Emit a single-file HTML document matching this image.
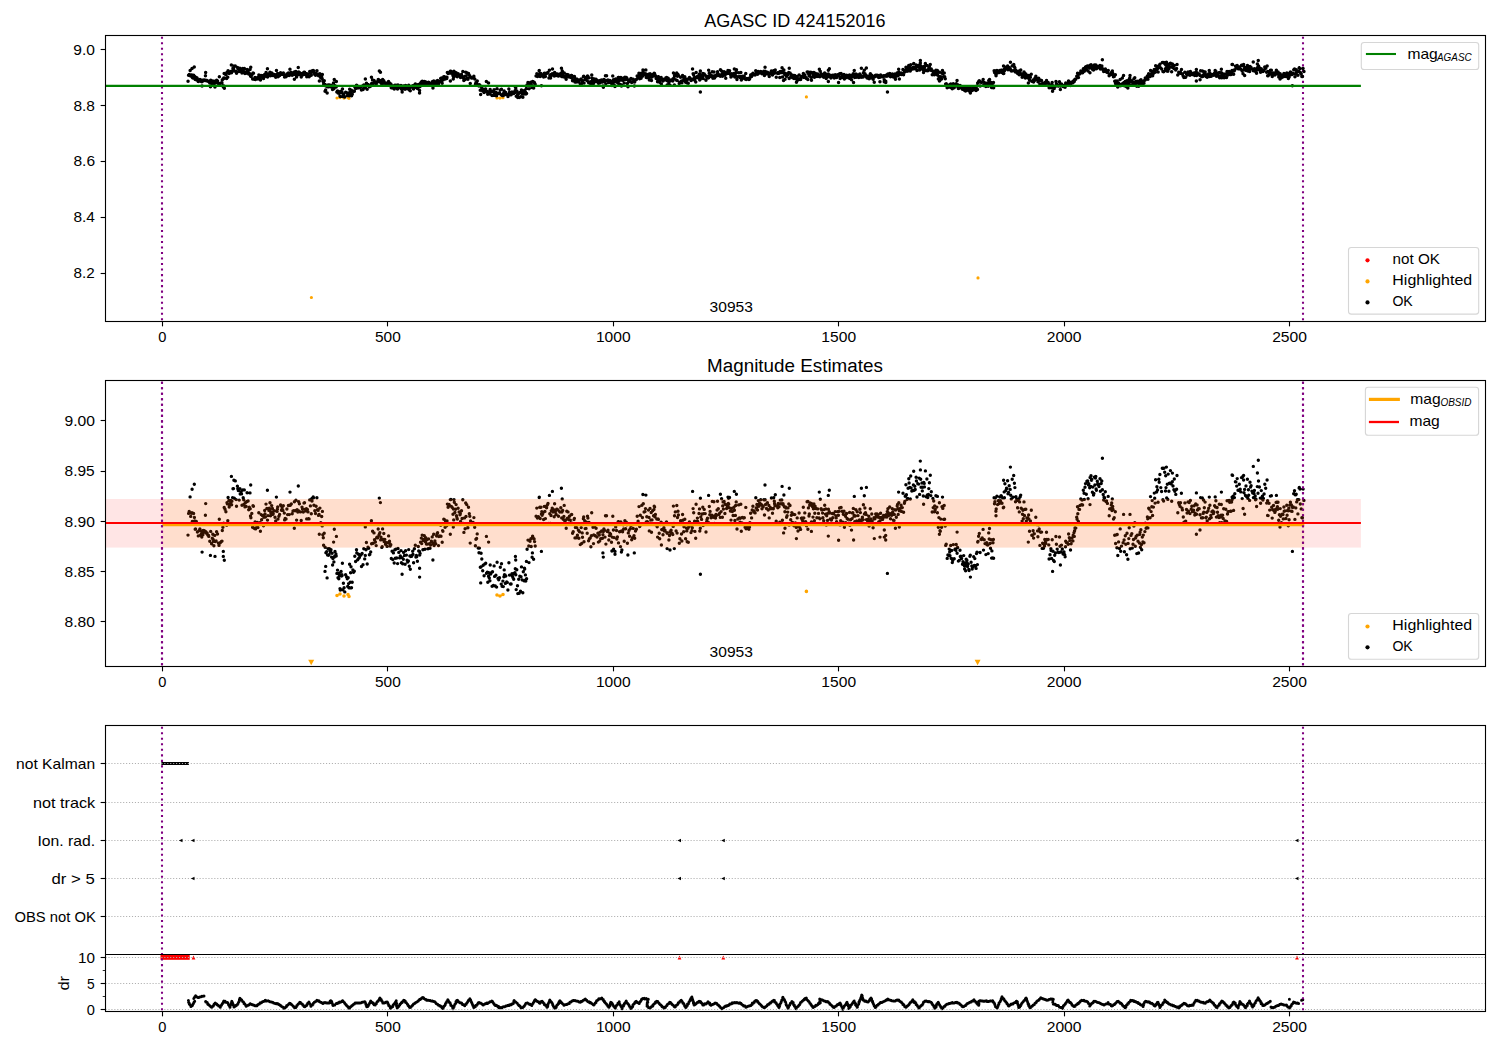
<!DOCTYPE html>
<html><head><meta charset="utf-8"><style>
html,body{margin:0;padding:0;background:#fff;}
svg{display:block;font-family:"Liberation Sans",sans-serif;}
</style></head><body>
<svg width="1500" height="1050" viewBox="0 0 1500 1050">
<rect width="1500" height="1050" fill="#fff"/>
<defs>
<clipPath id="c1"><rect x="105.5" y="35.5" width="1380.0" height="286.0"/></clipPath>
<clipPath id="c2"><rect x="105.5" y="380.5" width="1380.0" height="286.0"/></clipPath>
<clipPath id="c3"><rect x="105.5" y="725.5" width="1380.0" height="229.0"/></clipPath>
<clipPath id="c4"><rect x="105.5" y="954.5" width="1380.0" height="57.0"/></clipPath>
</defs>
<line x1="162.00" y1="36.70" x2="162.00" y2="321.50" stroke="#800080" stroke-width="2.08" stroke-dasharray="2.08 3.44"/>
<line x1="1303.00" y1="36.70" x2="1303.00" y2="321.50" stroke="#800080" stroke-width="2.08" stroke-dasharray="2.08 3.44"/>
<path d="M335.4 98.0a1.6 1.6 0 1 0 3.2 0a1.6 1.6 0 1 0 -3.2 0M338.4 97.6a1.6 1.6 0 1 0 3.2 0a1.6 1.6 0 1 0 -3.2 0M342.4 98.1a1.6 1.6 0 1 0 3.2 0a1.6 1.6 0 1 0 -3.2 0M346.4 97.7a1.6 1.6 0 1 0 3.2 0a1.6 1.6 0 1 0 -3.2 0M347.4 98.3a1.6 1.6 0 1 0 3.2 0a1.6 1.6 0 1 0 -3.2 0M495.4 97.9a1.6 1.6 0 1 0 3.2 0a1.6 1.6 0 1 0 -3.2 0M498.4 98.1a1.6 1.6 0 1 0 3.2 0a1.6 1.6 0 1 0 -3.2 0M501.4 97.7a1.6 1.6 0 1 0 3.2 0a1.6 1.6 0 1 0 -3.2 0M804.8 96.9a1.6 1.6 0 1 0 3.2 0a1.6 1.6 0 1 0 -3.2 0M309.8 297.5a1.6 1.6 0 1 0 3.2 0a1.6 1.6 0 1 0 -3.2 0M976.4 277.9a1.6 1.6 0 1 0 3.2 0a1.6 1.6 0 1 0 -3.2 0" fill="#ffa500" clip-path="url(#c1)"/>
<path d="M186.3 81.2a1.75 1.75 0 1 0 3.5 0a1.75 1.75 0 1 0 -3.5 0M186.8 75.2a1.75 1.75 0 1 0 3.5 0a1.75 1.75 0 1 0 -3.5 0M187.5 74.6a1.75 1.75 0 1 0 3.5 0a1.75 1.75 0 1 0 -3.5 0M188.4 70.6a1.75 1.75 0 1 0 3.5 0a1.75 1.75 0 1 0 -3.5 0M188.9 76.0a1.75 1.75 0 1 0 3.5 0a1.75 1.75 0 1 0 -3.5 0M189.5 75.1a1.75 1.75 0 1 0 3.5 0a1.75 1.75 0 1 0 -3.5 0M190.2 75.0a1.75 1.75 0 1 0 3.5 0a1.75 1.75 0 1 0 -3.5 0M190.6 77.4a1.75 1.75 0 1 0 3.5 0a1.75 1.75 0 1 0 -3.5 0M191.2 78.0a1.75 1.75 0 1 0 3.5 0a1.75 1.75 0 1 0 -3.5 0M191.9 75.2a1.75 1.75 0 1 0 3.5 0a1.75 1.75 0 1 0 -3.5 0M192.7 76.3a1.75 1.75 0 1 0 3.5 0a1.75 1.75 0 1 0 -3.5 0M193.0 77.3a1.75 1.75 0 1 0 3.5 0a1.75 1.75 0 1 0 -3.5 0M193.5 79.6a1.75 1.75 0 1 0 3.5 0a1.75 1.75 0 1 0 -3.5 0M193.8 79.5a1.75 1.75 0 1 0 3.5 0a1.75 1.75 0 1 0 -3.5 0M194.6 77.4a1.75 1.75 0 1 0 3.5 0a1.75 1.75 0 1 0 -3.5 0M195.3 78.0a1.75 1.75 0 1 0 3.5 0a1.75 1.75 0 1 0 -3.5 0M195.6 80.3a1.75 1.75 0 1 0 3.5 0a1.75 1.75 0 1 0 -3.5 0M196.5 81.4a1.75 1.75 0 1 0 3.5 0a1.75 1.75 0 1 0 -3.5 0M197.5 79.9a1.75 1.75 0 1 0 3.5 0a1.75 1.75 0 1 0 -3.5 0M198.2 79.5a1.75 1.75 0 1 0 3.5 0a1.75 1.75 0 1 0 -3.5 0M198.9 81.2a1.75 1.75 0 1 0 3.5 0a1.75 1.75 0 1 0 -3.5 0M199.2 80.1a1.75 1.75 0 1 0 3.5 0a1.75 1.75 0 1 0 -3.5 0M199.5 81.0a1.75 1.75 0 1 0 3.5 0a1.75 1.75 0 1 0 -3.5 0M200.1 81.7a1.75 1.75 0 1 0 3.5 0a1.75 1.75 0 1 0 -3.5 0M200.4 81.0a1.75 1.75 0 1 0 3.5 0a1.75 1.75 0 1 0 -3.5 0M200.8 80.5a1.75 1.75 0 1 0 3.5 0a1.75 1.75 0 1 0 -3.5 0M201.2 81.1a1.75 1.75 0 1 0 3.5 0a1.75 1.75 0 1 0 -3.5 0M201.5 79.9a1.75 1.75 0 1 0 3.5 0a1.75 1.75 0 1 0 -3.5 0M202.0 80.3a1.75 1.75 0 1 0 3.5 0a1.75 1.75 0 1 0 -3.5 0M202.6 80.0a1.75 1.75 0 1 0 3.5 0a1.75 1.75 0 1 0 -3.5 0M203.4 80.4a1.75 1.75 0 1 0 3.5 0a1.75 1.75 0 1 0 -3.5 0M204.0 80.2a1.75 1.75 0 1 0 3.5 0a1.75 1.75 0 1 0 -3.5 0M204.7 80.7a1.75 1.75 0 1 0 3.5 0a1.75 1.75 0 1 0 -3.5 0M205.3 80.6a1.75 1.75 0 1 0 3.5 0a1.75 1.75 0 1 0 -3.5 0M206.1 81.2a1.75 1.75 0 1 0 3.5 0a1.75 1.75 0 1 0 -3.5 0M206.6 81.3a1.75 1.75 0 1 0 3.5 0a1.75 1.75 0 1 0 -3.5 0M207.1 81.6a1.75 1.75 0 1 0 3.5 0a1.75 1.75 0 1 0 -3.5 0M208.0 82.9a1.75 1.75 0 1 0 3.5 0a1.75 1.75 0 1 0 -3.5 0M209.0 80.2a1.75 1.75 0 1 0 3.5 0a1.75 1.75 0 1 0 -3.5 0M209.8 83.6a1.75 1.75 0 1 0 3.5 0a1.75 1.75 0 1 0 -3.5 0M210.6 82.1a1.75 1.75 0 1 0 3.5 0a1.75 1.75 0 1 0 -3.5 0M211.0 81.0a1.75 1.75 0 1 0 3.5 0a1.75 1.75 0 1 0 -3.5 0M211.4 82.4a1.75 1.75 0 1 0 3.5 0a1.75 1.75 0 1 0 -3.5 0M211.9 82.9a1.75 1.75 0 1 0 3.5 0a1.75 1.75 0 1 0 -3.5 0M212.2 84.2a1.75 1.75 0 1 0 3.5 0a1.75 1.75 0 1 0 -3.5 0M213.0 81.3a1.75 1.75 0 1 0 3.5 0a1.75 1.75 0 1 0 -3.5 0M213.5 83.0a1.75 1.75 0 1 0 3.5 0a1.75 1.75 0 1 0 -3.5 0M214.3 82.8a1.75 1.75 0 1 0 3.5 0a1.75 1.75 0 1 0 -3.5 0M214.9 80.3a1.75 1.75 0 1 0 3.5 0a1.75 1.75 0 1 0 -3.5 0M215.8 80.9a1.75 1.75 0 1 0 3.5 0a1.75 1.75 0 1 0 -3.5 0M216.6 83.4a1.75 1.75 0 1 0 3.5 0a1.75 1.75 0 1 0 -3.5 0M216.9 83.6a1.75 1.75 0 1 0 3.5 0a1.75 1.75 0 1 0 -3.5 0M217.3 84.1a1.75 1.75 0 1 0 3.5 0a1.75 1.75 0 1 0 -3.5 0M218.2 83.4a1.75 1.75 0 1 0 3.5 0a1.75 1.75 0 1 0 -3.5 0M218.7 83.3a1.75 1.75 0 1 0 3.5 0a1.75 1.75 0 1 0 -3.5 0M219.7 83.0a1.75 1.75 0 1 0 3.5 0a1.75 1.75 0 1 0 -3.5 0M220.2 82.9a1.75 1.75 0 1 0 3.5 0a1.75 1.75 0 1 0 -3.5 0M220.5 79.9a1.75 1.75 0 1 0 3.5 0a1.75 1.75 0 1 0 -3.5 0M221.2 79.0a1.75 1.75 0 1 0 3.5 0a1.75 1.75 0 1 0 -3.5 0M222.0 77.9a1.75 1.75 0 1 0 3.5 0a1.75 1.75 0 1 0 -3.5 0M222.4 73.5a1.75 1.75 0 1 0 3.5 0a1.75 1.75 0 1 0 -3.5 0M222.7 78.2a1.75 1.75 0 1 0 3.5 0a1.75 1.75 0 1 0 -3.5 0M223.2 74.0a1.75 1.75 0 1 0 3.5 0a1.75 1.75 0 1 0 -3.5 0M224.2 74.7a1.75 1.75 0 1 0 3.5 0a1.75 1.75 0 1 0 -3.5 0M224.9 78.5a1.75 1.75 0 1 0 3.5 0a1.75 1.75 0 1 0 -3.5 0M225.3 72.2a1.75 1.75 0 1 0 3.5 0a1.75 1.75 0 1 0 -3.5 0M225.7 72.5a1.75 1.75 0 1 0 3.5 0a1.75 1.75 0 1 0 -3.5 0M226.0 77.2a1.75 1.75 0 1 0 3.5 0a1.75 1.75 0 1 0 -3.5 0M226.3 70.7a1.75 1.75 0 1 0 3.5 0a1.75 1.75 0 1 0 -3.5 0M227.1 71.6a1.75 1.75 0 1 0 3.5 0a1.75 1.75 0 1 0 -3.5 0M227.5 73.4a1.75 1.75 0 1 0 3.5 0a1.75 1.75 0 1 0 -3.5 0M228.1 72.6a1.75 1.75 0 1 0 3.5 0a1.75 1.75 0 1 0 -3.5 0M228.7 72.4a1.75 1.75 0 1 0 3.5 0a1.75 1.75 0 1 0 -3.5 0M229.1 71.5a1.75 1.75 0 1 0 3.5 0a1.75 1.75 0 1 0 -3.5 0M229.8 72.7a1.75 1.75 0 1 0 3.5 0a1.75 1.75 0 1 0 -3.5 0M230.2 71.8a1.75 1.75 0 1 0 3.5 0a1.75 1.75 0 1 0 -3.5 0M230.9 70.8a1.75 1.75 0 1 0 3.5 0a1.75 1.75 0 1 0 -3.5 0M231.2 68.3a1.75 1.75 0 1 0 3.5 0a1.75 1.75 0 1 0 -3.5 0M231.8 68.3a1.75 1.75 0 1 0 3.5 0a1.75 1.75 0 1 0 -3.5 0M232.2 66.0a1.75 1.75 0 1 0 3.5 0a1.75 1.75 0 1 0 -3.5 0M232.6 70.9a1.75 1.75 0 1 0 3.5 0a1.75 1.75 0 1 0 -3.5 0M233.5 66.1a1.75 1.75 0 1 0 3.5 0a1.75 1.75 0 1 0 -3.5 0M234.3 71.3a1.75 1.75 0 1 0 3.5 0a1.75 1.75 0 1 0 -3.5 0M234.8 73.2a1.75 1.75 0 1 0 3.5 0a1.75 1.75 0 1 0 -3.5 0M235.7 67.6a1.75 1.75 0 1 0 3.5 0a1.75 1.75 0 1 0 -3.5 0M236.1 68.3a1.75 1.75 0 1 0 3.5 0a1.75 1.75 0 1 0 -3.5 0M236.6 68.8a1.75 1.75 0 1 0 3.5 0a1.75 1.75 0 1 0 -3.5 0M237.4 71.5a1.75 1.75 0 1 0 3.5 0a1.75 1.75 0 1 0 -3.5 0M238.1 68.3a1.75 1.75 0 1 0 3.5 0a1.75 1.75 0 1 0 -3.5 0M238.5 69.8a1.75 1.75 0 1 0 3.5 0a1.75 1.75 0 1 0 -3.5 0M239.4 69.1a1.75 1.75 0 1 0 3.5 0a1.75 1.75 0 1 0 -3.5 0M239.8 69.7a1.75 1.75 0 1 0 3.5 0a1.75 1.75 0 1 0 -3.5 0M240.2 72.9a1.75 1.75 0 1 0 3.5 0a1.75 1.75 0 1 0 -3.5 0M241.0 68.6a1.75 1.75 0 1 0 3.5 0a1.75 1.75 0 1 0 -3.5 0M241.5 70.8a1.75 1.75 0 1 0 3.5 0a1.75 1.75 0 1 0 -3.5 0M242.0 71.4a1.75 1.75 0 1 0 3.5 0a1.75 1.75 0 1 0 -3.5 0M242.3 72.6a1.75 1.75 0 1 0 3.5 0a1.75 1.75 0 1 0 -3.5 0M242.6 68.6a1.75 1.75 0 1 0 3.5 0a1.75 1.75 0 1 0 -3.5 0M243.2 73.4a1.75 1.75 0 1 0 3.5 0a1.75 1.75 0 1 0 -3.5 0M243.6 72.2a1.75 1.75 0 1 0 3.5 0a1.75 1.75 0 1 0 -3.5 0M244.3 73.2a1.75 1.75 0 1 0 3.5 0a1.75 1.75 0 1 0 -3.5 0M244.8 71.9a1.75 1.75 0 1 0 3.5 0a1.75 1.75 0 1 0 -3.5 0M245.4 69.4a1.75 1.75 0 1 0 3.5 0a1.75 1.75 0 1 0 -3.5 0M246.3 71.7a1.75 1.75 0 1 0 3.5 0a1.75 1.75 0 1 0 -3.5 0M246.9 74.1a1.75 1.75 0 1 0 3.5 0a1.75 1.75 0 1 0 -3.5 0M247.6 73.5a1.75 1.75 0 1 0 3.5 0a1.75 1.75 0 1 0 -3.5 0M248.4 73.9a1.75 1.75 0 1 0 3.5 0a1.75 1.75 0 1 0 -3.5 0M248.8 75.9a1.75 1.75 0 1 0 3.5 0a1.75 1.75 0 1 0 -3.5 0M249.2 76.4a1.75 1.75 0 1 0 3.5 0a1.75 1.75 0 1 0 -3.5 0M250.0 75.2a1.75 1.75 0 1 0 3.5 0a1.75 1.75 0 1 0 -3.5 0M250.9 79.0a1.75 1.75 0 1 0 3.5 0a1.75 1.75 0 1 0 -3.5 0M251.3 73.1a1.75 1.75 0 1 0 3.5 0a1.75 1.75 0 1 0 -3.5 0M251.7 73.2a1.75 1.75 0 1 0 3.5 0a1.75 1.75 0 1 0 -3.5 0M252.4 79.3a1.75 1.75 0 1 0 3.5 0a1.75 1.75 0 1 0 -3.5 0M253.3 77.6a1.75 1.75 0 1 0 3.5 0a1.75 1.75 0 1 0 -3.5 0M253.7 79.5a1.75 1.75 0 1 0 3.5 0a1.75 1.75 0 1 0 -3.5 0M254.6 79.1a1.75 1.75 0 1 0 3.5 0a1.75 1.75 0 1 0 -3.5 0M255.5 77.7a1.75 1.75 0 1 0 3.5 0a1.75 1.75 0 1 0 -3.5 0M256.2 79.1a1.75 1.75 0 1 0 3.5 0a1.75 1.75 0 1 0 -3.5 0M256.7 78.0a1.75 1.75 0 1 0 3.5 0a1.75 1.75 0 1 0 -3.5 0M257.1 75.0a1.75 1.75 0 1 0 3.5 0a1.75 1.75 0 1 0 -3.5 0M257.3 78.0a1.75 1.75 0 1 0 3.5 0a1.75 1.75 0 1 0 -3.5 0M258.3 77.8a1.75 1.75 0 1 0 3.5 0a1.75 1.75 0 1 0 -3.5 0M258.7 80.1a1.75 1.75 0 1 0 3.5 0a1.75 1.75 0 1 0 -3.5 0M259.4 75.5a1.75 1.75 0 1 0 3.5 0a1.75 1.75 0 1 0 -3.5 0M259.8 76.9a1.75 1.75 0 1 0 3.5 0a1.75 1.75 0 1 0 -3.5 0M260.7 75.8a1.75 1.75 0 1 0 3.5 0a1.75 1.75 0 1 0 -3.5 0M261.3 75.8a1.75 1.75 0 1 0 3.5 0a1.75 1.75 0 1 0 -3.5 0M261.8 78.6a1.75 1.75 0 1 0 3.5 0a1.75 1.75 0 1 0 -3.5 0M262.2 76.2a1.75 1.75 0 1 0 3.5 0a1.75 1.75 0 1 0 -3.5 0M262.9 74.4a1.75 1.75 0 1 0 3.5 0a1.75 1.75 0 1 0 -3.5 0M263.2 75.3a1.75 1.75 0 1 0 3.5 0a1.75 1.75 0 1 0 -3.5 0M263.6 76.2a1.75 1.75 0 1 0 3.5 0a1.75 1.75 0 1 0 -3.5 0M264.3 72.6a1.75 1.75 0 1 0 3.5 0a1.75 1.75 0 1 0 -3.5 0M265.1 73.8a1.75 1.75 0 1 0 3.5 0a1.75 1.75 0 1 0 -3.5 0M265.8 77.0a1.75 1.75 0 1 0 3.5 0a1.75 1.75 0 1 0 -3.5 0M266.2 75.8a1.75 1.75 0 1 0 3.5 0a1.75 1.75 0 1 0 -3.5 0M267.1 74.3a1.75 1.75 0 1 0 3.5 0a1.75 1.75 0 1 0 -3.5 0M267.5 73.7a1.75 1.75 0 1 0 3.5 0a1.75 1.75 0 1 0 -3.5 0M267.8 74.2a1.75 1.75 0 1 0 3.5 0a1.75 1.75 0 1 0 -3.5 0M268.2 72.2a1.75 1.75 0 1 0 3.5 0a1.75 1.75 0 1 0 -3.5 0M268.8 75.8a1.75 1.75 0 1 0 3.5 0a1.75 1.75 0 1 0 -3.5 0M269.1 75.0a1.75 1.75 0 1 0 3.5 0a1.75 1.75 0 1 0 -3.5 0M269.5 74.7a1.75 1.75 0 1 0 3.5 0a1.75 1.75 0 1 0 -3.5 0M270.0 73.0a1.75 1.75 0 1 0 3.5 0a1.75 1.75 0 1 0 -3.5 0M270.6 73.8a1.75 1.75 0 1 0 3.5 0a1.75 1.75 0 1 0 -3.5 0M271.0 75.4a1.75 1.75 0 1 0 3.5 0a1.75 1.75 0 1 0 -3.5 0M271.5 75.3a1.75 1.75 0 1 0 3.5 0a1.75 1.75 0 1 0 -3.5 0M272.3 74.4a1.75 1.75 0 1 0 3.5 0a1.75 1.75 0 1 0 -3.5 0M273.3 76.3a1.75 1.75 0 1 0 3.5 0a1.75 1.75 0 1 0 -3.5 0M274.0 77.3a1.75 1.75 0 1 0 3.5 0a1.75 1.75 0 1 0 -3.5 0M274.7 74.5a1.75 1.75 0 1 0 3.5 0a1.75 1.75 0 1 0 -3.5 0M275.4 74.6a1.75 1.75 0 1 0 3.5 0a1.75 1.75 0 1 0 -3.5 0M275.7 73.9a1.75 1.75 0 1 0 3.5 0a1.75 1.75 0 1 0 -3.5 0M276.0 73.4a1.75 1.75 0 1 0 3.5 0a1.75 1.75 0 1 0 -3.5 0M276.3 76.7a1.75 1.75 0 1 0 3.5 0a1.75 1.75 0 1 0 -3.5 0M277.1 76.0a1.75 1.75 0 1 0 3.5 0a1.75 1.75 0 1 0 -3.5 0M277.9 75.4a1.75 1.75 0 1 0 3.5 0a1.75 1.75 0 1 0 -3.5 0M278.8 72.8a1.75 1.75 0 1 0 3.5 0a1.75 1.75 0 1 0 -3.5 0M279.1 73.0a1.75 1.75 0 1 0 3.5 0a1.75 1.75 0 1 0 -3.5 0M279.8 74.3a1.75 1.75 0 1 0 3.5 0a1.75 1.75 0 1 0 -3.5 0M280.4 73.6a1.75 1.75 0 1 0 3.5 0a1.75 1.75 0 1 0 -3.5 0M281.1 74.3a1.75 1.75 0 1 0 3.5 0a1.75 1.75 0 1 0 -3.5 0M281.6 73.0a1.75 1.75 0 1 0 3.5 0a1.75 1.75 0 1 0 -3.5 0M282.5 75.1a1.75 1.75 0 1 0 3.5 0a1.75 1.75 0 1 0 -3.5 0M282.8 77.0a1.75 1.75 0 1 0 3.5 0a1.75 1.75 0 1 0 -3.5 0M283.5 76.6a1.75 1.75 0 1 0 3.5 0a1.75 1.75 0 1 0 -3.5 0M284.2 76.7a1.75 1.75 0 1 0 3.5 0a1.75 1.75 0 1 0 -3.5 0M285.1 73.9a1.75 1.75 0 1 0 3.5 0a1.75 1.75 0 1 0 -3.5 0M285.9 75.5a1.75 1.75 0 1 0 3.5 0a1.75 1.75 0 1 0 -3.5 0M286.6 73.0a1.75 1.75 0 1 0 3.5 0a1.75 1.75 0 1 0 -3.5 0M287.4 75.5a1.75 1.75 0 1 0 3.5 0a1.75 1.75 0 1 0 -3.5 0M288.3 72.9a1.75 1.75 0 1 0 3.5 0a1.75 1.75 0 1 0 -3.5 0M288.8 72.8a1.75 1.75 0 1 0 3.5 0a1.75 1.75 0 1 0 -3.5 0M289.6 72.5a1.75 1.75 0 1 0 3.5 0a1.75 1.75 0 1 0 -3.5 0M290.4 75.3a1.75 1.75 0 1 0 3.5 0a1.75 1.75 0 1 0 -3.5 0M291.3 74.5a1.75 1.75 0 1 0 3.5 0a1.75 1.75 0 1 0 -3.5 0M291.8 74.4a1.75 1.75 0 1 0 3.5 0a1.75 1.75 0 1 0 -3.5 0M292.6 71.9a1.75 1.75 0 1 0 3.5 0a1.75 1.75 0 1 0 -3.5 0M293.5 74.4a1.75 1.75 0 1 0 3.5 0a1.75 1.75 0 1 0 -3.5 0M294.1 71.5a1.75 1.75 0 1 0 3.5 0a1.75 1.75 0 1 0 -3.5 0M294.8 77.0a1.75 1.75 0 1 0 3.5 0a1.75 1.75 0 1 0 -3.5 0M295.4 74.2a1.75 1.75 0 1 0 3.5 0a1.75 1.75 0 1 0 -3.5 0M296.0 74.8a1.75 1.75 0 1 0 3.5 0a1.75 1.75 0 1 0 -3.5 0M296.7 74.4a1.75 1.75 0 1 0 3.5 0a1.75 1.75 0 1 0 -3.5 0M297.0 71.9a1.75 1.75 0 1 0 3.5 0a1.75 1.75 0 1 0 -3.5 0M297.7 72.5a1.75 1.75 0 1 0 3.5 0a1.75 1.75 0 1 0 -3.5 0M298.6 74.8a1.75 1.75 0 1 0 3.5 0a1.75 1.75 0 1 0 -3.5 0M299.5 77.1a1.75 1.75 0 1 0 3.5 0a1.75 1.75 0 1 0 -3.5 0M300.3 73.4a1.75 1.75 0 1 0 3.5 0a1.75 1.75 0 1 0 -3.5 0M300.8 73.9a1.75 1.75 0 1 0 3.5 0a1.75 1.75 0 1 0 -3.5 0M301.5 74.8a1.75 1.75 0 1 0 3.5 0a1.75 1.75 0 1 0 -3.5 0M302.2 72.3a1.75 1.75 0 1 0 3.5 0a1.75 1.75 0 1 0 -3.5 0M302.8 72.2a1.75 1.75 0 1 0 3.5 0a1.75 1.75 0 1 0 -3.5 0M303.6 74.0a1.75 1.75 0 1 0 3.5 0a1.75 1.75 0 1 0 -3.5 0M303.9 74.5a1.75 1.75 0 1 0 3.5 0a1.75 1.75 0 1 0 -3.5 0M304.7 73.8a1.75 1.75 0 1 0 3.5 0a1.75 1.75 0 1 0 -3.5 0M305.0 76.7a1.75 1.75 0 1 0 3.5 0a1.75 1.75 0 1 0 -3.5 0M305.6 74.0a1.75 1.75 0 1 0 3.5 0a1.75 1.75 0 1 0 -3.5 0M306.2 74.8a1.75 1.75 0 1 0 3.5 0a1.75 1.75 0 1 0 -3.5 0M306.6 76.6a1.75 1.75 0 1 0 3.5 0a1.75 1.75 0 1 0 -3.5 0M307.4 76.7a1.75 1.75 0 1 0 3.5 0a1.75 1.75 0 1 0 -3.5 0M308.0 71.4a1.75 1.75 0 1 0 3.5 0a1.75 1.75 0 1 0 -3.5 0M308.6 73.1a1.75 1.75 0 1 0 3.5 0a1.75 1.75 0 1 0 -3.5 0M309.5 75.3a1.75 1.75 0 1 0 3.5 0a1.75 1.75 0 1 0 -3.5 0M310.0 71.1a1.75 1.75 0 1 0 3.5 0a1.75 1.75 0 1 0 -3.5 0M310.2 71.7a1.75 1.75 0 1 0 3.5 0a1.75 1.75 0 1 0 -3.5 0M310.7 70.9a1.75 1.75 0 1 0 3.5 0a1.75 1.75 0 1 0 -3.5 0M311.4 70.6a1.75 1.75 0 1 0 3.5 0a1.75 1.75 0 1 0 -3.5 0M311.8 70.8a1.75 1.75 0 1 0 3.5 0a1.75 1.75 0 1 0 -3.5 0M312.2 72.9a1.75 1.75 0 1 0 3.5 0a1.75 1.75 0 1 0 -3.5 0M313.0 74.4a1.75 1.75 0 1 0 3.5 0a1.75 1.75 0 1 0 -3.5 0M313.8 75.2a1.75 1.75 0 1 0 3.5 0a1.75 1.75 0 1 0 -3.5 0M314.3 73.2a1.75 1.75 0 1 0 3.5 0a1.75 1.75 0 1 0 -3.5 0M315.2 70.8a1.75 1.75 0 1 0 3.5 0a1.75 1.75 0 1 0 -3.5 0M315.7 74.2a1.75 1.75 0 1 0 3.5 0a1.75 1.75 0 1 0 -3.5 0M316.4 74.3a1.75 1.75 0 1 0 3.5 0a1.75 1.75 0 1 0 -3.5 0M316.8 75.7a1.75 1.75 0 1 0 3.5 0a1.75 1.75 0 1 0 -3.5 0M317.3 75.5a1.75 1.75 0 1 0 3.5 0a1.75 1.75 0 1 0 -3.5 0M318.1 73.7a1.75 1.75 0 1 0 3.5 0a1.75 1.75 0 1 0 -3.5 0M319.0 77.7a1.75 1.75 0 1 0 3.5 0a1.75 1.75 0 1 0 -3.5 0M319.9 76.0a1.75 1.75 0 1 0 3.5 0a1.75 1.75 0 1 0 -3.5 0M320.4 78.6a1.75 1.75 0 1 0 3.5 0a1.75 1.75 0 1 0 -3.5 0M321.1 81.1a1.75 1.75 0 1 0 3.5 0a1.75 1.75 0 1 0 -3.5 0M321.6 82.0a1.75 1.75 0 1 0 3.5 0a1.75 1.75 0 1 0 -3.5 0M321.9 84.0a1.75 1.75 0 1 0 3.5 0a1.75 1.75 0 1 0 -3.5 0M322.5 80.7a1.75 1.75 0 1 0 3.5 0a1.75 1.75 0 1 0 -3.5 0M323.3 84.6a1.75 1.75 0 1 0 3.5 0a1.75 1.75 0 1 0 -3.5 0M324.2 86.1a1.75 1.75 0 1 0 3.5 0a1.75 1.75 0 1 0 -3.5 0M324.9 85.8a1.75 1.75 0 1 0 3.5 0a1.75 1.75 0 1 0 -3.5 0M325.8 86.8a1.75 1.75 0 1 0 3.5 0a1.75 1.75 0 1 0 -3.5 0M326.3 85.0a1.75 1.75 0 1 0 3.5 0a1.75 1.75 0 1 0 -3.5 0M326.6 86.8a1.75 1.75 0 1 0 3.5 0a1.75 1.75 0 1 0 -3.5 0M327.2 86.7a1.75 1.75 0 1 0 3.5 0a1.75 1.75 0 1 0 -3.5 0M327.7 85.0a1.75 1.75 0 1 0 3.5 0a1.75 1.75 0 1 0 -3.5 0M328.1 85.3a1.75 1.75 0 1 0 3.5 0a1.75 1.75 0 1 0 -3.5 0M328.6 85.9a1.75 1.75 0 1 0 3.5 0a1.75 1.75 0 1 0 -3.5 0M329.3 85.3a1.75 1.75 0 1 0 3.5 0a1.75 1.75 0 1 0 -3.5 0M329.9 87.3a1.75 1.75 0 1 0 3.5 0a1.75 1.75 0 1 0 -3.5 0M330.3 86.3a1.75 1.75 0 1 0 3.5 0a1.75 1.75 0 1 0 -3.5 0M331.2 87.7a1.75 1.75 0 1 0 3.5 0a1.75 1.75 0 1 0 -3.5 0M332.1 88.7a1.75 1.75 0 1 0 3.5 0a1.75 1.75 0 1 0 -3.5 0M332.7 87.3a1.75 1.75 0 1 0 3.5 0a1.75 1.75 0 1 0 -3.5 0M333.0 87.1a1.75 1.75 0 1 0 3.5 0a1.75 1.75 0 1 0 -3.5 0M333.3 85.8a1.75 1.75 0 1 0 3.5 0a1.75 1.75 0 1 0 -3.5 0M334.1 86.5a1.75 1.75 0 1 0 3.5 0a1.75 1.75 0 1 0 -3.5 0M334.4 87.0a1.75 1.75 0 1 0 3.5 0a1.75 1.75 0 1 0 -3.5 0M335.1 91.9a1.75 1.75 0 1 0 3.5 0a1.75 1.75 0 1 0 -3.5 0M335.8 90.9a1.75 1.75 0 1 0 3.5 0a1.75 1.75 0 1 0 -3.5 0M336.3 93.0a1.75 1.75 0 1 0 3.5 0a1.75 1.75 0 1 0 -3.5 0M337.1 93.3a1.75 1.75 0 1 0 3.5 0a1.75 1.75 0 1 0 -3.5 0M337.3 91.8a1.75 1.75 0 1 0 3.5 0a1.75 1.75 0 1 0 -3.5 0M337.7 92.5a1.75 1.75 0 1 0 3.5 0a1.75 1.75 0 1 0 -3.5 0M338.2 96.1a1.75 1.75 0 1 0 3.5 0a1.75 1.75 0 1 0 -3.5 0M338.5 96.5a1.75 1.75 0 1 0 3.5 0a1.75 1.75 0 1 0 -3.5 0M339.3 91.3a1.75 1.75 0 1 0 3.5 0a1.75 1.75 0 1 0 -3.5 0M339.8 92.6a1.75 1.75 0 1 0 3.5 0a1.75 1.75 0 1 0 -3.5 0M340.1 92.2a1.75 1.75 0 1 0 3.5 0a1.75 1.75 0 1 0 -3.5 0M340.4 92.4a1.75 1.75 0 1 0 3.5 0a1.75 1.75 0 1 0 -3.5 0M341.1 96.4a1.75 1.75 0 1 0 3.5 0a1.75 1.75 0 1 0 -3.5 0M341.6 94.6a1.75 1.75 0 1 0 3.5 0a1.75 1.75 0 1 0 -3.5 0M342.3 95.8a1.75 1.75 0 1 0 3.5 0a1.75 1.75 0 1 0 -3.5 0M343.0 97.0a1.75 1.75 0 1 0 3.5 0a1.75 1.75 0 1 0 -3.5 0M343.9 92.2a1.75 1.75 0 1 0 3.5 0a1.75 1.75 0 1 0 -3.5 0M344.8 92.8a1.75 1.75 0 1 0 3.5 0a1.75 1.75 0 1 0 -3.5 0M345.5 93.3a1.75 1.75 0 1 0 3.5 0a1.75 1.75 0 1 0 -3.5 0M345.9 95.5a1.75 1.75 0 1 0 3.5 0a1.75 1.75 0 1 0 -3.5 0M346.5 93.1a1.75 1.75 0 1 0 3.5 0a1.75 1.75 0 1 0 -3.5 0M346.9 94.7a1.75 1.75 0 1 0 3.5 0a1.75 1.75 0 1 0 -3.5 0M347.1 95.8a1.75 1.75 0 1 0 3.5 0a1.75 1.75 0 1 0 -3.5 0M347.7 95.8a1.75 1.75 0 1 0 3.5 0a1.75 1.75 0 1 0 -3.5 0M348.4 94.3a1.75 1.75 0 1 0 3.5 0a1.75 1.75 0 1 0 -3.5 0M348.8 91.6a1.75 1.75 0 1 0 3.5 0a1.75 1.75 0 1 0 -3.5 0M349.3 90.0a1.75 1.75 0 1 0 3.5 0a1.75 1.75 0 1 0 -3.5 0M349.8 95.8a1.75 1.75 0 1 0 3.5 0a1.75 1.75 0 1 0 -3.5 0M350.5 94.3a1.75 1.75 0 1 0 3.5 0a1.75 1.75 0 1 0 -3.5 0M351.1 90.9a1.75 1.75 0 1 0 3.5 0a1.75 1.75 0 1 0 -3.5 0M351.8 91.5a1.75 1.75 0 1 0 3.5 0a1.75 1.75 0 1 0 -3.5 0M352.6 91.3a1.75 1.75 0 1 0 3.5 0a1.75 1.75 0 1 0 -3.5 0M353.1 87.1a1.75 1.75 0 1 0 3.5 0a1.75 1.75 0 1 0 -3.5 0M353.9 88.5a1.75 1.75 0 1 0 3.5 0a1.75 1.75 0 1 0 -3.5 0M354.8 85.3a1.75 1.75 0 1 0 3.5 0a1.75 1.75 0 1 0 -3.5 0M355.1 86.2a1.75 1.75 0 1 0 3.5 0a1.75 1.75 0 1 0 -3.5 0M356.0 88.0a1.75 1.75 0 1 0 3.5 0a1.75 1.75 0 1 0 -3.5 0M356.8 86.5a1.75 1.75 0 1 0 3.5 0a1.75 1.75 0 1 0 -3.5 0M357.1 87.7a1.75 1.75 0 1 0 3.5 0a1.75 1.75 0 1 0 -3.5 0M357.7 87.4a1.75 1.75 0 1 0 3.5 0a1.75 1.75 0 1 0 -3.5 0M358.3 86.7a1.75 1.75 0 1 0 3.5 0a1.75 1.75 0 1 0 -3.5 0M359.2 86.7a1.75 1.75 0 1 0 3.5 0a1.75 1.75 0 1 0 -3.5 0M359.7 89.9a1.75 1.75 0 1 0 3.5 0a1.75 1.75 0 1 0 -3.5 0M360.4 86.3a1.75 1.75 0 1 0 3.5 0a1.75 1.75 0 1 0 -3.5 0M361.3 89.4a1.75 1.75 0 1 0 3.5 0a1.75 1.75 0 1 0 -3.5 0M362.1 85.0a1.75 1.75 0 1 0 3.5 0a1.75 1.75 0 1 0 -3.5 0M363.0 87.8a1.75 1.75 0 1 0 3.5 0a1.75 1.75 0 1 0 -3.5 0M363.6 86.8a1.75 1.75 0 1 0 3.5 0a1.75 1.75 0 1 0 -3.5 0M364.3 85.3a1.75 1.75 0 1 0 3.5 0a1.75 1.75 0 1 0 -3.5 0M364.7 83.2a1.75 1.75 0 1 0 3.5 0a1.75 1.75 0 1 0 -3.5 0M365.4 89.2a1.75 1.75 0 1 0 3.5 0a1.75 1.75 0 1 0 -3.5 0M366.2 84.5a1.75 1.75 0 1 0 3.5 0a1.75 1.75 0 1 0 -3.5 0M366.9 84.9a1.75 1.75 0 1 0 3.5 0a1.75 1.75 0 1 0 -3.5 0M367.7 86.7a1.75 1.75 0 1 0 3.5 0a1.75 1.75 0 1 0 -3.5 0M368.1 86.6a1.75 1.75 0 1 0 3.5 0a1.75 1.75 0 1 0 -3.5 0M369.0 85.9a1.75 1.75 0 1 0 3.5 0a1.75 1.75 0 1 0 -3.5 0M369.9 83.6a1.75 1.75 0 1 0 3.5 0a1.75 1.75 0 1 0 -3.5 0M370.8 80.1a1.75 1.75 0 1 0 3.5 0a1.75 1.75 0 1 0 -3.5 0M371.5 83.5a1.75 1.75 0 1 0 3.5 0a1.75 1.75 0 1 0 -3.5 0M372.3 80.6a1.75 1.75 0 1 0 3.5 0a1.75 1.75 0 1 0 -3.5 0M372.7 82.5a1.75 1.75 0 1 0 3.5 0a1.75 1.75 0 1 0 -3.5 0M373.6 83.1a1.75 1.75 0 1 0 3.5 0a1.75 1.75 0 1 0 -3.5 0M374.5 84.1a1.75 1.75 0 1 0 3.5 0a1.75 1.75 0 1 0 -3.5 0M375.0 81.9a1.75 1.75 0 1 0 3.5 0a1.75 1.75 0 1 0 -3.5 0M375.3 81.8a1.75 1.75 0 1 0 3.5 0a1.75 1.75 0 1 0 -3.5 0M375.8 82.0a1.75 1.75 0 1 0 3.5 0a1.75 1.75 0 1 0 -3.5 0M376.5 79.5a1.75 1.75 0 1 0 3.5 0a1.75 1.75 0 1 0 -3.5 0M377.3 81.2a1.75 1.75 0 1 0 3.5 0a1.75 1.75 0 1 0 -3.5 0M377.8 80.8a1.75 1.75 0 1 0 3.5 0a1.75 1.75 0 1 0 -3.5 0M378.1 80.6a1.75 1.75 0 1 0 3.5 0a1.75 1.75 0 1 0 -3.5 0M378.9 82.5a1.75 1.75 0 1 0 3.5 0a1.75 1.75 0 1 0 -3.5 0M379.2 81.8a1.75 1.75 0 1 0 3.5 0a1.75 1.75 0 1 0 -3.5 0M380.0 84.6a1.75 1.75 0 1 0 3.5 0a1.75 1.75 0 1 0 -3.5 0M380.4 84.4a1.75 1.75 0 1 0 3.5 0a1.75 1.75 0 1 0 -3.5 0M380.9 79.5a1.75 1.75 0 1 0 3.5 0a1.75 1.75 0 1 0 -3.5 0M381.7 82.4a1.75 1.75 0 1 0 3.5 0a1.75 1.75 0 1 0 -3.5 0M382.0 80.7a1.75 1.75 0 1 0 3.5 0a1.75 1.75 0 1 0 -3.5 0M382.4 83.0a1.75 1.75 0 1 0 3.5 0a1.75 1.75 0 1 0 -3.5 0M383.0 82.4a1.75 1.75 0 1 0 3.5 0a1.75 1.75 0 1 0 -3.5 0M383.8 83.8a1.75 1.75 0 1 0 3.5 0a1.75 1.75 0 1 0 -3.5 0M384.6 83.3a1.75 1.75 0 1 0 3.5 0a1.75 1.75 0 1 0 -3.5 0M385.3 84.3a1.75 1.75 0 1 0 3.5 0a1.75 1.75 0 1 0 -3.5 0M386.2 83.3a1.75 1.75 0 1 0 3.5 0a1.75 1.75 0 1 0 -3.5 0M386.8 81.4a1.75 1.75 0 1 0 3.5 0a1.75 1.75 0 1 0 -3.5 0M387.8 82.9a1.75 1.75 0 1 0 3.5 0a1.75 1.75 0 1 0 -3.5 0M388.1 83.6a1.75 1.75 0 1 0 3.5 0a1.75 1.75 0 1 0 -3.5 0M388.5 84.3a1.75 1.75 0 1 0 3.5 0a1.75 1.75 0 1 0 -3.5 0M389.1 83.9a1.75 1.75 0 1 0 3.5 0a1.75 1.75 0 1 0 -3.5 0M389.5 87.7a1.75 1.75 0 1 0 3.5 0a1.75 1.75 0 1 0 -3.5 0M390.3 85.7a1.75 1.75 0 1 0 3.5 0a1.75 1.75 0 1 0 -3.5 0M391.0 88.0a1.75 1.75 0 1 0 3.5 0a1.75 1.75 0 1 0 -3.5 0M391.6 86.2a1.75 1.75 0 1 0 3.5 0a1.75 1.75 0 1 0 -3.5 0M392.5 89.0a1.75 1.75 0 1 0 3.5 0a1.75 1.75 0 1 0 -3.5 0M393.1 85.3a1.75 1.75 0 1 0 3.5 0a1.75 1.75 0 1 0 -3.5 0M393.6 87.7a1.75 1.75 0 1 0 3.5 0a1.75 1.75 0 1 0 -3.5 0M394.1 85.2a1.75 1.75 0 1 0 3.5 0a1.75 1.75 0 1 0 -3.5 0M394.9 87.6a1.75 1.75 0 1 0 3.5 0a1.75 1.75 0 1 0 -3.5 0M395.8 89.1a1.75 1.75 0 1 0 3.5 0a1.75 1.75 0 1 0 -3.5 0M396.2 84.9a1.75 1.75 0 1 0 3.5 0a1.75 1.75 0 1 0 -3.5 0M397.1 86.0a1.75 1.75 0 1 0 3.5 0a1.75 1.75 0 1 0 -3.5 0M398.0 87.5a1.75 1.75 0 1 0 3.5 0a1.75 1.75 0 1 0 -3.5 0M398.6 87.0a1.75 1.75 0 1 0 3.5 0a1.75 1.75 0 1 0 -3.5 0M399.2 85.5a1.75 1.75 0 1 0 3.5 0a1.75 1.75 0 1 0 -3.5 0M399.6 88.9a1.75 1.75 0 1 0 3.5 0a1.75 1.75 0 1 0 -3.5 0M400.3 87.5a1.75 1.75 0 1 0 3.5 0a1.75 1.75 0 1 0 -3.5 0M400.9 89.1a1.75 1.75 0 1 0 3.5 0a1.75 1.75 0 1 0 -3.5 0M401.5 87.9a1.75 1.75 0 1 0 3.5 0a1.75 1.75 0 1 0 -3.5 0M401.8 86.0a1.75 1.75 0 1 0 3.5 0a1.75 1.75 0 1 0 -3.5 0M402.7 86.8a1.75 1.75 0 1 0 3.5 0a1.75 1.75 0 1 0 -3.5 0M403.3 89.3a1.75 1.75 0 1 0 3.5 0a1.75 1.75 0 1 0 -3.5 0M403.9 85.6a1.75 1.75 0 1 0 3.5 0a1.75 1.75 0 1 0 -3.5 0M404.7 86.8a1.75 1.75 0 1 0 3.5 0a1.75 1.75 0 1 0 -3.5 0M405.3 88.2a1.75 1.75 0 1 0 3.5 0a1.75 1.75 0 1 0 -3.5 0M405.9 88.7a1.75 1.75 0 1 0 3.5 0a1.75 1.75 0 1 0 -3.5 0M406.7 88.4a1.75 1.75 0 1 0 3.5 0a1.75 1.75 0 1 0 -3.5 0M407.0 85.2a1.75 1.75 0 1 0 3.5 0a1.75 1.75 0 1 0 -3.5 0M407.6 89.9a1.75 1.75 0 1 0 3.5 0a1.75 1.75 0 1 0 -3.5 0M408.1 87.0a1.75 1.75 0 1 0 3.5 0a1.75 1.75 0 1 0 -3.5 0M409.0 87.2a1.75 1.75 0 1 0 3.5 0a1.75 1.75 0 1 0 -3.5 0M409.9 87.1a1.75 1.75 0 1 0 3.5 0a1.75 1.75 0 1 0 -3.5 0M410.4 86.8a1.75 1.75 0 1 0 3.5 0a1.75 1.75 0 1 0 -3.5 0M411.0 85.7a1.75 1.75 0 1 0 3.5 0a1.75 1.75 0 1 0 -3.5 0M411.3 86.6a1.75 1.75 0 1 0 3.5 0a1.75 1.75 0 1 0 -3.5 0M411.8 88.9a1.75 1.75 0 1 0 3.5 0a1.75 1.75 0 1 0 -3.5 0M412.7 85.0a1.75 1.75 0 1 0 3.5 0a1.75 1.75 0 1 0 -3.5 0M413.6 84.0a1.75 1.75 0 1 0 3.5 0a1.75 1.75 0 1 0 -3.5 0M414.1 87.3a1.75 1.75 0 1 0 3.5 0a1.75 1.75 0 1 0 -3.5 0M414.6 86.8a1.75 1.75 0 1 0 3.5 0a1.75 1.75 0 1 0 -3.5 0M415.0 87.2a1.75 1.75 0 1 0 3.5 0a1.75 1.75 0 1 0 -3.5 0M415.7 88.4a1.75 1.75 0 1 0 3.5 0a1.75 1.75 0 1 0 -3.5 0M416.6 84.4a1.75 1.75 0 1 0 3.5 0a1.75 1.75 0 1 0 -3.5 0M416.9 85.6a1.75 1.75 0 1 0 3.5 0a1.75 1.75 0 1 0 -3.5 0M417.7 85.8a1.75 1.75 0 1 0 3.5 0a1.75 1.75 0 1 0 -3.5 0M418.0 86.8a1.75 1.75 0 1 0 3.5 0a1.75 1.75 0 1 0 -3.5 0M418.4 86.3a1.75 1.75 0 1 0 3.5 0a1.75 1.75 0 1 0 -3.5 0M418.8 83.2a1.75 1.75 0 1 0 3.5 0a1.75 1.75 0 1 0 -3.5 0M419.5 82.0a1.75 1.75 0 1 0 3.5 0a1.75 1.75 0 1 0 -3.5 0M420.0 83.6a1.75 1.75 0 1 0 3.5 0a1.75 1.75 0 1 0 -3.5 0M420.5 81.2a1.75 1.75 0 1 0 3.5 0a1.75 1.75 0 1 0 -3.5 0M421.2 85.3a1.75 1.75 0 1 0 3.5 0a1.75 1.75 0 1 0 -3.5 0M421.5 82.7a1.75 1.75 0 1 0 3.5 0a1.75 1.75 0 1 0 -3.5 0M422.2 82.4a1.75 1.75 0 1 0 3.5 0a1.75 1.75 0 1 0 -3.5 0M422.6 81.4a1.75 1.75 0 1 0 3.5 0a1.75 1.75 0 1 0 -3.5 0M423.2 85.1a1.75 1.75 0 1 0 3.5 0a1.75 1.75 0 1 0 -3.5 0M423.6 83.1a1.75 1.75 0 1 0 3.5 0a1.75 1.75 0 1 0 -3.5 0M424.0 81.9a1.75 1.75 0 1 0 3.5 0a1.75 1.75 0 1 0 -3.5 0M424.6 83.7a1.75 1.75 0 1 0 3.5 0a1.75 1.75 0 1 0 -3.5 0M425.2 82.5a1.75 1.75 0 1 0 3.5 0a1.75 1.75 0 1 0 -3.5 0M425.7 83.7a1.75 1.75 0 1 0 3.5 0a1.75 1.75 0 1 0 -3.5 0M426.2 85.0a1.75 1.75 0 1 0 3.5 0a1.75 1.75 0 1 0 -3.5 0M426.8 82.3a1.75 1.75 0 1 0 3.5 0a1.75 1.75 0 1 0 -3.5 0M427.2 83.7a1.75 1.75 0 1 0 3.5 0a1.75 1.75 0 1 0 -3.5 0M427.6 83.6a1.75 1.75 0 1 0 3.5 0a1.75 1.75 0 1 0 -3.5 0M428.3 84.9a1.75 1.75 0 1 0 3.5 0a1.75 1.75 0 1 0 -3.5 0M429.0 83.9a1.75 1.75 0 1 0 3.5 0a1.75 1.75 0 1 0 -3.5 0M429.6 82.9a1.75 1.75 0 1 0 3.5 0a1.75 1.75 0 1 0 -3.5 0M430.5 81.7a1.75 1.75 0 1 0 3.5 0a1.75 1.75 0 1 0 -3.5 0M431.1 83.5a1.75 1.75 0 1 0 3.5 0a1.75 1.75 0 1 0 -3.5 0M432.0 80.9a1.75 1.75 0 1 0 3.5 0a1.75 1.75 0 1 0 -3.5 0M432.4 84.1a1.75 1.75 0 1 0 3.5 0a1.75 1.75 0 1 0 -3.5 0M433.2 82.8a1.75 1.75 0 1 0 3.5 0a1.75 1.75 0 1 0 -3.5 0M434.0 83.6a1.75 1.75 0 1 0 3.5 0a1.75 1.75 0 1 0 -3.5 0M434.9 81.5a1.75 1.75 0 1 0 3.5 0a1.75 1.75 0 1 0 -3.5 0M435.3 80.8a1.75 1.75 0 1 0 3.5 0a1.75 1.75 0 1 0 -3.5 0M435.8 80.6a1.75 1.75 0 1 0 3.5 0a1.75 1.75 0 1 0 -3.5 0M436.7 84.1a1.75 1.75 0 1 0 3.5 0a1.75 1.75 0 1 0 -3.5 0M437.1 81.6a1.75 1.75 0 1 0 3.5 0a1.75 1.75 0 1 0 -3.5 0M438.1 81.4a1.75 1.75 0 1 0 3.5 0a1.75 1.75 0 1 0 -3.5 0M438.9 78.5a1.75 1.75 0 1 0 3.5 0a1.75 1.75 0 1 0 -3.5 0M439.3 81.5a1.75 1.75 0 1 0 3.5 0a1.75 1.75 0 1 0 -3.5 0M439.7 78.1a1.75 1.75 0 1 0 3.5 0a1.75 1.75 0 1 0 -3.5 0M440.4 83.2a1.75 1.75 0 1 0 3.5 0a1.75 1.75 0 1 0 -3.5 0M440.9 79.9a1.75 1.75 0 1 0 3.5 0a1.75 1.75 0 1 0 -3.5 0M441.2 80.1a1.75 1.75 0 1 0 3.5 0a1.75 1.75 0 1 0 -3.5 0M442.0 76.8a1.75 1.75 0 1 0 3.5 0a1.75 1.75 0 1 0 -3.5 0M442.6 76.8a1.75 1.75 0 1 0 3.5 0a1.75 1.75 0 1 0 -3.5 0M443.4 79.0a1.75 1.75 0 1 0 3.5 0a1.75 1.75 0 1 0 -3.5 0M443.7 77.3a1.75 1.75 0 1 0 3.5 0a1.75 1.75 0 1 0 -3.5 0M444.2 77.9a1.75 1.75 0 1 0 3.5 0a1.75 1.75 0 1 0 -3.5 0M445.0 78.6a1.75 1.75 0 1 0 3.5 0a1.75 1.75 0 1 0 -3.5 0M445.2 77.3a1.75 1.75 0 1 0 3.5 0a1.75 1.75 0 1 0 -3.5 0M445.6 72.6a1.75 1.75 0 1 0 3.5 0a1.75 1.75 0 1 0 -3.5 0M446.4 73.4a1.75 1.75 0 1 0 3.5 0a1.75 1.75 0 1 0 -3.5 0M447.2 72.7a1.75 1.75 0 1 0 3.5 0a1.75 1.75 0 1 0 -3.5 0M448.2 73.0a1.75 1.75 0 1 0 3.5 0a1.75 1.75 0 1 0 -3.5 0M448.5 71.3a1.75 1.75 0 1 0 3.5 0a1.75 1.75 0 1 0 -3.5 0M449.1 71.3a1.75 1.75 0 1 0 3.5 0a1.75 1.75 0 1 0 -3.5 0M449.9 73.3a1.75 1.75 0 1 0 3.5 0a1.75 1.75 0 1 0 -3.5 0M450.5 73.5a1.75 1.75 0 1 0 3.5 0a1.75 1.75 0 1 0 -3.5 0M451.2 75.4a1.75 1.75 0 1 0 3.5 0a1.75 1.75 0 1 0 -3.5 0M451.6 73.9a1.75 1.75 0 1 0 3.5 0a1.75 1.75 0 1 0 -3.5 0M451.9 77.0a1.75 1.75 0 1 0 3.5 0a1.75 1.75 0 1 0 -3.5 0M452.2 71.3a1.75 1.75 0 1 0 3.5 0a1.75 1.75 0 1 0 -3.5 0M452.5 72.1a1.75 1.75 0 1 0 3.5 0a1.75 1.75 0 1 0 -3.5 0M453.1 74.9a1.75 1.75 0 1 0 3.5 0a1.75 1.75 0 1 0 -3.5 0M453.7 74.0a1.75 1.75 0 1 0 3.5 0a1.75 1.75 0 1 0 -3.5 0M454.4 72.7a1.75 1.75 0 1 0 3.5 0a1.75 1.75 0 1 0 -3.5 0M454.8 75.8a1.75 1.75 0 1 0 3.5 0a1.75 1.75 0 1 0 -3.5 0M455.1 76.4a1.75 1.75 0 1 0 3.5 0a1.75 1.75 0 1 0 -3.5 0M455.5 76.7a1.75 1.75 0 1 0 3.5 0a1.75 1.75 0 1 0 -3.5 0M456.4 73.8a1.75 1.75 0 1 0 3.5 0a1.75 1.75 0 1 0 -3.5 0M457.3 74.8a1.75 1.75 0 1 0 3.5 0a1.75 1.75 0 1 0 -3.5 0M458.2 75.5a1.75 1.75 0 1 0 3.5 0a1.75 1.75 0 1 0 -3.5 0M458.5 75.3a1.75 1.75 0 1 0 3.5 0a1.75 1.75 0 1 0 -3.5 0M458.8 77.4a1.75 1.75 0 1 0 3.5 0a1.75 1.75 0 1 0 -3.5 0M459.7 74.4a1.75 1.75 0 1 0 3.5 0a1.75 1.75 0 1 0 -3.5 0M460.3 76.6a1.75 1.75 0 1 0 3.5 0a1.75 1.75 0 1 0 -3.5 0M461.1 71.4a1.75 1.75 0 1 0 3.5 0a1.75 1.75 0 1 0 -3.5 0M461.6 78.0a1.75 1.75 0 1 0 3.5 0a1.75 1.75 0 1 0 -3.5 0M462.1 80.5a1.75 1.75 0 1 0 3.5 0a1.75 1.75 0 1 0 -3.5 0M462.8 76.4a1.75 1.75 0 1 0 3.5 0a1.75 1.75 0 1 0 -3.5 0M463.3 79.4a1.75 1.75 0 1 0 3.5 0a1.75 1.75 0 1 0 -3.5 0M464.0 72.3a1.75 1.75 0 1 0 3.5 0a1.75 1.75 0 1 0 -3.5 0M464.2 76.0a1.75 1.75 0 1 0 3.5 0a1.75 1.75 0 1 0 -3.5 0M465.0 72.7a1.75 1.75 0 1 0 3.5 0a1.75 1.75 0 1 0 -3.5 0M465.8 78.4a1.75 1.75 0 1 0 3.5 0a1.75 1.75 0 1 0 -3.5 0M466.2 79.2a1.75 1.75 0 1 0 3.5 0a1.75 1.75 0 1 0 -3.5 0M466.8 73.5a1.75 1.75 0 1 0 3.5 0a1.75 1.75 0 1 0 -3.5 0M467.5 75.3a1.75 1.75 0 1 0 3.5 0a1.75 1.75 0 1 0 -3.5 0M468.1 76.0a1.75 1.75 0 1 0 3.5 0a1.75 1.75 0 1 0 -3.5 0M468.5 83.4a1.75 1.75 0 1 0 3.5 0a1.75 1.75 0 1 0 -3.5 0M468.8 77.3a1.75 1.75 0 1 0 3.5 0a1.75 1.75 0 1 0 -3.5 0M469.4 77.6a1.75 1.75 0 1 0 3.5 0a1.75 1.75 0 1 0 -3.5 0M469.7 78.1a1.75 1.75 0 1 0 3.5 0a1.75 1.75 0 1 0 -3.5 0M470.6 77.9a1.75 1.75 0 1 0 3.5 0a1.75 1.75 0 1 0 -3.5 0M471.4 77.7a1.75 1.75 0 1 0 3.5 0a1.75 1.75 0 1 0 -3.5 0M472.1 76.3a1.75 1.75 0 1 0 3.5 0a1.75 1.75 0 1 0 -3.5 0M473.0 79.0a1.75 1.75 0 1 0 3.5 0a1.75 1.75 0 1 0 -3.5 0M473.7 84.2a1.75 1.75 0 1 0 3.5 0a1.75 1.75 0 1 0 -3.5 0M474.2 82.4a1.75 1.75 0 1 0 3.5 0a1.75 1.75 0 1 0 -3.5 0M474.9 82.1a1.75 1.75 0 1 0 3.5 0a1.75 1.75 0 1 0 -3.5 0M475.5 80.9a1.75 1.75 0 1 0 3.5 0a1.75 1.75 0 1 0 -3.5 0M476.4 84.8a1.75 1.75 0 1 0 3.5 0a1.75 1.75 0 1 0 -3.5 0M477.2 86.1a1.75 1.75 0 1 0 3.5 0a1.75 1.75 0 1 0 -3.5 0M477.6 84.8a1.75 1.75 0 1 0 3.5 0a1.75 1.75 0 1 0 -3.5 0M478.5 90.2a1.75 1.75 0 1 0 3.5 0a1.75 1.75 0 1 0 -3.5 0M479.3 86.2a1.75 1.75 0 1 0 3.5 0a1.75 1.75 0 1 0 -3.5 0M480.1 87.8a1.75 1.75 0 1 0 3.5 0a1.75 1.75 0 1 0 -3.5 0M480.9 91.1a1.75 1.75 0 1 0 3.5 0a1.75 1.75 0 1 0 -3.5 0M481.5 89.6a1.75 1.75 0 1 0 3.5 0a1.75 1.75 0 1 0 -3.5 0M482.3 92.5a1.75 1.75 0 1 0 3.5 0a1.75 1.75 0 1 0 -3.5 0M483.2 89.2a1.75 1.75 0 1 0 3.5 0a1.75 1.75 0 1 0 -3.5 0M483.9 89.0a1.75 1.75 0 1 0 3.5 0a1.75 1.75 0 1 0 -3.5 0M484.7 91.8a1.75 1.75 0 1 0 3.5 0a1.75 1.75 0 1 0 -3.5 0M485.5 91.5a1.75 1.75 0 1 0 3.5 0a1.75 1.75 0 1 0 -3.5 0M486.0 94.3a1.75 1.75 0 1 0 3.5 0a1.75 1.75 0 1 0 -3.5 0M486.8 92.6a1.75 1.75 0 1 0 3.5 0a1.75 1.75 0 1 0 -3.5 0M487.1 91.7a1.75 1.75 0 1 0 3.5 0a1.75 1.75 0 1 0 -3.5 0M487.6 93.1a1.75 1.75 0 1 0 3.5 0a1.75 1.75 0 1 0 -3.5 0M488.2 93.9a1.75 1.75 0 1 0 3.5 0a1.75 1.75 0 1 0 -3.5 0M488.4 89.5a1.75 1.75 0 1 0 3.5 0a1.75 1.75 0 1 0 -3.5 0M488.9 92.0a1.75 1.75 0 1 0 3.5 0a1.75 1.75 0 1 0 -3.5 0M489.6 91.6a1.75 1.75 0 1 0 3.5 0a1.75 1.75 0 1 0 -3.5 0M490.3 95.4a1.75 1.75 0 1 0 3.5 0a1.75 1.75 0 1 0 -3.5 0M490.7 91.4a1.75 1.75 0 1 0 3.5 0a1.75 1.75 0 1 0 -3.5 0M491.6 95.2a1.75 1.75 0 1 0 3.5 0a1.75 1.75 0 1 0 -3.5 0M492.3 89.8a1.75 1.75 0 1 0 3.5 0a1.75 1.75 0 1 0 -3.5 0M492.8 92.7a1.75 1.75 0 1 0 3.5 0a1.75 1.75 0 1 0 -3.5 0M493.5 95.4a1.75 1.75 0 1 0 3.5 0a1.75 1.75 0 1 0 -3.5 0M494.2 92.4a1.75 1.75 0 1 0 3.5 0a1.75 1.75 0 1 0 -3.5 0M494.8 95.7a1.75 1.75 0 1 0 3.5 0a1.75 1.75 0 1 0 -3.5 0M495.3 88.7a1.75 1.75 0 1 0 3.5 0a1.75 1.75 0 1 0 -3.5 0M496.3 93.3a1.75 1.75 0 1 0 3.5 0a1.75 1.75 0 1 0 -3.5 0M497.0 93.6a1.75 1.75 0 1 0 3.5 0a1.75 1.75 0 1 0 -3.5 0M497.7 93.1a1.75 1.75 0 1 0 3.5 0a1.75 1.75 0 1 0 -3.5 0M498.5 90.1a1.75 1.75 0 1 0 3.5 0a1.75 1.75 0 1 0 -3.5 0M499.4 94.8a1.75 1.75 0 1 0 3.5 0a1.75 1.75 0 1 0 -3.5 0M499.7 89.2a1.75 1.75 0 1 0 3.5 0a1.75 1.75 0 1 0 -3.5 0M500.4 95.5a1.75 1.75 0 1 0 3.5 0a1.75 1.75 0 1 0 -3.5 0M501.2 94.0a1.75 1.75 0 1 0 3.5 0a1.75 1.75 0 1 0 -3.5 0M501.6 95.5a1.75 1.75 0 1 0 3.5 0a1.75 1.75 0 1 0 -3.5 0M502.1 92.8a1.75 1.75 0 1 0 3.5 0a1.75 1.75 0 1 0 -3.5 0M502.4 90.9a1.75 1.75 0 1 0 3.5 0a1.75 1.75 0 1 0 -3.5 0M502.8 92.2a1.75 1.75 0 1 0 3.5 0a1.75 1.75 0 1 0 -3.5 0M503.3 92.3a1.75 1.75 0 1 0 3.5 0a1.75 1.75 0 1 0 -3.5 0M503.6 94.6a1.75 1.75 0 1 0 3.5 0a1.75 1.75 0 1 0 -3.5 0M504.0 92.6a1.75 1.75 0 1 0 3.5 0a1.75 1.75 0 1 0 -3.5 0M504.9 94.2a1.75 1.75 0 1 0 3.5 0a1.75 1.75 0 1 0 -3.5 0M505.6 94.4a1.75 1.75 0 1 0 3.5 0a1.75 1.75 0 1 0 -3.5 0M506.2 96.5a1.75 1.75 0 1 0 3.5 0a1.75 1.75 0 1 0 -3.5 0M507.1 88.9a1.75 1.75 0 1 0 3.5 0a1.75 1.75 0 1 0 -3.5 0M507.8 92.3a1.75 1.75 0 1 0 3.5 0a1.75 1.75 0 1 0 -3.5 0M508.7 94.8a1.75 1.75 0 1 0 3.5 0a1.75 1.75 0 1 0 -3.5 0M509.4 94.8a1.75 1.75 0 1 0 3.5 0a1.75 1.75 0 1 0 -3.5 0M510.2 91.9a1.75 1.75 0 1 0 3.5 0a1.75 1.75 0 1 0 -3.5 0M510.5 92.6a1.75 1.75 0 1 0 3.5 0a1.75 1.75 0 1 0 -3.5 0M511.2 93.0a1.75 1.75 0 1 0 3.5 0a1.75 1.75 0 1 0 -3.5 0M512.0 93.5a1.75 1.75 0 1 0 3.5 0a1.75 1.75 0 1 0 -3.5 0M512.2 91.9a1.75 1.75 0 1 0 3.5 0a1.75 1.75 0 1 0 -3.5 0M513.1 91.7a1.75 1.75 0 1 0 3.5 0a1.75 1.75 0 1 0 -3.5 0M513.5 90.5a1.75 1.75 0 1 0 3.5 0a1.75 1.75 0 1 0 -3.5 0M514.1 92.2a1.75 1.75 0 1 0 3.5 0a1.75 1.75 0 1 0 -3.5 0M514.5 96.3a1.75 1.75 0 1 0 3.5 0a1.75 1.75 0 1 0 -3.5 0M515.1 90.9a1.75 1.75 0 1 0 3.5 0a1.75 1.75 0 1 0 -3.5 0M515.7 95.3a1.75 1.75 0 1 0 3.5 0a1.75 1.75 0 1 0 -3.5 0M516.0 97.5a1.75 1.75 0 1 0 3.5 0a1.75 1.75 0 1 0 -3.5 0M516.9 93.5a1.75 1.75 0 1 0 3.5 0a1.75 1.75 0 1 0 -3.5 0M517.5 97.4a1.75 1.75 0 1 0 3.5 0a1.75 1.75 0 1 0 -3.5 0M518.1 92.6a1.75 1.75 0 1 0 3.5 0a1.75 1.75 0 1 0 -3.5 0M518.8 96.8a1.75 1.75 0 1 0 3.5 0a1.75 1.75 0 1 0 -3.5 0M519.3 92.8a1.75 1.75 0 1 0 3.5 0a1.75 1.75 0 1 0 -3.5 0M519.7 90.0a1.75 1.75 0 1 0 3.5 0a1.75 1.75 0 1 0 -3.5 0M520.4 93.7a1.75 1.75 0 1 0 3.5 0a1.75 1.75 0 1 0 -3.5 0M521.1 97.2a1.75 1.75 0 1 0 3.5 0a1.75 1.75 0 1 0 -3.5 0M521.5 91.4a1.75 1.75 0 1 0 3.5 0a1.75 1.75 0 1 0 -3.5 0M522.3 93.9a1.75 1.75 0 1 0 3.5 0a1.75 1.75 0 1 0 -3.5 0M522.7 90.4a1.75 1.75 0 1 0 3.5 0a1.75 1.75 0 1 0 -3.5 0M523.0 90.7a1.75 1.75 0 1 0 3.5 0a1.75 1.75 0 1 0 -3.5 0M523.4 93.8a1.75 1.75 0 1 0 3.5 0a1.75 1.75 0 1 0 -3.5 0M523.7 92.3a1.75 1.75 0 1 0 3.5 0a1.75 1.75 0 1 0 -3.5 0M524.1 94.0a1.75 1.75 0 1 0 3.5 0a1.75 1.75 0 1 0 -3.5 0M524.8 93.4a1.75 1.75 0 1 0 3.5 0a1.75 1.75 0 1 0 -3.5 0M525.3 85.1a1.75 1.75 0 1 0 3.5 0a1.75 1.75 0 1 0 -3.5 0M526.2 82.6a1.75 1.75 0 1 0 3.5 0a1.75 1.75 0 1 0 -3.5 0M527.0 84.2a1.75 1.75 0 1 0 3.5 0a1.75 1.75 0 1 0 -3.5 0M527.3 88.8a1.75 1.75 0 1 0 3.5 0a1.75 1.75 0 1 0 -3.5 0M528.2 82.9a1.75 1.75 0 1 0 3.5 0a1.75 1.75 0 1 0 -3.5 0M529.1 82.2a1.75 1.75 0 1 0 3.5 0a1.75 1.75 0 1 0 -3.5 0M529.4 84.4a1.75 1.75 0 1 0 3.5 0a1.75 1.75 0 1 0 -3.5 0M530.3 87.4a1.75 1.75 0 1 0 3.5 0a1.75 1.75 0 1 0 -3.5 0M530.9 81.5a1.75 1.75 0 1 0 3.5 0a1.75 1.75 0 1 0 -3.5 0M531.5 82.0a1.75 1.75 0 1 0 3.5 0a1.75 1.75 0 1 0 -3.5 0M532.4 82.2a1.75 1.75 0 1 0 3.5 0a1.75 1.75 0 1 0 -3.5 0M532.8 83.0a1.75 1.75 0 1 0 3.5 0a1.75 1.75 0 1 0 -3.5 0M533.4 84.2a1.75 1.75 0 1 0 3.5 0a1.75 1.75 0 1 0 -3.5 0M534.3 75.9a1.75 1.75 0 1 0 3.5 0a1.75 1.75 0 1 0 -3.5 0M535.1 73.7a1.75 1.75 0 1 0 3.5 0a1.75 1.75 0 1 0 -3.5 0M535.7 76.5a1.75 1.75 0 1 0 3.5 0a1.75 1.75 0 1 0 -3.5 0M536.6 76.1a1.75 1.75 0 1 0 3.5 0a1.75 1.75 0 1 0 -3.5 0M537.4 70.7a1.75 1.75 0 1 0 3.5 0a1.75 1.75 0 1 0 -3.5 0M538.1 73.4a1.75 1.75 0 1 0 3.5 0a1.75 1.75 0 1 0 -3.5 0M538.4 76.6a1.75 1.75 0 1 0 3.5 0a1.75 1.75 0 1 0 -3.5 0M539.1 73.4a1.75 1.75 0 1 0 3.5 0a1.75 1.75 0 1 0 -3.5 0M539.7 75.3a1.75 1.75 0 1 0 3.5 0a1.75 1.75 0 1 0 -3.5 0M540.1 74.7a1.75 1.75 0 1 0 3.5 0a1.75 1.75 0 1 0 -3.5 0M540.4 75.7a1.75 1.75 0 1 0 3.5 0a1.75 1.75 0 1 0 -3.5 0M541.0 75.2a1.75 1.75 0 1 0 3.5 0a1.75 1.75 0 1 0 -3.5 0M541.3 74.9a1.75 1.75 0 1 0 3.5 0a1.75 1.75 0 1 0 -3.5 0M541.9 76.9a1.75 1.75 0 1 0 3.5 0a1.75 1.75 0 1 0 -3.5 0M542.6 73.2a1.75 1.75 0 1 0 3.5 0a1.75 1.75 0 1 0 -3.5 0M543.2 74.6a1.75 1.75 0 1 0 3.5 0a1.75 1.75 0 1 0 -3.5 0M543.6 76.6a1.75 1.75 0 1 0 3.5 0a1.75 1.75 0 1 0 -3.5 0M544.3 73.2a1.75 1.75 0 1 0 3.5 0a1.75 1.75 0 1 0 -3.5 0M544.8 73.6a1.75 1.75 0 1 0 3.5 0a1.75 1.75 0 1 0 -3.5 0M545.6 72.8a1.75 1.75 0 1 0 3.5 0a1.75 1.75 0 1 0 -3.5 0M546.2 72.4a1.75 1.75 0 1 0 3.5 0a1.75 1.75 0 1 0 -3.5 0M547.2 78.0a1.75 1.75 0 1 0 3.5 0a1.75 1.75 0 1 0 -3.5 0M548.1 75.2a1.75 1.75 0 1 0 3.5 0a1.75 1.75 0 1 0 -3.5 0M548.8 77.9a1.75 1.75 0 1 0 3.5 0a1.75 1.75 0 1 0 -3.5 0M549.3 75.8a1.75 1.75 0 1 0 3.5 0a1.75 1.75 0 1 0 -3.5 0M549.6 74.4a1.75 1.75 0 1 0 3.5 0a1.75 1.75 0 1 0 -3.5 0M550.5 73.7a1.75 1.75 0 1 0 3.5 0a1.75 1.75 0 1 0 -3.5 0M551.3 74.8a1.75 1.75 0 1 0 3.5 0a1.75 1.75 0 1 0 -3.5 0M552.0 74.1a1.75 1.75 0 1 0 3.5 0a1.75 1.75 0 1 0 -3.5 0M552.5 76.1a1.75 1.75 0 1 0 3.5 0a1.75 1.75 0 1 0 -3.5 0M552.9 72.5a1.75 1.75 0 1 0 3.5 0a1.75 1.75 0 1 0 -3.5 0M553.6 74.7a1.75 1.75 0 1 0 3.5 0a1.75 1.75 0 1 0 -3.5 0M554.3 75.4a1.75 1.75 0 1 0 3.5 0a1.75 1.75 0 1 0 -3.5 0M554.9 74.0a1.75 1.75 0 1 0 3.5 0a1.75 1.75 0 1 0 -3.5 0M555.6 74.0a1.75 1.75 0 1 0 3.5 0a1.75 1.75 0 1 0 -3.5 0M556.4 75.9a1.75 1.75 0 1 0 3.5 0a1.75 1.75 0 1 0 -3.5 0M556.8 76.0a1.75 1.75 0 1 0 3.5 0a1.75 1.75 0 1 0 -3.5 0M557.2 74.5a1.75 1.75 0 1 0 3.5 0a1.75 1.75 0 1 0 -3.5 0M558.2 74.8a1.75 1.75 0 1 0 3.5 0a1.75 1.75 0 1 0 -3.5 0M559.0 73.6a1.75 1.75 0 1 0 3.5 0a1.75 1.75 0 1 0 -3.5 0M559.9 76.4a1.75 1.75 0 1 0 3.5 0a1.75 1.75 0 1 0 -3.5 0M560.2 74.8a1.75 1.75 0 1 0 3.5 0a1.75 1.75 0 1 0 -3.5 0M560.5 71.1a1.75 1.75 0 1 0 3.5 0a1.75 1.75 0 1 0 -3.5 0M560.9 74.3a1.75 1.75 0 1 0 3.5 0a1.75 1.75 0 1 0 -3.5 0M561.5 76.8a1.75 1.75 0 1 0 3.5 0a1.75 1.75 0 1 0 -3.5 0M562.1 76.0a1.75 1.75 0 1 0 3.5 0a1.75 1.75 0 1 0 -3.5 0M562.5 72.9a1.75 1.75 0 1 0 3.5 0a1.75 1.75 0 1 0 -3.5 0M563.1 77.3a1.75 1.75 0 1 0 3.5 0a1.75 1.75 0 1 0 -3.5 0M563.4 77.0a1.75 1.75 0 1 0 3.5 0a1.75 1.75 0 1 0 -3.5 0M563.7 77.1a1.75 1.75 0 1 0 3.5 0a1.75 1.75 0 1 0 -3.5 0M564.4 79.3a1.75 1.75 0 1 0 3.5 0a1.75 1.75 0 1 0 -3.5 0M565.1 74.6a1.75 1.75 0 1 0 3.5 0a1.75 1.75 0 1 0 -3.5 0M565.8 76.5a1.75 1.75 0 1 0 3.5 0a1.75 1.75 0 1 0 -3.5 0M566.3 74.7a1.75 1.75 0 1 0 3.5 0a1.75 1.75 0 1 0 -3.5 0M566.9 76.8a1.75 1.75 0 1 0 3.5 0a1.75 1.75 0 1 0 -3.5 0M567.3 76.9a1.75 1.75 0 1 0 3.5 0a1.75 1.75 0 1 0 -3.5 0M567.7 76.0a1.75 1.75 0 1 0 3.5 0a1.75 1.75 0 1 0 -3.5 0M568.5 77.0a1.75 1.75 0 1 0 3.5 0a1.75 1.75 0 1 0 -3.5 0M569.4 75.5a1.75 1.75 0 1 0 3.5 0a1.75 1.75 0 1 0 -3.5 0M569.7 77.8a1.75 1.75 0 1 0 3.5 0a1.75 1.75 0 1 0 -3.5 0M570.0 75.5a1.75 1.75 0 1 0 3.5 0a1.75 1.75 0 1 0 -3.5 0M570.8 80.7a1.75 1.75 0 1 0 3.5 0a1.75 1.75 0 1 0 -3.5 0M571.5 80.2a1.75 1.75 0 1 0 3.5 0a1.75 1.75 0 1 0 -3.5 0M572.3 76.9a1.75 1.75 0 1 0 3.5 0a1.75 1.75 0 1 0 -3.5 0M572.7 76.6a1.75 1.75 0 1 0 3.5 0a1.75 1.75 0 1 0 -3.5 0M573.2 82.0a1.75 1.75 0 1 0 3.5 0a1.75 1.75 0 1 0 -3.5 0M573.7 79.1a1.75 1.75 0 1 0 3.5 0a1.75 1.75 0 1 0 -3.5 0M574.5 81.9a1.75 1.75 0 1 0 3.5 0a1.75 1.75 0 1 0 -3.5 0M575.0 79.1a1.75 1.75 0 1 0 3.5 0a1.75 1.75 0 1 0 -3.5 0M575.7 81.2a1.75 1.75 0 1 0 3.5 0a1.75 1.75 0 1 0 -3.5 0M576.6 79.9a1.75 1.75 0 1 0 3.5 0a1.75 1.75 0 1 0 -3.5 0M577.1 82.1a1.75 1.75 0 1 0 3.5 0a1.75 1.75 0 1 0 -3.5 0M577.7 80.3a1.75 1.75 0 1 0 3.5 0a1.75 1.75 0 1 0 -3.5 0M578.5 83.8a1.75 1.75 0 1 0 3.5 0a1.75 1.75 0 1 0 -3.5 0M579.4 79.1a1.75 1.75 0 1 0 3.5 0a1.75 1.75 0 1 0 -3.5 0M580.0 83.5a1.75 1.75 0 1 0 3.5 0a1.75 1.75 0 1 0 -3.5 0M580.5 80.6a1.75 1.75 0 1 0 3.5 0a1.75 1.75 0 1 0 -3.5 0M580.8 81.8a1.75 1.75 0 1 0 3.5 0a1.75 1.75 0 1 0 -3.5 0M581.7 76.6a1.75 1.75 0 1 0 3.5 0a1.75 1.75 0 1 0 -3.5 0M582.0 76.2a1.75 1.75 0 1 0 3.5 0a1.75 1.75 0 1 0 -3.5 0M582.3 83.0a1.75 1.75 0 1 0 3.5 0a1.75 1.75 0 1 0 -3.5 0M582.9 77.2a1.75 1.75 0 1 0 3.5 0a1.75 1.75 0 1 0 -3.5 0M583.5 79.4a1.75 1.75 0 1 0 3.5 0a1.75 1.75 0 1 0 -3.5 0M584.2 79.3a1.75 1.75 0 1 0 3.5 0a1.75 1.75 0 1 0 -3.5 0M584.7 77.6a1.75 1.75 0 1 0 3.5 0a1.75 1.75 0 1 0 -3.5 0M585.5 80.7a1.75 1.75 0 1 0 3.5 0a1.75 1.75 0 1 0 -3.5 0M585.8 75.9a1.75 1.75 0 1 0 3.5 0a1.75 1.75 0 1 0 -3.5 0M586.2 76.5a1.75 1.75 0 1 0 3.5 0a1.75 1.75 0 1 0 -3.5 0M586.9 82.8a1.75 1.75 0 1 0 3.5 0a1.75 1.75 0 1 0 -3.5 0M587.2 77.7a1.75 1.75 0 1 0 3.5 0a1.75 1.75 0 1 0 -3.5 0M587.7 82.2a1.75 1.75 0 1 0 3.5 0a1.75 1.75 0 1 0 -3.5 0M588.4 82.0a1.75 1.75 0 1 0 3.5 0a1.75 1.75 0 1 0 -3.5 0M589.2 84.4a1.75 1.75 0 1 0 3.5 0a1.75 1.75 0 1 0 -3.5 0M589.6 81.4a1.75 1.75 0 1 0 3.5 0a1.75 1.75 0 1 0 -3.5 0M590.0 75.0a1.75 1.75 0 1 0 3.5 0a1.75 1.75 0 1 0 -3.5 0M590.5 78.3a1.75 1.75 0 1 0 3.5 0a1.75 1.75 0 1 0 -3.5 0M591.2 79.0a1.75 1.75 0 1 0 3.5 0a1.75 1.75 0 1 0 -3.5 0M591.7 83.6a1.75 1.75 0 1 0 3.5 0a1.75 1.75 0 1 0 -3.5 0M592.1 81.1a1.75 1.75 0 1 0 3.5 0a1.75 1.75 0 1 0 -3.5 0M592.8 78.9a1.75 1.75 0 1 0 3.5 0a1.75 1.75 0 1 0 -3.5 0M593.4 81.4a1.75 1.75 0 1 0 3.5 0a1.75 1.75 0 1 0 -3.5 0M594.3 79.3a1.75 1.75 0 1 0 3.5 0a1.75 1.75 0 1 0 -3.5 0M595.3 81.7a1.75 1.75 0 1 0 3.5 0a1.75 1.75 0 1 0 -3.5 0M596.1 80.7a1.75 1.75 0 1 0 3.5 0a1.75 1.75 0 1 0 -3.5 0M596.7 83.2a1.75 1.75 0 1 0 3.5 0a1.75 1.75 0 1 0 -3.5 0M597.5 81.2a1.75 1.75 0 1 0 3.5 0a1.75 1.75 0 1 0 -3.5 0M598.0 82.9a1.75 1.75 0 1 0 3.5 0a1.75 1.75 0 1 0 -3.5 0M598.4 80.4a1.75 1.75 0 1 0 3.5 0a1.75 1.75 0 1 0 -3.5 0M599.0 82.2a1.75 1.75 0 1 0 3.5 0a1.75 1.75 0 1 0 -3.5 0M599.9 80.1a1.75 1.75 0 1 0 3.5 0a1.75 1.75 0 1 0 -3.5 0M600.8 82.1a1.75 1.75 0 1 0 3.5 0a1.75 1.75 0 1 0 -3.5 0M601.2 81.1a1.75 1.75 0 1 0 3.5 0a1.75 1.75 0 1 0 -3.5 0M601.7 80.2a1.75 1.75 0 1 0 3.5 0a1.75 1.75 0 1 0 -3.5 0M602.2 79.5a1.75 1.75 0 1 0 3.5 0a1.75 1.75 0 1 0 -3.5 0M602.7 79.9a1.75 1.75 0 1 0 3.5 0a1.75 1.75 0 1 0 -3.5 0M603.2 81.8a1.75 1.75 0 1 0 3.5 0a1.75 1.75 0 1 0 -3.5 0M603.7 75.8a1.75 1.75 0 1 0 3.5 0a1.75 1.75 0 1 0 -3.5 0M604.1 83.7a1.75 1.75 0 1 0 3.5 0a1.75 1.75 0 1 0 -3.5 0M604.8 75.8a1.75 1.75 0 1 0 3.5 0a1.75 1.75 0 1 0 -3.5 0M605.6 80.2a1.75 1.75 0 1 0 3.5 0a1.75 1.75 0 1 0 -3.5 0M606.2 79.9a1.75 1.75 0 1 0 3.5 0a1.75 1.75 0 1 0 -3.5 0M607.0 82.6a1.75 1.75 0 1 0 3.5 0a1.75 1.75 0 1 0 -3.5 0M607.7 81.3a1.75 1.75 0 1 0 3.5 0a1.75 1.75 0 1 0 -3.5 0M608.1 80.6a1.75 1.75 0 1 0 3.5 0a1.75 1.75 0 1 0 -3.5 0M608.8 81.0a1.75 1.75 0 1 0 3.5 0a1.75 1.75 0 1 0 -3.5 0M609.7 83.2a1.75 1.75 0 1 0 3.5 0a1.75 1.75 0 1 0 -3.5 0M610.2 85.6a1.75 1.75 0 1 0 3.5 0a1.75 1.75 0 1 0 -3.5 0M610.4 81.8a1.75 1.75 0 1 0 3.5 0a1.75 1.75 0 1 0 -3.5 0M611.0 76.0a1.75 1.75 0 1 0 3.5 0a1.75 1.75 0 1 0 -3.5 0M611.7 79.8a1.75 1.75 0 1 0 3.5 0a1.75 1.75 0 1 0 -3.5 0M612.3 81.9a1.75 1.75 0 1 0 3.5 0a1.75 1.75 0 1 0 -3.5 0M613.2 85.7a1.75 1.75 0 1 0 3.5 0a1.75 1.75 0 1 0 -3.5 0M613.9 78.9a1.75 1.75 0 1 0 3.5 0a1.75 1.75 0 1 0 -3.5 0M614.8 79.9a1.75 1.75 0 1 0 3.5 0a1.75 1.75 0 1 0 -3.5 0M615.1 82.3a1.75 1.75 0 1 0 3.5 0a1.75 1.75 0 1 0 -3.5 0M615.7 81.7a1.75 1.75 0 1 0 3.5 0a1.75 1.75 0 1 0 -3.5 0M616.5 77.5a1.75 1.75 0 1 0 3.5 0a1.75 1.75 0 1 0 -3.5 0M616.8 83.4a1.75 1.75 0 1 0 3.5 0a1.75 1.75 0 1 0 -3.5 0M617.1 77.5a1.75 1.75 0 1 0 3.5 0a1.75 1.75 0 1 0 -3.5 0M617.9 80.2a1.75 1.75 0 1 0 3.5 0a1.75 1.75 0 1 0 -3.5 0M618.7 84.4a1.75 1.75 0 1 0 3.5 0a1.75 1.75 0 1 0 -3.5 0M619.1 77.5a1.75 1.75 0 1 0 3.5 0a1.75 1.75 0 1 0 -3.5 0M619.7 80.1a1.75 1.75 0 1 0 3.5 0a1.75 1.75 0 1 0 -3.5 0M620.1 85.3a1.75 1.75 0 1 0 3.5 0a1.75 1.75 0 1 0 -3.5 0M620.9 80.3a1.75 1.75 0 1 0 3.5 0a1.75 1.75 0 1 0 -3.5 0M621.6 78.3a1.75 1.75 0 1 0 3.5 0a1.75 1.75 0 1 0 -3.5 0M622.0 79.5a1.75 1.75 0 1 0 3.5 0a1.75 1.75 0 1 0 -3.5 0M622.4 82.9a1.75 1.75 0 1 0 3.5 0a1.75 1.75 0 1 0 -3.5 0M623.2 77.2a1.75 1.75 0 1 0 3.5 0a1.75 1.75 0 1 0 -3.5 0M623.8 79.4a1.75 1.75 0 1 0 3.5 0a1.75 1.75 0 1 0 -3.5 0M624.6 77.6a1.75 1.75 0 1 0 3.5 0a1.75 1.75 0 1 0 -3.5 0M625.1 78.3a1.75 1.75 0 1 0 3.5 0a1.75 1.75 0 1 0 -3.5 0M625.6 83.5a1.75 1.75 0 1 0 3.5 0a1.75 1.75 0 1 0 -3.5 0M626.5 80.6a1.75 1.75 0 1 0 3.5 0a1.75 1.75 0 1 0 -3.5 0M627.3 79.9a1.75 1.75 0 1 0 3.5 0a1.75 1.75 0 1 0 -3.5 0M627.8 81.5a1.75 1.75 0 1 0 3.5 0a1.75 1.75 0 1 0 -3.5 0M628.5 79.4a1.75 1.75 0 1 0 3.5 0a1.75 1.75 0 1 0 -3.5 0M629.2 78.6a1.75 1.75 0 1 0 3.5 0a1.75 1.75 0 1 0 -3.5 0M630.0 82.5a1.75 1.75 0 1 0 3.5 0a1.75 1.75 0 1 0 -3.5 0M630.9 81.9a1.75 1.75 0 1 0 3.5 0a1.75 1.75 0 1 0 -3.5 0M631.4 79.3a1.75 1.75 0 1 0 3.5 0a1.75 1.75 0 1 0 -3.5 0M632.2 81.4a1.75 1.75 0 1 0 3.5 0a1.75 1.75 0 1 0 -3.5 0M632.9 82.1a1.75 1.75 0 1 0 3.5 0a1.75 1.75 0 1 0 -3.5 0M633.8 80.1a1.75 1.75 0 1 0 3.5 0a1.75 1.75 0 1 0 -3.5 0M634.6 79.6a1.75 1.75 0 1 0 3.5 0a1.75 1.75 0 1 0 -3.5 0M635.4 75.9a1.75 1.75 0 1 0 3.5 0a1.75 1.75 0 1 0 -3.5 0M636.3 77.3a1.75 1.75 0 1 0 3.5 0a1.75 1.75 0 1 0 -3.5 0M637.2 73.3a1.75 1.75 0 1 0 3.5 0a1.75 1.75 0 1 0 -3.5 0M637.9 78.8a1.75 1.75 0 1 0 3.5 0a1.75 1.75 0 1 0 -3.5 0M638.5 75.7a1.75 1.75 0 1 0 3.5 0a1.75 1.75 0 1 0 -3.5 0M639.3 78.3a1.75 1.75 0 1 0 3.5 0a1.75 1.75 0 1 0 -3.5 0M640.1 72.9a1.75 1.75 0 1 0 3.5 0a1.75 1.75 0 1 0 -3.5 0M640.7 76.3a1.75 1.75 0 1 0 3.5 0a1.75 1.75 0 1 0 -3.5 0M641.2 69.9a1.75 1.75 0 1 0 3.5 0a1.75 1.75 0 1 0 -3.5 0M641.5 72.5a1.75 1.75 0 1 0 3.5 0a1.75 1.75 0 1 0 -3.5 0M642.3 74.8a1.75 1.75 0 1 0 3.5 0a1.75 1.75 0 1 0 -3.5 0M643.3 74.7a1.75 1.75 0 1 0 3.5 0a1.75 1.75 0 1 0 -3.5 0M643.8 73.8a1.75 1.75 0 1 0 3.5 0a1.75 1.75 0 1 0 -3.5 0M644.1 70.1a1.75 1.75 0 1 0 3.5 0a1.75 1.75 0 1 0 -3.5 0M644.5 77.5a1.75 1.75 0 1 0 3.5 0a1.75 1.75 0 1 0 -3.5 0M645.1 76.1a1.75 1.75 0 1 0 3.5 0a1.75 1.75 0 1 0 -3.5 0M645.5 77.4a1.75 1.75 0 1 0 3.5 0a1.75 1.75 0 1 0 -3.5 0M646.5 77.8a1.75 1.75 0 1 0 3.5 0a1.75 1.75 0 1 0 -3.5 0M646.8 74.3a1.75 1.75 0 1 0 3.5 0a1.75 1.75 0 1 0 -3.5 0M647.2 76.3a1.75 1.75 0 1 0 3.5 0a1.75 1.75 0 1 0 -3.5 0M647.6 80.0a1.75 1.75 0 1 0 3.5 0a1.75 1.75 0 1 0 -3.5 0M648.3 73.8a1.75 1.75 0 1 0 3.5 0a1.75 1.75 0 1 0 -3.5 0M649.0 77.0a1.75 1.75 0 1 0 3.5 0a1.75 1.75 0 1 0 -3.5 0M649.4 74.9a1.75 1.75 0 1 0 3.5 0a1.75 1.75 0 1 0 -3.5 0M649.7 80.4a1.75 1.75 0 1 0 3.5 0a1.75 1.75 0 1 0 -3.5 0M650.3 77.0a1.75 1.75 0 1 0 3.5 0a1.75 1.75 0 1 0 -3.5 0M651.0 74.4a1.75 1.75 0 1 0 3.5 0a1.75 1.75 0 1 0 -3.5 0M651.8 75.8a1.75 1.75 0 1 0 3.5 0a1.75 1.75 0 1 0 -3.5 0M652.1 74.1a1.75 1.75 0 1 0 3.5 0a1.75 1.75 0 1 0 -3.5 0M652.4 73.2a1.75 1.75 0 1 0 3.5 0a1.75 1.75 0 1 0 -3.5 0M652.8 73.4a1.75 1.75 0 1 0 3.5 0a1.75 1.75 0 1 0 -3.5 0M653.2 76.1a1.75 1.75 0 1 0 3.5 0a1.75 1.75 0 1 0 -3.5 0M653.6 75.5a1.75 1.75 0 1 0 3.5 0a1.75 1.75 0 1 0 -3.5 0M654.4 78.4a1.75 1.75 0 1 0 3.5 0a1.75 1.75 0 1 0 -3.5 0M655.0 76.8a1.75 1.75 0 1 0 3.5 0a1.75 1.75 0 1 0 -3.5 0M655.5 78.9a1.75 1.75 0 1 0 3.5 0a1.75 1.75 0 1 0 -3.5 0M655.8 81.8a1.75 1.75 0 1 0 3.5 0a1.75 1.75 0 1 0 -3.5 0M656.3 76.7a1.75 1.75 0 1 0 3.5 0a1.75 1.75 0 1 0 -3.5 0M656.7 76.8a1.75 1.75 0 1 0 3.5 0a1.75 1.75 0 1 0 -3.5 0M657.4 80.7a1.75 1.75 0 1 0 3.5 0a1.75 1.75 0 1 0 -3.5 0M657.9 82.2a1.75 1.75 0 1 0 3.5 0a1.75 1.75 0 1 0 -3.5 0M658.5 78.3a1.75 1.75 0 1 0 3.5 0a1.75 1.75 0 1 0 -3.5 0M659.4 77.6a1.75 1.75 0 1 0 3.5 0a1.75 1.75 0 1 0 -3.5 0M659.9 79.7a1.75 1.75 0 1 0 3.5 0a1.75 1.75 0 1 0 -3.5 0M660.4 79.7a1.75 1.75 0 1 0 3.5 0a1.75 1.75 0 1 0 -3.5 0M661.2 81.1a1.75 1.75 0 1 0 3.5 0a1.75 1.75 0 1 0 -3.5 0M662.1 79.2a1.75 1.75 0 1 0 3.5 0a1.75 1.75 0 1 0 -3.5 0M662.6 80.1a1.75 1.75 0 1 0 3.5 0a1.75 1.75 0 1 0 -3.5 0M663.3 79.8a1.75 1.75 0 1 0 3.5 0a1.75 1.75 0 1 0 -3.5 0M664.2 77.8a1.75 1.75 0 1 0 3.5 0a1.75 1.75 0 1 0 -3.5 0M664.8 77.5a1.75 1.75 0 1 0 3.5 0a1.75 1.75 0 1 0 -3.5 0M665.2 80.6a1.75 1.75 0 1 0 3.5 0a1.75 1.75 0 1 0 -3.5 0M665.5 80.7a1.75 1.75 0 1 0 3.5 0a1.75 1.75 0 1 0 -3.5 0M666.4 78.2a1.75 1.75 0 1 0 3.5 0a1.75 1.75 0 1 0 -3.5 0M667.2 82.6a1.75 1.75 0 1 0 3.5 0a1.75 1.75 0 1 0 -3.5 0M667.7 81.3a1.75 1.75 0 1 0 3.5 0a1.75 1.75 0 1 0 -3.5 0M668.3 80.2a1.75 1.75 0 1 0 3.5 0a1.75 1.75 0 1 0 -3.5 0M668.9 80.5a1.75 1.75 0 1 0 3.5 0a1.75 1.75 0 1 0 -3.5 0M669.4 79.9a1.75 1.75 0 1 0 3.5 0a1.75 1.75 0 1 0 -3.5 0M670.3 80.7a1.75 1.75 0 1 0 3.5 0a1.75 1.75 0 1 0 -3.5 0M671.0 81.0a1.75 1.75 0 1 0 3.5 0a1.75 1.75 0 1 0 -3.5 0M671.4 78.8a1.75 1.75 0 1 0 3.5 0a1.75 1.75 0 1 0 -3.5 0M671.7 73.1a1.75 1.75 0 1 0 3.5 0a1.75 1.75 0 1 0 -3.5 0M672.3 77.9a1.75 1.75 0 1 0 3.5 0a1.75 1.75 0 1 0 -3.5 0M672.8 75.8a1.75 1.75 0 1 0 3.5 0a1.75 1.75 0 1 0 -3.5 0M673.6 74.7a1.75 1.75 0 1 0 3.5 0a1.75 1.75 0 1 0 -3.5 0M674.4 80.0a1.75 1.75 0 1 0 3.5 0a1.75 1.75 0 1 0 -3.5 0M675.0 73.0a1.75 1.75 0 1 0 3.5 0a1.75 1.75 0 1 0 -3.5 0M675.4 80.6a1.75 1.75 0 1 0 3.5 0a1.75 1.75 0 1 0 -3.5 0M675.7 76.3a1.75 1.75 0 1 0 3.5 0a1.75 1.75 0 1 0 -3.5 0M676.2 74.6a1.75 1.75 0 1 0 3.5 0a1.75 1.75 0 1 0 -3.5 0M676.7 75.6a1.75 1.75 0 1 0 3.5 0a1.75 1.75 0 1 0 -3.5 0M677.5 83.5a1.75 1.75 0 1 0 3.5 0a1.75 1.75 0 1 0 -3.5 0M678.1 82.2a1.75 1.75 0 1 0 3.5 0a1.75 1.75 0 1 0 -3.5 0M678.8 77.2a1.75 1.75 0 1 0 3.5 0a1.75 1.75 0 1 0 -3.5 0M679.8 80.9a1.75 1.75 0 1 0 3.5 0a1.75 1.75 0 1 0 -3.5 0M680.2 82.8a1.75 1.75 0 1 0 3.5 0a1.75 1.75 0 1 0 -3.5 0M680.8 75.5a1.75 1.75 0 1 0 3.5 0a1.75 1.75 0 1 0 -3.5 0M681.2 77.1a1.75 1.75 0 1 0 3.5 0a1.75 1.75 0 1 0 -3.5 0M682.0 80.3a1.75 1.75 0 1 0 3.5 0a1.75 1.75 0 1 0 -3.5 0M682.2 78.9a1.75 1.75 0 1 0 3.5 0a1.75 1.75 0 1 0 -3.5 0M683.0 76.8a1.75 1.75 0 1 0 3.5 0a1.75 1.75 0 1 0 -3.5 0M683.9 82.2a1.75 1.75 0 1 0 3.5 0a1.75 1.75 0 1 0 -3.5 0M684.7 79.2a1.75 1.75 0 1 0 3.5 0a1.75 1.75 0 1 0 -3.5 0M685.0 80.0a1.75 1.75 0 1 0 3.5 0a1.75 1.75 0 1 0 -3.5 0M685.5 83.1a1.75 1.75 0 1 0 3.5 0a1.75 1.75 0 1 0 -3.5 0M686.2 79.3a1.75 1.75 0 1 0 3.5 0a1.75 1.75 0 1 0 -3.5 0M686.5 83.2a1.75 1.75 0 1 0 3.5 0a1.75 1.75 0 1 0 -3.5 0M687.1 78.8a1.75 1.75 0 1 0 3.5 0a1.75 1.75 0 1 0 -3.5 0M687.7 77.5a1.75 1.75 0 1 0 3.5 0a1.75 1.75 0 1 0 -3.5 0M688.6 78.4a1.75 1.75 0 1 0 3.5 0a1.75 1.75 0 1 0 -3.5 0M689.3 80.5a1.75 1.75 0 1 0 3.5 0a1.75 1.75 0 1 0 -3.5 0M690.1 79.9a1.75 1.75 0 1 0 3.5 0a1.75 1.75 0 1 0 -3.5 0M690.6 79.2a1.75 1.75 0 1 0 3.5 0a1.75 1.75 0 1 0 -3.5 0M691.4 73.8a1.75 1.75 0 1 0 3.5 0a1.75 1.75 0 1 0 -3.5 0M691.9 75.0a1.75 1.75 0 1 0 3.5 0a1.75 1.75 0 1 0 -3.5 0M692.8 77.3a1.75 1.75 0 1 0 3.5 0a1.75 1.75 0 1 0 -3.5 0M693.1 80.2a1.75 1.75 0 1 0 3.5 0a1.75 1.75 0 1 0 -3.5 0M694.0 82.1a1.75 1.75 0 1 0 3.5 0a1.75 1.75 0 1 0 -3.5 0M694.4 72.6a1.75 1.75 0 1 0 3.5 0a1.75 1.75 0 1 0 -3.5 0M695.0 77.4a1.75 1.75 0 1 0 3.5 0a1.75 1.75 0 1 0 -3.5 0M695.6 76.5a1.75 1.75 0 1 0 3.5 0a1.75 1.75 0 1 0 -3.5 0M696.0 77.4a1.75 1.75 0 1 0 3.5 0a1.75 1.75 0 1 0 -3.5 0M696.8 78.1a1.75 1.75 0 1 0 3.5 0a1.75 1.75 0 1 0 -3.5 0M697.3 75.2a1.75 1.75 0 1 0 3.5 0a1.75 1.75 0 1 0 -3.5 0M697.7 73.9a1.75 1.75 0 1 0 3.5 0a1.75 1.75 0 1 0 -3.5 0M698.0 80.1a1.75 1.75 0 1 0 3.5 0a1.75 1.75 0 1 0 -3.5 0M698.5 79.3a1.75 1.75 0 1 0 3.5 0a1.75 1.75 0 1 0 -3.5 0M699.1 76.2a1.75 1.75 0 1 0 3.5 0a1.75 1.75 0 1 0 -3.5 0M699.8 76.8a1.75 1.75 0 1 0 3.5 0a1.75 1.75 0 1 0 -3.5 0M700.3 75.3a1.75 1.75 0 1 0 3.5 0a1.75 1.75 0 1 0 -3.5 0M701.1 73.5a1.75 1.75 0 1 0 3.5 0a1.75 1.75 0 1 0 -3.5 0M701.4 78.5a1.75 1.75 0 1 0 3.5 0a1.75 1.75 0 1 0 -3.5 0M701.9 75.2a1.75 1.75 0 1 0 3.5 0a1.75 1.75 0 1 0 -3.5 0M702.5 74.1a1.75 1.75 0 1 0 3.5 0a1.75 1.75 0 1 0 -3.5 0M703.4 75.2a1.75 1.75 0 1 0 3.5 0a1.75 1.75 0 1 0 -3.5 0M704.2 80.3a1.75 1.75 0 1 0 3.5 0a1.75 1.75 0 1 0 -3.5 0M705.0 77.4a1.75 1.75 0 1 0 3.5 0a1.75 1.75 0 1 0 -3.5 0M705.2 76.9a1.75 1.75 0 1 0 3.5 0a1.75 1.75 0 1 0 -3.5 0M705.7 76.5a1.75 1.75 0 1 0 3.5 0a1.75 1.75 0 1 0 -3.5 0M706.5 78.1a1.75 1.75 0 1 0 3.5 0a1.75 1.75 0 1 0 -3.5 0M706.9 77.8a1.75 1.75 0 1 0 3.5 0a1.75 1.75 0 1 0 -3.5 0M707.5 73.2a1.75 1.75 0 1 0 3.5 0a1.75 1.75 0 1 0 -3.5 0M708.1 75.5a1.75 1.75 0 1 0 3.5 0a1.75 1.75 0 1 0 -3.5 0M708.4 74.6a1.75 1.75 0 1 0 3.5 0a1.75 1.75 0 1 0 -3.5 0M709.3 76.4a1.75 1.75 0 1 0 3.5 0a1.75 1.75 0 1 0 -3.5 0M710.1 75.7a1.75 1.75 0 1 0 3.5 0a1.75 1.75 0 1 0 -3.5 0M710.5 71.8a1.75 1.75 0 1 0 3.5 0a1.75 1.75 0 1 0 -3.5 0M711.2 78.2a1.75 1.75 0 1 0 3.5 0a1.75 1.75 0 1 0 -3.5 0M711.6 76.2a1.75 1.75 0 1 0 3.5 0a1.75 1.75 0 1 0 -3.5 0M712.2 71.9a1.75 1.75 0 1 0 3.5 0a1.75 1.75 0 1 0 -3.5 0M712.8 78.0a1.75 1.75 0 1 0 3.5 0a1.75 1.75 0 1 0 -3.5 0M713.2 75.8a1.75 1.75 0 1 0 3.5 0a1.75 1.75 0 1 0 -3.5 0M713.7 76.5a1.75 1.75 0 1 0 3.5 0a1.75 1.75 0 1 0 -3.5 0M714.3 75.5a1.75 1.75 0 1 0 3.5 0a1.75 1.75 0 1 0 -3.5 0M715.0 75.7a1.75 1.75 0 1 0 3.5 0a1.75 1.75 0 1 0 -3.5 0M715.4 74.2a1.75 1.75 0 1 0 3.5 0a1.75 1.75 0 1 0 -3.5 0M715.8 71.8a1.75 1.75 0 1 0 3.5 0a1.75 1.75 0 1 0 -3.5 0M716.5 73.9a1.75 1.75 0 1 0 3.5 0a1.75 1.75 0 1 0 -3.5 0M717.0 75.5a1.75 1.75 0 1 0 3.5 0a1.75 1.75 0 1 0 -3.5 0M717.9 75.1a1.75 1.75 0 1 0 3.5 0a1.75 1.75 0 1 0 -3.5 0M718.6 76.3a1.75 1.75 0 1 0 3.5 0a1.75 1.75 0 1 0 -3.5 0M719.3 74.7a1.75 1.75 0 1 0 3.5 0a1.75 1.75 0 1 0 -3.5 0M719.8 71.1a1.75 1.75 0 1 0 3.5 0a1.75 1.75 0 1 0 -3.5 0M720.7 76.2a1.75 1.75 0 1 0 3.5 0a1.75 1.75 0 1 0 -3.5 0M721.0 73.1a1.75 1.75 0 1 0 3.5 0a1.75 1.75 0 1 0 -3.5 0M721.3 72.0a1.75 1.75 0 1 0 3.5 0a1.75 1.75 0 1 0 -3.5 0M721.6 74.0a1.75 1.75 0 1 0 3.5 0a1.75 1.75 0 1 0 -3.5 0M722.4 71.8a1.75 1.75 0 1 0 3.5 0a1.75 1.75 0 1 0 -3.5 0M723.1 75.2a1.75 1.75 0 1 0 3.5 0a1.75 1.75 0 1 0 -3.5 0M723.5 72.6a1.75 1.75 0 1 0 3.5 0a1.75 1.75 0 1 0 -3.5 0M724.0 78.2a1.75 1.75 0 1 0 3.5 0a1.75 1.75 0 1 0 -3.5 0M724.8 73.8a1.75 1.75 0 1 0 3.5 0a1.75 1.75 0 1 0 -3.5 0M725.5 73.1a1.75 1.75 0 1 0 3.5 0a1.75 1.75 0 1 0 -3.5 0M725.8 72.9a1.75 1.75 0 1 0 3.5 0a1.75 1.75 0 1 0 -3.5 0M726.2 70.6a1.75 1.75 0 1 0 3.5 0a1.75 1.75 0 1 0 -3.5 0M726.6 72.4a1.75 1.75 0 1 0 3.5 0a1.75 1.75 0 1 0 -3.5 0M726.9 72.6a1.75 1.75 0 1 0 3.5 0a1.75 1.75 0 1 0 -3.5 0M727.5 73.5a1.75 1.75 0 1 0 3.5 0a1.75 1.75 0 1 0 -3.5 0M727.8 70.7a1.75 1.75 0 1 0 3.5 0a1.75 1.75 0 1 0 -3.5 0M728.7 74.5a1.75 1.75 0 1 0 3.5 0a1.75 1.75 0 1 0 -3.5 0M729.2 77.0a1.75 1.75 0 1 0 3.5 0a1.75 1.75 0 1 0 -3.5 0M729.8 73.8a1.75 1.75 0 1 0 3.5 0a1.75 1.75 0 1 0 -3.5 0M730.5 74.6a1.75 1.75 0 1 0 3.5 0a1.75 1.75 0 1 0 -3.5 0M731.3 75.7a1.75 1.75 0 1 0 3.5 0a1.75 1.75 0 1 0 -3.5 0M732.1 73.5a1.75 1.75 0 1 0 3.5 0a1.75 1.75 0 1 0 -3.5 0M732.7 74.3a1.75 1.75 0 1 0 3.5 0a1.75 1.75 0 1 0 -3.5 0M733.1 77.1a1.75 1.75 0 1 0 3.5 0a1.75 1.75 0 1 0 -3.5 0M733.7 75.7a1.75 1.75 0 1 0 3.5 0a1.75 1.75 0 1 0 -3.5 0M733.9 73.0a1.75 1.75 0 1 0 3.5 0a1.75 1.75 0 1 0 -3.5 0M734.5 71.9a1.75 1.75 0 1 0 3.5 0a1.75 1.75 0 1 0 -3.5 0M735.2 79.5a1.75 1.75 0 1 0 3.5 0a1.75 1.75 0 1 0 -3.5 0M736.1 76.7a1.75 1.75 0 1 0 3.5 0a1.75 1.75 0 1 0 -3.5 0M736.9 72.8a1.75 1.75 0 1 0 3.5 0a1.75 1.75 0 1 0 -3.5 0M737.7 76.4a1.75 1.75 0 1 0 3.5 0a1.75 1.75 0 1 0 -3.5 0M738.3 77.6a1.75 1.75 0 1 0 3.5 0a1.75 1.75 0 1 0 -3.5 0M738.6 76.5a1.75 1.75 0 1 0 3.5 0a1.75 1.75 0 1 0 -3.5 0M739.1 72.6a1.75 1.75 0 1 0 3.5 0a1.75 1.75 0 1 0 -3.5 0M739.6 80.1a1.75 1.75 0 1 0 3.5 0a1.75 1.75 0 1 0 -3.5 0M740.3 77.8a1.75 1.75 0 1 0 3.5 0a1.75 1.75 0 1 0 -3.5 0M740.6 76.3a1.75 1.75 0 1 0 3.5 0a1.75 1.75 0 1 0 -3.5 0M741.1 78.2a1.75 1.75 0 1 0 3.5 0a1.75 1.75 0 1 0 -3.5 0M741.7 76.4a1.75 1.75 0 1 0 3.5 0a1.75 1.75 0 1 0 -3.5 0M742.5 76.3a1.75 1.75 0 1 0 3.5 0a1.75 1.75 0 1 0 -3.5 0M743.3 79.0a1.75 1.75 0 1 0 3.5 0a1.75 1.75 0 1 0 -3.5 0M744.0 73.5a1.75 1.75 0 1 0 3.5 0a1.75 1.75 0 1 0 -3.5 0M744.4 79.4a1.75 1.75 0 1 0 3.5 0a1.75 1.75 0 1 0 -3.5 0M745.2 78.4a1.75 1.75 0 1 0 3.5 0a1.75 1.75 0 1 0 -3.5 0M746.1 78.7a1.75 1.75 0 1 0 3.5 0a1.75 1.75 0 1 0 -3.5 0M746.7 78.7a1.75 1.75 0 1 0 3.5 0a1.75 1.75 0 1 0 -3.5 0M747.2 79.6a1.75 1.75 0 1 0 3.5 0a1.75 1.75 0 1 0 -3.5 0M747.8 79.0a1.75 1.75 0 1 0 3.5 0a1.75 1.75 0 1 0 -3.5 0M748.1 77.7a1.75 1.75 0 1 0 3.5 0a1.75 1.75 0 1 0 -3.5 0M748.9 75.1a1.75 1.75 0 1 0 3.5 0a1.75 1.75 0 1 0 -3.5 0M749.8 76.4a1.75 1.75 0 1 0 3.5 0a1.75 1.75 0 1 0 -3.5 0M750.4 74.2a1.75 1.75 0 1 0 3.5 0a1.75 1.75 0 1 0 -3.5 0M751.2 73.2a1.75 1.75 0 1 0 3.5 0a1.75 1.75 0 1 0 -3.5 0M752.0 74.8a1.75 1.75 0 1 0 3.5 0a1.75 1.75 0 1 0 -3.5 0M752.4 74.5a1.75 1.75 0 1 0 3.5 0a1.75 1.75 0 1 0 -3.5 0M753.3 75.0a1.75 1.75 0 1 0 3.5 0a1.75 1.75 0 1 0 -3.5 0M754.0 70.8a1.75 1.75 0 1 0 3.5 0a1.75 1.75 0 1 0 -3.5 0M754.4 73.6a1.75 1.75 0 1 0 3.5 0a1.75 1.75 0 1 0 -3.5 0M754.7 73.6a1.75 1.75 0 1 0 3.5 0a1.75 1.75 0 1 0 -3.5 0M755.1 72.7a1.75 1.75 0 1 0 3.5 0a1.75 1.75 0 1 0 -3.5 0M755.8 74.2a1.75 1.75 0 1 0 3.5 0a1.75 1.75 0 1 0 -3.5 0M756.5 71.6a1.75 1.75 0 1 0 3.5 0a1.75 1.75 0 1 0 -3.5 0M757.0 73.2a1.75 1.75 0 1 0 3.5 0a1.75 1.75 0 1 0 -3.5 0M757.9 72.3a1.75 1.75 0 1 0 3.5 0a1.75 1.75 0 1 0 -3.5 0M758.4 72.8a1.75 1.75 0 1 0 3.5 0a1.75 1.75 0 1 0 -3.5 0M759.0 71.4a1.75 1.75 0 1 0 3.5 0a1.75 1.75 0 1 0 -3.5 0M759.3 72.6a1.75 1.75 0 1 0 3.5 0a1.75 1.75 0 1 0 -3.5 0M760.2 73.8a1.75 1.75 0 1 0 3.5 0a1.75 1.75 0 1 0 -3.5 0M760.6 73.0a1.75 1.75 0 1 0 3.5 0a1.75 1.75 0 1 0 -3.5 0M761.5 73.3a1.75 1.75 0 1 0 3.5 0a1.75 1.75 0 1 0 -3.5 0M762.1 71.3a1.75 1.75 0 1 0 3.5 0a1.75 1.75 0 1 0 -3.5 0M762.7 75.6a1.75 1.75 0 1 0 3.5 0a1.75 1.75 0 1 0 -3.5 0M763.4 71.3a1.75 1.75 0 1 0 3.5 0a1.75 1.75 0 1 0 -3.5 0M763.8 72.7a1.75 1.75 0 1 0 3.5 0a1.75 1.75 0 1 0 -3.5 0M764.7 73.8a1.75 1.75 0 1 0 3.5 0a1.75 1.75 0 1 0 -3.5 0M765.7 72.2a1.75 1.75 0 1 0 3.5 0a1.75 1.75 0 1 0 -3.5 0M766.5 74.2a1.75 1.75 0 1 0 3.5 0a1.75 1.75 0 1 0 -3.5 0M767.1 73.0a1.75 1.75 0 1 0 3.5 0a1.75 1.75 0 1 0 -3.5 0M767.5 76.4a1.75 1.75 0 1 0 3.5 0a1.75 1.75 0 1 0 -3.5 0M768.3 73.8a1.75 1.75 0 1 0 3.5 0a1.75 1.75 0 1 0 -3.5 0M768.8 73.5a1.75 1.75 0 1 0 3.5 0a1.75 1.75 0 1 0 -3.5 0M769.6 70.9a1.75 1.75 0 1 0 3.5 0a1.75 1.75 0 1 0 -3.5 0M770.1 73.8a1.75 1.75 0 1 0 3.5 0a1.75 1.75 0 1 0 -3.5 0M770.7 75.1a1.75 1.75 0 1 0 3.5 0a1.75 1.75 0 1 0 -3.5 0M771.5 73.8a1.75 1.75 0 1 0 3.5 0a1.75 1.75 0 1 0 -3.5 0M771.9 70.8a1.75 1.75 0 1 0 3.5 0a1.75 1.75 0 1 0 -3.5 0M772.6 71.8a1.75 1.75 0 1 0 3.5 0a1.75 1.75 0 1 0 -3.5 0M772.9 72.5a1.75 1.75 0 1 0 3.5 0a1.75 1.75 0 1 0 -3.5 0M773.1 73.1a1.75 1.75 0 1 0 3.5 0a1.75 1.75 0 1 0 -3.5 0M773.5 70.0a1.75 1.75 0 1 0 3.5 0a1.75 1.75 0 1 0 -3.5 0M774.5 77.3a1.75 1.75 0 1 0 3.5 0a1.75 1.75 0 1 0 -3.5 0M775.4 73.0a1.75 1.75 0 1 0 3.5 0a1.75 1.75 0 1 0 -3.5 0M776.1 73.6a1.75 1.75 0 1 0 3.5 0a1.75 1.75 0 1 0 -3.5 0M776.5 72.4a1.75 1.75 0 1 0 3.5 0a1.75 1.75 0 1 0 -3.5 0M777.3 73.3a1.75 1.75 0 1 0 3.5 0a1.75 1.75 0 1 0 -3.5 0M778.0 77.6a1.75 1.75 0 1 0 3.5 0a1.75 1.75 0 1 0 -3.5 0M778.5 71.5a1.75 1.75 0 1 0 3.5 0a1.75 1.75 0 1 0 -3.5 0M779.2 72.5a1.75 1.75 0 1 0 3.5 0a1.75 1.75 0 1 0 -3.5 0M780.0 71.4a1.75 1.75 0 1 0 3.5 0a1.75 1.75 0 1 0 -3.5 0M780.3 72.5a1.75 1.75 0 1 0 3.5 0a1.75 1.75 0 1 0 -3.5 0M780.7 77.1a1.75 1.75 0 1 0 3.5 0a1.75 1.75 0 1 0 -3.5 0M781.2 72.4a1.75 1.75 0 1 0 3.5 0a1.75 1.75 0 1 0 -3.5 0M781.6 72.8a1.75 1.75 0 1 0 3.5 0a1.75 1.75 0 1 0 -3.5 0M782.1 70.0a1.75 1.75 0 1 0 3.5 0a1.75 1.75 0 1 0 -3.5 0M782.8 73.3a1.75 1.75 0 1 0 3.5 0a1.75 1.75 0 1 0 -3.5 0M783.1 74.7a1.75 1.75 0 1 0 3.5 0a1.75 1.75 0 1 0 -3.5 0M783.7 73.4a1.75 1.75 0 1 0 3.5 0a1.75 1.75 0 1 0 -3.5 0M784.2 73.7a1.75 1.75 0 1 0 3.5 0a1.75 1.75 0 1 0 -3.5 0M784.8 76.2a1.75 1.75 0 1 0 3.5 0a1.75 1.75 0 1 0 -3.5 0M785.3 75.8a1.75 1.75 0 1 0 3.5 0a1.75 1.75 0 1 0 -3.5 0M786.0 74.8a1.75 1.75 0 1 0 3.5 0a1.75 1.75 0 1 0 -3.5 0M786.3 73.6a1.75 1.75 0 1 0 3.5 0a1.75 1.75 0 1 0 -3.5 0M787.0 72.5a1.75 1.75 0 1 0 3.5 0a1.75 1.75 0 1 0 -3.5 0M787.4 78.4a1.75 1.75 0 1 0 3.5 0a1.75 1.75 0 1 0 -3.5 0M788.3 73.0a1.75 1.75 0 1 0 3.5 0a1.75 1.75 0 1 0 -3.5 0M789.0 76.9a1.75 1.75 0 1 0 3.5 0a1.75 1.75 0 1 0 -3.5 0M789.5 75.7a1.75 1.75 0 1 0 3.5 0a1.75 1.75 0 1 0 -3.5 0M790.1 74.9a1.75 1.75 0 1 0 3.5 0a1.75 1.75 0 1 0 -3.5 0M790.8 77.7a1.75 1.75 0 1 0 3.5 0a1.75 1.75 0 1 0 -3.5 0M791.5 75.4a1.75 1.75 0 1 0 3.5 0a1.75 1.75 0 1 0 -3.5 0M792.3 78.6a1.75 1.75 0 1 0 3.5 0a1.75 1.75 0 1 0 -3.5 0M793.0 75.5a1.75 1.75 0 1 0 3.5 0a1.75 1.75 0 1 0 -3.5 0M793.6 77.8a1.75 1.75 0 1 0 3.5 0a1.75 1.75 0 1 0 -3.5 0M794.6 79.1a1.75 1.75 0 1 0 3.5 0a1.75 1.75 0 1 0 -3.5 0M795.4 76.4a1.75 1.75 0 1 0 3.5 0a1.75 1.75 0 1 0 -3.5 0M796.3 80.1a1.75 1.75 0 1 0 3.5 0a1.75 1.75 0 1 0 -3.5 0M796.8 78.7a1.75 1.75 0 1 0 3.5 0a1.75 1.75 0 1 0 -3.5 0M797.4 75.0a1.75 1.75 0 1 0 3.5 0a1.75 1.75 0 1 0 -3.5 0M798.0 79.1a1.75 1.75 0 1 0 3.5 0a1.75 1.75 0 1 0 -3.5 0M798.9 79.6a1.75 1.75 0 1 0 3.5 0a1.75 1.75 0 1 0 -3.5 0M799.5 76.5a1.75 1.75 0 1 0 3.5 0a1.75 1.75 0 1 0 -3.5 0M800.1 76.4a1.75 1.75 0 1 0 3.5 0a1.75 1.75 0 1 0 -3.5 0M800.7 77.1a1.75 1.75 0 1 0 3.5 0a1.75 1.75 0 1 0 -3.5 0M801.6 73.5a1.75 1.75 0 1 0 3.5 0a1.75 1.75 0 1 0 -3.5 0M802.0 76.4a1.75 1.75 0 1 0 3.5 0a1.75 1.75 0 1 0 -3.5 0M802.3 77.5a1.75 1.75 0 1 0 3.5 0a1.75 1.75 0 1 0 -3.5 0M803.1 75.0a1.75 1.75 0 1 0 3.5 0a1.75 1.75 0 1 0 -3.5 0M804.0 77.5a1.75 1.75 0 1 0 3.5 0a1.75 1.75 0 1 0 -3.5 0M804.7 78.6a1.75 1.75 0 1 0 3.5 0a1.75 1.75 0 1 0 -3.5 0M805.4 71.9a1.75 1.75 0 1 0 3.5 0a1.75 1.75 0 1 0 -3.5 0M806.2 71.9a1.75 1.75 0 1 0 3.5 0a1.75 1.75 0 1 0 -3.5 0M806.6 73.6a1.75 1.75 0 1 0 3.5 0a1.75 1.75 0 1 0 -3.5 0M807.3 75.9a1.75 1.75 0 1 0 3.5 0a1.75 1.75 0 1 0 -3.5 0M807.6 75.3a1.75 1.75 0 1 0 3.5 0a1.75 1.75 0 1 0 -3.5 0M807.9 72.8a1.75 1.75 0 1 0 3.5 0a1.75 1.75 0 1 0 -3.5 0M808.5 72.2a1.75 1.75 0 1 0 3.5 0a1.75 1.75 0 1 0 -3.5 0M809.1 72.9a1.75 1.75 0 1 0 3.5 0a1.75 1.75 0 1 0 -3.5 0M809.6 77.5a1.75 1.75 0 1 0 3.5 0a1.75 1.75 0 1 0 -3.5 0M809.9 72.5a1.75 1.75 0 1 0 3.5 0a1.75 1.75 0 1 0 -3.5 0M810.6 73.2a1.75 1.75 0 1 0 3.5 0a1.75 1.75 0 1 0 -3.5 0M811.3 76.2a1.75 1.75 0 1 0 3.5 0a1.75 1.75 0 1 0 -3.5 0M811.7 73.9a1.75 1.75 0 1 0 3.5 0a1.75 1.75 0 1 0 -3.5 0M812.1 72.5a1.75 1.75 0 1 0 3.5 0a1.75 1.75 0 1 0 -3.5 0M812.7 77.2a1.75 1.75 0 1 0 3.5 0a1.75 1.75 0 1 0 -3.5 0M813.1 75.1a1.75 1.75 0 1 0 3.5 0a1.75 1.75 0 1 0 -3.5 0M813.4 73.2a1.75 1.75 0 1 0 3.5 0a1.75 1.75 0 1 0 -3.5 0M814.3 73.8a1.75 1.75 0 1 0 3.5 0a1.75 1.75 0 1 0 -3.5 0M815.2 76.4a1.75 1.75 0 1 0 3.5 0a1.75 1.75 0 1 0 -3.5 0M815.9 73.9a1.75 1.75 0 1 0 3.5 0a1.75 1.75 0 1 0 -3.5 0M816.8 75.2a1.75 1.75 0 1 0 3.5 0a1.75 1.75 0 1 0 -3.5 0M817.3 76.4a1.75 1.75 0 1 0 3.5 0a1.75 1.75 0 1 0 -3.5 0M818.1 76.7a1.75 1.75 0 1 0 3.5 0a1.75 1.75 0 1 0 -3.5 0M818.5 71.2a1.75 1.75 0 1 0 3.5 0a1.75 1.75 0 1 0 -3.5 0M819.3 73.9a1.75 1.75 0 1 0 3.5 0a1.75 1.75 0 1 0 -3.5 0M820.0 74.2a1.75 1.75 0 1 0 3.5 0a1.75 1.75 0 1 0 -3.5 0M820.8 75.1a1.75 1.75 0 1 0 3.5 0a1.75 1.75 0 1 0 -3.5 0M821.2 76.4a1.75 1.75 0 1 0 3.5 0a1.75 1.75 0 1 0 -3.5 0M822.0 77.2a1.75 1.75 0 1 0 3.5 0a1.75 1.75 0 1 0 -3.5 0M822.3 74.1a1.75 1.75 0 1 0 3.5 0a1.75 1.75 0 1 0 -3.5 0M822.9 72.9a1.75 1.75 0 1 0 3.5 0a1.75 1.75 0 1 0 -3.5 0M823.8 75.4a1.75 1.75 0 1 0 3.5 0a1.75 1.75 0 1 0 -3.5 0M824.1 73.9a1.75 1.75 0 1 0 3.5 0a1.75 1.75 0 1 0 -3.5 0M824.5 78.4a1.75 1.75 0 1 0 3.5 0a1.75 1.75 0 1 0 -3.5 0M825.0 75.8a1.75 1.75 0 1 0 3.5 0a1.75 1.75 0 1 0 -3.5 0M825.4 75.3a1.75 1.75 0 1 0 3.5 0a1.75 1.75 0 1 0 -3.5 0M825.7 77.1a1.75 1.75 0 1 0 3.5 0a1.75 1.75 0 1 0 -3.5 0M826.6 74.0a1.75 1.75 0 1 0 3.5 0a1.75 1.75 0 1 0 -3.5 0M827.4 74.7a1.75 1.75 0 1 0 3.5 0a1.75 1.75 0 1 0 -3.5 0M828.0 75.1a1.75 1.75 0 1 0 3.5 0a1.75 1.75 0 1 0 -3.5 0M828.5 76.7a1.75 1.75 0 1 0 3.5 0a1.75 1.75 0 1 0 -3.5 0M829.1 78.0a1.75 1.75 0 1 0 3.5 0a1.75 1.75 0 1 0 -3.5 0M829.4 77.0a1.75 1.75 0 1 0 3.5 0a1.75 1.75 0 1 0 -3.5 0M829.7 77.0a1.75 1.75 0 1 0 3.5 0a1.75 1.75 0 1 0 -3.5 0M830.6 75.2a1.75 1.75 0 1 0 3.5 0a1.75 1.75 0 1 0 -3.5 0M831.0 76.4a1.75 1.75 0 1 0 3.5 0a1.75 1.75 0 1 0 -3.5 0M831.6 75.3a1.75 1.75 0 1 0 3.5 0a1.75 1.75 0 1 0 -3.5 0M832.5 78.0a1.75 1.75 0 1 0 3.5 0a1.75 1.75 0 1 0 -3.5 0M833.5 74.7a1.75 1.75 0 1 0 3.5 0a1.75 1.75 0 1 0 -3.5 0M834.0 75.8a1.75 1.75 0 1 0 3.5 0a1.75 1.75 0 1 0 -3.5 0M834.4 76.4a1.75 1.75 0 1 0 3.5 0a1.75 1.75 0 1 0 -3.5 0M834.9 77.5a1.75 1.75 0 1 0 3.5 0a1.75 1.75 0 1 0 -3.5 0M835.8 74.7a1.75 1.75 0 1 0 3.5 0a1.75 1.75 0 1 0 -3.5 0M836.7 75.7a1.75 1.75 0 1 0 3.5 0a1.75 1.75 0 1 0 -3.5 0M837.1 74.6a1.75 1.75 0 1 0 3.5 0a1.75 1.75 0 1 0 -3.5 0M837.9 73.7a1.75 1.75 0 1 0 3.5 0a1.75 1.75 0 1 0 -3.5 0M838.4 78.4a1.75 1.75 0 1 0 3.5 0a1.75 1.75 0 1 0 -3.5 0M839.0 77.2a1.75 1.75 0 1 0 3.5 0a1.75 1.75 0 1 0 -3.5 0M839.3 73.5a1.75 1.75 0 1 0 3.5 0a1.75 1.75 0 1 0 -3.5 0M840.2 74.6a1.75 1.75 0 1 0 3.5 0a1.75 1.75 0 1 0 -3.5 0M841.1 77.6a1.75 1.75 0 1 0 3.5 0a1.75 1.75 0 1 0 -3.5 0M841.5 75.4a1.75 1.75 0 1 0 3.5 0a1.75 1.75 0 1 0 -3.5 0M842.2 74.6a1.75 1.75 0 1 0 3.5 0a1.75 1.75 0 1 0 -3.5 0M842.6 79.0a1.75 1.75 0 1 0 3.5 0a1.75 1.75 0 1 0 -3.5 0M843.5 75.7a1.75 1.75 0 1 0 3.5 0a1.75 1.75 0 1 0 -3.5 0M843.8 75.9a1.75 1.75 0 1 0 3.5 0a1.75 1.75 0 1 0 -3.5 0M844.1 77.7a1.75 1.75 0 1 0 3.5 0a1.75 1.75 0 1 0 -3.5 0M844.9 75.2a1.75 1.75 0 1 0 3.5 0a1.75 1.75 0 1 0 -3.5 0M845.3 76.6a1.75 1.75 0 1 0 3.5 0a1.75 1.75 0 1 0 -3.5 0M846.2 76.8a1.75 1.75 0 1 0 3.5 0a1.75 1.75 0 1 0 -3.5 0M847.1 77.9a1.75 1.75 0 1 0 3.5 0a1.75 1.75 0 1 0 -3.5 0M847.8 74.9a1.75 1.75 0 1 0 3.5 0a1.75 1.75 0 1 0 -3.5 0M848.2 78.5a1.75 1.75 0 1 0 3.5 0a1.75 1.75 0 1 0 -3.5 0M848.9 76.9a1.75 1.75 0 1 0 3.5 0a1.75 1.75 0 1 0 -3.5 0M849.8 79.8a1.75 1.75 0 1 0 3.5 0a1.75 1.75 0 1 0 -3.5 0M850.4 76.6a1.75 1.75 0 1 0 3.5 0a1.75 1.75 0 1 0 -3.5 0M850.7 75.0a1.75 1.75 0 1 0 3.5 0a1.75 1.75 0 1 0 -3.5 0M851.1 75.0a1.75 1.75 0 1 0 3.5 0a1.75 1.75 0 1 0 -3.5 0M851.5 73.8a1.75 1.75 0 1 0 3.5 0a1.75 1.75 0 1 0 -3.5 0M852.3 75.9a1.75 1.75 0 1 0 3.5 0a1.75 1.75 0 1 0 -3.5 0M852.7 75.7a1.75 1.75 0 1 0 3.5 0a1.75 1.75 0 1 0 -3.5 0M853.0 77.5a1.75 1.75 0 1 0 3.5 0a1.75 1.75 0 1 0 -3.5 0M853.5 75.9a1.75 1.75 0 1 0 3.5 0a1.75 1.75 0 1 0 -3.5 0M854.2 74.1a1.75 1.75 0 1 0 3.5 0a1.75 1.75 0 1 0 -3.5 0M855.0 77.3a1.75 1.75 0 1 0 3.5 0a1.75 1.75 0 1 0 -3.5 0M855.5 74.7a1.75 1.75 0 1 0 3.5 0a1.75 1.75 0 1 0 -3.5 0M856.2 75.8a1.75 1.75 0 1 0 3.5 0a1.75 1.75 0 1 0 -3.5 0M857.1 77.4a1.75 1.75 0 1 0 3.5 0a1.75 1.75 0 1 0 -3.5 0M857.7 77.0a1.75 1.75 0 1 0 3.5 0a1.75 1.75 0 1 0 -3.5 0M858.1 74.0a1.75 1.75 0 1 0 3.5 0a1.75 1.75 0 1 0 -3.5 0M858.6 74.9a1.75 1.75 0 1 0 3.5 0a1.75 1.75 0 1 0 -3.5 0M859.5 77.2a1.75 1.75 0 1 0 3.5 0a1.75 1.75 0 1 0 -3.5 0M860.2 76.8a1.75 1.75 0 1 0 3.5 0a1.75 1.75 0 1 0 -3.5 0M860.7 76.3a1.75 1.75 0 1 0 3.5 0a1.75 1.75 0 1 0 -3.5 0M861.4 76.9a1.75 1.75 0 1 0 3.5 0a1.75 1.75 0 1 0 -3.5 0M861.7 72.7a1.75 1.75 0 1 0 3.5 0a1.75 1.75 0 1 0 -3.5 0M862.6 75.3a1.75 1.75 0 1 0 3.5 0a1.75 1.75 0 1 0 -3.5 0M863.2 73.7a1.75 1.75 0 1 0 3.5 0a1.75 1.75 0 1 0 -3.5 0M863.8 75.0a1.75 1.75 0 1 0 3.5 0a1.75 1.75 0 1 0 -3.5 0M864.4 75.5a1.75 1.75 0 1 0 3.5 0a1.75 1.75 0 1 0 -3.5 0M864.7 76.9a1.75 1.75 0 1 0 3.5 0a1.75 1.75 0 1 0 -3.5 0M865.4 78.1a1.75 1.75 0 1 0 3.5 0a1.75 1.75 0 1 0 -3.5 0M865.8 77.6a1.75 1.75 0 1 0 3.5 0a1.75 1.75 0 1 0 -3.5 0M866.2 76.8a1.75 1.75 0 1 0 3.5 0a1.75 1.75 0 1 0 -3.5 0M867.1 75.9a1.75 1.75 0 1 0 3.5 0a1.75 1.75 0 1 0 -3.5 0M867.4 78.7a1.75 1.75 0 1 0 3.5 0a1.75 1.75 0 1 0 -3.5 0M867.8 77.1a1.75 1.75 0 1 0 3.5 0a1.75 1.75 0 1 0 -3.5 0M868.6 73.8a1.75 1.75 0 1 0 3.5 0a1.75 1.75 0 1 0 -3.5 0M869.0 76.7a1.75 1.75 0 1 0 3.5 0a1.75 1.75 0 1 0 -3.5 0M869.5 77.7a1.75 1.75 0 1 0 3.5 0a1.75 1.75 0 1 0 -3.5 0M870.1 75.3a1.75 1.75 0 1 0 3.5 0a1.75 1.75 0 1 0 -3.5 0M870.5 77.2a1.75 1.75 0 1 0 3.5 0a1.75 1.75 0 1 0 -3.5 0M871.4 79.2a1.75 1.75 0 1 0 3.5 0a1.75 1.75 0 1 0 -3.5 0M872.3 76.4a1.75 1.75 0 1 0 3.5 0a1.75 1.75 0 1 0 -3.5 0M872.6 76.7a1.75 1.75 0 1 0 3.5 0a1.75 1.75 0 1 0 -3.5 0M873.1 76.7a1.75 1.75 0 1 0 3.5 0a1.75 1.75 0 1 0 -3.5 0M873.9 75.3a1.75 1.75 0 1 0 3.5 0a1.75 1.75 0 1 0 -3.5 0M874.4 76.0a1.75 1.75 0 1 0 3.5 0a1.75 1.75 0 1 0 -3.5 0M875.3 75.3a1.75 1.75 0 1 0 3.5 0a1.75 1.75 0 1 0 -3.5 0M875.9 76.2a1.75 1.75 0 1 0 3.5 0a1.75 1.75 0 1 0 -3.5 0M876.3 75.6a1.75 1.75 0 1 0 3.5 0a1.75 1.75 0 1 0 -3.5 0M876.9 77.6a1.75 1.75 0 1 0 3.5 0a1.75 1.75 0 1 0 -3.5 0M877.7 76.3a1.75 1.75 0 1 0 3.5 0a1.75 1.75 0 1 0 -3.5 0M878.2 77.3a1.75 1.75 0 1 0 3.5 0a1.75 1.75 0 1 0 -3.5 0M878.9 75.1a1.75 1.75 0 1 0 3.5 0a1.75 1.75 0 1 0 -3.5 0M879.7 76.3a1.75 1.75 0 1 0 3.5 0a1.75 1.75 0 1 0 -3.5 0M880.3 76.8a1.75 1.75 0 1 0 3.5 0a1.75 1.75 0 1 0 -3.5 0M880.9 76.8a1.75 1.75 0 1 0 3.5 0a1.75 1.75 0 1 0 -3.5 0M881.7 75.7a1.75 1.75 0 1 0 3.5 0a1.75 1.75 0 1 0 -3.5 0M882.5 76.1a1.75 1.75 0 1 0 3.5 0a1.75 1.75 0 1 0 -3.5 0M883.1 76.2a1.75 1.75 0 1 0 3.5 0a1.75 1.75 0 1 0 -3.5 0M884.0 75.6a1.75 1.75 0 1 0 3.5 0a1.75 1.75 0 1 0 -3.5 0M884.4 75.5a1.75 1.75 0 1 0 3.5 0a1.75 1.75 0 1 0 -3.5 0M885.1 76.2a1.75 1.75 0 1 0 3.5 0a1.75 1.75 0 1 0 -3.5 0M885.5 74.6a1.75 1.75 0 1 0 3.5 0a1.75 1.75 0 1 0 -3.5 0M886.2 73.9a1.75 1.75 0 1 0 3.5 0a1.75 1.75 0 1 0 -3.5 0M886.6 75.0a1.75 1.75 0 1 0 3.5 0a1.75 1.75 0 1 0 -3.5 0M887.2 75.7a1.75 1.75 0 1 0 3.5 0a1.75 1.75 0 1 0 -3.5 0M888.0 73.4a1.75 1.75 0 1 0 3.5 0a1.75 1.75 0 1 0 -3.5 0M888.8 76.7a1.75 1.75 0 1 0 3.5 0a1.75 1.75 0 1 0 -3.5 0M889.6 75.2a1.75 1.75 0 1 0 3.5 0a1.75 1.75 0 1 0 -3.5 0M890.0 75.7a1.75 1.75 0 1 0 3.5 0a1.75 1.75 0 1 0 -3.5 0M890.6 73.9a1.75 1.75 0 1 0 3.5 0a1.75 1.75 0 1 0 -3.5 0M891.0 74.8a1.75 1.75 0 1 0 3.5 0a1.75 1.75 0 1 0 -3.5 0M891.6 77.1a1.75 1.75 0 1 0 3.5 0a1.75 1.75 0 1 0 -3.5 0M892.2 77.1a1.75 1.75 0 1 0 3.5 0a1.75 1.75 0 1 0 -3.5 0M892.5 75.4a1.75 1.75 0 1 0 3.5 0a1.75 1.75 0 1 0 -3.5 0M893.2 74.1a1.75 1.75 0 1 0 3.5 0a1.75 1.75 0 1 0 -3.5 0M893.9 74.2a1.75 1.75 0 1 0 3.5 0a1.75 1.75 0 1 0 -3.5 0M894.6 76.2a1.75 1.75 0 1 0 3.5 0a1.75 1.75 0 1 0 -3.5 0M895.4 73.1a1.75 1.75 0 1 0 3.5 0a1.75 1.75 0 1 0 -3.5 0M895.8 72.7a1.75 1.75 0 1 0 3.5 0a1.75 1.75 0 1 0 -3.5 0M896.2 73.8a1.75 1.75 0 1 0 3.5 0a1.75 1.75 0 1 0 -3.5 0M896.4 75.4a1.75 1.75 0 1 0 3.5 0a1.75 1.75 0 1 0 -3.5 0M897.0 72.2a1.75 1.75 0 1 0 3.5 0a1.75 1.75 0 1 0 -3.5 0M897.6 74.4a1.75 1.75 0 1 0 3.5 0a1.75 1.75 0 1 0 -3.5 0M898.1 74.3a1.75 1.75 0 1 0 3.5 0a1.75 1.75 0 1 0 -3.5 0M898.6 73.8a1.75 1.75 0 1 0 3.5 0a1.75 1.75 0 1 0 -3.5 0M899.4 72.9a1.75 1.75 0 1 0 3.5 0a1.75 1.75 0 1 0 -3.5 0M899.7 74.6a1.75 1.75 0 1 0 3.5 0a1.75 1.75 0 1 0 -3.5 0M900.6 73.6a1.75 1.75 0 1 0 3.5 0a1.75 1.75 0 1 0 -3.5 0M901.2 69.6a1.75 1.75 0 1 0 3.5 0a1.75 1.75 0 1 0 -3.5 0M901.8 74.8a1.75 1.75 0 1 0 3.5 0a1.75 1.75 0 1 0 -3.5 0M902.6 72.3a1.75 1.75 0 1 0 3.5 0a1.75 1.75 0 1 0 -3.5 0M903.1 71.8a1.75 1.75 0 1 0 3.5 0a1.75 1.75 0 1 0 -3.5 0M903.4 70.4a1.75 1.75 0 1 0 3.5 0a1.75 1.75 0 1 0 -3.5 0M903.9 70.3a1.75 1.75 0 1 0 3.5 0a1.75 1.75 0 1 0 -3.5 0M904.2 67.2a1.75 1.75 0 1 0 3.5 0a1.75 1.75 0 1 0 -3.5 0M904.6 70.0a1.75 1.75 0 1 0 3.5 0a1.75 1.75 0 1 0 -3.5 0M905.3 71.3a1.75 1.75 0 1 0 3.5 0a1.75 1.75 0 1 0 -3.5 0M905.9 71.0a1.75 1.75 0 1 0 3.5 0a1.75 1.75 0 1 0 -3.5 0M906.4 68.2a1.75 1.75 0 1 0 3.5 0a1.75 1.75 0 1 0 -3.5 0M907.0 65.5a1.75 1.75 0 1 0 3.5 0a1.75 1.75 0 1 0 -3.5 0M907.3 66.7a1.75 1.75 0 1 0 3.5 0a1.75 1.75 0 1 0 -3.5 0M908.2 68.0a1.75 1.75 0 1 0 3.5 0a1.75 1.75 0 1 0 -3.5 0M908.5 71.1a1.75 1.75 0 1 0 3.5 0a1.75 1.75 0 1 0 -3.5 0M909.0 64.7a1.75 1.75 0 1 0 3.5 0a1.75 1.75 0 1 0 -3.5 0M909.3 68.1a1.75 1.75 0 1 0 3.5 0a1.75 1.75 0 1 0 -3.5 0M910.1 68.9a1.75 1.75 0 1 0 3.5 0a1.75 1.75 0 1 0 -3.5 0M910.9 68.9a1.75 1.75 0 1 0 3.5 0a1.75 1.75 0 1 0 -3.5 0M911.7 67.2a1.75 1.75 0 1 0 3.5 0a1.75 1.75 0 1 0 -3.5 0M912.0 63.5a1.75 1.75 0 1 0 3.5 0a1.75 1.75 0 1 0 -3.5 0M912.5 68.7a1.75 1.75 0 1 0 3.5 0a1.75 1.75 0 1 0 -3.5 0M913.0 67.6a1.75 1.75 0 1 0 3.5 0a1.75 1.75 0 1 0 -3.5 0M913.4 68.5a1.75 1.75 0 1 0 3.5 0a1.75 1.75 0 1 0 -3.5 0M914.4 65.1a1.75 1.75 0 1 0 3.5 0a1.75 1.75 0 1 0 -3.5 0M914.6 66.1a1.75 1.75 0 1 0 3.5 0a1.75 1.75 0 1 0 -3.5 0M915.2 70.6a1.75 1.75 0 1 0 3.5 0a1.75 1.75 0 1 0 -3.5 0M916.0 66.9a1.75 1.75 0 1 0 3.5 0a1.75 1.75 0 1 0 -3.5 0M917.0 67.0a1.75 1.75 0 1 0 3.5 0a1.75 1.75 0 1 0 -3.5 0M917.3 65.3a1.75 1.75 0 1 0 3.5 0a1.75 1.75 0 1 0 -3.5 0M917.9 69.9a1.75 1.75 0 1 0 3.5 0a1.75 1.75 0 1 0 -3.5 0M918.6 63.1a1.75 1.75 0 1 0 3.5 0a1.75 1.75 0 1 0 -3.5 0M918.9 65.7a1.75 1.75 0 1 0 3.5 0a1.75 1.75 0 1 0 -3.5 0M919.3 67.9a1.75 1.75 0 1 0 3.5 0a1.75 1.75 0 1 0 -3.5 0M920.2 66.7a1.75 1.75 0 1 0 3.5 0a1.75 1.75 0 1 0 -3.5 0M920.6 68.9a1.75 1.75 0 1 0 3.5 0a1.75 1.75 0 1 0 -3.5 0M921.1 67.9a1.75 1.75 0 1 0 3.5 0a1.75 1.75 0 1 0 -3.5 0M921.6 70.3a1.75 1.75 0 1 0 3.5 0a1.75 1.75 0 1 0 -3.5 0M922.1 66.6a1.75 1.75 0 1 0 3.5 0a1.75 1.75 0 1 0 -3.5 0M922.4 66.8a1.75 1.75 0 1 0 3.5 0a1.75 1.75 0 1 0 -3.5 0M922.7 67.8a1.75 1.75 0 1 0 3.5 0a1.75 1.75 0 1 0 -3.5 0M923.6 63.4a1.75 1.75 0 1 0 3.5 0a1.75 1.75 0 1 0 -3.5 0M924.4 70.5a1.75 1.75 0 1 0 3.5 0a1.75 1.75 0 1 0 -3.5 0M925.2 65.6a1.75 1.75 0 1 0 3.5 0a1.75 1.75 0 1 0 -3.5 0M925.6 70.0a1.75 1.75 0 1 0 3.5 0a1.75 1.75 0 1 0 -3.5 0M926.0 70.7a1.75 1.75 0 1 0 3.5 0a1.75 1.75 0 1 0 -3.5 0M926.6 69.9a1.75 1.75 0 1 0 3.5 0a1.75 1.75 0 1 0 -3.5 0M927.1 68.2a1.75 1.75 0 1 0 3.5 0a1.75 1.75 0 1 0 -3.5 0M927.6 66.6a1.75 1.75 0 1 0 3.5 0a1.75 1.75 0 1 0 -3.5 0M928.5 64.6a1.75 1.75 0 1 0 3.5 0a1.75 1.75 0 1 0 -3.5 0M929.0 70.2a1.75 1.75 0 1 0 3.5 0a1.75 1.75 0 1 0 -3.5 0M929.5 69.1a1.75 1.75 0 1 0 3.5 0a1.75 1.75 0 1 0 -3.5 0M930.5 74.8a1.75 1.75 0 1 0 3.5 0a1.75 1.75 0 1 0 -3.5 0M931.1 71.0a1.75 1.75 0 1 0 3.5 0a1.75 1.75 0 1 0 -3.5 0M931.4 73.5a1.75 1.75 0 1 0 3.5 0a1.75 1.75 0 1 0 -3.5 0M932.0 71.7a1.75 1.75 0 1 0 3.5 0a1.75 1.75 0 1 0 -3.5 0M932.7 74.7a1.75 1.75 0 1 0 3.5 0a1.75 1.75 0 1 0 -3.5 0M933.0 73.1a1.75 1.75 0 1 0 3.5 0a1.75 1.75 0 1 0 -3.5 0M933.4 74.2a1.75 1.75 0 1 0 3.5 0a1.75 1.75 0 1 0 -3.5 0M934.2 70.2a1.75 1.75 0 1 0 3.5 0a1.75 1.75 0 1 0 -3.5 0M935.0 73.4a1.75 1.75 0 1 0 3.5 0a1.75 1.75 0 1 0 -3.5 0M935.7 75.0a1.75 1.75 0 1 0 3.5 0a1.75 1.75 0 1 0 -3.5 0M936.6 79.0a1.75 1.75 0 1 0 3.5 0a1.75 1.75 0 1 0 -3.5 0M937.1 76.3a1.75 1.75 0 1 0 3.5 0a1.75 1.75 0 1 0 -3.5 0M937.7 72.2a1.75 1.75 0 1 0 3.5 0a1.75 1.75 0 1 0 -3.5 0M938.5 80.1a1.75 1.75 0 1 0 3.5 0a1.75 1.75 0 1 0 -3.5 0M939.0 76.7a1.75 1.75 0 1 0 3.5 0a1.75 1.75 0 1 0 -3.5 0M939.8 79.0a1.75 1.75 0 1 0 3.5 0a1.75 1.75 0 1 0 -3.5 0M940.2 73.3a1.75 1.75 0 1 0 3.5 0a1.75 1.75 0 1 0 -3.5 0M940.7 70.6a1.75 1.75 0 1 0 3.5 0a1.75 1.75 0 1 0 -3.5 0M941.1 73.8a1.75 1.75 0 1 0 3.5 0a1.75 1.75 0 1 0 -3.5 0M941.7 73.1a1.75 1.75 0 1 0 3.5 0a1.75 1.75 0 1 0 -3.5 0M942.1 76.8a1.75 1.75 0 1 0 3.5 0a1.75 1.75 0 1 0 -3.5 0M942.5 72.9a1.75 1.75 0 1 0 3.5 0a1.75 1.75 0 1 0 -3.5 0M942.9 76.8a1.75 1.75 0 1 0 3.5 0a1.75 1.75 0 1 0 -3.5 0M943.5 78.7a1.75 1.75 0 1 0 3.5 0a1.75 1.75 0 1 0 -3.5 0M943.9 84.1a1.75 1.75 0 1 0 3.5 0a1.75 1.75 0 1 0 -3.5 0M944.5 83.7a1.75 1.75 0 1 0 3.5 0a1.75 1.75 0 1 0 -3.5 0M945.4 87.7a1.75 1.75 0 1 0 3.5 0a1.75 1.75 0 1 0 -3.5 0M946.2 86.7a1.75 1.75 0 1 0 3.5 0a1.75 1.75 0 1 0 -3.5 0M947.0 86.9a1.75 1.75 0 1 0 3.5 0a1.75 1.75 0 1 0 -3.5 0M947.4 85.1a1.75 1.75 0 1 0 3.5 0a1.75 1.75 0 1 0 -3.5 0M947.9 85.9a1.75 1.75 0 1 0 3.5 0a1.75 1.75 0 1 0 -3.5 0M948.2 87.0a1.75 1.75 0 1 0 3.5 0a1.75 1.75 0 1 0 -3.5 0M949.0 84.1a1.75 1.75 0 1 0 3.5 0a1.75 1.75 0 1 0 -3.5 0M949.5 87.7a1.75 1.75 0 1 0 3.5 0a1.75 1.75 0 1 0 -3.5 0M949.9 85.5a1.75 1.75 0 1 0 3.5 0a1.75 1.75 0 1 0 -3.5 0M950.2 87.7a1.75 1.75 0 1 0 3.5 0a1.75 1.75 0 1 0 -3.5 0M950.5 88.8a1.75 1.75 0 1 0 3.5 0a1.75 1.75 0 1 0 -3.5 0M951.0 88.3a1.75 1.75 0 1 0 3.5 0a1.75 1.75 0 1 0 -3.5 0M951.5 83.8a1.75 1.75 0 1 0 3.5 0a1.75 1.75 0 1 0 -3.5 0M952.4 87.8a1.75 1.75 0 1 0 3.5 0a1.75 1.75 0 1 0 -3.5 0M953.2 85.2a1.75 1.75 0 1 0 3.5 0a1.75 1.75 0 1 0 -3.5 0M953.6 85.0a1.75 1.75 0 1 0 3.5 0a1.75 1.75 0 1 0 -3.5 0M954.1 85.4a1.75 1.75 0 1 0 3.5 0a1.75 1.75 0 1 0 -3.5 0M954.5 83.8a1.75 1.75 0 1 0 3.5 0a1.75 1.75 0 1 0 -3.5 0M955.4 86.3a1.75 1.75 0 1 0 3.5 0a1.75 1.75 0 1 0 -3.5 0M955.9 84.7a1.75 1.75 0 1 0 3.5 0a1.75 1.75 0 1 0 -3.5 0M956.6 88.4a1.75 1.75 0 1 0 3.5 0a1.75 1.75 0 1 0 -3.5 0M957.4 88.2a1.75 1.75 0 1 0 3.5 0a1.75 1.75 0 1 0 -3.5 0M958.3 85.4a1.75 1.75 0 1 0 3.5 0a1.75 1.75 0 1 0 -3.5 0M958.5 87.1a1.75 1.75 0 1 0 3.5 0a1.75 1.75 0 1 0 -3.5 0M959.0 87.1a1.75 1.75 0 1 0 3.5 0a1.75 1.75 0 1 0 -3.5 0M959.5 87.7a1.75 1.75 0 1 0 3.5 0a1.75 1.75 0 1 0 -3.5 0M959.9 87.7a1.75 1.75 0 1 0 3.5 0a1.75 1.75 0 1 0 -3.5 0M960.7 89.3a1.75 1.75 0 1 0 3.5 0a1.75 1.75 0 1 0 -3.5 0M961.2 88.6a1.75 1.75 0 1 0 3.5 0a1.75 1.75 0 1 0 -3.5 0M962.0 86.9a1.75 1.75 0 1 0 3.5 0a1.75 1.75 0 1 0 -3.5 0M962.6 89.7a1.75 1.75 0 1 0 3.5 0a1.75 1.75 0 1 0 -3.5 0M962.9 90.6a1.75 1.75 0 1 0 3.5 0a1.75 1.75 0 1 0 -3.5 0M963.4 89.0a1.75 1.75 0 1 0 3.5 0a1.75 1.75 0 1 0 -3.5 0M963.8 91.1a1.75 1.75 0 1 0 3.5 0a1.75 1.75 0 1 0 -3.5 0M964.1 89.7a1.75 1.75 0 1 0 3.5 0a1.75 1.75 0 1 0 -3.5 0M964.5 87.9a1.75 1.75 0 1 0 3.5 0a1.75 1.75 0 1 0 -3.5 0M965.1 88.2a1.75 1.75 0 1 0 3.5 0a1.75 1.75 0 1 0 -3.5 0M965.4 88.9a1.75 1.75 0 1 0 3.5 0a1.75 1.75 0 1 0 -3.5 0M965.9 89.9a1.75 1.75 0 1 0 3.5 0a1.75 1.75 0 1 0 -3.5 0M966.4 89.3a1.75 1.75 0 1 0 3.5 0a1.75 1.75 0 1 0 -3.5 0M967.1 90.8a1.75 1.75 0 1 0 3.5 0a1.75 1.75 0 1 0 -3.5 0M967.4 91.1a1.75 1.75 0 1 0 3.5 0a1.75 1.75 0 1 0 -3.5 0M968.1 87.1a1.75 1.75 0 1 0 3.5 0a1.75 1.75 0 1 0 -3.5 0M968.6 86.8a1.75 1.75 0 1 0 3.5 0a1.75 1.75 0 1 0 -3.5 0M969.3 88.7a1.75 1.75 0 1 0 3.5 0a1.75 1.75 0 1 0 -3.5 0M970.0 89.8a1.75 1.75 0 1 0 3.5 0a1.75 1.75 0 1 0 -3.5 0M970.4 90.6a1.75 1.75 0 1 0 3.5 0a1.75 1.75 0 1 0 -3.5 0M970.8 90.1a1.75 1.75 0 1 0 3.5 0a1.75 1.75 0 1 0 -3.5 0M971.2 90.1a1.75 1.75 0 1 0 3.5 0a1.75 1.75 0 1 0 -3.5 0M972.0 87.2a1.75 1.75 0 1 0 3.5 0a1.75 1.75 0 1 0 -3.5 0M972.5 89.6a1.75 1.75 0 1 0 3.5 0a1.75 1.75 0 1 0 -3.5 0M973.0 87.7a1.75 1.75 0 1 0 3.5 0a1.75 1.75 0 1 0 -3.5 0M973.9 89.7a1.75 1.75 0 1 0 3.5 0a1.75 1.75 0 1 0 -3.5 0M974.3 90.5a1.75 1.75 0 1 0 3.5 0a1.75 1.75 0 1 0 -3.5 0M974.8 86.4a1.75 1.75 0 1 0 3.5 0a1.75 1.75 0 1 0 -3.5 0M975.3 85.9a1.75 1.75 0 1 0 3.5 0a1.75 1.75 0 1 0 -3.5 0M975.7 89.4a1.75 1.75 0 1 0 3.5 0a1.75 1.75 0 1 0 -3.5 0M975.9 83.1a1.75 1.75 0 1 0 3.5 0a1.75 1.75 0 1 0 -3.5 0M976.2 83.0a1.75 1.75 0 1 0 3.5 0a1.75 1.75 0 1 0 -3.5 0M976.9 81.5a1.75 1.75 0 1 0 3.5 0a1.75 1.75 0 1 0 -3.5 0M977.5 80.7a1.75 1.75 0 1 0 3.5 0a1.75 1.75 0 1 0 -3.5 0M978.4 86.0a1.75 1.75 0 1 0 3.5 0a1.75 1.75 0 1 0 -3.5 0M979.3 82.3a1.75 1.75 0 1 0 3.5 0a1.75 1.75 0 1 0 -3.5 0M979.7 82.4a1.75 1.75 0 1 0 3.5 0a1.75 1.75 0 1 0 -3.5 0M980.5 82.0a1.75 1.75 0 1 0 3.5 0a1.75 1.75 0 1 0 -3.5 0M981.4 79.6a1.75 1.75 0 1 0 3.5 0a1.75 1.75 0 1 0 -3.5 0M981.8 85.4a1.75 1.75 0 1 0 3.5 0a1.75 1.75 0 1 0 -3.5 0M982.5 82.5a1.75 1.75 0 1 0 3.5 0a1.75 1.75 0 1 0 -3.5 0M983.2 83.6a1.75 1.75 0 1 0 3.5 0a1.75 1.75 0 1 0 -3.5 0M984.1 86.6a1.75 1.75 0 1 0 3.5 0a1.75 1.75 0 1 0 -3.5 0M985.0 83.3a1.75 1.75 0 1 0 3.5 0a1.75 1.75 0 1 0 -3.5 0M985.4 83.9a1.75 1.75 0 1 0 3.5 0a1.75 1.75 0 1 0 -3.5 0M986.1 83.9a1.75 1.75 0 1 0 3.5 0a1.75 1.75 0 1 0 -3.5 0M986.4 86.3a1.75 1.75 0 1 0 3.5 0a1.75 1.75 0 1 0 -3.5 0M987.0 80.6a1.75 1.75 0 1 0 3.5 0a1.75 1.75 0 1 0 -3.5 0M987.5 82.3a1.75 1.75 0 1 0 3.5 0a1.75 1.75 0 1 0 -3.5 0M987.8 79.4a1.75 1.75 0 1 0 3.5 0a1.75 1.75 0 1 0 -3.5 0M988.3 83.5a1.75 1.75 0 1 0 3.5 0a1.75 1.75 0 1 0 -3.5 0M988.8 84.9a1.75 1.75 0 1 0 3.5 0a1.75 1.75 0 1 0 -3.5 0M989.4 82.5a1.75 1.75 0 1 0 3.5 0a1.75 1.75 0 1 0 -3.5 0M989.8 87.6a1.75 1.75 0 1 0 3.5 0a1.75 1.75 0 1 0 -3.5 0M990.2 85.6a1.75 1.75 0 1 0 3.5 0a1.75 1.75 0 1 0 -3.5 0M990.7 87.6a1.75 1.75 0 1 0 3.5 0a1.75 1.75 0 1 0 -3.5 0M991.3 83.3a1.75 1.75 0 1 0 3.5 0a1.75 1.75 0 1 0 -3.5 0M991.7 82.4a1.75 1.75 0 1 0 3.5 0a1.75 1.75 0 1 0 -3.5 0M992.4 70.8a1.75 1.75 0 1 0 3.5 0a1.75 1.75 0 1 0 -3.5 0M992.8 72.5a1.75 1.75 0 1 0 3.5 0a1.75 1.75 0 1 0 -3.5 0M993.1 71.9a1.75 1.75 0 1 0 3.5 0a1.75 1.75 0 1 0 -3.5 0M993.6 70.9a1.75 1.75 0 1 0 3.5 0a1.75 1.75 0 1 0 -3.5 0M994.1 74.6a1.75 1.75 0 1 0 3.5 0a1.75 1.75 0 1 0 -3.5 0M994.5 73.9a1.75 1.75 0 1 0 3.5 0a1.75 1.75 0 1 0 -3.5 0M995.2 70.4a1.75 1.75 0 1 0 3.5 0a1.75 1.75 0 1 0 -3.5 0M995.9 72.7a1.75 1.75 0 1 0 3.5 0a1.75 1.75 0 1 0 -3.5 0M996.5 71.7a1.75 1.75 0 1 0 3.5 0a1.75 1.75 0 1 0 -3.5 0M997.3 71.7a1.75 1.75 0 1 0 3.5 0a1.75 1.75 0 1 0 -3.5 0M997.5 72.4a1.75 1.75 0 1 0 3.5 0a1.75 1.75 0 1 0 -3.5 0M998.1 70.6a1.75 1.75 0 1 0 3.5 0a1.75 1.75 0 1 0 -3.5 0M998.6 71.7a1.75 1.75 0 1 0 3.5 0a1.75 1.75 0 1 0 -3.5 0M998.9 71.8a1.75 1.75 0 1 0 3.5 0a1.75 1.75 0 1 0 -3.5 0M999.4 70.3a1.75 1.75 0 1 0 3.5 0a1.75 1.75 0 1 0 -3.5 0M999.7 70.3a1.75 1.75 0 1 0 3.5 0a1.75 1.75 0 1 0 -3.5 0M1000.3 72.4a1.75 1.75 0 1 0 3.5 0a1.75 1.75 0 1 0 -3.5 0M1000.9 70.8a1.75 1.75 0 1 0 3.5 0a1.75 1.75 0 1 0 -3.5 0M1001.5 73.6a1.75 1.75 0 1 0 3.5 0a1.75 1.75 0 1 0 -3.5 0M1002.0 73.5a1.75 1.75 0 1 0 3.5 0a1.75 1.75 0 1 0 -3.5 0M1002.4 69.2a1.75 1.75 0 1 0 3.5 0a1.75 1.75 0 1 0 -3.5 0M1002.7 70.8a1.75 1.75 0 1 0 3.5 0a1.75 1.75 0 1 0 -3.5 0M1003.2 66.9a1.75 1.75 0 1 0 3.5 0a1.75 1.75 0 1 0 -3.5 0M1004.1 68.8a1.75 1.75 0 1 0 3.5 0a1.75 1.75 0 1 0 -3.5 0M1004.7 68.2a1.75 1.75 0 1 0 3.5 0a1.75 1.75 0 1 0 -3.5 0M1005.1 68.3a1.75 1.75 0 1 0 3.5 0a1.75 1.75 0 1 0 -3.5 0M1005.9 66.1a1.75 1.75 0 1 0 3.5 0a1.75 1.75 0 1 0 -3.5 0M1006.2 69.7a1.75 1.75 0 1 0 3.5 0a1.75 1.75 0 1 0 -3.5 0M1006.8 69.3a1.75 1.75 0 1 0 3.5 0a1.75 1.75 0 1 0 -3.5 0M1007.5 67.5a1.75 1.75 0 1 0 3.5 0a1.75 1.75 0 1 0 -3.5 0M1008.4 68.5a1.75 1.75 0 1 0 3.5 0a1.75 1.75 0 1 0 -3.5 0M1008.9 70.1a1.75 1.75 0 1 0 3.5 0a1.75 1.75 0 1 0 -3.5 0M1009.6 71.1a1.75 1.75 0 1 0 3.5 0a1.75 1.75 0 1 0 -3.5 0M1010.5 65.7a1.75 1.75 0 1 0 3.5 0a1.75 1.75 0 1 0 -3.5 0M1011.3 70.7a1.75 1.75 0 1 0 3.5 0a1.75 1.75 0 1 0 -3.5 0M1012.0 64.6a1.75 1.75 0 1 0 3.5 0a1.75 1.75 0 1 0 -3.5 0M1012.6 66.8a1.75 1.75 0 1 0 3.5 0a1.75 1.75 0 1 0 -3.5 0M1013.2 68.0a1.75 1.75 0 1 0 3.5 0a1.75 1.75 0 1 0 -3.5 0M1013.7 71.9a1.75 1.75 0 1 0 3.5 0a1.75 1.75 0 1 0 -3.5 0M1014.2 70.5a1.75 1.75 0 1 0 3.5 0a1.75 1.75 0 1 0 -3.5 0M1015.0 71.2a1.75 1.75 0 1 0 3.5 0a1.75 1.75 0 1 0 -3.5 0M1015.9 73.6a1.75 1.75 0 1 0 3.5 0a1.75 1.75 0 1 0 -3.5 0M1016.4 71.6a1.75 1.75 0 1 0 3.5 0a1.75 1.75 0 1 0 -3.5 0M1017.3 71.1a1.75 1.75 0 1 0 3.5 0a1.75 1.75 0 1 0 -3.5 0M1017.5 74.7a1.75 1.75 0 1 0 3.5 0a1.75 1.75 0 1 0 -3.5 0M1017.9 72.0a1.75 1.75 0 1 0 3.5 0a1.75 1.75 0 1 0 -3.5 0M1018.5 70.6a1.75 1.75 0 1 0 3.5 0a1.75 1.75 0 1 0 -3.5 0M1019.0 70.1a1.75 1.75 0 1 0 3.5 0a1.75 1.75 0 1 0 -3.5 0M1019.5 73.7a1.75 1.75 0 1 0 3.5 0a1.75 1.75 0 1 0 -3.5 0M1020.4 77.3a1.75 1.75 0 1 0 3.5 0a1.75 1.75 0 1 0 -3.5 0M1020.7 75.4a1.75 1.75 0 1 0 3.5 0a1.75 1.75 0 1 0 -3.5 0M1021.1 74.3a1.75 1.75 0 1 0 3.5 0a1.75 1.75 0 1 0 -3.5 0M1021.5 76.7a1.75 1.75 0 1 0 3.5 0a1.75 1.75 0 1 0 -3.5 0M1022.3 72.0a1.75 1.75 0 1 0 3.5 0a1.75 1.75 0 1 0 -3.5 0M1022.7 75.7a1.75 1.75 0 1 0 3.5 0a1.75 1.75 0 1 0 -3.5 0M1022.9 74.0a1.75 1.75 0 1 0 3.5 0a1.75 1.75 0 1 0 -3.5 0M1023.6 77.9a1.75 1.75 0 1 0 3.5 0a1.75 1.75 0 1 0 -3.5 0M1024.1 74.0a1.75 1.75 0 1 0 3.5 0a1.75 1.75 0 1 0 -3.5 0M1024.5 77.3a1.75 1.75 0 1 0 3.5 0a1.75 1.75 0 1 0 -3.5 0M1025.1 76.4a1.75 1.75 0 1 0 3.5 0a1.75 1.75 0 1 0 -3.5 0M1025.8 76.4a1.75 1.75 0 1 0 3.5 0a1.75 1.75 0 1 0 -3.5 0M1026.4 78.0a1.75 1.75 0 1 0 3.5 0a1.75 1.75 0 1 0 -3.5 0M1027.1 76.7a1.75 1.75 0 1 0 3.5 0a1.75 1.75 0 1 0 -3.5 0M1027.8 80.1a1.75 1.75 0 1 0 3.5 0a1.75 1.75 0 1 0 -3.5 0M1028.6 77.3a1.75 1.75 0 1 0 3.5 0a1.75 1.75 0 1 0 -3.5 0M1029.5 74.3a1.75 1.75 0 1 0 3.5 0a1.75 1.75 0 1 0 -3.5 0M1030.0 81.2a1.75 1.75 0 1 0 3.5 0a1.75 1.75 0 1 0 -3.5 0M1030.5 81.2a1.75 1.75 0 1 0 3.5 0a1.75 1.75 0 1 0 -3.5 0M1031.4 80.0a1.75 1.75 0 1 0 3.5 0a1.75 1.75 0 1 0 -3.5 0M1031.8 82.0a1.75 1.75 0 1 0 3.5 0a1.75 1.75 0 1 0 -3.5 0M1032.6 80.8a1.75 1.75 0 1 0 3.5 0a1.75 1.75 0 1 0 -3.5 0M1033.3 78.0a1.75 1.75 0 1 0 3.5 0a1.75 1.75 0 1 0 -3.5 0M1034.1 76.3a1.75 1.75 0 1 0 3.5 0a1.75 1.75 0 1 0 -3.5 0M1035.0 78.3a1.75 1.75 0 1 0 3.5 0a1.75 1.75 0 1 0 -3.5 0M1035.8 80.0a1.75 1.75 0 1 0 3.5 0a1.75 1.75 0 1 0 -3.5 0M1036.2 81.7a1.75 1.75 0 1 0 3.5 0a1.75 1.75 0 1 0 -3.5 0M1036.9 78.3a1.75 1.75 0 1 0 3.5 0a1.75 1.75 0 1 0 -3.5 0M1037.5 79.5a1.75 1.75 0 1 0 3.5 0a1.75 1.75 0 1 0 -3.5 0M1038.1 84.1a1.75 1.75 0 1 0 3.5 0a1.75 1.75 0 1 0 -3.5 0M1038.6 80.3a1.75 1.75 0 1 0 3.5 0a1.75 1.75 0 1 0 -3.5 0M1039.1 80.4a1.75 1.75 0 1 0 3.5 0a1.75 1.75 0 1 0 -3.5 0M1039.8 80.4a1.75 1.75 0 1 0 3.5 0a1.75 1.75 0 1 0 -3.5 0M1040.5 84.9a1.75 1.75 0 1 0 3.5 0a1.75 1.75 0 1 0 -3.5 0M1040.9 83.4a1.75 1.75 0 1 0 3.5 0a1.75 1.75 0 1 0 -3.5 0M1041.3 83.6a1.75 1.75 0 1 0 3.5 0a1.75 1.75 0 1 0 -3.5 0M1041.8 84.9a1.75 1.75 0 1 0 3.5 0a1.75 1.75 0 1 0 -3.5 0M1042.2 83.6a1.75 1.75 0 1 0 3.5 0a1.75 1.75 0 1 0 -3.5 0M1042.8 84.2a1.75 1.75 0 1 0 3.5 0a1.75 1.75 0 1 0 -3.5 0M1043.1 82.4a1.75 1.75 0 1 0 3.5 0a1.75 1.75 0 1 0 -3.5 0M1043.4 83.4a1.75 1.75 0 1 0 3.5 0a1.75 1.75 0 1 0 -3.5 0M1043.7 83.2a1.75 1.75 0 1 0 3.5 0a1.75 1.75 0 1 0 -3.5 0M1044.0 83.5a1.75 1.75 0 1 0 3.5 0a1.75 1.75 0 1 0 -3.5 0M1044.8 80.4a1.75 1.75 0 1 0 3.5 0a1.75 1.75 0 1 0 -3.5 0M1045.1 82.4a1.75 1.75 0 1 0 3.5 0a1.75 1.75 0 1 0 -3.5 0M1045.7 82.5a1.75 1.75 0 1 0 3.5 0a1.75 1.75 0 1 0 -3.5 0M1046.4 82.4a1.75 1.75 0 1 0 3.5 0a1.75 1.75 0 1 0 -3.5 0M1047.0 83.9a1.75 1.75 0 1 0 3.5 0a1.75 1.75 0 1 0 -3.5 0M1047.4 87.8a1.75 1.75 0 1 0 3.5 0a1.75 1.75 0 1 0 -3.5 0M1048.2 86.7a1.75 1.75 0 1 0 3.5 0a1.75 1.75 0 1 0 -3.5 0M1049.1 85.0a1.75 1.75 0 1 0 3.5 0a1.75 1.75 0 1 0 -3.5 0M1049.4 85.5a1.75 1.75 0 1 0 3.5 0a1.75 1.75 0 1 0 -3.5 0M1049.8 87.7a1.75 1.75 0 1 0 3.5 0a1.75 1.75 0 1 0 -3.5 0M1050.4 82.5a1.75 1.75 0 1 0 3.5 0a1.75 1.75 0 1 0 -3.5 0M1051.2 85.7a1.75 1.75 0 1 0 3.5 0a1.75 1.75 0 1 0 -3.5 0M1051.8 88.2a1.75 1.75 0 1 0 3.5 0a1.75 1.75 0 1 0 -3.5 0M1052.5 88.5a1.75 1.75 0 1 0 3.5 0a1.75 1.75 0 1 0 -3.5 0M1052.9 86.8a1.75 1.75 0 1 0 3.5 0a1.75 1.75 0 1 0 -3.5 0M1053.7 86.2a1.75 1.75 0 1 0 3.5 0a1.75 1.75 0 1 0 -3.5 0M1054.2 81.6a1.75 1.75 0 1 0 3.5 0a1.75 1.75 0 1 0 -3.5 0M1054.7 83.8a1.75 1.75 0 1 0 3.5 0a1.75 1.75 0 1 0 -3.5 0M1055.4 85.1a1.75 1.75 0 1 0 3.5 0a1.75 1.75 0 1 0 -3.5 0M1056.3 86.0a1.75 1.75 0 1 0 3.5 0a1.75 1.75 0 1 0 -3.5 0M1057.1 86.1a1.75 1.75 0 1 0 3.5 0a1.75 1.75 0 1 0 -3.5 0M1057.7 81.7a1.75 1.75 0 1 0 3.5 0a1.75 1.75 0 1 0 -3.5 0M1058.3 84.3a1.75 1.75 0 1 0 3.5 0a1.75 1.75 0 1 0 -3.5 0M1059.0 85.9a1.75 1.75 0 1 0 3.5 0a1.75 1.75 0 1 0 -3.5 0M1059.7 84.0a1.75 1.75 0 1 0 3.5 0a1.75 1.75 0 1 0 -3.5 0M1060.6 85.1a1.75 1.75 0 1 0 3.5 0a1.75 1.75 0 1 0 -3.5 0M1061.4 86.5a1.75 1.75 0 1 0 3.5 0a1.75 1.75 0 1 0 -3.5 0M1061.7 86.1a1.75 1.75 0 1 0 3.5 0a1.75 1.75 0 1 0 -3.5 0M1062.2 85.9a1.75 1.75 0 1 0 3.5 0a1.75 1.75 0 1 0 -3.5 0M1062.9 86.6a1.75 1.75 0 1 0 3.5 0a1.75 1.75 0 1 0 -3.5 0M1063.3 87.2a1.75 1.75 0 1 0 3.5 0a1.75 1.75 0 1 0 -3.5 0M1063.7 84.4a1.75 1.75 0 1 0 3.5 0a1.75 1.75 0 1 0 -3.5 0M1064.0 82.9a1.75 1.75 0 1 0 3.5 0a1.75 1.75 0 1 0 -3.5 0M1064.6 83.3a1.75 1.75 0 1 0 3.5 0a1.75 1.75 0 1 0 -3.5 0M1065.6 83.3a1.75 1.75 0 1 0 3.5 0a1.75 1.75 0 1 0 -3.5 0M1066.5 83.7a1.75 1.75 0 1 0 3.5 0a1.75 1.75 0 1 0 -3.5 0M1066.8 80.9a1.75 1.75 0 1 0 3.5 0a1.75 1.75 0 1 0 -3.5 0M1067.6 82.0a1.75 1.75 0 1 0 3.5 0a1.75 1.75 0 1 0 -3.5 0M1068.1 82.7a1.75 1.75 0 1 0 3.5 0a1.75 1.75 0 1 0 -3.5 0M1068.8 85.4a1.75 1.75 0 1 0 3.5 0a1.75 1.75 0 1 0 -3.5 0M1069.3 83.6a1.75 1.75 0 1 0 3.5 0a1.75 1.75 0 1 0 -3.5 0M1070.2 82.0a1.75 1.75 0 1 0 3.5 0a1.75 1.75 0 1 0 -3.5 0M1071.2 82.8a1.75 1.75 0 1 0 3.5 0a1.75 1.75 0 1 0 -3.5 0M1071.5 81.2a1.75 1.75 0 1 0 3.5 0a1.75 1.75 0 1 0 -3.5 0M1072.2 80.5a1.75 1.75 0 1 0 3.5 0a1.75 1.75 0 1 0 -3.5 0M1072.5 81.5a1.75 1.75 0 1 0 3.5 0a1.75 1.75 0 1 0 -3.5 0M1072.8 80.0a1.75 1.75 0 1 0 3.5 0a1.75 1.75 0 1 0 -3.5 0M1073.3 79.2a1.75 1.75 0 1 0 3.5 0a1.75 1.75 0 1 0 -3.5 0M1074.0 79.3a1.75 1.75 0 1 0 3.5 0a1.75 1.75 0 1 0 -3.5 0M1075.0 76.2a1.75 1.75 0 1 0 3.5 0a1.75 1.75 0 1 0 -3.5 0M1075.3 76.8a1.75 1.75 0 1 0 3.5 0a1.75 1.75 0 1 0 -3.5 0M1075.8 73.3a1.75 1.75 0 1 0 3.5 0a1.75 1.75 0 1 0 -3.5 0M1076.1 75.2a1.75 1.75 0 1 0 3.5 0a1.75 1.75 0 1 0 -3.5 0M1076.7 77.4a1.75 1.75 0 1 0 3.5 0a1.75 1.75 0 1 0 -3.5 0M1077.3 74.0a1.75 1.75 0 1 0 3.5 0a1.75 1.75 0 1 0 -3.5 0M1077.8 74.1a1.75 1.75 0 1 0 3.5 0a1.75 1.75 0 1 0 -3.5 0M1078.3 72.9a1.75 1.75 0 1 0 3.5 0a1.75 1.75 0 1 0 -3.5 0M1079.1 71.1a1.75 1.75 0 1 0 3.5 0a1.75 1.75 0 1 0 -3.5 0M1079.9 72.7a1.75 1.75 0 1 0 3.5 0a1.75 1.75 0 1 0 -3.5 0M1080.4 71.4a1.75 1.75 0 1 0 3.5 0a1.75 1.75 0 1 0 -3.5 0M1080.9 72.8a1.75 1.75 0 1 0 3.5 0a1.75 1.75 0 1 0 -3.5 0M1081.6 68.7a1.75 1.75 0 1 0 3.5 0a1.75 1.75 0 1 0 -3.5 0M1082.3 69.5a1.75 1.75 0 1 0 3.5 0a1.75 1.75 0 1 0 -3.5 0M1083.3 67.9a1.75 1.75 0 1 0 3.5 0a1.75 1.75 0 1 0 -3.5 0M1083.8 66.9a1.75 1.75 0 1 0 3.5 0a1.75 1.75 0 1 0 -3.5 0M1084.5 69.8a1.75 1.75 0 1 0 3.5 0a1.75 1.75 0 1 0 -3.5 0M1085.2 66.2a1.75 1.75 0 1 0 3.5 0a1.75 1.75 0 1 0 -3.5 0M1086.0 66.1a1.75 1.75 0 1 0 3.5 0a1.75 1.75 0 1 0 -3.5 0M1086.3 71.1a1.75 1.75 0 1 0 3.5 0a1.75 1.75 0 1 0 -3.5 0M1086.7 67.2a1.75 1.75 0 1 0 3.5 0a1.75 1.75 0 1 0 -3.5 0M1087.0 66.9a1.75 1.75 0 1 0 3.5 0a1.75 1.75 0 1 0 -3.5 0M1087.9 68.1a1.75 1.75 0 1 0 3.5 0a1.75 1.75 0 1 0 -3.5 0M1088.4 65.2a1.75 1.75 0 1 0 3.5 0a1.75 1.75 0 1 0 -3.5 0M1088.9 67.7a1.75 1.75 0 1 0 3.5 0a1.75 1.75 0 1 0 -3.5 0M1089.3 64.7a1.75 1.75 0 1 0 3.5 0a1.75 1.75 0 1 0 -3.5 0M1089.8 65.9a1.75 1.75 0 1 0 3.5 0a1.75 1.75 0 1 0 -3.5 0M1090.0 65.7a1.75 1.75 0 1 0 3.5 0a1.75 1.75 0 1 0 -3.5 0M1090.7 69.3a1.75 1.75 0 1 0 3.5 0a1.75 1.75 0 1 0 -3.5 0M1091.0 67.8a1.75 1.75 0 1 0 3.5 0a1.75 1.75 0 1 0 -3.5 0M1091.7 70.0a1.75 1.75 0 1 0 3.5 0a1.75 1.75 0 1 0 -3.5 0M1092.2 69.6a1.75 1.75 0 1 0 3.5 0a1.75 1.75 0 1 0 -3.5 0M1092.6 65.1a1.75 1.75 0 1 0 3.5 0a1.75 1.75 0 1 0 -3.5 0M1093.1 67.3a1.75 1.75 0 1 0 3.5 0a1.75 1.75 0 1 0 -3.5 0M1093.7 65.3a1.75 1.75 0 1 0 3.5 0a1.75 1.75 0 1 0 -3.5 0M1094.1 64.9a1.75 1.75 0 1 0 3.5 0a1.75 1.75 0 1 0 -3.5 0M1094.4 68.3a1.75 1.75 0 1 0 3.5 0a1.75 1.75 0 1 0 -3.5 0M1094.7 68.7a1.75 1.75 0 1 0 3.5 0a1.75 1.75 0 1 0 -3.5 0M1095.5 66.2a1.75 1.75 0 1 0 3.5 0a1.75 1.75 0 1 0 -3.5 0M1096.0 66.9a1.75 1.75 0 1 0 3.5 0a1.75 1.75 0 1 0 -3.5 0M1096.3 67.0a1.75 1.75 0 1 0 3.5 0a1.75 1.75 0 1 0 -3.5 0M1096.7 67.3a1.75 1.75 0 1 0 3.5 0a1.75 1.75 0 1 0 -3.5 0M1097.3 67.7a1.75 1.75 0 1 0 3.5 0a1.75 1.75 0 1 0 -3.5 0M1098.2 65.5a1.75 1.75 0 1 0 3.5 0a1.75 1.75 0 1 0 -3.5 0M1098.6 69.0a1.75 1.75 0 1 0 3.5 0a1.75 1.75 0 1 0 -3.5 0M1099.5 66.8a1.75 1.75 0 1 0 3.5 0a1.75 1.75 0 1 0 -3.5 0M1100.1 66.1a1.75 1.75 0 1 0 3.5 0a1.75 1.75 0 1 0 -3.5 0M1100.6 68.6a1.75 1.75 0 1 0 3.5 0a1.75 1.75 0 1 0 -3.5 0M1101.4 69.9a1.75 1.75 0 1 0 3.5 0a1.75 1.75 0 1 0 -3.5 0M1101.9 71.4a1.75 1.75 0 1 0 3.5 0a1.75 1.75 0 1 0 -3.5 0M1102.2 70.6a1.75 1.75 0 1 0 3.5 0a1.75 1.75 0 1 0 -3.5 0M1102.9 70.8a1.75 1.75 0 1 0 3.5 0a1.75 1.75 0 1 0 -3.5 0M1103.6 69.1a1.75 1.75 0 1 0 3.5 0a1.75 1.75 0 1 0 -3.5 0M1104.3 71.8a1.75 1.75 0 1 0 3.5 0a1.75 1.75 0 1 0 -3.5 0M1104.7 71.7a1.75 1.75 0 1 0 3.5 0a1.75 1.75 0 1 0 -3.5 0M1105.6 72.4a1.75 1.75 0 1 0 3.5 0a1.75 1.75 0 1 0 -3.5 0M1106.5 70.4a1.75 1.75 0 1 0 3.5 0a1.75 1.75 0 1 0 -3.5 0M1107.4 75.8a1.75 1.75 0 1 0 3.5 0a1.75 1.75 0 1 0 -3.5 0M1108.0 73.9a1.75 1.75 0 1 0 3.5 0a1.75 1.75 0 1 0 -3.5 0M1108.8 73.8a1.75 1.75 0 1 0 3.5 0a1.75 1.75 0 1 0 -3.5 0M1109.6 72.9a1.75 1.75 0 1 0 3.5 0a1.75 1.75 0 1 0 -3.5 0M1109.9 72.3a1.75 1.75 0 1 0 3.5 0a1.75 1.75 0 1 0 -3.5 0M1110.2 74.4a1.75 1.75 0 1 0 3.5 0a1.75 1.75 0 1 0 -3.5 0M1110.6 71.1a1.75 1.75 0 1 0 3.5 0a1.75 1.75 0 1 0 -3.5 0M1110.9 73.2a1.75 1.75 0 1 0 3.5 0a1.75 1.75 0 1 0 -3.5 0M1111.2 74.1a1.75 1.75 0 1 0 3.5 0a1.75 1.75 0 1 0 -3.5 0M1111.7 76.7a1.75 1.75 0 1 0 3.5 0a1.75 1.75 0 1 0 -3.5 0M1112.5 76.4a1.75 1.75 0 1 0 3.5 0a1.75 1.75 0 1 0 -3.5 0M1113.0 81.2a1.75 1.75 0 1 0 3.5 0a1.75 1.75 0 1 0 -3.5 0M1113.6 74.7a1.75 1.75 0 1 0 3.5 0a1.75 1.75 0 1 0 -3.5 0M1113.8 83.5a1.75 1.75 0 1 0 3.5 0a1.75 1.75 0 1 0 -3.5 0M1114.2 81.1a1.75 1.75 0 1 0 3.5 0a1.75 1.75 0 1 0 -3.5 0M1115.1 84.7a1.75 1.75 0 1 0 3.5 0a1.75 1.75 0 1 0 -3.5 0M1115.4 81.0a1.75 1.75 0 1 0 3.5 0a1.75 1.75 0 1 0 -3.5 0M1116.0 86.9a1.75 1.75 0 1 0 3.5 0a1.75 1.75 0 1 0 -3.5 0M1116.8 83.1a1.75 1.75 0 1 0 3.5 0a1.75 1.75 0 1 0 -3.5 0M1117.6 84.9a1.75 1.75 0 1 0 3.5 0a1.75 1.75 0 1 0 -3.5 0M1118.4 79.5a1.75 1.75 0 1 0 3.5 0a1.75 1.75 0 1 0 -3.5 0M1118.9 85.7a1.75 1.75 0 1 0 3.5 0a1.75 1.75 0 1 0 -3.5 0M1119.8 84.3a1.75 1.75 0 1 0 3.5 0a1.75 1.75 0 1 0 -3.5 0M1120.6 78.1a1.75 1.75 0 1 0 3.5 0a1.75 1.75 0 1 0 -3.5 0M1121.4 83.3a1.75 1.75 0 1 0 3.5 0a1.75 1.75 0 1 0 -3.5 0M1122.3 82.6a1.75 1.75 0 1 0 3.5 0a1.75 1.75 0 1 0 -3.5 0M1122.6 85.8a1.75 1.75 0 1 0 3.5 0a1.75 1.75 0 1 0 -3.5 0M1123.5 81.4a1.75 1.75 0 1 0 3.5 0a1.75 1.75 0 1 0 -3.5 0M1124.1 83.8a1.75 1.75 0 1 0 3.5 0a1.75 1.75 0 1 0 -3.5 0M1124.8 86.7a1.75 1.75 0 1 0 3.5 0a1.75 1.75 0 1 0 -3.5 0M1125.2 80.7a1.75 1.75 0 1 0 3.5 0a1.75 1.75 0 1 0 -3.5 0M1126.1 87.9a1.75 1.75 0 1 0 3.5 0a1.75 1.75 0 1 0 -3.5 0M1126.4 83.5a1.75 1.75 0 1 0 3.5 0a1.75 1.75 0 1 0 -3.5 0M1127.1 82.2a1.75 1.75 0 1 0 3.5 0a1.75 1.75 0 1 0 -3.5 0M1127.5 79.2a1.75 1.75 0 1 0 3.5 0a1.75 1.75 0 1 0 -3.5 0M1128.0 78.1a1.75 1.75 0 1 0 3.5 0a1.75 1.75 0 1 0 -3.5 0M1128.5 85.0a1.75 1.75 0 1 0 3.5 0a1.75 1.75 0 1 0 -3.5 0M1129.2 81.3a1.75 1.75 0 1 0 3.5 0a1.75 1.75 0 1 0 -3.5 0M1130.0 80.8a1.75 1.75 0 1 0 3.5 0a1.75 1.75 0 1 0 -3.5 0M1130.5 84.8a1.75 1.75 0 1 0 3.5 0a1.75 1.75 0 1 0 -3.5 0M1131.2 83.8a1.75 1.75 0 1 0 3.5 0a1.75 1.75 0 1 0 -3.5 0M1131.7 82.4a1.75 1.75 0 1 0 3.5 0a1.75 1.75 0 1 0 -3.5 0M1132.2 78.7a1.75 1.75 0 1 0 3.5 0a1.75 1.75 0 1 0 -3.5 0M1133.0 77.8a1.75 1.75 0 1 0 3.5 0a1.75 1.75 0 1 0 -3.5 0M1133.5 84.3a1.75 1.75 0 1 0 3.5 0a1.75 1.75 0 1 0 -3.5 0M1133.8 82.0a1.75 1.75 0 1 0 3.5 0a1.75 1.75 0 1 0 -3.5 0M1134.3 81.6a1.75 1.75 0 1 0 3.5 0a1.75 1.75 0 1 0 -3.5 0M1135.1 86.3a1.75 1.75 0 1 0 3.5 0a1.75 1.75 0 1 0 -3.5 0M1135.5 81.2a1.75 1.75 0 1 0 3.5 0a1.75 1.75 0 1 0 -3.5 0M1136.3 82.9a1.75 1.75 0 1 0 3.5 0a1.75 1.75 0 1 0 -3.5 0M1136.9 86.2a1.75 1.75 0 1 0 3.5 0a1.75 1.75 0 1 0 -3.5 0M1137.6 83.4a1.75 1.75 0 1 0 3.5 0a1.75 1.75 0 1 0 -3.5 0M1138.0 81.0a1.75 1.75 0 1 0 3.5 0a1.75 1.75 0 1 0 -3.5 0M1138.3 80.4a1.75 1.75 0 1 0 3.5 0a1.75 1.75 0 1 0 -3.5 0M1138.7 84.6a1.75 1.75 0 1 0 3.5 0a1.75 1.75 0 1 0 -3.5 0M1139.2 79.7a1.75 1.75 0 1 0 3.5 0a1.75 1.75 0 1 0 -3.5 0M1139.7 83.8a1.75 1.75 0 1 0 3.5 0a1.75 1.75 0 1 0 -3.5 0M1140.0 85.3a1.75 1.75 0 1 0 3.5 0a1.75 1.75 0 1 0 -3.5 0M1140.6 81.8a1.75 1.75 0 1 0 3.5 0a1.75 1.75 0 1 0 -3.5 0M1141.1 83.1a1.75 1.75 0 1 0 3.5 0a1.75 1.75 0 1 0 -3.5 0M1141.6 81.2a1.75 1.75 0 1 0 3.5 0a1.75 1.75 0 1 0 -3.5 0M1142.2 83.3a1.75 1.75 0 1 0 3.5 0a1.75 1.75 0 1 0 -3.5 0M1143.1 80.2a1.75 1.75 0 1 0 3.5 0a1.75 1.75 0 1 0 -3.5 0M1143.5 77.9a1.75 1.75 0 1 0 3.5 0a1.75 1.75 0 1 0 -3.5 0M1144.4 79.3a1.75 1.75 0 1 0 3.5 0a1.75 1.75 0 1 0 -3.5 0M1144.9 78.4a1.75 1.75 0 1 0 3.5 0a1.75 1.75 0 1 0 -3.5 0M1145.6 76.1a1.75 1.75 0 1 0 3.5 0a1.75 1.75 0 1 0 -3.5 0M1146.0 76.6a1.75 1.75 0 1 0 3.5 0a1.75 1.75 0 1 0 -3.5 0M1146.9 73.7a1.75 1.75 0 1 0 3.5 0a1.75 1.75 0 1 0 -3.5 0M1147.5 74.0a1.75 1.75 0 1 0 3.5 0a1.75 1.75 0 1 0 -3.5 0M1148.4 76.4a1.75 1.75 0 1 0 3.5 0a1.75 1.75 0 1 0 -3.5 0M1148.8 70.5a1.75 1.75 0 1 0 3.5 0a1.75 1.75 0 1 0 -3.5 0M1149.3 74.6a1.75 1.75 0 1 0 3.5 0a1.75 1.75 0 1 0 -3.5 0M1150.1 73.3a1.75 1.75 0 1 0 3.5 0a1.75 1.75 0 1 0 -3.5 0M1150.4 71.6a1.75 1.75 0 1 0 3.5 0a1.75 1.75 0 1 0 -3.5 0M1150.9 75.7a1.75 1.75 0 1 0 3.5 0a1.75 1.75 0 1 0 -3.5 0M1151.6 73.4a1.75 1.75 0 1 0 3.5 0a1.75 1.75 0 1 0 -3.5 0M1152.5 69.5a1.75 1.75 0 1 0 3.5 0a1.75 1.75 0 1 0 -3.5 0M1153.0 70.9a1.75 1.75 0 1 0 3.5 0a1.75 1.75 0 1 0 -3.5 0M1153.4 72.3a1.75 1.75 0 1 0 3.5 0a1.75 1.75 0 1 0 -3.5 0M1153.9 65.8a1.75 1.75 0 1 0 3.5 0a1.75 1.75 0 1 0 -3.5 0M1154.8 69.2a1.75 1.75 0 1 0 3.5 0a1.75 1.75 0 1 0 -3.5 0M1155.2 67.7a1.75 1.75 0 1 0 3.5 0a1.75 1.75 0 1 0 -3.5 0M1155.9 68.6a1.75 1.75 0 1 0 3.5 0a1.75 1.75 0 1 0 -3.5 0M1156.4 72.1a1.75 1.75 0 1 0 3.5 0a1.75 1.75 0 1 0 -3.5 0M1157.1 65.7a1.75 1.75 0 1 0 3.5 0a1.75 1.75 0 1 0 -3.5 0M1157.5 66.5a1.75 1.75 0 1 0 3.5 0a1.75 1.75 0 1 0 -3.5 0M1158.2 64.3a1.75 1.75 0 1 0 3.5 0a1.75 1.75 0 1 0 -3.5 0M1159.0 68.0a1.75 1.75 0 1 0 3.5 0a1.75 1.75 0 1 0 -3.5 0M1159.9 69.1a1.75 1.75 0 1 0 3.5 0a1.75 1.75 0 1 0 -3.5 0M1160.6 62.6a1.75 1.75 0 1 0 3.5 0a1.75 1.75 0 1 0 -3.5 0M1161.2 71.4a1.75 1.75 0 1 0 3.5 0a1.75 1.75 0 1 0 -3.5 0M1161.8 71.7a1.75 1.75 0 1 0 3.5 0a1.75 1.75 0 1 0 -3.5 0M1162.1 62.6a1.75 1.75 0 1 0 3.5 0a1.75 1.75 0 1 0 -3.5 0M1163.0 63.7a1.75 1.75 0 1 0 3.5 0a1.75 1.75 0 1 0 -3.5 0M1163.7 68.9a1.75 1.75 0 1 0 3.5 0a1.75 1.75 0 1 0 -3.5 0M1164.3 68.0a1.75 1.75 0 1 0 3.5 0a1.75 1.75 0 1 0 -3.5 0M1165.0 70.9a1.75 1.75 0 1 0 3.5 0a1.75 1.75 0 1 0 -3.5 0M1165.5 67.1a1.75 1.75 0 1 0 3.5 0a1.75 1.75 0 1 0 -3.5 0M1166.1 71.3a1.75 1.75 0 1 0 3.5 0a1.75 1.75 0 1 0 -3.5 0M1166.5 64.2a1.75 1.75 0 1 0 3.5 0a1.75 1.75 0 1 0 -3.5 0M1167.1 69.0a1.75 1.75 0 1 0 3.5 0a1.75 1.75 0 1 0 -3.5 0M1167.8 66.8a1.75 1.75 0 1 0 3.5 0a1.75 1.75 0 1 0 -3.5 0M1168.4 66.7a1.75 1.75 0 1 0 3.5 0a1.75 1.75 0 1 0 -3.5 0M1168.7 63.2a1.75 1.75 0 1 0 3.5 0a1.75 1.75 0 1 0 -3.5 0M1169.4 66.9a1.75 1.75 0 1 0 3.5 0a1.75 1.75 0 1 0 -3.5 0M1169.9 71.8a1.75 1.75 0 1 0 3.5 0a1.75 1.75 0 1 0 -3.5 0M1170.6 66.4a1.75 1.75 0 1 0 3.5 0a1.75 1.75 0 1 0 -3.5 0M1171.3 67.5a1.75 1.75 0 1 0 3.5 0a1.75 1.75 0 1 0 -3.5 0M1172.2 68.6a1.75 1.75 0 1 0 3.5 0a1.75 1.75 0 1 0 -3.5 0M1172.5 65.6a1.75 1.75 0 1 0 3.5 0a1.75 1.75 0 1 0 -3.5 0M1173.1 69.0a1.75 1.75 0 1 0 3.5 0a1.75 1.75 0 1 0 -3.5 0M1174.0 69.9a1.75 1.75 0 1 0 3.5 0a1.75 1.75 0 1 0 -3.5 0M1174.8 68.4a1.75 1.75 0 1 0 3.5 0a1.75 1.75 0 1 0 -3.5 0M1175.3 64.6a1.75 1.75 0 1 0 3.5 0a1.75 1.75 0 1 0 -3.5 0M1176.0 75.0a1.75 1.75 0 1 0 3.5 0a1.75 1.75 0 1 0 -3.5 0M1177.0 72.2a1.75 1.75 0 1 0 3.5 0a1.75 1.75 0 1 0 -3.5 0M1177.5 72.7a1.75 1.75 0 1 0 3.5 0a1.75 1.75 0 1 0 -3.5 0M1178.4 73.2a1.75 1.75 0 1 0 3.5 0a1.75 1.75 0 1 0 -3.5 0M1178.7 72.2a1.75 1.75 0 1 0 3.5 0a1.75 1.75 0 1 0 -3.5 0M1179.7 69.6a1.75 1.75 0 1 0 3.5 0a1.75 1.75 0 1 0 -3.5 0M1180.3 73.7a1.75 1.75 0 1 0 3.5 0a1.75 1.75 0 1 0 -3.5 0M1180.7 74.2a1.75 1.75 0 1 0 3.5 0a1.75 1.75 0 1 0 -3.5 0M1181.5 76.2a1.75 1.75 0 1 0 3.5 0a1.75 1.75 0 1 0 -3.5 0M1182.2 77.6a1.75 1.75 0 1 0 3.5 0a1.75 1.75 0 1 0 -3.5 0M1183.1 72.2a1.75 1.75 0 1 0 3.5 0a1.75 1.75 0 1 0 -3.5 0M1183.9 77.3a1.75 1.75 0 1 0 3.5 0a1.75 1.75 0 1 0 -3.5 0M1184.8 74.1a1.75 1.75 0 1 0 3.5 0a1.75 1.75 0 1 0 -3.5 0M1185.4 75.1a1.75 1.75 0 1 0 3.5 0a1.75 1.75 0 1 0 -3.5 0M1186.3 72.0a1.75 1.75 0 1 0 3.5 0a1.75 1.75 0 1 0 -3.5 0M1186.6 74.6a1.75 1.75 0 1 0 3.5 0a1.75 1.75 0 1 0 -3.5 0M1187.5 72.1a1.75 1.75 0 1 0 3.5 0a1.75 1.75 0 1 0 -3.5 0M1188.2 75.2a1.75 1.75 0 1 0 3.5 0a1.75 1.75 0 1 0 -3.5 0M1188.6 71.6a1.75 1.75 0 1 0 3.5 0a1.75 1.75 0 1 0 -3.5 0M1189.4 74.0a1.75 1.75 0 1 0 3.5 0a1.75 1.75 0 1 0 -3.5 0M1190.0 73.2a1.75 1.75 0 1 0 3.5 0a1.75 1.75 0 1 0 -3.5 0M1190.6 74.6a1.75 1.75 0 1 0 3.5 0a1.75 1.75 0 1 0 -3.5 0M1191.5 74.4a1.75 1.75 0 1 0 3.5 0a1.75 1.75 0 1 0 -3.5 0M1191.9 74.3a1.75 1.75 0 1 0 3.5 0a1.75 1.75 0 1 0 -3.5 0M1192.3 73.0a1.75 1.75 0 1 0 3.5 0a1.75 1.75 0 1 0 -3.5 0M1193.0 75.6a1.75 1.75 0 1 0 3.5 0a1.75 1.75 0 1 0 -3.5 0M1193.3 75.1a1.75 1.75 0 1 0 3.5 0a1.75 1.75 0 1 0 -3.5 0M1194.0 72.6a1.75 1.75 0 1 0 3.5 0a1.75 1.75 0 1 0 -3.5 0M1194.8 75.4a1.75 1.75 0 1 0 3.5 0a1.75 1.75 0 1 0 -3.5 0M1195.4 72.8a1.75 1.75 0 1 0 3.5 0a1.75 1.75 0 1 0 -3.5 0M1195.8 74.2a1.75 1.75 0 1 0 3.5 0a1.75 1.75 0 1 0 -3.5 0M1196.6 73.9a1.75 1.75 0 1 0 3.5 0a1.75 1.75 0 1 0 -3.5 0M1197.4 73.9a1.75 1.75 0 1 0 3.5 0a1.75 1.75 0 1 0 -3.5 0M1198.2 75.5a1.75 1.75 0 1 0 3.5 0a1.75 1.75 0 1 0 -3.5 0M1198.9 70.8a1.75 1.75 0 1 0 3.5 0a1.75 1.75 0 1 0 -3.5 0M1199.8 76.4a1.75 1.75 0 1 0 3.5 0a1.75 1.75 0 1 0 -3.5 0M1200.6 70.9a1.75 1.75 0 1 0 3.5 0a1.75 1.75 0 1 0 -3.5 0M1200.9 76.4a1.75 1.75 0 1 0 3.5 0a1.75 1.75 0 1 0 -3.5 0M1201.4 75.2a1.75 1.75 0 1 0 3.5 0a1.75 1.75 0 1 0 -3.5 0M1201.7 71.4a1.75 1.75 0 1 0 3.5 0a1.75 1.75 0 1 0 -3.5 0M1202.0 74.8a1.75 1.75 0 1 0 3.5 0a1.75 1.75 0 1 0 -3.5 0M1202.5 73.6a1.75 1.75 0 1 0 3.5 0a1.75 1.75 0 1 0 -3.5 0M1203.4 72.0a1.75 1.75 0 1 0 3.5 0a1.75 1.75 0 1 0 -3.5 0M1204.2 76.4a1.75 1.75 0 1 0 3.5 0a1.75 1.75 0 1 0 -3.5 0M1204.5 76.2a1.75 1.75 0 1 0 3.5 0a1.75 1.75 0 1 0 -3.5 0M1204.9 74.9a1.75 1.75 0 1 0 3.5 0a1.75 1.75 0 1 0 -3.5 0M1205.4 77.2a1.75 1.75 0 1 0 3.5 0a1.75 1.75 0 1 0 -3.5 0M1206.3 74.5a1.75 1.75 0 1 0 3.5 0a1.75 1.75 0 1 0 -3.5 0M1207.0 73.7a1.75 1.75 0 1 0 3.5 0a1.75 1.75 0 1 0 -3.5 0M1207.8 76.6a1.75 1.75 0 1 0 3.5 0a1.75 1.75 0 1 0 -3.5 0M1208.1 72.9a1.75 1.75 0 1 0 3.5 0a1.75 1.75 0 1 0 -3.5 0M1209.1 75.7a1.75 1.75 0 1 0 3.5 0a1.75 1.75 0 1 0 -3.5 0M1209.5 76.3a1.75 1.75 0 1 0 3.5 0a1.75 1.75 0 1 0 -3.5 0M1210.2 74.7a1.75 1.75 0 1 0 3.5 0a1.75 1.75 0 1 0 -3.5 0M1211.0 74.5a1.75 1.75 0 1 0 3.5 0a1.75 1.75 0 1 0 -3.5 0M1211.8 75.2a1.75 1.75 0 1 0 3.5 0a1.75 1.75 0 1 0 -3.5 0M1212.2 74.8a1.75 1.75 0 1 0 3.5 0a1.75 1.75 0 1 0 -3.5 0M1212.9 73.0a1.75 1.75 0 1 0 3.5 0a1.75 1.75 0 1 0 -3.5 0M1213.4 70.6a1.75 1.75 0 1 0 3.5 0a1.75 1.75 0 1 0 -3.5 0M1213.7 73.4a1.75 1.75 0 1 0 3.5 0a1.75 1.75 0 1 0 -3.5 0M1214.2 71.6a1.75 1.75 0 1 0 3.5 0a1.75 1.75 0 1 0 -3.5 0M1214.7 76.2a1.75 1.75 0 1 0 3.5 0a1.75 1.75 0 1 0 -3.5 0M1215.4 73.5a1.75 1.75 0 1 0 3.5 0a1.75 1.75 0 1 0 -3.5 0M1215.8 74.8a1.75 1.75 0 1 0 3.5 0a1.75 1.75 0 1 0 -3.5 0M1216.5 75.8a1.75 1.75 0 1 0 3.5 0a1.75 1.75 0 1 0 -3.5 0M1217.2 76.3a1.75 1.75 0 1 0 3.5 0a1.75 1.75 0 1 0 -3.5 0M1217.6 72.6a1.75 1.75 0 1 0 3.5 0a1.75 1.75 0 1 0 -3.5 0M1217.9 77.7a1.75 1.75 0 1 0 3.5 0a1.75 1.75 0 1 0 -3.5 0M1218.7 76.2a1.75 1.75 0 1 0 3.5 0a1.75 1.75 0 1 0 -3.5 0M1219.2 75.6a1.75 1.75 0 1 0 3.5 0a1.75 1.75 0 1 0 -3.5 0M1219.6 72.7a1.75 1.75 0 1 0 3.5 0a1.75 1.75 0 1 0 -3.5 0M1219.9 77.8a1.75 1.75 0 1 0 3.5 0a1.75 1.75 0 1 0 -3.5 0M1220.8 75.7a1.75 1.75 0 1 0 3.5 0a1.75 1.75 0 1 0 -3.5 0M1221.5 76.6a1.75 1.75 0 1 0 3.5 0a1.75 1.75 0 1 0 -3.5 0M1222.0 73.9a1.75 1.75 0 1 0 3.5 0a1.75 1.75 0 1 0 -3.5 0M1222.4 77.8a1.75 1.75 0 1 0 3.5 0a1.75 1.75 0 1 0 -3.5 0M1223.3 77.3a1.75 1.75 0 1 0 3.5 0a1.75 1.75 0 1 0 -3.5 0M1224.1 74.0a1.75 1.75 0 1 0 3.5 0a1.75 1.75 0 1 0 -3.5 0M1224.8 77.4a1.75 1.75 0 1 0 3.5 0a1.75 1.75 0 1 0 -3.5 0M1225.3 71.6a1.75 1.75 0 1 0 3.5 0a1.75 1.75 0 1 0 -3.5 0M1225.8 75.3a1.75 1.75 0 1 0 3.5 0a1.75 1.75 0 1 0 -3.5 0M1226.3 74.7a1.75 1.75 0 1 0 3.5 0a1.75 1.75 0 1 0 -3.5 0M1226.7 74.7a1.75 1.75 0 1 0 3.5 0a1.75 1.75 0 1 0 -3.5 0M1227.4 71.5a1.75 1.75 0 1 0 3.5 0a1.75 1.75 0 1 0 -3.5 0M1227.9 72.0a1.75 1.75 0 1 0 3.5 0a1.75 1.75 0 1 0 -3.5 0M1228.7 74.5a1.75 1.75 0 1 0 3.5 0a1.75 1.75 0 1 0 -3.5 0M1229.3 74.6a1.75 1.75 0 1 0 3.5 0a1.75 1.75 0 1 0 -3.5 0M1229.9 72.0a1.75 1.75 0 1 0 3.5 0a1.75 1.75 0 1 0 -3.5 0M1230.5 71.3a1.75 1.75 0 1 0 3.5 0a1.75 1.75 0 1 0 -3.5 0M1231.4 70.4a1.75 1.75 0 1 0 3.5 0a1.75 1.75 0 1 0 -3.5 0M1231.9 74.3a1.75 1.75 0 1 0 3.5 0a1.75 1.75 0 1 0 -3.5 0M1232.6 70.8a1.75 1.75 0 1 0 3.5 0a1.75 1.75 0 1 0 -3.5 0M1233.0 69.7a1.75 1.75 0 1 0 3.5 0a1.75 1.75 0 1 0 -3.5 0M1233.7 66.3a1.75 1.75 0 1 0 3.5 0a1.75 1.75 0 1 0 -3.5 0M1234.1 66.4a1.75 1.75 0 1 0 3.5 0a1.75 1.75 0 1 0 -3.5 0M1235.0 67.6a1.75 1.75 0 1 0 3.5 0a1.75 1.75 0 1 0 -3.5 0M1235.4 65.5a1.75 1.75 0 1 0 3.5 0a1.75 1.75 0 1 0 -3.5 0M1236.3 68.7a1.75 1.75 0 1 0 3.5 0a1.75 1.75 0 1 0 -3.5 0M1237.0 68.8a1.75 1.75 0 1 0 3.5 0a1.75 1.75 0 1 0 -3.5 0M1237.6 67.1a1.75 1.75 0 1 0 3.5 0a1.75 1.75 0 1 0 -3.5 0M1238.5 68.4a1.75 1.75 0 1 0 3.5 0a1.75 1.75 0 1 0 -3.5 0M1239.0 69.2a1.75 1.75 0 1 0 3.5 0a1.75 1.75 0 1 0 -3.5 0M1239.8 65.2a1.75 1.75 0 1 0 3.5 0a1.75 1.75 0 1 0 -3.5 0M1240.4 71.0a1.75 1.75 0 1 0 3.5 0a1.75 1.75 0 1 0 -3.5 0M1241.0 64.9a1.75 1.75 0 1 0 3.5 0a1.75 1.75 0 1 0 -3.5 0M1241.3 73.8a1.75 1.75 0 1 0 3.5 0a1.75 1.75 0 1 0 -3.5 0M1241.8 65.9a1.75 1.75 0 1 0 3.5 0a1.75 1.75 0 1 0 -3.5 0M1242.3 69.4a1.75 1.75 0 1 0 3.5 0a1.75 1.75 0 1 0 -3.5 0M1242.8 68.5a1.75 1.75 0 1 0 3.5 0a1.75 1.75 0 1 0 -3.5 0M1243.8 70.2a1.75 1.75 0 1 0 3.5 0a1.75 1.75 0 1 0 -3.5 0M1244.2 67.5a1.75 1.75 0 1 0 3.5 0a1.75 1.75 0 1 0 -3.5 0M1245.0 70.5a1.75 1.75 0 1 0 3.5 0a1.75 1.75 0 1 0 -3.5 0M1245.7 65.6a1.75 1.75 0 1 0 3.5 0a1.75 1.75 0 1 0 -3.5 0M1246.1 71.0a1.75 1.75 0 1 0 3.5 0a1.75 1.75 0 1 0 -3.5 0M1246.6 68.6a1.75 1.75 0 1 0 3.5 0a1.75 1.75 0 1 0 -3.5 0M1247.0 70.1a1.75 1.75 0 1 0 3.5 0a1.75 1.75 0 1 0 -3.5 0M1247.9 71.5a1.75 1.75 0 1 0 3.5 0a1.75 1.75 0 1 0 -3.5 0M1248.3 66.5a1.75 1.75 0 1 0 3.5 0a1.75 1.75 0 1 0 -3.5 0M1248.8 67.8a1.75 1.75 0 1 0 3.5 0a1.75 1.75 0 1 0 -3.5 0M1249.3 67.5a1.75 1.75 0 1 0 3.5 0a1.75 1.75 0 1 0 -3.5 0M1250.1 68.9a1.75 1.75 0 1 0 3.5 0a1.75 1.75 0 1 0 -3.5 0M1251.0 69.5a1.75 1.75 0 1 0 3.5 0a1.75 1.75 0 1 0 -3.5 0M1251.6 70.8a1.75 1.75 0 1 0 3.5 0a1.75 1.75 0 1 0 -3.5 0M1252.3 69.6a1.75 1.75 0 1 0 3.5 0a1.75 1.75 0 1 0 -3.5 0M1252.6 68.8a1.75 1.75 0 1 0 3.5 0a1.75 1.75 0 1 0 -3.5 0M1253.5 70.3a1.75 1.75 0 1 0 3.5 0a1.75 1.75 0 1 0 -3.5 0M1253.8 71.4a1.75 1.75 0 1 0 3.5 0a1.75 1.75 0 1 0 -3.5 0M1254.3 71.2a1.75 1.75 0 1 0 3.5 0a1.75 1.75 0 1 0 -3.5 0M1254.8 73.2a1.75 1.75 0 1 0 3.5 0a1.75 1.75 0 1 0 -3.5 0M1255.6 67.7a1.75 1.75 0 1 0 3.5 0a1.75 1.75 0 1 0 -3.5 0M1256.3 69.6a1.75 1.75 0 1 0 3.5 0a1.75 1.75 0 1 0 -3.5 0M1256.8 66.1a1.75 1.75 0 1 0 3.5 0a1.75 1.75 0 1 0 -3.5 0M1257.7 67.8a1.75 1.75 0 1 0 3.5 0a1.75 1.75 0 1 0 -3.5 0M1258.6 70.9a1.75 1.75 0 1 0 3.5 0a1.75 1.75 0 1 0 -3.5 0M1258.8 72.3a1.75 1.75 0 1 0 3.5 0a1.75 1.75 0 1 0 -3.5 0M1259.5 68.8a1.75 1.75 0 1 0 3.5 0a1.75 1.75 0 1 0 -3.5 0M1260.1 71.0a1.75 1.75 0 1 0 3.5 0a1.75 1.75 0 1 0 -3.5 0M1260.6 70.4a1.75 1.75 0 1 0 3.5 0a1.75 1.75 0 1 0 -3.5 0M1261.2 71.4a1.75 1.75 0 1 0 3.5 0a1.75 1.75 0 1 0 -3.5 0M1261.7 71.0a1.75 1.75 0 1 0 3.5 0a1.75 1.75 0 1 0 -3.5 0M1262.4 69.8a1.75 1.75 0 1 0 3.5 0a1.75 1.75 0 1 0 -3.5 0M1263.0 67.0a1.75 1.75 0 1 0 3.5 0a1.75 1.75 0 1 0 -3.5 0M1264.0 68.2a1.75 1.75 0 1 0 3.5 0a1.75 1.75 0 1 0 -3.5 0M1264.9 72.3a1.75 1.75 0 1 0 3.5 0a1.75 1.75 0 1 0 -3.5 0M1265.9 71.6a1.75 1.75 0 1 0 3.5 0a1.75 1.75 0 1 0 -3.5 0M1266.4 75.8a1.75 1.75 0 1 0 3.5 0a1.75 1.75 0 1 0 -3.5 0M1267.2 72.3a1.75 1.75 0 1 0 3.5 0a1.75 1.75 0 1 0 -3.5 0M1267.9 74.3a1.75 1.75 0 1 0 3.5 0a1.75 1.75 0 1 0 -3.5 0M1268.7 70.3a1.75 1.75 0 1 0 3.5 0a1.75 1.75 0 1 0 -3.5 0M1269.6 70.2a1.75 1.75 0 1 0 3.5 0a1.75 1.75 0 1 0 -3.5 0M1269.9 73.4a1.75 1.75 0 1 0 3.5 0a1.75 1.75 0 1 0 -3.5 0M1270.5 76.5a1.75 1.75 0 1 0 3.5 0a1.75 1.75 0 1 0 -3.5 0M1271.0 74.2a1.75 1.75 0 1 0 3.5 0a1.75 1.75 0 1 0 -3.5 0M1271.7 72.9a1.75 1.75 0 1 0 3.5 0a1.75 1.75 0 1 0 -3.5 0M1272.1 74.4a1.75 1.75 0 1 0 3.5 0a1.75 1.75 0 1 0 -3.5 0M1273.1 74.9a1.75 1.75 0 1 0 3.5 0a1.75 1.75 0 1 0 -3.5 0M1273.5 74.6a1.75 1.75 0 1 0 3.5 0a1.75 1.75 0 1 0 -3.5 0M1274.0 74.0a1.75 1.75 0 1 0 3.5 0a1.75 1.75 0 1 0 -3.5 0M1274.3 72.1a1.75 1.75 0 1 0 3.5 0a1.75 1.75 0 1 0 -3.5 0M1274.8 72.1a1.75 1.75 0 1 0 3.5 0a1.75 1.75 0 1 0 -3.5 0M1275.6 73.3a1.75 1.75 0 1 0 3.5 0a1.75 1.75 0 1 0 -3.5 0M1275.9 74.0a1.75 1.75 0 1 0 3.5 0a1.75 1.75 0 1 0 -3.5 0M1276.3 72.1a1.75 1.75 0 1 0 3.5 0a1.75 1.75 0 1 0 -3.5 0M1277.0 77.1a1.75 1.75 0 1 0 3.5 0a1.75 1.75 0 1 0 -3.5 0M1277.7 75.5a1.75 1.75 0 1 0 3.5 0a1.75 1.75 0 1 0 -3.5 0M1278.4 73.8a1.75 1.75 0 1 0 3.5 0a1.75 1.75 0 1 0 -3.5 0M1278.9 75.9a1.75 1.75 0 1 0 3.5 0a1.75 1.75 0 1 0 -3.5 0M1279.7 77.8a1.75 1.75 0 1 0 3.5 0a1.75 1.75 0 1 0 -3.5 0M1280.5 75.4a1.75 1.75 0 1 0 3.5 0a1.75 1.75 0 1 0 -3.5 0M1281.2 75.5a1.75 1.75 0 1 0 3.5 0a1.75 1.75 0 1 0 -3.5 0M1281.6 76.7a1.75 1.75 0 1 0 3.5 0a1.75 1.75 0 1 0 -3.5 0M1282.2 73.4a1.75 1.75 0 1 0 3.5 0a1.75 1.75 0 1 0 -3.5 0M1282.4 74.6a1.75 1.75 0 1 0 3.5 0a1.75 1.75 0 1 0 -3.5 0M1283.3 74.5a1.75 1.75 0 1 0 3.5 0a1.75 1.75 0 1 0 -3.5 0M1284.2 76.6a1.75 1.75 0 1 0 3.5 0a1.75 1.75 0 1 0 -3.5 0M1285.1 72.9a1.75 1.75 0 1 0 3.5 0a1.75 1.75 0 1 0 -3.5 0M1285.3 75.7a1.75 1.75 0 1 0 3.5 0a1.75 1.75 0 1 0 -3.5 0M1285.8 74.3a1.75 1.75 0 1 0 3.5 0a1.75 1.75 0 1 0 -3.5 0M1286.4 74.4a1.75 1.75 0 1 0 3.5 0a1.75 1.75 0 1 0 -3.5 0M1287.1 73.8a1.75 1.75 0 1 0 3.5 0a1.75 1.75 0 1 0 -3.5 0M1287.4 76.9a1.75 1.75 0 1 0 3.5 0a1.75 1.75 0 1 0 -3.5 0M1288.2 72.8a1.75 1.75 0 1 0 3.5 0a1.75 1.75 0 1 0 -3.5 0M1288.7 72.1a1.75 1.75 0 1 0 3.5 0a1.75 1.75 0 1 0 -3.5 0M1289.3 74.5a1.75 1.75 0 1 0 3.5 0a1.75 1.75 0 1 0 -3.5 0M1289.6 72.8a1.75 1.75 0 1 0 3.5 0a1.75 1.75 0 1 0 -3.5 0M1290.3 74.6a1.75 1.75 0 1 0 3.5 0a1.75 1.75 0 1 0 -3.5 0M1290.6 73.4a1.75 1.75 0 1 0 3.5 0a1.75 1.75 0 1 0 -3.5 0M1290.9 73.5a1.75 1.75 0 1 0 3.5 0a1.75 1.75 0 1 0 -3.5 0M1291.5 73.4a1.75 1.75 0 1 0 3.5 0a1.75 1.75 0 1 0 -3.5 0M1292.0 69.7a1.75 1.75 0 1 0 3.5 0a1.75 1.75 0 1 0 -3.5 0M1292.8 68.9a1.75 1.75 0 1 0 3.5 0a1.75 1.75 0 1 0 -3.5 0M1293.2 76.8a1.75 1.75 0 1 0 3.5 0a1.75 1.75 0 1 0 -3.5 0M1293.7 70.0a1.75 1.75 0 1 0 3.5 0a1.75 1.75 0 1 0 -3.5 0M1294.0 73.6a1.75 1.75 0 1 0 3.5 0a1.75 1.75 0 1 0 -3.5 0M1294.4 69.8a1.75 1.75 0 1 0 3.5 0a1.75 1.75 0 1 0 -3.5 0M1295.0 72.0a1.75 1.75 0 1 0 3.5 0a1.75 1.75 0 1 0 -3.5 0M1295.6 71.4a1.75 1.75 0 1 0 3.5 0a1.75 1.75 0 1 0 -3.5 0M1296.2 75.3a1.75 1.75 0 1 0 3.5 0a1.75 1.75 0 1 0 -3.5 0M1297.0 71.3a1.75 1.75 0 1 0 3.5 0a1.75 1.75 0 1 0 -3.5 0M1297.4 68.1a1.75 1.75 0 1 0 3.5 0a1.75 1.75 0 1 0 -3.5 0M1298.2 68.4a1.75 1.75 0 1 0 3.5 0a1.75 1.75 0 1 0 -3.5 0M1298.6 72.5a1.75 1.75 0 1 0 3.5 0a1.75 1.75 0 1 0 -3.5 0M1299.5 73.9a1.75 1.75 0 1 0 3.5 0a1.75 1.75 0 1 0 -3.5 0M1300.1 76.4a1.75 1.75 0 1 0 3.5 0a1.75 1.75 0 1 0 -3.5 0M1300.7 76.4a1.75 1.75 0 1 0 3.5 0a1.75 1.75 0 1 0 -3.5 0M1301.3 68.4a1.75 1.75 0 1 0 3.5 0a1.75 1.75 0 1 0 -3.5 0M1302.2 71.5a1.75 1.75 0 1 0 3.5 0a1.75 1.75 0 1 0 -3.5 0M192.5 67.1a1.75 1.75 0 1 0 3.5 0a1.75 1.75 0 1 0 -3.5 0M190.3 68.5a1.75 1.75 0 1 0 3.5 0a1.75 1.75 0 1 0 -3.5 0M203.9 72.4a1.75 1.75 0 1 0 3.5 0a1.75 1.75 0 1 0 -3.5 0M203.7 75.7a1.75 1.75 0 1 0 3.5 0a1.75 1.75 0 1 0 -3.5 0M200.3 85.9a1.75 1.75 0 1 0 3.5 0a1.75 1.75 0 1 0 -3.5 0M208.7 86.8a1.75 1.75 0 1 0 3.5 0a1.75 1.75 0 1 0 -3.5 0M213.2 87.1a1.75 1.75 0 1 0 3.5 0a1.75 1.75 0 1 0 -3.5 0M221.6 85.7a1.75 1.75 0 1 0 3.5 0a1.75 1.75 0 1 0 -3.5 0M221.6 87.1a1.75 1.75 0 1 0 3.5 0a1.75 1.75 0 1 0 -3.5 0M222.6 88.2a1.75 1.75 0 1 0 3.5 0a1.75 1.75 0 1 0 -3.5 0M217.6 76.8a1.75 1.75 0 1 0 3.5 0a1.75 1.75 0 1 0 -3.5 0M249.0 67.3a1.75 1.75 0 1 0 3.5 0a1.75 1.75 0 1 0 -3.5 0M248.3 69.5a1.75 1.75 0 1 0 3.5 0a1.75 1.75 0 1 0 -3.5 0M229.6 64.9a1.75 1.75 0 1 0 3.5 0a1.75 1.75 0 1 0 -3.5 0M265.7 68.7a1.75 1.75 0 1 0 3.5 0a1.75 1.75 0 1 0 -3.5 0M274.7 70.6a1.75 1.75 0 1 0 3.5 0a1.75 1.75 0 1 0 -3.5 0M288.2 69.2a1.75 1.75 0 1 0 3.5 0a1.75 1.75 0 1 0 -3.5 0M296.5 67.5a1.75 1.75 0 1 0 3.5 0a1.75 1.75 0 1 0 -3.5 0M292.6 79.3a1.75 1.75 0 1 0 3.5 0a1.75 1.75 0 1 0 -3.5 0M317.6 81.0a1.75 1.75 0 1 0 3.5 0a1.75 1.75 0 1 0 -3.5 0M320.6 74.6a1.75 1.75 0 1 0 3.5 0a1.75 1.75 0 1 0 -3.5 0M323.9 89.9a1.75 1.75 0 1 0 3.5 0a1.75 1.75 0 1 0 -3.5 0M323.3 91.3a1.75 1.75 0 1 0 3.5 0a1.75 1.75 0 1 0 -3.5 0M325.4 93.1a1.75 1.75 0 1 0 3.5 0a1.75 1.75 0 1 0 -3.5 0M332.5 79.6a1.75 1.75 0 1 0 3.5 0a1.75 1.75 0 1 0 -3.5 0M334.6 81.6a1.75 1.75 0 1 0 3.5 0a1.75 1.75 0 1 0 -3.5 0M331.8 83.1a1.75 1.75 0 1 0 3.5 0a1.75 1.75 0 1 0 -3.5 0M330.8 89.5a1.75 1.75 0 1 0 3.5 0a1.75 1.75 0 1 0 -3.5 0M340.7 89.0a1.75 1.75 0 1 0 3.5 0a1.75 1.75 0 1 0 -3.5 0M347.9 89.3a1.75 1.75 0 1 0 3.5 0a1.75 1.75 0 1 0 -3.5 0M363.6 78.9a1.75 1.75 0 1 0 3.5 0a1.75 1.75 0 1 0 -3.5 0M369.7 77.2a1.75 1.75 0 1 0 3.5 0a1.75 1.75 0 1 0 -3.5 0M377.6 70.9a1.75 1.75 0 1 0 3.5 0a1.75 1.75 0 1 0 -3.5 0M378.7 72.2a1.75 1.75 0 1 0 3.5 0a1.75 1.75 0 1 0 -3.5 0M400.4 92.1a1.75 1.75 0 1 0 3.5 0a1.75 1.75 0 1 0 -3.5 0M408.5 90.7a1.75 1.75 0 1 0 3.5 0a1.75 1.75 0 1 0 -3.5 0M417.8 90.4a1.75 1.75 0 1 0 3.5 0a1.75 1.75 0 1 0 -3.5 0M417.8 92.9a1.75 1.75 0 1 0 3.5 0a1.75 1.75 0 1 0 -3.5 0M431.2 88.1a1.75 1.75 0 1 0 3.5 0a1.75 1.75 0 1 0 -3.5 0M448.6 81.0a1.75 1.75 0 1 0 3.5 0a1.75 1.75 0 1 0 -3.5 0M451.5 79.0a1.75 1.75 0 1 0 3.5 0a1.75 1.75 0 1 0 -3.5 0M484.6 81.6a1.75 1.75 0 1 0 3.5 0a1.75 1.75 0 1 0 -3.5 0M486.8 83.1a1.75 1.75 0 1 0 3.5 0a1.75 1.75 0 1 0 -3.5 0M479.3 90.1a1.75 1.75 0 1 0 3.5 0a1.75 1.75 0 1 0 -3.5 0M478.9 94.5a1.75 1.75 0 1 0 3.5 0a1.75 1.75 0 1 0 -3.5 0M513.6 87.1a1.75 1.75 0 1 0 3.5 0a1.75 1.75 0 1 0 -3.5 0M514.0 88.1a1.75 1.75 0 1 0 3.5 0a1.75 1.75 0 1 0 -3.5 0M524.6 88.5a1.75 1.75 0 1 0 3.5 0a1.75 1.75 0 1 0 -3.5 0M530.7 86.1a1.75 1.75 0 1 0 3.5 0a1.75 1.75 0 1 0 -3.5 0M531.9 87.9a1.75 1.75 0 1 0 3.5 0a1.75 1.75 0 1 0 -3.5 0M539.7 85.7a1.75 1.75 0 1 0 3.5 0a1.75 1.75 0 1 0 -3.5 0M537.5 70.6a1.75 1.75 0 1 0 3.5 0a1.75 1.75 0 1 0 -3.5 0M550.7 69.0a1.75 1.75 0 1 0 3.5 0a1.75 1.75 0 1 0 -3.5 0M547.6 70.2a1.75 1.75 0 1 0 3.5 0a1.75 1.75 0 1 0 -3.5 0M559.7 68.2a1.75 1.75 0 1 0 3.5 0a1.75 1.75 0 1 0 -3.5 0M601.2 86.1a1.75 1.75 0 1 0 3.5 0a1.75 1.75 0 1 0 -3.5 0M601.6 87.3a1.75 1.75 0 1 0 3.5 0a1.75 1.75 0 1 0 -3.5 0M613.2 86.5a1.75 1.75 0 1 0 3.5 0a1.75 1.75 0 1 0 -3.5 0M611.9 85.1a1.75 1.75 0 1 0 3.5 0a1.75 1.75 0 1 0 -3.5 0M619.7 85.9a1.75 1.75 0 1 0 3.5 0a1.75 1.75 0 1 0 -3.5 0M626.2 86.7a1.75 1.75 0 1 0 3.5 0a1.75 1.75 0 1 0 -3.5 0M632.6 86.1a1.75 1.75 0 1 0 3.5 0a1.75 1.75 0 1 0 -3.5 0M659.6 84.0a1.75 1.75 0 1 0 3.5 0a1.75 1.75 0 1 0 -3.5 0M665.4 85.0a1.75 1.75 0 1 0 3.5 0a1.75 1.75 0 1 0 -3.5 0M668.3 85.3a1.75 1.75 0 1 0 3.5 0a1.75 1.75 0 1 0 -3.5 0M672.6 85.0a1.75 1.75 0 1 0 3.5 0a1.75 1.75 0 1 0 -3.5 0M690.8 69.0a1.75 1.75 0 1 0 3.5 0a1.75 1.75 0 1 0 -3.5 0M698.6 71.0a1.75 1.75 0 1 0 3.5 0a1.75 1.75 0 1 0 -3.5 0M706.9 70.2a1.75 1.75 0 1 0 3.5 0a1.75 1.75 0 1 0 -3.5 0M718.7 69.8a1.75 1.75 0 1 0 3.5 0a1.75 1.75 0 1 0 -3.5 0M732.6 69.0a1.75 1.75 0 1 0 3.5 0a1.75 1.75 0 1 0 -3.5 0M734.7 69.8a1.75 1.75 0 1 0 3.5 0a1.75 1.75 0 1 0 -3.5 0M726.9 71.0a1.75 1.75 0 1 0 3.5 0a1.75 1.75 0 1 0 -3.5 0M698.6 92.1a1.75 1.75 0 1 0 3.5 0a1.75 1.75 0 1 0 -3.5 0M763.3 67.3a1.75 1.75 0 1 0 3.5 0a1.75 1.75 0 1 0 -3.5 0M780.3 67.7a1.75 1.75 0 1 0 3.5 0a1.75 1.75 0 1 0 -3.5 0M787.5 68.2a1.75 1.75 0 1 0 3.5 0a1.75 1.75 0 1 0 -3.5 0M781.8 80.6a1.75 1.75 0 1 0 3.5 0a1.75 1.75 0 1 0 -3.5 0M783.3 79.3a1.75 1.75 0 1 0 3.5 0a1.75 1.75 0 1 0 -3.5 0M794.7 82.2a1.75 1.75 0 1 0 3.5 0a1.75 1.75 0 1 0 -3.5 0M806.1 79.6a1.75 1.75 0 1 0 3.5 0a1.75 1.75 0 1 0 -3.5 0M809.7 80.2a1.75 1.75 0 1 0 3.5 0a1.75 1.75 0 1 0 -3.5 0M817.6 69.2a1.75 1.75 0 1 0 3.5 0a1.75 1.75 0 1 0 -3.5 0M827.6 68.7a1.75 1.75 0 1 0 3.5 0a1.75 1.75 0 1 0 -3.5 0M826.6 70.2a1.75 1.75 0 1 0 3.5 0a1.75 1.75 0 1 0 -3.5 0M826.6 81.5a1.75 1.75 0 1 0 3.5 0a1.75 1.75 0 1 0 -3.5 0M836.8 82.6a1.75 1.75 0 1 0 3.5 0a1.75 1.75 0 1 0 -3.5 0M851.8 82.6a1.75 1.75 0 1 0 3.5 0a1.75 1.75 0 1 0 -3.5 0M852.5 70.4a1.75 1.75 0 1 0 3.5 0a1.75 1.75 0 1 0 -3.5 0M859.6 68.2a1.75 1.75 0 1 0 3.5 0a1.75 1.75 0 1 0 -3.5 0M864.6 67.9a1.75 1.75 0 1 0 3.5 0a1.75 1.75 0 1 0 -3.5 0M862.5 70.2a1.75 1.75 0 1 0 3.5 0a1.75 1.75 0 1 0 -3.5 0M872.5 82.2a1.75 1.75 0 1 0 3.5 0a1.75 1.75 0 1 0 -3.5 0M878.2 81.8a1.75 1.75 0 1 0 3.5 0a1.75 1.75 0 1 0 -3.5 0M882.5 81.8a1.75 1.75 0 1 0 3.5 0a1.75 1.75 0 1 0 -3.5 0M884.0 82.6a1.75 1.75 0 1 0 3.5 0a1.75 1.75 0 1 0 -3.5 0M882.5 79.8a1.75 1.75 0 1 0 3.5 0a1.75 1.75 0 1 0 -3.5 0M884.0 81.3a1.75 1.75 0 1 0 3.5 0a1.75 1.75 0 1 0 -3.5 0M893.7 79.3a1.75 1.75 0 1 0 3.5 0a1.75 1.75 0 1 0 -3.5 0M897.6 79.0a1.75 1.75 0 1 0 3.5 0a1.75 1.75 0 1 0 -3.5 0M896.9 69.2a1.75 1.75 0 1 0 3.5 0a1.75 1.75 0 1 0 -3.5 0M918.6 60.6a1.75 1.75 0 1 0 3.5 0a1.75 1.75 0 1 0 -3.5 0M921.8 72.6a1.75 1.75 0 1 0 3.5 0a1.75 1.75 0 1 0 -3.5 0M935.6 70.4a1.75 1.75 0 1 0 3.5 0a1.75 1.75 0 1 0 -3.5 0M938.3 80.0a1.75 1.75 0 1 0 3.5 0a1.75 1.75 0 1 0 -3.5 0M937.7 81.0a1.75 1.75 0 1 0 3.5 0a1.75 1.75 0 1 0 -3.5 0M885.7 91.9a1.75 1.75 0 1 0 3.5 0a1.75 1.75 0 1 0 -3.5 0M955.3 80.4a1.75 1.75 0 1 0 3.5 0a1.75 1.75 0 1 0 -3.5 0M968.6 92.9a1.75 1.75 0 1 0 3.5 0a1.75 1.75 0 1 0 -3.5 0M991.9 87.7a1.75 1.75 0 1 0 3.5 0a1.75 1.75 0 1 0 -3.5 0M994.3 75.8a1.75 1.75 0 1 0 3.5 0a1.75 1.75 0 1 0 -3.5 0M1001.8 66.0a1.75 1.75 0 1 0 3.5 0a1.75 1.75 0 1 0 -3.5 0M1008.7 62.3a1.75 1.75 0 1 0 3.5 0a1.75 1.75 0 1 0 -3.5 0M1026.8 75.6a1.75 1.75 0 1 0 3.5 0a1.75 1.75 0 1 0 -3.5 0M1026.6 83.1a1.75 1.75 0 1 0 3.5 0a1.75 1.75 0 1 0 -3.5 0M1050.8 91.3a1.75 1.75 0 1 0 3.5 0a1.75 1.75 0 1 0 -3.5 0M1058.6 89.5a1.75 1.75 0 1 0 3.5 0a1.75 1.75 0 1 0 -3.5 0M1100.6 59.8a1.75 1.75 0 1 0 3.5 0a1.75 1.75 0 1 0 -3.5 0M1088.2 72.7a1.75 1.75 0 1 0 3.5 0a1.75 1.75 0 1 0 -3.5 0M1082.6 71.3a1.75 1.75 0 1 0 3.5 0a1.75 1.75 0 1 0 -3.5 0M1121.8 75.4a1.75 1.75 0 1 0 3.5 0a1.75 1.75 0 1 0 -3.5 0M1128.3 75.4a1.75 1.75 0 1 0 3.5 0a1.75 1.75 0 1 0 -3.5 0M1146.2 79.2a1.75 1.75 0 1 0 3.5 0a1.75 1.75 0 1 0 -3.5 0M1164.7 62.3a1.75 1.75 0 1 0 3.5 0a1.75 1.75 0 1 0 -3.5 0M1170.6 63.9a1.75 1.75 0 1 0 3.5 0a1.75 1.75 0 1 0 -3.5 0M1163.9 64.7a1.75 1.75 0 1 0 3.5 0a1.75 1.75 0 1 0 -3.5 0M1194.6 81.0a1.75 1.75 0 1 0 3.5 0a1.75 1.75 0 1 0 -3.5 0M1198.3 79.8a1.75 1.75 0 1 0 3.5 0a1.75 1.75 0 1 0 -3.5 0M1194.6 69.5a1.75 1.75 0 1 0 3.5 0a1.75 1.75 0 1 0 -3.5 0M1207.5 70.6a1.75 1.75 0 1 0 3.5 0a1.75 1.75 0 1 0 -3.5 0M1219.6 69.2a1.75 1.75 0 1 0 3.5 0a1.75 1.75 0 1 0 -3.5 0M1230.3 64.5a1.75 1.75 0 1 0 3.5 0a1.75 1.75 0 1 0 -3.5 0M1230.3 70.6a1.75 1.75 0 1 0 3.5 0a1.75 1.75 0 1 0 -3.5 0M1230.8 64.6a1.75 1.75 0 1 0 3.5 0a1.75 1.75 0 1 0 -3.5 0M1241.9 64.6a1.75 1.75 0 1 0 3.5 0a1.75 1.75 0 1 0 -3.5 0M1242.9 75.4a1.75 1.75 0 1 0 3.5 0a1.75 1.75 0 1 0 -3.5 0M1256.5 60.4a1.75 1.75 0 1 0 3.5 0a1.75 1.75 0 1 0 -3.5 0M1251.5 62.1a1.75 1.75 0 1 0 3.5 0a1.75 1.75 0 1 0 -3.5 0M1255.6 63.9a1.75 1.75 0 1 0 3.5 0a1.75 1.75 0 1 0 -3.5 0M1265.4 65.9a1.75 1.75 0 1 0 3.5 0a1.75 1.75 0 1 0 -3.5 0M1274.6 70.2a1.75 1.75 0 1 0 3.5 0a1.75 1.75 0 1 0 -3.5 0M1265.9 75.7a1.75 1.75 0 1 0 3.5 0a1.75 1.75 0 1 0 -3.5 0M1278.3 79.0a1.75 1.75 0 1 0 3.5 0a1.75 1.75 0 1 0 -3.5 0M1286.6 78.6a1.75 1.75 0 1 0 3.5 0a1.75 1.75 0 1 0 -3.5 0M1290.6 85.7a1.75 1.75 0 1 0 3.5 0a1.75 1.75 0 1 0 -3.5 0M1297.5 67.9a1.75 1.75 0 1 0 3.5 0a1.75 1.75 0 1 0 -3.5 0" fill="#000" clip-path="url(#c1)"/>
<line x1="105.50" y1="85.90" x2="1360.90" y2="85.90" stroke="#008000" stroke-width="2.08" />
<rect x="105.5" y="35.5" width="1380.0" height="286.0" fill="none" stroke="#000" stroke-width="1.11"/>
<line x1="100.64" y1="49.50" x2="105.50" y2="49.50" stroke="#000" stroke-width="1.11" />
<text x="73.34" y="54.60" style="font-size:14.717px;" textLength="21.63" lengthAdjust="spacingAndGlyphs" fill="#000" >9.0</text>
<line x1="100.64" y1="105.50" x2="105.50" y2="105.50" stroke="#000" stroke-width="1.11" />
<text x="73.46" y="110.54" style="font-size:14.717px;" textLength="21.54" lengthAdjust="spacingAndGlyphs" fill="#000" >8.8</text>
<line x1="100.64" y1="161.50" x2="105.50" y2="161.50" stroke="#000" stroke-width="1.11" />
<text x="73.46" y="166.48" style="font-size:14.717px;" textLength="21.63" lengthAdjust="spacingAndGlyphs" fill="#000" >8.6</text>
<line x1="100.64" y1="217.50" x2="105.50" y2="217.50" stroke="#000" stroke-width="1.11" />
<text x="73.46" y="222.42" style="font-size:14.717px;" textLength="21.49" lengthAdjust="spacingAndGlyphs" fill="#000" >8.4</text>
<line x1="100.64" y1="273.50" x2="105.50" y2="273.50" stroke="#000" stroke-width="1.11" />
<text x="73.47" y="278.36" style="font-size:14.717px;" textLength="21.18" lengthAdjust="spacingAndGlyphs" fill="#000" >8.2</text>
<line x1="162.50" y1="321.50" x2="162.50" y2="326.36" stroke="#000" stroke-width="1.11" />
<text x="158.33" y="342.00" style="font-size:14.717px;" textLength="8.14" lengthAdjust="spacingAndGlyphs" fill="#000" >0</text>
<line x1="387.50" y1="321.50" x2="387.50" y2="326.36" stroke="#000" stroke-width="1.11" />
<text x="375.04" y="342.00" style="font-size:14.717px;" textLength="25.74" lengthAdjust="spacingAndGlyphs" fill="#000" >500</text>
<line x1="613.50" y1="321.50" x2="613.50" y2="326.36" stroke="#000" stroke-width="1.11" />
<text x="595.94" y="342.00" style="font-size:14.717px;" textLength="34.70" lengthAdjust="spacingAndGlyphs" fill="#000" >1000</text>
<line x1="838.50" y1="321.50" x2="838.50" y2="326.36" stroke="#000" stroke-width="1.11" />
<text x="821.38" y="342.00" style="font-size:14.717px;" textLength="34.70" lengthAdjust="spacingAndGlyphs" fill="#000" >1500</text>
<line x1="1064.50" y1="321.50" x2="1064.50" y2="326.36" stroke="#000" stroke-width="1.11" />
<text x="1046.72" y="342.00" style="font-size:14.717px;" textLength="34.80" lengthAdjust="spacingAndGlyphs" fill="#000" >2000</text>
<line x1="1289.50" y1="321.50" x2="1289.50" y2="326.36" stroke="#000" stroke-width="1.11" />
<text x="1272.16" y="342.00" style="font-size:14.717px;" textLength="34.80" lengthAdjust="spacingAndGlyphs" fill="#000" >2500</text>
<text x="704.24" y="27.00" style="font-size:17.660px;" textLength="181.36" lengthAdjust="spacingAndGlyphs" fill="#000" >AGASC ID 424152016</text>
<text x="709.57" y="312.00" style="font-size:14.717px;" textLength="43.29" lengthAdjust="spacingAndGlyphs" fill="#000" >30953</text>
<rect x="1361.30" y="42.50" width="117.40" height="27.00" rx="2.8" ry="2.8" fill="#fff" fill-opacity="0.8" stroke="#ccc" stroke-opacity="0.8" stroke-width="1.11"/>
<line x1="1365.90" y1="54.00" x2="1396.00" y2="54.00" stroke="#008000" stroke-width="2.08" />
<text x="1407.42" y="58.80" style="font-size:14.717px;" textLength="30.38" lengthAdjust="spacingAndGlyphs" fill="#000" >mag</text>
<text x="1436.99" y="60.90" style="font-size:11.192px;font-style:italic;" textLength="34.66" lengthAdjust="spacingAndGlyphs" fill="#000">AGASC</text>
<rect x="1348.50" y="247.50" width="130.20" height="66.60" rx="2.8" ry="2.8" fill="#fff" fill-opacity="0.8" stroke="#ccc" stroke-opacity="0.8" stroke-width="1.11"/>
<circle cx="1367.5" cy="260.3" r="2.1" fill="#ff0000"/>
<circle cx="1367.5" cy="281.4" r="2.1" fill="#ffa500"/>
<circle cx="1367.5" cy="302.4" r="2.1" fill="#000"/>
<text x="1392.55" y="264.00" style="font-size:14.717px;" textLength="47.41" lengthAdjust="spacingAndGlyphs" fill="#000" >not OK</text>
<text x="1392.36" y="284.80" style="font-size:14.717px;" textLength="79.78" lengthAdjust="spacingAndGlyphs" fill="#000" >Highlighted</text>
<text x="1392.41" y="305.60" style="font-size:14.717px;" textLength="20.38" lengthAdjust="spacingAndGlyphs" fill="#000" >OK</text>
<line x1="162.00" y1="381.70" x2="162.00" y2="666.50" stroke="#800080" stroke-width="2.08" stroke-dasharray="2.08 3.44"/>
<line x1="1303.00" y1="381.70" x2="1303.00" y2="666.50" stroke="#800080" stroke-width="2.08" stroke-dasharray="2.08 3.44"/>
<path d="M335.2 595.5a1.8 1.8 0 1 0 3.6 0a1.8 1.8 0 1 0 -3.6 0M338.2 594.0a1.8 1.8 0 1 0 3.6 0a1.8 1.8 0 1 0 -3.6 0M342.2 596.0a1.8 1.8 0 1 0 3.6 0a1.8 1.8 0 1 0 -3.6 0M346.2 594.5a1.8 1.8 0 1 0 3.6 0a1.8 1.8 0 1 0 -3.6 0M347.2 596.5a1.8 1.8 0 1 0 3.6 0a1.8 1.8 0 1 0 -3.6 0M495.2 595.0a1.8 1.8 0 1 0 3.6 0a1.8 1.8 0 1 0 -3.6 0M498.2 596.0a1.8 1.8 0 1 0 3.6 0a1.8 1.8 0 1 0 -3.6 0M501.2 594.5a1.8 1.8 0 1 0 3.6 0a1.8 1.8 0 1 0 -3.6 0M804.6 591.4a1.8 1.8 0 1 0 3.6 0a1.8 1.8 0 1 0 -3.6 0" fill="#ffa500" clip-path="url(#c2)"/>
<path d="M186.3 535.1a1.7 1.7 0 1 0 3.4 0a1.7 1.7 0 1 0 -3.4 0M186.9 513.4a1.7 1.7 0 1 0 3.4 0a1.7 1.7 0 1 0 -3.4 0M187.5 511.4a1.7 1.7 0 1 0 3.4 0a1.7 1.7 0 1 0 -3.4 0M188.4 496.9a1.7 1.7 0 1 0 3.4 0a1.7 1.7 0 1 0 -3.4 0M189.0 516.4a1.7 1.7 0 1 0 3.4 0a1.7 1.7 0 1 0 -3.4 0M189.6 513.3a1.7 1.7 0 1 0 3.4 0a1.7 1.7 0 1 0 -3.4 0M190.2 512.7a1.7 1.7 0 1 0 3.4 0a1.7 1.7 0 1 0 -3.4 0M190.6 521.4a1.7 1.7 0 1 0 3.4 0a1.7 1.7 0 1 0 -3.4 0M191.2 523.4a1.7 1.7 0 1 0 3.4 0a1.7 1.7 0 1 0 -3.4 0M191.9 513.5a1.7 1.7 0 1 0 3.4 0a1.7 1.7 0 1 0 -3.4 0M192.7 517.4a1.7 1.7 0 1 0 3.4 0a1.7 1.7 0 1 0 -3.4 0M193.0 521.0a1.7 1.7 0 1 0 3.4 0a1.7 1.7 0 1 0 -3.4 0M193.5 529.2a1.7 1.7 0 1 0 3.4 0a1.7 1.7 0 1 0 -3.4 0M193.8 529.0a1.7 1.7 0 1 0 3.4 0a1.7 1.7 0 1 0 -3.4 0M194.6 521.5a1.7 1.7 0 1 0 3.4 0a1.7 1.7 0 1 0 -3.4 0M195.4 523.5a1.7 1.7 0 1 0 3.4 0a1.7 1.7 0 1 0 -3.4 0M195.7 532.0a1.7 1.7 0 1 0 3.4 0a1.7 1.7 0 1 0 -3.4 0M196.6 535.9a1.7 1.7 0 1 0 3.4 0a1.7 1.7 0 1 0 -3.4 0M197.5 530.5a1.7 1.7 0 1 0 3.4 0a1.7 1.7 0 1 0 -3.4 0M198.2 529.0a1.7 1.7 0 1 0 3.4 0a1.7 1.7 0 1 0 -3.4 0M198.9 535.2a1.7 1.7 0 1 0 3.4 0a1.7 1.7 0 1 0 -3.4 0M199.3 531.1a1.7 1.7 0 1 0 3.4 0a1.7 1.7 0 1 0 -3.4 0M199.5 534.3a1.7 1.7 0 1 0 3.4 0a1.7 1.7 0 1 0 -3.4 0M200.1 537.1a1.7 1.7 0 1 0 3.4 0a1.7 1.7 0 1 0 -3.4 0M200.4 534.3a1.7 1.7 0 1 0 3.4 0a1.7 1.7 0 1 0 -3.4 0M200.8 532.6a1.7 1.7 0 1 0 3.4 0a1.7 1.7 0 1 0 -3.4 0M201.2 534.8a1.7 1.7 0 1 0 3.4 0a1.7 1.7 0 1 0 -3.4 0M201.5 530.4a1.7 1.7 0 1 0 3.4 0a1.7 1.7 0 1 0 -3.4 0M202.1 532.0a1.7 1.7 0 1 0 3.4 0a1.7 1.7 0 1 0 -3.4 0M202.6 530.7a1.7 1.7 0 1 0 3.4 0a1.7 1.7 0 1 0 -3.4 0M203.5 532.2a1.7 1.7 0 1 0 3.4 0a1.7 1.7 0 1 0 -3.4 0M204.1 531.7a1.7 1.7 0 1 0 3.4 0a1.7 1.7 0 1 0 -3.4 0M204.8 533.2a1.7 1.7 0 1 0 3.4 0a1.7 1.7 0 1 0 -3.4 0M205.4 532.9a1.7 1.7 0 1 0 3.4 0a1.7 1.7 0 1 0 -3.4 0M206.1 535.0a1.7 1.7 0 1 0 3.4 0a1.7 1.7 0 1 0 -3.4 0M206.7 535.3a1.7 1.7 0 1 0 3.4 0a1.7 1.7 0 1 0 -3.4 0M207.1 536.4a1.7 1.7 0 1 0 3.4 0a1.7 1.7 0 1 0 -3.4 0M208.1 541.3a1.7 1.7 0 1 0 3.4 0a1.7 1.7 0 1 0 -3.4 0M209.0 531.4a1.7 1.7 0 1 0 3.4 0a1.7 1.7 0 1 0 -3.4 0M209.9 543.7a1.7 1.7 0 1 0 3.4 0a1.7 1.7 0 1 0 -3.4 0M210.6 538.2a1.7 1.7 0 1 0 3.4 0a1.7 1.7 0 1 0 -3.4 0M211.1 534.3a1.7 1.7 0 1 0 3.4 0a1.7 1.7 0 1 0 -3.4 0M211.5 539.5a1.7 1.7 0 1 0 3.4 0a1.7 1.7 0 1 0 -3.4 0M211.9 541.2a1.7 1.7 0 1 0 3.4 0a1.7 1.7 0 1 0 -3.4 0M212.2 545.8a1.7 1.7 0 1 0 3.4 0a1.7 1.7 0 1 0 -3.4 0M213.0 535.4a1.7 1.7 0 1 0 3.4 0a1.7 1.7 0 1 0 -3.4 0M213.6 541.5a1.7 1.7 0 1 0 3.4 0a1.7 1.7 0 1 0 -3.4 0M214.4 540.9a1.7 1.7 0 1 0 3.4 0a1.7 1.7 0 1 0 -3.4 0M214.9 531.8a1.7 1.7 0 1 0 3.4 0a1.7 1.7 0 1 0 -3.4 0M215.8 534.0a1.7 1.7 0 1 0 3.4 0a1.7 1.7 0 1 0 -3.4 0M216.7 543.1a1.7 1.7 0 1 0 3.4 0a1.7 1.7 0 1 0 -3.4 0M216.9 543.6a1.7 1.7 0 1 0 3.4 0a1.7 1.7 0 1 0 -3.4 0M217.3 545.4a1.7 1.7 0 1 0 3.4 0a1.7 1.7 0 1 0 -3.4 0M218.2 543.0a1.7 1.7 0 1 0 3.4 0a1.7 1.7 0 1 0 -3.4 0M218.8 542.5a1.7 1.7 0 1 0 3.4 0a1.7 1.7 0 1 0 -3.4 0M219.7 541.5a1.7 1.7 0 1 0 3.4 0a1.7 1.7 0 1 0 -3.4 0M220.3 541.1a1.7 1.7 0 1 0 3.4 0a1.7 1.7 0 1 0 -3.4 0M220.6 530.5a1.7 1.7 0 1 0 3.4 0a1.7 1.7 0 1 0 -3.4 0M221.2 527.3a1.7 1.7 0 1 0 3.4 0a1.7 1.7 0 1 0 -3.4 0M222.0 523.3a1.7 1.7 0 1 0 3.4 0a1.7 1.7 0 1 0 -3.4 0M222.5 507.5a1.7 1.7 0 1 0 3.4 0a1.7 1.7 0 1 0 -3.4 0M222.8 524.4a1.7 1.7 0 1 0 3.4 0a1.7 1.7 0 1 0 -3.4 0M223.3 509.2a1.7 1.7 0 1 0 3.4 0a1.7 1.7 0 1 0 -3.4 0M224.2 511.7a1.7 1.7 0 1 0 3.4 0a1.7 1.7 0 1 0 -3.4 0M225.0 525.3a1.7 1.7 0 1 0 3.4 0a1.7 1.7 0 1 0 -3.4 0M225.3 502.8a1.7 1.7 0 1 0 3.4 0a1.7 1.7 0 1 0 -3.4 0M225.7 503.9a1.7 1.7 0 1 0 3.4 0a1.7 1.7 0 1 0 -3.4 0M226.1 520.7a1.7 1.7 0 1 0 3.4 0a1.7 1.7 0 1 0 -3.4 0M226.4 497.5a1.7 1.7 0 1 0 3.4 0a1.7 1.7 0 1 0 -3.4 0M227.2 500.5a1.7 1.7 0 1 0 3.4 0a1.7 1.7 0 1 0 -3.4 0M227.5 507.0a1.7 1.7 0 1 0 3.4 0a1.7 1.7 0 1 0 -3.4 0M228.2 504.3a1.7 1.7 0 1 0 3.4 0a1.7 1.7 0 1 0 -3.4 0M228.7 503.4a1.7 1.7 0 1 0 3.4 0a1.7 1.7 0 1 0 -3.4 0M229.1 500.4a1.7 1.7 0 1 0 3.4 0a1.7 1.7 0 1 0 -3.4 0M229.9 504.7a1.7 1.7 0 1 0 3.4 0a1.7 1.7 0 1 0 -3.4 0M230.2 501.2a1.7 1.7 0 1 0 3.4 0a1.7 1.7 0 1 0 -3.4 0M230.9 497.6a1.7 1.7 0 1 0 3.4 0a1.7 1.7 0 1 0 -3.4 0M231.3 488.8a1.7 1.7 0 1 0 3.4 0a1.7 1.7 0 1 0 -3.4 0M231.8 488.6a1.7 1.7 0 1 0 3.4 0a1.7 1.7 0 1 0 -3.4 0M232.2 480.3a1.7 1.7 0 1 0 3.4 0a1.7 1.7 0 1 0 -3.4 0M232.6 498.2a1.7 1.7 0 1 0 3.4 0a1.7 1.7 0 1 0 -3.4 0M233.6 480.9a1.7 1.7 0 1 0 3.4 0a1.7 1.7 0 1 0 -3.4 0M234.4 499.6a1.7 1.7 0 1 0 3.4 0a1.7 1.7 0 1 0 -3.4 0M234.8 506.2a1.7 1.7 0 1 0 3.4 0a1.7 1.7 0 1 0 -3.4 0M235.7 486.2a1.7 1.7 0 1 0 3.4 0a1.7 1.7 0 1 0 -3.4 0M236.1 488.8a1.7 1.7 0 1 0 3.4 0a1.7 1.7 0 1 0 -3.4 0M236.6 490.5a1.7 1.7 0 1 0 3.4 0a1.7 1.7 0 1 0 -3.4 0M237.5 500.1a1.7 1.7 0 1 0 3.4 0a1.7 1.7 0 1 0 -3.4 0M238.2 488.6a1.7 1.7 0 1 0 3.4 0a1.7 1.7 0 1 0 -3.4 0M238.5 494.0a1.7 1.7 0 1 0 3.4 0a1.7 1.7 0 1 0 -3.4 0M239.4 491.7a1.7 1.7 0 1 0 3.4 0a1.7 1.7 0 1 0 -3.4 0M239.8 493.9a1.7 1.7 0 1 0 3.4 0a1.7 1.7 0 1 0 -3.4 0M240.3 505.2a1.7 1.7 0 1 0 3.4 0a1.7 1.7 0 1 0 -3.4 0M241.1 489.9a1.7 1.7 0 1 0 3.4 0a1.7 1.7 0 1 0 -3.4 0M241.5 497.8a1.7 1.7 0 1 0 3.4 0a1.7 1.7 0 1 0 -3.4 0M242.0 499.8a1.7 1.7 0 1 0 3.4 0a1.7 1.7 0 1 0 -3.4 0M242.3 504.2a1.7 1.7 0 1 0 3.4 0a1.7 1.7 0 1 0 -3.4 0M242.6 489.9a1.7 1.7 0 1 0 3.4 0a1.7 1.7 0 1 0 -3.4 0M243.3 506.9a1.7 1.7 0 1 0 3.4 0a1.7 1.7 0 1 0 -3.4 0M243.7 502.8a1.7 1.7 0 1 0 3.4 0a1.7 1.7 0 1 0 -3.4 0M244.4 506.4a1.7 1.7 0 1 0 3.4 0a1.7 1.7 0 1 0 -3.4 0M244.9 501.8a1.7 1.7 0 1 0 3.4 0a1.7 1.7 0 1 0 -3.4 0M245.4 492.7a1.7 1.7 0 1 0 3.4 0a1.7 1.7 0 1 0 -3.4 0M246.4 501.0a1.7 1.7 0 1 0 3.4 0a1.7 1.7 0 1 0 -3.4 0M247.0 509.8a1.7 1.7 0 1 0 3.4 0a1.7 1.7 0 1 0 -3.4 0M247.6 507.3a1.7 1.7 0 1 0 3.4 0a1.7 1.7 0 1 0 -3.4 0M248.5 508.7a1.7 1.7 0 1 0 3.4 0a1.7 1.7 0 1 0 -3.4 0M248.8 516.0a1.7 1.7 0 1 0 3.4 0a1.7 1.7 0 1 0 -3.4 0M249.2 517.7a1.7 1.7 0 1 0 3.4 0a1.7 1.7 0 1 0 -3.4 0M250.1 513.4a1.7 1.7 0 1 0 3.4 0a1.7 1.7 0 1 0 -3.4 0M250.9 527.3a1.7 1.7 0 1 0 3.4 0a1.7 1.7 0 1 0 -3.4 0M251.3 505.8a1.7 1.7 0 1 0 3.4 0a1.7 1.7 0 1 0 -3.4 0M251.7 506.2a1.7 1.7 0 1 0 3.4 0a1.7 1.7 0 1 0 -3.4 0M252.5 528.2a1.7 1.7 0 1 0 3.4 0a1.7 1.7 0 1 0 -3.4 0M253.4 522.0a1.7 1.7 0 1 0 3.4 0a1.7 1.7 0 1 0 -3.4 0M253.8 528.9a1.7 1.7 0 1 0 3.4 0a1.7 1.7 0 1 0 -3.4 0M254.7 527.6a1.7 1.7 0 1 0 3.4 0a1.7 1.7 0 1 0 -3.4 0M255.6 522.5a1.7 1.7 0 1 0 3.4 0a1.7 1.7 0 1 0 -3.4 0M256.2 527.5a1.7 1.7 0 1 0 3.4 0a1.7 1.7 0 1 0 -3.4 0M256.8 523.5a1.7 1.7 0 1 0 3.4 0a1.7 1.7 0 1 0 -3.4 0M257.1 512.8a1.7 1.7 0 1 0 3.4 0a1.7 1.7 0 1 0 -3.4 0M257.4 523.6a1.7 1.7 0 1 0 3.4 0a1.7 1.7 0 1 0 -3.4 0M258.3 522.8a1.7 1.7 0 1 0 3.4 0a1.7 1.7 0 1 0 -3.4 0M258.7 531.3a1.7 1.7 0 1 0 3.4 0a1.7 1.7 0 1 0 -3.4 0M259.5 514.6a1.7 1.7 0 1 0 3.4 0a1.7 1.7 0 1 0 -3.4 0M259.9 519.7a1.7 1.7 0 1 0 3.4 0a1.7 1.7 0 1 0 -3.4 0M260.7 515.6a1.7 1.7 0 1 0 3.4 0a1.7 1.7 0 1 0 -3.4 0M261.4 515.9a1.7 1.7 0 1 0 3.4 0a1.7 1.7 0 1 0 -3.4 0M261.8 525.7a1.7 1.7 0 1 0 3.4 0a1.7 1.7 0 1 0 -3.4 0M262.2 517.3a1.7 1.7 0 1 0 3.4 0a1.7 1.7 0 1 0 -3.4 0M263.0 510.5a1.7 1.7 0 1 0 3.4 0a1.7 1.7 0 1 0 -3.4 0M263.3 513.9a1.7 1.7 0 1 0 3.4 0a1.7 1.7 0 1 0 -3.4 0M263.7 517.1a1.7 1.7 0 1 0 3.4 0a1.7 1.7 0 1 0 -3.4 0M264.3 504.1a1.7 1.7 0 1 0 3.4 0a1.7 1.7 0 1 0 -3.4 0M265.2 508.4a1.7 1.7 0 1 0 3.4 0a1.7 1.7 0 1 0 -3.4 0M265.8 520.1a1.7 1.7 0 1 0 3.4 0a1.7 1.7 0 1 0 -3.4 0M266.3 515.6a1.7 1.7 0 1 0 3.4 0a1.7 1.7 0 1 0 -3.4 0M267.2 510.4a1.7 1.7 0 1 0 3.4 0a1.7 1.7 0 1 0 -3.4 0M267.6 508.1a1.7 1.7 0 1 0 3.4 0a1.7 1.7 0 1 0 -3.4 0M267.8 510.0a1.7 1.7 0 1 0 3.4 0a1.7 1.7 0 1 0 -3.4 0M268.3 502.8a1.7 1.7 0 1 0 3.4 0a1.7 1.7 0 1 0 -3.4 0M268.8 515.8a1.7 1.7 0 1 0 3.4 0a1.7 1.7 0 1 0 -3.4 0M269.1 512.8a1.7 1.7 0 1 0 3.4 0a1.7 1.7 0 1 0 -3.4 0M269.5 511.9a1.7 1.7 0 1 0 3.4 0a1.7 1.7 0 1 0 -3.4 0M270.0 505.6a1.7 1.7 0 1 0 3.4 0a1.7 1.7 0 1 0 -3.4 0M270.7 508.5a1.7 1.7 0 1 0 3.4 0a1.7 1.7 0 1 0 -3.4 0M271.0 514.4a1.7 1.7 0 1 0 3.4 0a1.7 1.7 0 1 0 -3.4 0M271.5 513.8a1.7 1.7 0 1 0 3.4 0a1.7 1.7 0 1 0 -3.4 0M272.4 510.7a1.7 1.7 0 1 0 3.4 0a1.7 1.7 0 1 0 -3.4 0M273.3 517.3a1.7 1.7 0 1 0 3.4 0a1.7 1.7 0 1 0 -3.4 0M274.0 521.0a1.7 1.7 0 1 0 3.4 0a1.7 1.7 0 1 0 -3.4 0M274.8 511.0a1.7 1.7 0 1 0 3.4 0a1.7 1.7 0 1 0 -3.4 0M275.4 511.4a1.7 1.7 0 1 0 3.4 0a1.7 1.7 0 1 0 -3.4 0M275.8 508.9a1.7 1.7 0 1 0 3.4 0a1.7 1.7 0 1 0 -3.4 0M276.0 506.9a1.7 1.7 0 1 0 3.4 0a1.7 1.7 0 1 0 -3.4 0M276.3 519.1a1.7 1.7 0 1 0 3.4 0a1.7 1.7 0 1 0 -3.4 0M277.2 516.3a1.7 1.7 0 1 0 3.4 0a1.7 1.7 0 1 0 -3.4 0M277.9 514.4a1.7 1.7 0 1 0 3.4 0a1.7 1.7 0 1 0 -3.4 0M278.9 505.0a1.7 1.7 0 1 0 3.4 0a1.7 1.7 0 1 0 -3.4 0M279.1 505.5a1.7 1.7 0 1 0 3.4 0a1.7 1.7 0 1 0 -3.4 0M279.8 510.2a1.7 1.7 0 1 0 3.4 0a1.7 1.7 0 1 0 -3.4 0M280.4 507.9a1.7 1.7 0 1 0 3.4 0a1.7 1.7 0 1 0 -3.4 0M281.2 510.4a1.7 1.7 0 1 0 3.4 0a1.7 1.7 0 1 0 -3.4 0M281.6 505.8a1.7 1.7 0 1 0 3.4 0a1.7 1.7 0 1 0 -3.4 0M282.6 513.1a1.7 1.7 0 1 0 3.4 0a1.7 1.7 0 1 0 -3.4 0M282.9 519.9a1.7 1.7 0 1 0 3.4 0a1.7 1.7 0 1 0 -3.4 0M283.5 518.5a1.7 1.7 0 1 0 3.4 0a1.7 1.7 0 1 0 -3.4 0M284.3 519.0a1.7 1.7 0 1 0 3.4 0a1.7 1.7 0 1 0 -3.4 0M285.2 509.0a1.7 1.7 0 1 0 3.4 0a1.7 1.7 0 1 0 -3.4 0M285.9 514.6a1.7 1.7 0 1 0 3.4 0a1.7 1.7 0 1 0 -3.4 0M286.7 505.5a1.7 1.7 0 1 0 3.4 0a1.7 1.7 0 1 0 -3.4 0M287.5 514.6a1.7 1.7 0 1 0 3.4 0a1.7 1.7 0 1 0 -3.4 0M288.4 505.4a1.7 1.7 0 1 0 3.4 0a1.7 1.7 0 1 0 -3.4 0M288.9 504.8a1.7 1.7 0 1 0 3.4 0a1.7 1.7 0 1 0 -3.4 0M289.6 503.9a1.7 1.7 0 1 0 3.4 0a1.7 1.7 0 1 0 -3.4 0M290.5 513.8a1.7 1.7 0 1 0 3.4 0a1.7 1.7 0 1 0 -3.4 0M291.3 511.0a1.7 1.7 0 1 0 3.4 0a1.7 1.7 0 1 0 -3.4 0M291.9 510.6a1.7 1.7 0 1 0 3.4 0a1.7 1.7 0 1 0 -3.4 0M292.7 501.7a1.7 1.7 0 1 0 3.4 0a1.7 1.7 0 1 0 -3.4 0M293.5 510.8a1.7 1.7 0 1 0 3.4 0a1.7 1.7 0 1 0 -3.4 0M294.2 500.3a1.7 1.7 0 1 0 3.4 0a1.7 1.7 0 1 0 -3.4 0M294.9 520.1a1.7 1.7 0 1 0 3.4 0a1.7 1.7 0 1 0 -3.4 0M295.4 509.8a1.7 1.7 0 1 0 3.4 0a1.7 1.7 0 1 0 -3.4 0M296.1 512.1a1.7 1.7 0 1 0 3.4 0a1.7 1.7 0 1 0 -3.4 0M296.7 510.6a1.7 1.7 0 1 0 3.4 0a1.7 1.7 0 1 0 -3.4 0M297.0 501.8a1.7 1.7 0 1 0 3.4 0a1.7 1.7 0 1 0 -3.4 0M297.7 503.7a1.7 1.7 0 1 0 3.4 0a1.7 1.7 0 1 0 -3.4 0M298.7 511.9a1.7 1.7 0 1 0 3.4 0a1.7 1.7 0 1 0 -3.4 0M299.5 520.5a1.7 1.7 0 1 0 3.4 0a1.7 1.7 0 1 0 -3.4 0M300.3 507.1a1.7 1.7 0 1 0 3.4 0a1.7 1.7 0 1 0 -3.4 0M300.8 509.0a1.7 1.7 0 1 0 3.4 0a1.7 1.7 0 1 0 -3.4 0M301.6 512.0a1.7 1.7 0 1 0 3.4 0a1.7 1.7 0 1 0 -3.4 0M302.3 503.1a1.7 1.7 0 1 0 3.4 0a1.7 1.7 0 1 0 -3.4 0M302.8 502.7a1.7 1.7 0 1 0 3.4 0a1.7 1.7 0 1 0 -3.4 0M303.6 509.1a1.7 1.7 0 1 0 3.4 0a1.7 1.7 0 1 0 -3.4 0M304.0 510.9a1.7 1.7 0 1 0 3.4 0a1.7 1.7 0 1 0 -3.4 0M304.7 508.6a1.7 1.7 0 1 0 3.4 0a1.7 1.7 0 1 0 -3.4 0M305.0 518.9a1.7 1.7 0 1 0 3.4 0a1.7 1.7 0 1 0 -3.4 0M305.7 509.4a1.7 1.7 0 1 0 3.4 0a1.7 1.7 0 1 0 -3.4 0M306.3 511.9a1.7 1.7 0 1 0 3.4 0a1.7 1.7 0 1 0 -3.4 0M306.7 518.6a1.7 1.7 0 1 0 3.4 0a1.7 1.7 0 1 0 -3.4 0M307.4 518.9a1.7 1.7 0 1 0 3.4 0a1.7 1.7 0 1 0 -3.4 0M308.0 499.9a1.7 1.7 0 1 0 3.4 0a1.7 1.7 0 1 0 -3.4 0M308.7 505.9a1.7 1.7 0 1 0 3.4 0a1.7 1.7 0 1 0 -3.4 0M309.6 513.7a1.7 1.7 0 1 0 3.4 0a1.7 1.7 0 1 0 -3.4 0M310.0 498.7a1.7 1.7 0 1 0 3.4 0a1.7 1.7 0 1 0 -3.4 0M310.3 501.0a1.7 1.7 0 1 0 3.4 0a1.7 1.7 0 1 0 -3.4 0M310.7 498.2a1.7 1.7 0 1 0 3.4 0a1.7 1.7 0 1 0 -3.4 0M311.5 497.0a1.7 1.7 0 1 0 3.4 0a1.7 1.7 0 1 0 -3.4 0M311.8 497.8a1.7 1.7 0 1 0 3.4 0a1.7 1.7 0 1 0 -3.4 0M312.2 505.2a1.7 1.7 0 1 0 3.4 0a1.7 1.7 0 1 0 -3.4 0M313.1 510.7a1.7 1.7 0 1 0 3.4 0a1.7 1.7 0 1 0 -3.4 0M313.8 513.5a1.7 1.7 0 1 0 3.4 0a1.7 1.7 0 1 0 -3.4 0M314.4 506.2a1.7 1.7 0 1 0 3.4 0a1.7 1.7 0 1 0 -3.4 0M315.2 497.8a1.7 1.7 0 1 0 3.4 0a1.7 1.7 0 1 0 -3.4 0M315.7 509.8a1.7 1.7 0 1 0 3.4 0a1.7 1.7 0 1 0 -3.4 0M316.4 510.4a1.7 1.7 0 1 0 3.4 0a1.7 1.7 0 1 0 -3.4 0M316.8 515.4a1.7 1.7 0 1 0 3.4 0a1.7 1.7 0 1 0 -3.4 0M317.4 514.4a1.7 1.7 0 1 0 3.4 0a1.7 1.7 0 1 0 -3.4 0M318.2 508.1a1.7 1.7 0 1 0 3.4 0a1.7 1.7 0 1 0 -3.4 0M319.1 522.6a1.7 1.7 0 1 0 3.4 0a1.7 1.7 0 1 0 -3.4 0M320.0 516.5a1.7 1.7 0 1 0 3.4 0a1.7 1.7 0 1 0 -3.4 0M320.5 525.9a1.7 1.7 0 1 0 3.4 0a1.7 1.7 0 1 0 -3.4 0M321.1 534.8a1.7 1.7 0 1 0 3.4 0a1.7 1.7 0 1 0 -3.4 0M321.6 537.8a1.7 1.7 0 1 0 3.4 0a1.7 1.7 0 1 0 -3.4 0M321.9 545.3a1.7 1.7 0 1 0 3.4 0a1.7 1.7 0 1 0 -3.4 0M322.5 533.3a1.7 1.7 0 1 0 3.4 0a1.7 1.7 0 1 0 -3.4 0M323.4 547.2a1.7 1.7 0 1 0 3.4 0a1.7 1.7 0 1 0 -3.4 0M324.2 552.8a1.7 1.7 0 1 0 3.4 0a1.7 1.7 0 1 0 -3.4 0M325.0 551.6a1.7 1.7 0 1 0 3.4 0a1.7 1.7 0 1 0 -3.4 0M325.9 555.1a1.7 1.7 0 1 0 3.4 0a1.7 1.7 0 1 0 -3.4 0M326.3 548.6a1.7 1.7 0 1 0 3.4 0a1.7 1.7 0 1 0 -3.4 0M326.7 555.2a1.7 1.7 0 1 0 3.4 0a1.7 1.7 0 1 0 -3.4 0M327.3 554.8a1.7 1.7 0 1 0 3.4 0a1.7 1.7 0 1 0 -3.4 0M327.7 548.8a1.7 1.7 0 1 0 3.4 0a1.7 1.7 0 1 0 -3.4 0M328.1 550.0a1.7 1.7 0 1 0 3.4 0a1.7 1.7 0 1 0 -3.4 0M328.6 551.8a1.7 1.7 0 1 0 3.4 0a1.7 1.7 0 1 0 -3.4 0M329.3 549.8a1.7 1.7 0 1 0 3.4 0a1.7 1.7 0 1 0 -3.4 0M329.9 557.1a1.7 1.7 0 1 0 3.4 0a1.7 1.7 0 1 0 -3.4 0M330.4 553.3a1.7 1.7 0 1 0 3.4 0a1.7 1.7 0 1 0 -3.4 0M331.2 558.6a1.7 1.7 0 1 0 3.4 0a1.7 1.7 0 1 0 -3.4 0M332.2 561.9a1.7 1.7 0 1 0 3.4 0a1.7 1.7 0 1 0 -3.4 0M332.7 557.1a1.7 1.7 0 1 0 3.4 0a1.7 1.7 0 1 0 -3.4 0M333.0 556.2a1.7 1.7 0 1 0 3.4 0a1.7 1.7 0 1 0 -3.4 0M333.3 551.5a1.7 1.7 0 1 0 3.4 0a1.7 1.7 0 1 0 -3.4 0M334.2 554.0a1.7 1.7 0 1 0 3.4 0a1.7 1.7 0 1 0 -3.4 0M334.5 556.0a1.7 1.7 0 1 0 3.4 0a1.7 1.7 0 1 0 -3.4 0M335.2 573.4a1.7 1.7 0 1 0 3.4 0a1.7 1.7 0 1 0 -3.4 0M335.8 570.1a1.7 1.7 0 1 0 3.4 0a1.7 1.7 0 1 0 -3.4 0M336.3 577.7a1.7 1.7 0 1 0 3.4 0a1.7 1.7 0 1 0 -3.4 0M337.1 578.7a1.7 1.7 0 1 0 3.4 0a1.7 1.7 0 1 0 -3.4 0M337.4 573.3a1.7 1.7 0 1 0 3.4 0a1.7 1.7 0 1 0 -3.4 0M337.7 575.8a1.7 1.7 0 1 0 3.4 0a1.7 1.7 0 1 0 -3.4 0M338.3 588.6a1.7 1.7 0 1 0 3.4 0a1.7 1.7 0 1 0 -3.4 0M338.6 590.0a1.7 1.7 0 1 0 3.4 0a1.7 1.7 0 1 0 -3.4 0M339.4 571.4a1.7 1.7 0 1 0 3.4 0a1.7 1.7 0 1 0 -3.4 0M339.8 576.0a1.7 1.7 0 1 0 3.4 0a1.7 1.7 0 1 0 -3.4 0M340.2 574.7a1.7 1.7 0 1 0 3.4 0a1.7 1.7 0 1 0 -3.4 0M340.4 575.5a1.7 1.7 0 1 0 3.4 0a1.7 1.7 0 1 0 -3.4 0M341.1 589.7a1.7 1.7 0 1 0 3.4 0a1.7 1.7 0 1 0 -3.4 0M341.7 583.2a1.7 1.7 0 1 0 3.4 0a1.7 1.7 0 1 0 -3.4 0M342.4 587.7a1.7 1.7 0 1 0 3.4 0a1.7 1.7 0 1 0 -3.4 0M343.1 591.9a1.7 1.7 0 1 0 3.4 0a1.7 1.7 0 1 0 -3.4 0M343.9 574.7a1.7 1.7 0 1 0 3.4 0a1.7 1.7 0 1 0 -3.4 0M344.8 576.8a1.7 1.7 0 1 0 3.4 0a1.7 1.7 0 1 0 -3.4 0M345.6 578.7a1.7 1.7 0 1 0 3.4 0a1.7 1.7 0 1 0 -3.4 0M346.0 586.4a1.7 1.7 0 1 0 3.4 0a1.7 1.7 0 1 0 -3.4 0M346.5 577.8a1.7 1.7 0 1 0 3.4 0a1.7 1.7 0 1 0 -3.4 0M346.9 583.6a1.7 1.7 0 1 0 3.4 0a1.7 1.7 0 1 0 -3.4 0M347.2 587.7a1.7 1.7 0 1 0 3.4 0a1.7 1.7 0 1 0 -3.4 0M347.7 587.7a1.7 1.7 0 1 0 3.4 0a1.7 1.7 0 1 0 -3.4 0M348.5 582.2a1.7 1.7 0 1 0 3.4 0a1.7 1.7 0 1 0 -3.4 0M348.9 572.7a1.7 1.7 0 1 0 3.4 0a1.7 1.7 0 1 0 -3.4 0M349.3 566.7a1.7 1.7 0 1 0 3.4 0a1.7 1.7 0 1 0 -3.4 0M349.8 587.7a1.7 1.7 0 1 0 3.4 0a1.7 1.7 0 1 0 -3.4 0M350.5 582.2a1.7 1.7 0 1 0 3.4 0a1.7 1.7 0 1 0 -3.4 0M351.2 569.9a1.7 1.7 0 1 0 3.4 0a1.7 1.7 0 1 0 -3.4 0M351.8 572.2a1.7 1.7 0 1 0 3.4 0a1.7 1.7 0 1 0 -3.4 0M352.6 571.3a1.7 1.7 0 1 0 3.4 0a1.7 1.7 0 1 0 -3.4 0M353.1 556.3a1.7 1.7 0 1 0 3.4 0a1.7 1.7 0 1 0 -3.4 0M353.9 561.5a1.7 1.7 0 1 0 3.4 0a1.7 1.7 0 1 0 -3.4 0M354.8 549.8a1.7 1.7 0 1 0 3.4 0a1.7 1.7 0 1 0 -3.4 0M355.1 553.0a1.7 1.7 0 1 0 3.4 0a1.7 1.7 0 1 0 -3.4 0M356.0 559.7a1.7 1.7 0 1 0 3.4 0a1.7 1.7 0 1 0 -3.4 0M356.8 554.2a1.7 1.7 0 1 0 3.4 0a1.7 1.7 0 1 0 -3.4 0M357.1 558.3a1.7 1.7 0 1 0 3.4 0a1.7 1.7 0 1 0 -3.4 0M357.7 557.5a1.7 1.7 0 1 0 3.4 0a1.7 1.7 0 1 0 -3.4 0M358.4 554.9a1.7 1.7 0 1 0 3.4 0a1.7 1.7 0 1 0 -3.4 0M359.3 555.0a1.7 1.7 0 1 0 3.4 0a1.7 1.7 0 1 0 -3.4 0M359.8 566.5a1.7 1.7 0 1 0 3.4 0a1.7 1.7 0 1 0 -3.4 0M360.4 553.5a1.7 1.7 0 1 0 3.4 0a1.7 1.7 0 1 0 -3.4 0M361.3 564.8a1.7 1.7 0 1 0 3.4 0a1.7 1.7 0 1 0 -3.4 0M362.1 548.7a1.7 1.7 0 1 0 3.4 0a1.7 1.7 0 1 0 -3.4 0M363.0 558.9a1.7 1.7 0 1 0 3.4 0a1.7 1.7 0 1 0 -3.4 0M363.6 555.4a1.7 1.7 0 1 0 3.4 0a1.7 1.7 0 1 0 -3.4 0M364.3 549.8a1.7 1.7 0 1 0 3.4 0a1.7 1.7 0 1 0 -3.4 0M364.7 542.5a1.7 1.7 0 1 0 3.4 0a1.7 1.7 0 1 0 -3.4 0M365.5 564.0a1.7 1.7 0 1 0 3.4 0a1.7 1.7 0 1 0 -3.4 0M366.3 547.1a1.7 1.7 0 1 0 3.4 0a1.7 1.7 0 1 0 -3.4 0M367.0 548.3a1.7 1.7 0 1 0 3.4 0a1.7 1.7 0 1 0 -3.4 0M367.7 554.8a1.7 1.7 0 1 0 3.4 0a1.7 1.7 0 1 0 -3.4 0M368.1 554.4a1.7 1.7 0 1 0 3.4 0a1.7 1.7 0 1 0 -3.4 0M369.0 551.9a1.7 1.7 0 1 0 3.4 0a1.7 1.7 0 1 0 -3.4 0M369.9 543.7a1.7 1.7 0 1 0 3.4 0a1.7 1.7 0 1 0 -3.4 0M370.9 531.2a1.7 1.7 0 1 0 3.4 0a1.7 1.7 0 1 0 -3.4 0M371.5 543.2a1.7 1.7 0 1 0 3.4 0a1.7 1.7 0 1 0 -3.4 0M372.3 532.9a1.7 1.7 0 1 0 3.4 0a1.7 1.7 0 1 0 -3.4 0M372.8 539.7a1.7 1.7 0 1 0 3.4 0a1.7 1.7 0 1 0 -3.4 0M373.7 542.0a1.7 1.7 0 1 0 3.4 0a1.7 1.7 0 1 0 -3.4 0M374.5 545.6a1.7 1.7 0 1 0 3.4 0a1.7 1.7 0 1 0 -3.4 0M375.0 537.7a1.7 1.7 0 1 0 3.4 0a1.7 1.7 0 1 0 -3.4 0M375.3 537.3a1.7 1.7 0 1 0 3.4 0a1.7 1.7 0 1 0 -3.4 0M375.9 537.9a1.7 1.7 0 1 0 3.4 0a1.7 1.7 0 1 0 -3.4 0M376.5 529.0a1.7 1.7 0 1 0 3.4 0a1.7 1.7 0 1 0 -3.4 0M377.3 535.0a1.7 1.7 0 1 0 3.4 0a1.7 1.7 0 1 0 -3.4 0M377.9 533.6a1.7 1.7 0 1 0 3.4 0a1.7 1.7 0 1 0 -3.4 0M378.2 532.8a1.7 1.7 0 1 0 3.4 0a1.7 1.7 0 1 0 -3.4 0M379.0 539.9a1.7 1.7 0 1 0 3.4 0a1.7 1.7 0 1 0 -3.4 0M379.3 537.3a1.7 1.7 0 1 0 3.4 0a1.7 1.7 0 1 0 -3.4 0M380.1 547.4a1.7 1.7 0 1 0 3.4 0a1.7 1.7 0 1 0 -3.4 0M380.5 546.8a1.7 1.7 0 1 0 3.4 0a1.7 1.7 0 1 0 -3.4 0M380.9 528.9a1.7 1.7 0 1 0 3.4 0a1.7 1.7 0 1 0 -3.4 0M381.7 539.4a1.7 1.7 0 1 0 3.4 0a1.7 1.7 0 1 0 -3.4 0M382.1 533.5a1.7 1.7 0 1 0 3.4 0a1.7 1.7 0 1 0 -3.4 0M382.4 541.5a1.7 1.7 0 1 0 3.4 0a1.7 1.7 0 1 0 -3.4 0M383.1 539.4a1.7 1.7 0 1 0 3.4 0a1.7 1.7 0 1 0 -3.4 0M383.8 544.3a1.7 1.7 0 1 0 3.4 0a1.7 1.7 0 1 0 -3.4 0M384.7 542.7a1.7 1.7 0 1 0 3.4 0a1.7 1.7 0 1 0 -3.4 0M385.4 546.4a1.7 1.7 0 1 0 3.4 0a1.7 1.7 0 1 0 -3.4 0M386.3 542.8a1.7 1.7 0 1 0 3.4 0a1.7 1.7 0 1 0 -3.4 0M386.9 535.9a1.7 1.7 0 1 0 3.4 0a1.7 1.7 0 1 0 -3.4 0M387.8 541.3a1.7 1.7 0 1 0 3.4 0a1.7 1.7 0 1 0 -3.4 0M388.1 543.6a1.7 1.7 0 1 0 3.4 0a1.7 1.7 0 1 0 -3.4 0M388.5 546.1a1.7 1.7 0 1 0 3.4 0a1.7 1.7 0 1 0 -3.4 0M389.1 544.8a1.7 1.7 0 1 0 3.4 0a1.7 1.7 0 1 0 -3.4 0M389.6 558.5a1.7 1.7 0 1 0 3.4 0a1.7 1.7 0 1 0 -3.4 0M390.4 551.2a1.7 1.7 0 1 0 3.4 0a1.7 1.7 0 1 0 -3.4 0M391.1 559.6a1.7 1.7 0 1 0 3.4 0a1.7 1.7 0 1 0 -3.4 0M391.7 552.9a1.7 1.7 0 1 0 3.4 0a1.7 1.7 0 1 0 -3.4 0M392.5 563.0a1.7 1.7 0 1 0 3.4 0a1.7 1.7 0 1 0 -3.4 0M393.2 549.7a1.7 1.7 0 1 0 3.4 0a1.7 1.7 0 1 0 -3.4 0M393.6 558.3a1.7 1.7 0 1 0 3.4 0a1.7 1.7 0 1 0 -3.4 0M394.1 549.3a1.7 1.7 0 1 0 3.4 0a1.7 1.7 0 1 0 -3.4 0M395.0 558.0a1.7 1.7 0 1 0 3.4 0a1.7 1.7 0 1 0 -3.4 0M395.9 563.6a1.7 1.7 0 1 0 3.4 0a1.7 1.7 0 1 0 -3.4 0M396.3 548.5a1.7 1.7 0 1 0 3.4 0a1.7 1.7 0 1 0 -3.4 0M397.1 552.4a1.7 1.7 0 1 0 3.4 0a1.7 1.7 0 1 0 -3.4 0M398.0 557.9a1.7 1.7 0 1 0 3.4 0a1.7 1.7 0 1 0 -3.4 0M398.6 556.0a1.7 1.7 0 1 0 3.4 0a1.7 1.7 0 1 0 -3.4 0M399.3 550.6a1.7 1.7 0 1 0 3.4 0a1.7 1.7 0 1 0 -3.4 0M399.7 562.7a1.7 1.7 0 1 0 3.4 0a1.7 1.7 0 1 0 -3.4 0M400.3 557.6a1.7 1.7 0 1 0 3.4 0a1.7 1.7 0 1 0 -3.4 0M400.9 563.7a1.7 1.7 0 1 0 3.4 0a1.7 1.7 0 1 0 -3.4 0M401.6 559.3a1.7 1.7 0 1 0 3.4 0a1.7 1.7 0 1 0 -3.4 0M401.9 552.4a1.7 1.7 0 1 0 3.4 0a1.7 1.7 0 1 0 -3.4 0M402.8 555.4a1.7 1.7 0 1 0 3.4 0a1.7 1.7 0 1 0 -3.4 0M403.4 564.2a1.7 1.7 0 1 0 3.4 0a1.7 1.7 0 1 0 -3.4 0M403.9 550.8a1.7 1.7 0 1 0 3.4 0a1.7 1.7 0 1 0 -3.4 0M404.7 555.1a1.7 1.7 0 1 0 3.4 0a1.7 1.7 0 1 0 -3.4 0M405.4 560.1a1.7 1.7 0 1 0 3.4 0a1.7 1.7 0 1 0 -3.4 0M406.0 562.0a1.7 1.7 0 1 0 3.4 0a1.7 1.7 0 1 0 -3.4 0M406.7 561.0a1.7 1.7 0 1 0 3.4 0a1.7 1.7 0 1 0 -3.4 0M407.0 549.6a1.7 1.7 0 1 0 3.4 0a1.7 1.7 0 1 0 -3.4 0M407.6 566.2a1.7 1.7 0 1 0 3.4 0a1.7 1.7 0 1 0 -3.4 0M408.2 555.9a1.7 1.7 0 1 0 3.4 0a1.7 1.7 0 1 0 -3.4 0M409.1 556.6a1.7 1.7 0 1 0 3.4 0a1.7 1.7 0 1 0 -3.4 0M410.0 556.3a1.7 1.7 0 1 0 3.4 0a1.7 1.7 0 1 0 -3.4 0M410.4 555.1a1.7 1.7 0 1 0 3.4 0a1.7 1.7 0 1 0 -3.4 0M411.0 551.2a1.7 1.7 0 1 0 3.4 0a1.7 1.7 0 1 0 -3.4 0M411.3 554.4a1.7 1.7 0 1 0 3.4 0a1.7 1.7 0 1 0 -3.4 0M411.9 562.7a1.7 1.7 0 1 0 3.4 0a1.7 1.7 0 1 0 -3.4 0M412.7 548.8a1.7 1.7 0 1 0 3.4 0a1.7 1.7 0 1 0 -3.4 0M413.6 545.3a1.7 1.7 0 1 0 3.4 0a1.7 1.7 0 1 0 -3.4 0M414.2 557.1a1.7 1.7 0 1 0 3.4 0a1.7 1.7 0 1 0 -3.4 0M414.7 555.4a1.7 1.7 0 1 0 3.4 0a1.7 1.7 0 1 0 -3.4 0M415.0 556.8a1.7 1.7 0 1 0 3.4 0a1.7 1.7 0 1 0 -3.4 0M415.7 561.2a1.7 1.7 0 1 0 3.4 0a1.7 1.7 0 1 0 -3.4 0M416.6 546.5a1.7 1.7 0 1 0 3.4 0a1.7 1.7 0 1 0 -3.4 0M417.0 550.9a1.7 1.7 0 1 0 3.4 0a1.7 1.7 0 1 0 -3.4 0M417.8 551.5a1.7 1.7 0 1 0 3.4 0a1.7 1.7 0 1 0 -3.4 0M418.0 555.1a1.7 1.7 0 1 0 3.4 0a1.7 1.7 0 1 0 -3.4 0M418.4 553.4a1.7 1.7 0 1 0 3.4 0a1.7 1.7 0 1 0 -3.4 0M418.8 542.3a1.7 1.7 0 1 0 3.4 0a1.7 1.7 0 1 0 -3.4 0M419.6 538.1a1.7 1.7 0 1 0 3.4 0a1.7 1.7 0 1 0 -3.4 0M420.0 543.6a1.7 1.7 0 1 0 3.4 0a1.7 1.7 0 1 0 -3.4 0M420.5 535.1a1.7 1.7 0 1 0 3.4 0a1.7 1.7 0 1 0 -3.4 0M421.2 549.8a1.7 1.7 0 1 0 3.4 0a1.7 1.7 0 1 0 -3.4 0M421.5 540.5a1.7 1.7 0 1 0 3.4 0a1.7 1.7 0 1 0 -3.4 0M422.3 539.5a1.7 1.7 0 1 0 3.4 0a1.7 1.7 0 1 0 -3.4 0M422.6 535.8a1.7 1.7 0 1 0 3.4 0a1.7 1.7 0 1 0 -3.4 0M423.2 549.2a1.7 1.7 0 1 0 3.4 0a1.7 1.7 0 1 0 -3.4 0M423.7 541.8a1.7 1.7 0 1 0 3.4 0a1.7 1.7 0 1 0 -3.4 0M424.0 537.6a1.7 1.7 0 1 0 3.4 0a1.7 1.7 0 1 0 -3.4 0M424.7 544.0a1.7 1.7 0 1 0 3.4 0a1.7 1.7 0 1 0 -3.4 0M425.2 539.8a1.7 1.7 0 1 0 3.4 0a1.7 1.7 0 1 0 -3.4 0M425.7 544.1a1.7 1.7 0 1 0 3.4 0a1.7 1.7 0 1 0 -3.4 0M426.3 548.8a1.7 1.7 0 1 0 3.4 0a1.7 1.7 0 1 0 -3.4 0M426.9 538.9a1.7 1.7 0 1 0 3.4 0a1.7 1.7 0 1 0 -3.4 0M427.3 543.9a1.7 1.7 0 1 0 3.4 0a1.7 1.7 0 1 0 -3.4 0M427.7 543.8a1.7 1.7 0 1 0 3.4 0a1.7 1.7 0 1 0 -3.4 0M428.3 548.2a1.7 1.7 0 1 0 3.4 0a1.7 1.7 0 1 0 -3.4 0M429.0 544.9a1.7 1.7 0 1 0 3.4 0a1.7 1.7 0 1 0 -3.4 0M429.7 541.3a1.7 1.7 0 1 0 3.4 0a1.7 1.7 0 1 0 -3.4 0M430.5 536.9a1.7 1.7 0 1 0 3.4 0a1.7 1.7 0 1 0 -3.4 0M431.2 543.3a1.7 1.7 0 1 0 3.4 0a1.7 1.7 0 1 0 -3.4 0M432.0 534.2a1.7 1.7 0 1 0 3.4 0a1.7 1.7 0 1 0 -3.4 0M432.4 545.6a1.7 1.7 0 1 0 3.4 0a1.7 1.7 0 1 0 -3.4 0M433.2 541.0a1.7 1.7 0 1 0 3.4 0a1.7 1.7 0 1 0 -3.4 0M434.0 543.8a1.7 1.7 0 1 0 3.4 0a1.7 1.7 0 1 0 -3.4 0M434.9 536.0a1.7 1.7 0 1 0 3.4 0a1.7 1.7 0 1 0 -3.4 0M435.4 533.8a1.7 1.7 0 1 0 3.4 0a1.7 1.7 0 1 0 -3.4 0M435.9 532.8a1.7 1.7 0 1 0 3.4 0a1.7 1.7 0 1 0 -3.4 0M436.8 545.6a1.7 1.7 0 1 0 3.4 0a1.7 1.7 0 1 0 -3.4 0M437.2 536.6a1.7 1.7 0 1 0 3.4 0a1.7 1.7 0 1 0 -3.4 0M438.1 535.9a1.7 1.7 0 1 0 3.4 0a1.7 1.7 0 1 0 -3.4 0M439.0 525.3a1.7 1.7 0 1 0 3.4 0a1.7 1.7 0 1 0 -3.4 0M439.3 536.3a1.7 1.7 0 1 0 3.4 0a1.7 1.7 0 1 0 -3.4 0M439.7 524.0a1.7 1.7 0 1 0 3.4 0a1.7 1.7 0 1 0 -3.4 0M440.5 542.3a1.7 1.7 0 1 0 3.4 0a1.7 1.7 0 1 0 -3.4 0M440.9 530.6a1.7 1.7 0 1 0 3.4 0a1.7 1.7 0 1 0 -3.4 0M441.2 531.2a1.7 1.7 0 1 0 3.4 0a1.7 1.7 0 1 0 -3.4 0M442.1 519.2a1.7 1.7 0 1 0 3.4 0a1.7 1.7 0 1 0 -3.4 0M442.6 519.4a1.7 1.7 0 1 0 3.4 0a1.7 1.7 0 1 0 -3.4 0M443.4 527.2a1.7 1.7 0 1 0 3.4 0a1.7 1.7 0 1 0 -3.4 0M443.8 521.0a1.7 1.7 0 1 0 3.4 0a1.7 1.7 0 1 0 -3.4 0M444.3 523.1a1.7 1.7 0 1 0 3.4 0a1.7 1.7 0 1 0 -3.4 0M445.0 525.7a1.7 1.7 0 1 0 3.4 0a1.7 1.7 0 1 0 -3.4 0M445.3 521.0a1.7 1.7 0 1 0 3.4 0a1.7 1.7 0 1 0 -3.4 0M445.7 504.1a1.7 1.7 0 1 0 3.4 0a1.7 1.7 0 1 0 -3.4 0M446.4 507.2a1.7 1.7 0 1 0 3.4 0a1.7 1.7 0 1 0 -3.4 0M447.3 504.5a1.7 1.7 0 1 0 3.4 0a1.7 1.7 0 1 0 -3.4 0M448.2 505.8a1.7 1.7 0 1 0 3.4 0a1.7 1.7 0 1 0 -3.4 0M448.6 499.6a1.7 1.7 0 1 0 3.4 0a1.7 1.7 0 1 0 -3.4 0M449.2 499.5a1.7 1.7 0 1 0 3.4 0a1.7 1.7 0 1 0 -3.4 0M449.9 506.6a1.7 1.7 0 1 0 3.4 0a1.7 1.7 0 1 0 -3.4 0M450.5 507.4a1.7 1.7 0 1 0 3.4 0a1.7 1.7 0 1 0 -3.4 0M451.3 514.3a1.7 1.7 0 1 0 3.4 0a1.7 1.7 0 1 0 -3.4 0M451.7 509.0a1.7 1.7 0 1 0 3.4 0a1.7 1.7 0 1 0 -3.4 0M452.0 519.9a1.7 1.7 0 1 0 3.4 0a1.7 1.7 0 1 0 -3.4 0M452.3 499.6a1.7 1.7 0 1 0 3.4 0a1.7 1.7 0 1 0 -3.4 0M452.6 502.3a1.7 1.7 0 1 0 3.4 0a1.7 1.7 0 1 0 -3.4 0M453.2 512.5a1.7 1.7 0 1 0 3.4 0a1.7 1.7 0 1 0 -3.4 0M453.8 509.2a1.7 1.7 0 1 0 3.4 0a1.7 1.7 0 1 0 -3.4 0M454.4 504.6a1.7 1.7 0 1 0 3.4 0a1.7 1.7 0 1 0 -3.4 0M454.8 515.7a1.7 1.7 0 1 0 3.4 0a1.7 1.7 0 1 0 -3.4 0M455.2 517.7a1.7 1.7 0 1 0 3.4 0a1.7 1.7 0 1 0 -3.4 0M455.6 519.1a1.7 1.7 0 1 0 3.4 0a1.7 1.7 0 1 0 -3.4 0M456.4 508.3a1.7 1.7 0 1 0 3.4 0a1.7 1.7 0 1 0 -3.4 0M457.4 511.9a1.7 1.7 0 1 0 3.4 0a1.7 1.7 0 1 0 -3.4 0M458.3 514.7a1.7 1.7 0 1 0 3.4 0a1.7 1.7 0 1 0 -3.4 0M458.6 513.8a1.7 1.7 0 1 0 3.4 0a1.7 1.7 0 1 0 -3.4 0M458.9 521.5a1.7 1.7 0 1 0 3.4 0a1.7 1.7 0 1 0 -3.4 0M459.8 510.8a1.7 1.7 0 1 0 3.4 0a1.7 1.7 0 1 0 -3.4 0M460.4 518.5a1.7 1.7 0 1 0 3.4 0a1.7 1.7 0 1 0 -3.4 0M461.1 499.7a1.7 1.7 0 1 0 3.4 0a1.7 1.7 0 1 0 -3.4 0M461.6 523.5a1.7 1.7 0 1 0 3.4 0a1.7 1.7 0 1 0 -3.4 0M462.2 532.4a1.7 1.7 0 1 0 3.4 0a1.7 1.7 0 1 0 -3.4 0M462.8 517.9a1.7 1.7 0 1 0 3.4 0a1.7 1.7 0 1 0 -3.4 0M463.4 528.8a1.7 1.7 0 1 0 3.4 0a1.7 1.7 0 1 0 -3.4 0M464.0 503.0a1.7 1.7 0 1 0 3.4 0a1.7 1.7 0 1 0 -3.4 0M464.3 516.5a1.7 1.7 0 1 0 3.4 0a1.7 1.7 0 1 0 -3.4 0M465.0 504.6a1.7 1.7 0 1 0 3.4 0a1.7 1.7 0 1 0 -3.4 0M465.9 525.1a1.7 1.7 0 1 0 3.4 0a1.7 1.7 0 1 0 -3.4 0M466.2 527.8a1.7 1.7 0 1 0 3.4 0a1.7 1.7 0 1 0 -3.4 0M466.8 507.3a1.7 1.7 0 1 0 3.4 0a1.7 1.7 0 1 0 -3.4 0M467.6 513.8a1.7 1.7 0 1 0 3.4 0a1.7 1.7 0 1 0 -3.4 0M468.1 516.3a1.7 1.7 0 1 0 3.4 0a1.7 1.7 0 1 0 -3.4 0M468.5 543.1a1.7 1.7 0 1 0 3.4 0a1.7 1.7 0 1 0 -3.4 0M468.9 521.0a1.7 1.7 0 1 0 3.4 0a1.7 1.7 0 1 0 -3.4 0M469.5 522.1a1.7 1.7 0 1 0 3.4 0a1.7 1.7 0 1 0 -3.4 0M469.7 524.1a1.7 1.7 0 1 0 3.4 0a1.7 1.7 0 1 0 -3.4 0M470.6 523.3a1.7 1.7 0 1 0 3.4 0a1.7 1.7 0 1 0 -3.4 0M471.4 522.4a1.7 1.7 0 1 0 3.4 0a1.7 1.7 0 1 0 -3.4 0M472.2 517.6a1.7 1.7 0 1 0 3.4 0a1.7 1.7 0 1 0 -3.4 0M473.0 527.2a1.7 1.7 0 1 0 3.4 0a1.7 1.7 0 1 0 -3.4 0M473.7 545.8a1.7 1.7 0 1 0 3.4 0a1.7 1.7 0 1 0 -3.4 0M474.2 539.3a1.7 1.7 0 1 0 3.4 0a1.7 1.7 0 1 0 -3.4 0M474.9 538.5a1.7 1.7 0 1 0 3.4 0a1.7 1.7 0 1 0 -3.4 0M475.5 533.9a1.7 1.7 0 1 0 3.4 0a1.7 1.7 0 1 0 -3.4 0M476.5 548.0a1.7 1.7 0 1 0 3.4 0a1.7 1.7 0 1 0 -3.4 0M477.3 552.7a1.7 1.7 0 1 0 3.4 0a1.7 1.7 0 1 0 -3.4 0M477.7 548.1a1.7 1.7 0 1 0 3.4 0a1.7 1.7 0 1 0 -3.4 0M478.6 567.3a1.7 1.7 0 1 0 3.4 0a1.7 1.7 0 1 0 -3.4 0M479.4 553.2a1.7 1.7 0 1 0 3.4 0a1.7 1.7 0 1 0 -3.4 0M480.1 559.0a1.7 1.7 0 1 0 3.4 0a1.7 1.7 0 1 0 -3.4 0M481.0 570.7a1.7 1.7 0 1 0 3.4 0a1.7 1.7 0 1 0 -3.4 0M481.5 565.3a1.7 1.7 0 1 0 3.4 0a1.7 1.7 0 1 0 -3.4 0M482.4 575.7a1.7 1.7 0 1 0 3.4 0a1.7 1.7 0 1 0 -3.4 0M483.2 563.9a1.7 1.7 0 1 0 3.4 0a1.7 1.7 0 1 0 -3.4 0M484.0 563.3a1.7 1.7 0 1 0 3.4 0a1.7 1.7 0 1 0 -3.4 0M484.8 573.3a1.7 1.7 0 1 0 3.4 0a1.7 1.7 0 1 0 -3.4 0M485.6 572.2a1.7 1.7 0 1 0 3.4 0a1.7 1.7 0 1 0 -3.4 0M486.1 582.2a1.7 1.7 0 1 0 3.4 0a1.7 1.7 0 1 0 -3.4 0M486.8 576.2a1.7 1.7 0 1 0 3.4 0a1.7 1.7 0 1 0 -3.4 0M487.1 572.7a1.7 1.7 0 1 0 3.4 0a1.7 1.7 0 1 0 -3.4 0M487.6 577.9a1.7 1.7 0 1 0 3.4 0a1.7 1.7 0 1 0 -3.4 0M488.2 580.7a1.7 1.7 0 1 0 3.4 0a1.7 1.7 0 1 0 -3.4 0M488.5 565.0a1.7 1.7 0 1 0 3.4 0a1.7 1.7 0 1 0 -3.4 0M489.0 574.0a1.7 1.7 0 1 0 3.4 0a1.7 1.7 0 1 0 -3.4 0M489.7 572.6a1.7 1.7 0 1 0 3.4 0a1.7 1.7 0 1 0 -3.4 0M490.4 586.3a1.7 1.7 0 1 0 3.4 0a1.7 1.7 0 1 0 -3.4 0M490.8 571.8a1.7 1.7 0 1 0 3.4 0a1.7 1.7 0 1 0 -3.4 0M491.7 585.5a1.7 1.7 0 1 0 3.4 0a1.7 1.7 0 1 0 -3.4 0M492.4 565.9a1.7 1.7 0 1 0 3.4 0a1.7 1.7 0 1 0 -3.4 0M492.9 576.4a1.7 1.7 0 1 0 3.4 0a1.7 1.7 0 1 0 -3.4 0M493.6 586.0a1.7 1.7 0 1 0 3.4 0a1.7 1.7 0 1 0 -3.4 0M494.2 575.2a1.7 1.7 0 1 0 3.4 0a1.7 1.7 0 1 0 -3.4 0M494.9 587.1a1.7 1.7 0 1 0 3.4 0a1.7 1.7 0 1 0 -3.4 0M495.4 562.2a1.7 1.7 0 1 0 3.4 0a1.7 1.7 0 1 0 -3.4 0M496.3 578.4a1.7 1.7 0 1 0 3.4 0a1.7 1.7 0 1 0 -3.4 0M497.0 579.8a1.7 1.7 0 1 0 3.4 0a1.7 1.7 0 1 0 -3.4 0M497.8 577.8a1.7 1.7 0 1 0 3.4 0a1.7 1.7 0 1 0 -3.4 0M498.6 567.2a1.7 1.7 0 1 0 3.4 0a1.7 1.7 0 1 0 -3.4 0M499.5 584.1a1.7 1.7 0 1 0 3.4 0a1.7 1.7 0 1 0 -3.4 0M499.8 563.8a1.7 1.7 0 1 0 3.4 0a1.7 1.7 0 1 0 -3.4 0M500.4 586.3a1.7 1.7 0 1 0 3.4 0a1.7 1.7 0 1 0 -3.4 0M501.2 581.1a1.7 1.7 0 1 0 3.4 0a1.7 1.7 0 1 0 -3.4 0M501.6 586.6a1.7 1.7 0 1 0 3.4 0a1.7 1.7 0 1 0 -3.4 0M502.2 576.7a1.7 1.7 0 1 0 3.4 0a1.7 1.7 0 1 0 -3.4 0M502.5 569.9a1.7 1.7 0 1 0 3.4 0a1.7 1.7 0 1 0 -3.4 0M502.8 574.6a1.7 1.7 0 1 0 3.4 0a1.7 1.7 0 1 0 -3.4 0M503.4 574.9a1.7 1.7 0 1 0 3.4 0a1.7 1.7 0 1 0 -3.4 0M503.7 583.4a1.7 1.7 0 1 0 3.4 0a1.7 1.7 0 1 0 -3.4 0M504.1 576.1a1.7 1.7 0 1 0 3.4 0a1.7 1.7 0 1 0 -3.4 0M505.0 581.9a1.7 1.7 0 1 0 3.4 0a1.7 1.7 0 1 0 -3.4 0M505.6 582.4a1.7 1.7 0 1 0 3.4 0a1.7 1.7 0 1 0 -3.4 0M506.2 590.0a1.7 1.7 0 1 0 3.4 0a1.7 1.7 0 1 0 -3.4 0M507.2 562.8a1.7 1.7 0 1 0 3.4 0a1.7 1.7 0 1 0 -3.4 0M507.8 575.1a1.7 1.7 0 1 0 3.4 0a1.7 1.7 0 1 0 -3.4 0M508.7 584.0a1.7 1.7 0 1 0 3.4 0a1.7 1.7 0 1 0 -3.4 0M509.4 584.0a1.7 1.7 0 1 0 3.4 0a1.7 1.7 0 1 0 -3.4 0M510.3 573.6a1.7 1.7 0 1 0 3.4 0a1.7 1.7 0 1 0 -3.4 0M510.6 576.1a1.7 1.7 0 1 0 3.4 0a1.7 1.7 0 1 0 -3.4 0M511.2 577.4a1.7 1.7 0 1 0 3.4 0a1.7 1.7 0 1 0 -3.4 0M512.0 579.3a1.7 1.7 0 1 0 3.4 0a1.7 1.7 0 1 0 -3.4 0M512.3 573.5a1.7 1.7 0 1 0 3.4 0a1.7 1.7 0 1 0 -3.4 0M513.2 572.7a1.7 1.7 0 1 0 3.4 0a1.7 1.7 0 1 0 -3.4 0M513.6 568.7a1.7 1.7 0 1 0 3.4 0a1.7 1.7 0 1 0 -3.4 0M514.1 574.8a1.7 1.7 0 1 0 3.4 0a1.7 1.7 0 1 0 -3.4 0M514.5 589.6a1.7 1.7 0 1 0 3.4 0a1.7 1.7 0 1 0 -3.4 0M515.1 569.8a1.7 1.7 0 1 0 3.4 0a1.7 1.7 0 1 0 -3.4 0M515.8 585.8a1.7 1.7 0 1 0 3.4 0a1.7 1.7 0 1 0 -3.4 0M516.1 593.6a1.7 1.7 0 1 0 3.4 0a1.7 1.7 0 1 0 -3.4 0M517.0 579.2a1.7 1.7 0 1 0 3.4 0a1.7 1.7 0 1 0 -3.4 0M517.5 593.3a1.7 1.7 0 1 0 3.4 0a1.7 1.7 0 1 0 -3.4 0M518.1 576.1a1.7 1.7 0 1 0 3.4 0a1.7 1.7 0 1 0 -3.4 0M518.8 591.2a1.7 1.7 0 1 0 3.4 0a1.7 1.7 0 1 0 -3.4 0M519.3 576.7a1.7 1.7 0 1 0 3.4 0a1.7 1.7 0 1 0 -3.4 0M519.8 566.9a1.7 1.7 0 1 0 3.4 0a1.7 1.7 0 1 0 -3.4 0M520.5 579.9a1.7 1.7 0 1 0 3.4 0a1.7 1.7 0 1 0 -3.4 0M521.1 592.7a1.7 1.7 0 1 0 3.4 0a1.7 1.7 0 1 0 -3.4 0M521.6 571.8a1.7 1.7 0 1 0 3.4 0a1.7 1.7 0 1 0 -3.4 0M522.3 580.7a1.7 1.7 0 1 0 3.4 0a1.7 1.7 0 1 0 -3.4 0M522.8 568.2a1.7 1.7 0 1 0 3.4 0a1.7 1.7 0 1 0 -3.4 0M523.0 569.1a1.7 1.7 0 1 0 3.4 0a1.7 1.7 0 1 0 -3.4 0M523.5 580.3a1.7 1.7 0 1 0 3.4 0a1.7 1.7 0 1 0 -3.4 0M523.7 574.9a1.7 1.7 0 1 0 3.4 0a1.7 1.7 0 1 0 -3.4 0M524.1 581.1a1.7 1.7 0 1 0 3.4 0a1.7 1.7 0 1 0 -3.4 0M524.9 578.8a1.7 1.7 0 1 0 3.4 0a1.7 1.7 0 1 0 -3.4 0M525.4 549.2a1.7 1.7 0 1 0 3.4 0a1.7 1.7 0 1 0 -3.4 0M526.3 540.1a1.7 1.7 0 1 0 3.4 0a1.7 1.7 0 1 0 -3.4 0M527.1 546.0a1.7 1.7 0 1 0 3.4 0a1.7 1.7 0 1 0 -3.4 0M527.3 562.6a1.7 1.7 0 1 0 3.4 0a1.7 1.7 0 1 0 -3.4 0M528.3 541.2a1.7 1.7 0 1 0 3.4 0a1.7 1.7 0 1 0 -3.4 0M529.2 538.8a1.7 1.7 0 1 0 3.4 0a1.7 1.7 0 1 0 -3.4 0M529.5 546.5a1.7 1.7 0 1 0 3.4 0a1.7 1.7 0 1 0 -3.4 0M530.4 557.3a1.7 1.7 0 1 0 3.4 0a1.7 1.7 0 1 0 -3.4 0M530.9 536.3a1.7 1.7 0 1 0 3.4 0a1.7 1.7 0 1 0 -3.4 0M531.5 537.9a1.7 1.7 0 1 0 3.4 0a1.7 1.7 0 1 0 -3.4 0M532.4 538.9a1.7 1.7 0 1 0 3.4 0a1.7 1.7 0 1 0 -3.4 0M532.9 541.6a1.7 1.7 0 1 0 3.4 0a1.7 1.7 0 1 0 -3.4 0M533.5 546.0a1.7 1.7 0 1 0 3.4 0a1.7 1.7 0 1 0 -3.4 0M534.4 516.2a1.7 1.7 0 1 0 3.4 0a1.7 1.7 0 1 0 -3.4 0M535.1 508.1a1.7 1.7 0 1 0 3.4 0a1.7 1.7 0 1 0 -3.4 0M535.7 518.1a1.7 1.7 0 1 0 3.4 0a1.7 1.7 0 1 0 -3.4 0M536.7 516.8a1.7 1.7 0 1 0 3.4 0a1.7 1.7 0 1 0 -3.4 0M537.5 497.5a1.7 1.7 0 1 0 3.4 0a1.7 1.7 0 1 0 -3.4 0M538.1 507.2a1.7 1.7 0 1 0 3.4 0a1.7 1.7 0 1 0 -3.4 0M538.5 518.5a1.7 1.7 0 1 0 3.4 0a1.7 1.7 0 1 0 -3.4 0M539.2 507.2a1.7 1.7 0 1 0 3.4 0a1.7 1.7 0 1 0 -3.4 0M539.7 514.1a1.7 1.7 0 1 0 3.4 0a1.7 1.7 0 1 0 -3.4 0M540.1 511.8a1.7 1.7 0 1 0 3.4 0a1.7 1.7 0 1 0 -3.4 0M540.4 515.3a1.7 1.7 0 1 0 3.4 0a1.7 1.7 0 1 0 -3.4 0M541.0 513.7a1.7 1.7 0 1 0 3.4 0a1.7 1.7 0 1 0 -3.4 0M541.4 512.4a1.7 1.7 0 1 0 3.4 0a1.7 1.7 0 1 0 -3.4 0M541.9 519.5a1.7 1.7 0 1 0 3.4 0a1.7 1.7 0 1 0 -3.4 0M542.6 506.4a1.7 1.7 0 1 0 3.4 0a1.7 1.7 0 1 0 -3.4 0M543.2 511.4a1.7 1.7 0 1 0 3.4 0a1.7 1.7 0 1 0 -3.4 0M543.7 518.6a1.7 1.7 0 1 0 3.4 0a1.7 1.7 0 1 0 -3.4 0M544.3 506.4a1.7 1.7 0 1 0 3.4 0a1.7 1.7 0 1 0 -3.4 0M544.9 507.7a1.7 1.7 0 1 0 3.4 0a1.7 1.7 0 1 0 -3.4 0M545.6 504.9a1.7 1.7 0 1 0 3.4 0a1.7 1.7 0 1 0 -3.4 0M546.3 503.5a1.7 1.7 0 1 0 3.4 0a1.7 1.7 0 1 0 -3.4 0M547.2 523.5a1.7 1.7 0 1 0 3.4 0a1.7 1.7 0 1 0 -3.4 0M548.1 513.7a1.7 1.7 0 1 0 3.4 0a1.7 1.7 0 1 0 -3.4 0M548.9 523.4a1.7 1.7 0 1 0 3.4 0a1.7 1.7 0 1 0 -3.4 0M549.3 515.5a1.7 1.7 0 1 0 3.4 0a1.7 1.7 0 1 0 -3.4 0M549.6 510.7a1.7 1.7 0 1 0 3.4 0a1.7 1.7 0 1 0 -3.4 0M550.5 508.1a1.7 1.7 0 1 0 3.4 0a1.7 1.7 0 1 0 -3.4 0M551.3 512.0a1.7 1.7 0 1 0 3.4 0a1.7 1.7 0 1 0 -3.4 0M552.0 509.7a1.7 1.7 0 1 0 3.4 0a1.7 1.7 0 1 0 -3.4 0M552.5 516.7a1.7 1.7 0 1 0 3.4 0a1.7 1.7 0 1 0 -3.4 0M552.9 503.7a1.7 1.7 0 1 0 3.4 0a1.7 1.7 0 1 0 -3.4 0M553.7 511.7a1.7 1.7 0 1 0 3.4 0a1.7 1.7 0 1 0 -3.4 0M554.3 514.3a1.7 1.7 0 1 0 3.4 0a1.7 1.7 0 1 0 -3.4 0M555.0 509.2a1.7 1.7 0 1 0 3.4 0a1.7 1.7 0 1 0 -3.4 0M555.7 509.4a1.7 1.7 0 1 0 3.4 0a1.7 1.7 0 1 0 -3.4 0M556.5 516.1a1.7 1.7 0 1 0 3.4 0a1.7 1.7 0 1 0 -3.4 0M556.8 516.3a1.7 1.7 0 1 0 3.4 0a1.7 1.7 0 1 0 -3.4 0M557.3 511.0a1.7 1.7 0 1 0 3.4 0a1.7 1.7 0 1 0 -3.4 0M558.2 512.1a1.7 1.7 0 1 0 3.4 0a1.7 1.7 0 1 0 -3.4 0M559.1 507.7a1.7 1.7 0 1 0 3.4 0a1.7 1.7 0 1 0 -3.4 0M560.0 517.9a1.7 1.7 0 1 0 3.4 0a1.7 1.7 0 1 0 -3.4 0M560.2 512.0a1.7 1.7 0 1 0 3.4 0a1.7 1.7 0 1 0 -3.4 0M560.5 498.9a1.7 1.7 0 1 0 3.4 0a1.7 1.7 0 1 0 -3.4 0M561.0 510.5a1.7 1.7 0 1 0 3.4 0a1.7 1.7 0 1 0 -3.4 0M561.5 519.2a1.7 1.7 0 1 0 3.4 0a1.7 1.7 0 1 0 -3.4 0M562.2 516.4a1.7 1.7 0 1 0 3.4 0a1.7 1.7 0 1 0 -3.4 0M562.5 505.4a1.7 1.7 0 1 0 3.4 0a1.7 1.7 0 1 0 -3.4 0M563.2 521.2a1.7 1.7 0 1 0 3.4 0a1.7 1.7 0 1 0 -3.4 0M563.5 520.1a1.7 1.7 0 1 0 3.4 0a1.7 1.7 0 1 0 -3.4 0M563.8 520.3a1.7 1.7 0 1 0 3.4 0a1.7 1.7 0 1 0 -3.4 0M564.5 528.3a1.7 1.7 0 1 0 3.4 0a1.7 1.7 0 1 0 -3.4 0M565.1 511.2a1.7 1.7 0 1 0 3.4 0a1.7 1.7 0 1 0 -3.4 0M565.8 518.3a1.7 1.7 0 1 0 3.4 0a1.7 1.7 0 1 0 -3.4 0M566.3 511.9a1.7 1.7 0 1 0 3.4 0a1.7 1.7 0 1 0 -3.4 0M566.9 519.4a1.7 1.7 0 1 0 3.4 0a1.7 1.7 0 1 0 -3.4 0M567.3 519.7a1.7 1.7 0 1 0 3.4 0a1.7 1.7 0 1 0 -3.4 0M567.8 516.3a1.7 1.7 0 1 0 3.4 0a1.7 1.7 0 1 0 -3.4 0M568.6 520.1a1.7 1.7 0 1 0 3.4 0a1.7 1.7 0 1 0 -3.4 0M569.4 514.6a1.7 1.7 0 1 0 3.4 0a1.7 1.7 0 1 0 -3.4 0M569.7 523.0a1.7 1.7 0 1 0 3.4 0a1.7 1.7 0 1 0 -3.4 0M570.0 514.5a1.7 1.7 0 1 0 3.4 0a1.7 1.7 0 1 0 -3.4 0M570.9 533.2a1.7 1.7 0 1 0 3.4 0a1.7 1.7 0 1 0 -3.4 0M571.5 531.7a1.7 1.7 0 1 0 3.4 0a1.7 1.7 0 1 0 -3.4 0M572.3 519.6a1.7 1.7 0 1 0 3.4 0a1.7 1.7 0 1 0 -3.4 0M572.7 518.4a1.7 1.7 0 1 0 3.4 0a1.7 1.7 0 1 0 -3.4 0M573.3 537.9a1.7 1.7 0 1 0 3.4 0a1.7 1.7 0 1 0 -3.4 0M573.7 527.4a1.7 1.7 0 1 0 3.4 0a1.7 1.7 0 1 0 -3.4 0M574.5 537.7a1.7 1.7 0 1 0 3.4 0a1.7 1.7 0 1 0 -3.4 0M575.0 527.6a1.7 1.7 0 1 0 3.4 0a1.7 1.7 0 1 0 -3.4 0M575.7 535.2a1.7 1.7 0 1 0 3.4 0a1.7 1.7 0 1 0 -3.4 0M576.7 530.3a1.7 1.7 0 1 0 3.4 0a1.7 1.7 0 1 0 -3.4 0M577.2 538.3a1.7 1.7 0 1 0 3.4 0a1.7 1.7 0 1 0 -3.4 0M577.8 531.7a1.7 1.7 0 1 0 3.4 0a1.7 1.7 0 1 0 -3.4 0M578.6 544.6a1.7 1.7 0 1 0 3.4 0a1.7 1.7 0 1 0 -3.4 0M579.5 527.6a1.7 1.7 0 1 0 3.4 0a1.7 1.7 0 1 0 -3.4 0M580.0 543.4a1.7 1.7 0 1 0 3.4 0a1.7 1.7 0 1 0 -3.4 0M580.5 532.9a1.7 1.7 0 1 0 3.4 0a1.7 1.7 0 1 0 -3.4 0M580.8 537.2a1.7 1.7 0 1 0 3.4 0a1.7 1.7 0 1 0 -3.4 0M581.7 518.7a1.7 1.7 0 1 0 3.4 0a1.7 1.7 0 1 0 -3.4 0M582.0 517.0a1.7 1.7 0 1 0 3.4 0a1.7 1.7 0 1 0 -3.4 0M582.3 541.7a1.7 1.7 0 1 0 3.4 0a1.7 1.7 0 1 0 -3.4 0M583.0 520.7a1.7 1.7 0 1 0 3.4 0a1.7 1.7 0 1 0 -3.4 0M583.5 528.6a1.7 1.7 0 1 0 3.4 0a1.7 1.7 0 1 0 -3.4 0M584.3 528.4a1.7 1.7 0 1 0 3.4 0a1.7 1.7 0 1 0 -3.4 0M584.7 522.3a1.7 1.7 0 1 0 3.4 0a1.7 1.7 0 1 0 -3.4 0M585.5 533.2a1.7 1.7 0 1 0 3.4 0a1.7 1.7 0 1 0 -3.4 0M585.8 516.1a1.7 1.7 0 1 0 3.4 0a1.7 1.7 0 1 0 -3.4 0M586.2 518.1a1.7 1.7 0 1 0 3.4 0a1.7 1.7 0 1 0 -3.4 0M586.9 540.7a1.7 1.7 0 1 0 3.4 0a1.7 1.7 0 1 0 -3.4 0M587.3 522.5a1.7 1.7 0 1 0 3.4 0a1.7 1.7 0 1 0 -3.4 0M587.7 538.8a1.7 1.7 0 1 0 3.4 0a1.7 1.7 0 1 0 -3.4 0M588.5 538.0a1.7 1.7 0 1 0 3.4 0a1.7 1.7 0 1 0 -3.4 0M589.2 546.7a1.7 1.7 0 1 0 3.4 0a1.7 1.7 0 1 0 -3.4 0M589.7 535.8a1.7 1.7 0 1 0 3.4 0a1.7 1.7 0 1 0 -3.4 0M590.0 512.7a1.7 1.7 0 1 0 3.4 0a1.7 1.7 0 1 0 -3.4 0M590.5 524.8a1.7 1.7 0 1 0 3.4 0a1.7 1.7 0 1 0 -3.4 0M591.3 527.3a1.7 1.7 0 1 0 3.4 0a1.7 1.7 0 1 0 -3.4 0M591.8 543.6a1.7 1.7 0 1 0 3.4 0a1.7 1.7 0 1 0 -3.4 0M592.1 534.9a1.7 1.7 0 1 0 3.4 0a1.7 1.7 0 1 0 -3.4 0M592.9 526.8a1.7 1.7 0 1 0 3.4 0a1.7 1.7 0 1 0 -3.4 0M593.5 535.8a1.7 1.7 0 1 0 3.4 0a1.7 1.7 0 1 0 -3.4 0M594.4 528.3a1.7 1.7 0 1 0 3.4 0a1.7 1.7 0 1 0 -3.4 0M595.3 537.0a1.7 1.7 0 1 0 3.4 0a1.7 1.7 0 1 0 -3.4 0M596.2 533.3a1.7 1.7 0 1 0 3.4 0a1.7 1.7 0 1 0 -3.4 0M596.7 542.1a1.7 1.7 0 1 0 3.4 0a1.7 1.7 0 1 0 -3.4 0M597.6 535.1a1.7 1.7 0 1 0 3.4 0a1.7 1.7 0 1 0 -3.4 0M598.0 541.1a1.7 1.7 0 1 0 3.4 0a1.7 1.7 0 1 0 -3.4 0M598.5 532.1a1.7 1.7 0 1 0 3.4 0a1.7 1.7 0 1 0 -3.4 0M599.0 538.7a1.7 1.7 0 1 0 3.4 0a1.7 1.7 0 1 0 -3.4 0M599.9 531.0a1.7 1.7 0 1 0 3.4 0a1.7 1.7 0 1 0 -3.4 0M600.8 538.3a1.7 1.7 0 1 0 3.4 0a1.7 1.7 0 1 0 -3.4 0M601.2 534.6a1.7 1.7 0 1 0 3.4 0a1.7 1.7 0 1 0 -3.4 0M601.7 531.5a1.7 1.7 0 1 0 3.4 0a1.7 1.7 0 1 0 -3.4 0M602.2 528.9a1.7 1.7 0 1 0 3.4 0a1.7 1.7 0 1 0 -3.4 0M602.7 530.3a1.7 1.7 0 1 0 3.4 0a1.7 1.7 0 1 0 -3.4 0M603.3 537.1a1.7 1.7 0 1 0 3.4 0a1.7 1.7 0 1 0 -3.4 0M603.8 515.7a1.7 1.7 0 1 0 3.4 0a1.7 1.7 0 1 0 -3.4 0M604.2 544.1a1.7 1.7 0 1 0 3.4 0a1.7 1.7 0 1 0 -3.4 0M604.8 515.8a1.7 1.7 0 1 0 3.4 0a1.7 1.7 0 1 0 -3.4 0M605.6 531.5a1.7 1.7 0 1 0 3.4 0a1.7 1.7 0 1 0 -3.4 0M606.3 530.3a1.7 1.7 0 1 0 3.4 0a1.7 1.7 0 1 0 -3.4 0M607.1 540.0a1.7 1.7 0 1 0 3.4 0a1.7 1.7 0 1 0 -3.4 0M607.7 535.6a1.7 1.7 0 1 0 3.4 0a1.7 1.7 0 1 0 -3.4 0M608.1 533.1a1.7 1.7 0 1 0 3.4 0a1.7 1.7 0 1 0 -3.4 0M608.9 534.3a1.7 1.7 0 1 0 3.4 0a1.7 1.7 0 1 0 -3.4 0M609.8 542.2a1.7 1.7 0 1 0 3.4 0a1.7 1.7 0 1 0 -3.4 0M610.2 551.0a1.7 1.7 0 1 0 3.4 0a1.7 1.7 0 1 0 -3.4 0M610.5 537.1a1.7 1.7 0 1 0 3.4 0a1.7 1.7 0 1 0 -3.4 0M611.1 516.3a1.7 1.7 0 1 0 3.4 0a1.7 1.7 0 1 0 -3.4 0M611.7 530.0a1.7 1.7 0 1 0 3.4 0a1.7 1.7 0 1 0 -3.4 0M612.4 537.6a1.7 1.7 0 1 0 3.4 0a1.7 1.7 0 1 0 -3.4 0M613.3 551.4a1.7 1.7 0 1 0 3.4 0a1.7 1.7 0 1 0 -3.4 0M614.0 526.9a1.7 1.7 0 1 0 3.4 0a1.7 1.7 0 1 0 -3.4 0M614.8 530.5a1.7 1.7 0 1 0 3.4 0a1.7 1.7 0 1 0 -3.4 0M615.1 539.1a1.7 1.7 0 1 0 3.4 0a1.7 1.7 0 1 0 -3.4 0M615.7 537.0a1.7 1.7 0 1 0 3.4 0a1.7 1.7 0 1 0 -3.4 0M616.5 521.8a1.7 1.7 0 1 0 3.4 0a1.7 1.7 0 1 0 -3.4 0M616.8 542.9a1.7 1.7 0 1 0 3.4 0a1.7 1.7 0 1 0 -3.4 0M617.2 521.9a1.7 1.7 0 1 0 3.4 0a1.7 1.7 0 1 0 -3.4 0M617.9 531.7a1.7 1.7 0 1 0 3.4 0a1.7 1.7 0 1 0 -3.4 0M618.8 546.6a1.7 1.7 0 1 0 3.4 0a1.7 1.7 0 1 0 -3.4 0M619.1 521.9a1.7 1.7 0 1 0 3.4 0a1.7 1.7 0 1 0 -3.4 0M619.8 531.0a1.7 1.7 0 1 0 3.4 0a1.7 1.7 0 1 0 -3.4 0M620.2 550.0a1.7 1.7 0 1 0 3.4 0a1.7 1.7 0 1 0 -3.4 0M620.9 531.8a1.7 1.7 0 1 0 3.4 0a1.7 1.7 0 1 0 -3.4 0M621.6 524.7a1.7 1.7 0 1 0 3.4 0a1.7 1.7 0 1 0 -3.4 0M622.0 529.0a1.7 1.7 0 1 0 3.4 0a1.7 1.7 0 1 0 -3.4 0M622.5 541.3a1.7 1.7 0 1 0 3.4 0a1.7 1.7 0 1 0 -3.4 0M623.2 520.8a1.7 1.7 0 1 0 3.4 0a1.7 1.7 0 1 0 -3.4 0M623.9 528.7a1.7 1.7 0 1 0 3.4 0a1.7 1.7 0 1 0 -3.4 0M624.6 522.3a1.7 1.7 0 1 0 3.4 0a1.7 1.7 0 1 0 -3.4 0M625.2 524.8a1.7 1.7 0 1 0 3.4 0a1.7 1.7 0 1 0 -3.4 0M625.7 543.2a1.7 1.7 0 1 0 3.4 0a1.7 1.7 0 1 0 -3.4 0M626.6 532.9a1.7 1.7 0 1 0 3.4 0a1.7 1.7 0 1 0 -3.4 0M627.3 530.4a1.7 1.7 0 1 0 3.4 0a1.7 1.7 0 1 0 -3.4 0M627.9 536.2a1.7 1.7 0 1 0 3.4 0a1.7 1.7 0 1 0 -3.4 0M628.5 528.7a1.7 1.7 0 1 0 3.4 0a1.7 1.7 0 1 0 -3.4 0M629.3 525.8a1.7 1.7 0 1 0 3.4 0a1.7 1.7 0 1 0 -3.4 0M630.0 539.8a1.7 1.7 0 1 0 3.4 0a1.7 1.7 0 1 0 -3.4 0M630.9 537.8a1.7 1.7 0 1 0 3.4 0a1.7 1.7 0 1 0 -3.4 0M631.5 528.4a1.7 1.7 0 1 0 3.4 0a1.7 1.7 0 1 0 -3.4 0M632.3 535.7a1.7 1.7 0 1 0 3.4 0a1.7 1.7 0 1 0 -3.4 0M633.0 538.3a1.7 1.7 0 1 0 3.4 0a1.7 1.7 0 1 0 -3.4 0M633.8 531.1a1.7 1.7 0 1 0 3.4 0a1.7 1.7 0 1 0 -3.4 0M634.7 529.3a1.7 1.7 0 1 0 3.4 0a1.7 1.7 0 1 0 -3.4 0M635.5 516.2a1.7 1.7 0 1 0 3.4 0a1.7 1.7 0 1 0 -3.4 0M636.4 521.2a1.7 1.7 0 1 0 3.4 0a1.7 1.7 0 1 0 -3.4 0M637.3 506.6a1.7 1.7 0 1 0 3.4 0a1.7 1.7 0 1 0 -3.4 0M638.0 526.5a1.7 1.7 0 1 0 3.4 0a1.7 1.7 0 1 0 -3.4 0M638.6 515.2a1.7 1.7 0 1 0 3.4 0a1.7 1.7 0 1 0 -3.4 0M639.3 524.8a1.7 1.7 0 1 0 3.4 0a1.7 1.7 0 1 0 -3.4 0M640.2 505.3a1.7 1.7 0 1 0 3.4 0a1.7 1.7 0 1 0 -3.4 0M640.7 517.5a1.7 1.7 0 1 0 3.4 0a1.7 1.7 0 1 0 -3.4 0M641.2 494.5a1.7 1.7 0 1 0 3.4 0a1.7 1.7 0 1 0 -3.4 0M641.6 503.7a1.7 1.7 0 1 0 3.4 0a1.7 1.7 0 1 0 -3.4 0M642.4 512.0a1.7 1.7 0 1 0 3.4 0a1.7 1.7 0 1 0 -3.4 0M643.3 511.6a1.7 1.7 0 1 0 3.4 0a1.7 1.7 0 1 0 -3.4 0M643.8 508.6a1.7 1.7 0 1 0 3.4 0a1.7 1.7 0 1 0 -3.4 0M644.2 495.1a1.7 1.7 0 1 0 3.4 0a1.7 1.7 0 1 0 -3.4 0M644.6 521.9a1.7 1.7 0 1 0 3.4 0a1.7 1.7 0 1 0 -3.4 0M645.1 516.8a1.7 1.7 0 1 0 3.4 0a1.7 1.7 0 1 0 -3.4 0M645.6 521.6a1.7 1.7 0 1 0 3.4 0a1.7 1.7 0 1 0 -3.4 0M646.5 522.7a1.7 1.7 0 1 0 3.4 0a1.7 1.7 0 1 0 -3.4 0M646.8 510.1a1.7 1.7 0 1 0 3.4 0a1.7 1.7 0 1 0 -3.4 0M647.3 517.4a1.7 1.7 0 1 0 3.4 0a1.7 1.7 0 1 0 -3.4 0M647.6 530.9a1.7 1.7 0 1 0 3.4 0a1.7 1.7 0 1 0 -3.4 0M648.3 508.4a1.7 1.7 0 1 0 3.4 0a1.7 1.7 0 1 0 -3.4 0M649.1 520.1a1.7 1.7 0 1 0 3.4 0a1.7 1.7 0 1 0 -3.4 0M649.5 512.5a1.7 1.7 0 1 0 3.4 0a1.7 1.7 0 1 0 -3.4 0M649.8 532.3a1.7 1.7 0 1 0 3.4 0a1.7 1.7 0 1 0 -3.4 0M650.3 519.9a1.7 1.7 0 1 0 3.4 0a1.7 1.7 0 1 0 -3.4 0M651.0 510.8a1.7 1.7 0 1 0 3.4 0a1.7 1.7 0 1 0 -3.4 0M651.9 515.7a1.7 1.7 0 1 0 3.4 0a1.7 1.7 0 1 0 -3.4 0M652.2 509.6a1.7 1.7 0 1 0 3.4 0a1.7 1.7 0 1 0 -3.4 0M652.5 506.3a1.7 1.7 0 1 0 3.4 0a1.7 1.7 0 1 0 -3.4 0M652.9 507.1a1.7 1.7 0 1 0 3.4 0a1.7 1.7 0 1 0 -3.4 0M653.3 516.9a1.7 1.7 0 1 0 3.4 0a1.7 1.7 0 1 0 -3.4 0M653.7 514.5a1.7 1.7 0 1 0 3.4 0a1.7 1.7 0 1 0 -3.4 0M654.4 524.9a1.7 1.7 0 1 0 3.4 0a1.7 1.7 0 1 0 -3.4 0M655.1 519.1a1.7 1.7 0 1 0 3.4 0a1.7 1.7 0 1 0 -3.4 0M655.5 526.7a1.7 1.7 0 1 0 3.4 0a1.7 1.7 0 1 0 -3.4 0M655.9 537.1a1.7 1.7 0 1 0 3.4 0a1.7 1.7 0 1 0 -3.4 0M656.3 519.0a1.7 1.7 0 1 0 3.4 0a1.7 1.7 0 1 0 -3.4 0M656.7 519.4a1.7 1.7 0 1 0 3.4 0a1.7 1.7 0 1 0 -3.4 0M657.5 533.3a1.7 1.7 0 1 0 3.4 0a1.7 1.7 0 1 0 -3.4 0M658.0 538.7a1.7 1.7 0 1 0 3.4 0a1.7 1.7 0 1 0 -3.4 0M658.6 524.6a1.7 1.7 0 1 0 3.4 0a1.7 1.7 0 1 0 -3.4 0M659.4 522.1a1.7 1.7 0 1 0 3.4 0a1.7 1.7 0 1 0 -3.4 0M660.0 529.6a1.7 1.7 0 1 0 3.4 0a1.7 1.7 0 1 0 -3.4 0M660.4 529.7a1.7 1.7 0 1 0 3.4 0a1.7 1.7 0 1 0 -3.4 0M661.3 534.7a1.7 1.7 0 1 0 3.4 0a1.7 1.7 0 1 0 -3.4 0M662.2 527.8a1.7 1.7 0 1 0 3.4 0a1.7 1.7 0 1 0 -3.4 0M662.7 531.0a1.7 1.7 0 1 0 3.4 0a1.7 1.7 0 1 0 -3.4 0M663.3 530.2a1.7 1.7 0 1 0 3.4 0a1.7 1.7 0 1 0 -3.4 0M664.2 523.0a1.7 1.7 0 1 0 3.4 0a1.7 1.7 0 1 0 -3.4 0M664.8 522.0a1.7 1.7 0 1 0 3.4 0a1.7 1.7 0 1 0 -3.4 0M665.2 532.8a1.7 1.7 0 1 0 3.4 0a1.7 1.7 0 1 0 -3.4 0M665.5 533.3a1.7 1.7 0 1 0 3.4 0a1.7 1.7 0 1 0 -3.4 0M666.4 524.1a1.7 1.7 0 1 0 3.4 0a1.7 1.7 0 1 0 -3.4 0M667.2 540.0a1.7 1.7 0 1 0 3.4 0a1.7 1.7 0 1 0 -3.4 0M667.8 535.5a1.7 1.7 0 1 0 3.4 0a1.7 1.7 0 1 0 -3.4 0M668.4 531.7a1.7 1.7 0 1 0 3.4 0a1.7 1.7 0 1 0 -3.4 0M669.0 532.7a1.7 1.7 0 1 0 3.4 0a1.7 1.7 0 1 0 -3.4 0M669.4 530.3a1.7 1.7 0 1 0 3.4 0a1.7 1.7 0 1 0 -3.4 0M670.4 533.3a1.7 1.7 0 1 0 3.4 0a1.7 1.7 0 1 0 -3.4 0M671.1 534.6a1.7 1.7 0 1 0 3.4 0a1.7 1.7 0 1 0 -3.4 0M671.5 526.4a1.7 1.7 0 1 0 3.4 0a1.7 1.7 0 1 0 -3.4 0M671.7 506.1a1.7 1.7 0 1 0 3.4 0a1.7 1.7 0 1 0 -3.4 0M672.3 523.4a1.7 1.7 0 1 0 3.4 0a1.7 1.7 0 1 0 -3.4 0M672.8 515.8a1.7 1.7 0 1 0 3.4 0a1.7 1.7 0 1 0 -3.4 0M673.6 511.9a1.7 1.7 0 1 0 3.4 0a1.7 1.7 0 1 0 -3.4 0M674.4 530.9a1.7 1.7 0 1 0 3.4 0a1.7 1.7 0 1 0 -3.4 0M675.1 505.5a1.7 1.7 0 1 0 3.4 0a1.7 1.7 0 1 0 -3.4 0M675.4 533.1a1.7 1.7 0 1 0 3.4 0a1.7 1.7 0 1 0 -3.4 0M675.8 517.5a1.7 1.7 0 1 0 3.4 0a1.7 1.7 0 1 0 -3.4 0M676.3 511.3a1.7 1.7 0 1 0 3.4 0a1.7 1.7 0 1 0 -3.4 0M676.7 515.0a1.7 1.7 0 1 0 3.4 0a1.7 1.7 0 1 0 -3.4 0M677.6 543.3a1.7 1.7 0 1 0 3.4 0a1.7 1.7 0 1 0 -3.4 0M678.2 538.7a1.7 1.7 0 1 0 3.4 0a1.7 1.7 0 1 0 -3.4 0M678.9 520.7a1.7 1.7 0 1 0 3.4 0a1.7 1.7 0 1 0 -3.4 0M679.8 534.0a1.7 1.7 0 1 0 3.4 0a1.7 1.7 0 1 0 -3.4 0M680.2 541.0a1.7 1.7 0 1 0 3.4 0a1.7 1.7 0 1 0 -3.4 0M680.9 514.5a1.7 1.7 0 1 0 3.4 0a1.7 1.7 0 1 0 -3.4 0M681.2 520.2a1.7 1.7 0 1 0 3.4 0a1.7 1.7 0 1 0 -3.4 0M682.0 531.8a1.7 1.7 0 1 0 3.4 0a1.7 1.7 0 1 0 -3.4 0M682.3 526.7a1.7 1.7 0 1 0 3.4 0a1.7 1.7 0 1 0 -3.4 0M683.1 519.2a1.7 1.7 0 1 0 3.4 0a1.7 1.7 0 1 0 -3.4 0M683.9 538.8a1.7 1.7 0 1 0 3.4 0a1.7 1.7 0 1 0 -3.4 0M684.8 528.1a1.7 1.7 0 1 0 3.4 0a1.7 1.7 0 1 0 -3.4 0M685.1 530.9a1.7 1.7 0 1 0 3.4 0a1.7 1.7 0 1 0 -3.4 0M685.5 541.8a1.7 1.7 0 1 0 3.4 0a1.7 1.7 0 1 0 -3.4 0M686.3 528.2a1.7 1.7 0 1 0 3.4 0a1.7 1.7 0 1 0 -3.4 0M686.6 542.2a1.7 1.7 0 1 0 3.4 0a1.7 1.7 0 1 0 -3.4 0M687.2 526.5a1.7 1.7 0 1 0 3.4 0a1.7 1.7 0 1 0 -3.4 0M687.7 521.9a1.7 1.7 0 1 0 3.4 0a1.7 1.7 0 1 0 -3.4 0M688.7 524.9a1.7 1.7 0 1 0 3.4 0a1.7 1.7 0 1 0 -3.4 0M689.3 532.6a1.7 1.7 0 1 0 3.4 0a1.7 1.7 0 1 0 -3.4 0M690.2 530.6a1.7 1.7 0 1 0 3.4 0a1.7 1.7 0 1 0 -3.4 0M690.6 527.7a1.7 1.7 0 1 0 3.4 0a1.7 1.7 0 1 0 -3.4 0M691.4 508.6a1.7 1.7 0 1 0 3.4 0a1.7 1.7 0 1 0 -3.4 0M692.0 512.7a1.7 1.7 0 1 0 3.4 0a1.7 1.7 0 1 0 -3.4 0M692.9 521.2a1.7 1.7 0 1 0 3.4 0a1.7 1.7 0 1 0 -3.4 0M693.2 531.4a1.7 1.7 0 1 0 3.4 0a1.7 1.7 0 1 0 -3.4 0M694.0 538.3a1.7 1.7 0 1 0 3.4 0a1.7 1.7 0 1 0 -3.4 0M694.4 504.3a1.7 1.7 0 1 0 3.4 0a1.7 1.7 0 1 0 -3.4 0M695.0 521.4a1.7 1.7 0 1 0 3.4 0a1.7 1.7 0 1 0 -3.4 0M695.7 518.1a1.7 1.7 0 1 0 3.4 0a1.7 1.7 0 1 0 -3.4 0M696.0 521.4a1.7 1.7 0 1 0 3.4 0a1.7 1.7 0 1 0 -3.4 0M696.9 524.1a1.7 1.7 0 1 0 3.4 0a1.7 1.7 0 1 0 -3.4 0M697.3 513.5a1.7 1.7 0 1 0 3.4 0a1.7 1.7 0 1 0 -3.4 0M697.8 508.9a1.7 1.7 0 1 0 3.4 0a1.7 1.7 0 1 0 -3.4 0M698.1 531.0a1.7 1.7 0 1 0 3.4 0a1.7 1.7 0 1 0 -3.4 0M698.6 528.2a1.7 1.7 0 1 0 3.4 0a1.7 1.7 0 1 0 -3.4 0M699.1 517.0a1.7 1.7 0 1 0 3.4 0a1.7 1.7 0 1 0 -3.4 0M699.9 519.4a1.7 1.7 0 1 0 3.4 0a1.7 1.7 0 1 0 -3.4 0M700.4 514.0a1.7 1.7 0 1 0 3.4 0a1.7 1.7 0 1 0 -3.4 0M701.1 507.3a1.7 1.7 0 1 0 3.4 0a1.7 1.7 0 1 0 -3.4 0M701.4 525.5a1.7 1.7 0 1 0 3.4 0a1.7 1.7 0 1 0 -3.4 0M702.0 513.6a1.7 1.7 0 1 0 3.4 0a1.7 1.7 0 1 0 -3.4 0M702.5 509.4a1.7 1.7 0 1 0 3.4 0a1.7 1.7 0 1 0 -3.4 0M703.5 513.6a1.7 1.7 0 1 0 3.4 0a1.7 1.7 0 1 0 -3.4 0M704.3 532.0a1.7 1.7 0 1 0 3.4 0a1.7 1.7 0 1 0 -3.4 0M705.0 521.6a1.7 1.7 0 1 0 3.4 0a1.7 1.7 0 1 0 -3.4 0M705.3 519.8a1.7 1.7 0 1 0 3.4 0a1.7 1.7 0 1 0 -3.4 0M705.8 518.3a1.7 1.7 0 1 0 3.4 0a1.7 1.7 0 1 0 -3.4 0M706.5 524.1a1.7 1.7 0 1 0 3.4 0a1.7 1.7 0 1 0 -3.4 0M706.9 522.8a1.7 1.7 0 1 0 3.4 0a1.7 1.7 0 1 0 -3.4 0M707.6 506.5a1.7 1.7 0 1 0 3.4 0a1.7 1.7 0 1 0 -3.4 0M708.1 514.7a1.7 1.7 0 1 0 3.4 0a1.7 1.7 0 1 0 -3.4 0M708.4 511.4a1.7 1.7 0 1 0 3.4 0a1.7 1.7 0 1 0 -3.4 0M709.4 517.8a1.7 1.7 0 1 0 3.4 0a1.7 1.7 0 1 0 -3.4 0M710.2 515.3a1.7 1.7 0 1 0 3.4 0a1.7 1.7 0 1 0 -3.4 0M710.6 501.4a1.7 1.7 0 1 0 3.4 0a1.7 1.7 0 1 0 -3.4 0M711.2 524.3a1.7 1.7 0 1 0 3.4 0a1.7 1.7 0 1 0 -3.4 0M711.7 517.3a1.7 1.7 0 1 0 3.4 0a1.7 1.7 0 1 0 -3.4 0M712.2 501.8a1.7 1.7 0 1 0 3.4 0a1.7 1.7 0 1 0 -3.4 0M712.8 523.5a1.7 1.7 0 1 0 3.4 0a1.7 1.7 0 1 0 -3.4 0M713.3 515.6a1.7 1.7 0 1 0 3.4 0a1.7 1.7 0 1 0 -3.4 0M713.8 518.0a1.7 1.7 0 1 0 3.4 0a1.7 1.7 0 1 0 -3.4 0M714.3 514.5a1.7 1.7 0 1 0 3.4 0a1.7 1.7 0 1 0 -3.4 0M715.0 515.2a1.7 1.7 0 1 0 3.4 0a1.7 1.7 0 1 0 -3.4 0M715.4 510.0a1.7 1.7 0 1 0 3.4 0a1.7 1.7 0 1 0 -3.4 0M715.8 501.2a1.7 1.7 0 1 0 3.4 0a1.7 1.7 0 1 0 -3.4 0M716.6 508.8a1.7 1.7 0 1 0 3.4 0a1.7 1.7 0 1 0 -3.4 0M717.1 514.6a1.7 1.7 0 1 0 3.4 0a1.7 1.7 0 1 0 -3.4 0M718.0 513.2a1.7 1.7 0 1 0 3.4 0a1.7 1.7 0 1 0 -3.4 0M718.6 517.4a1.7 1.7 0 1 0 3.4 0a1.7 1.7 0 1 0 -3.4 0M719.4 511.6a1.7 1.7 0 1 0 3.4 0a1.7 1.7 0 1 0 -3.4 0M719.9 498.8a1.7 1.7 0 1 0 3.4 0a1.7 1.7 0 1 0 -3.4 0M720.7 517.2a1.7 1.7 0 1 0 3.4 0a1.7 1.7 0 1 0 -3.4 0M721.0 505.9a1.7 1.7 0 1 0 3.4 0a1.7 1.7 0 1 0 -3.4 0M721.4 501.9a1.7 1.7 0 1 0 3.4 0a1.7 1.7 0 1 0 -3.4 0M721.7 509.1a1.7 1.7 0 1 0 3.4 0a1.7 1.7 0 1 0 -3.4 0M722.4 501.4a1.7 1.7 0 1 0 3.4 0a1.7 1.7 0 1 0 -3.4 0M723.2 513.5a1.7 1.7 0 1 0 3.4 0a1.7 1.7 0 1 0 -3.4 0M723.5 504.2a1.7 1.7 0 1 0 3.4 0a1.7 1.7 0 1 0 -3.4 0M724.1 524.3a1.7 1.7 0 1 0 3.4 0a1.7 1.7 0 1 0 -3.4 0M724.9 508.5a1.7 1.7 0 1 0 3.4 0a1.7 1.7 0 1 0 -3.4 0M725.6 506.1a1.7 1.7 0 1 0 3.4 0a1.7 1.7 0 1 0 -3.4 0M725.9 505.3a1.7 1.7 0 1 0 3.4 0a1.7 1.7 0 1 0 -3.4 0M726.3 497.1a1.7 1.7 0 1 0 3.4 0a1.7 1.7 0 1 0 -3.4 0M726.6 503.5a1.7 1.7 0 1 0 3.4 0a1.7 1.7 0 1 0 -3.4 0M727.0 504.3a1.7 1.7 0 1 0 3.4 0a1.7 1.7 0 1 0 -3.4 0M727.5 507.6a1.7 1.7 0 1 0 3.4 0a1.7 1.7 0 1 0 -3.4 0M727.8 497.5a1.7 1.7 0 1 0 3.4 0a1.7 1.7 0 1 0 -3.4 0M728.7 511.0a1.7 1.7 0 1 0 3.4 0a1.7 1.7 0 1 0 -3.4 0M729.3 520.1a1.7 1.7 0 1 0 3.4 0a1.7 1.7 0 1 0 -3.4 0M729.9 508.4a1.7 1.7 0 1 0 3.4 0a1.7 1.7 0 1 0 -3.4 0M730.6 511.6a1.7 1.7 0 1 0 3.4 0a1.7 1.7 0 1 0 -3.4 0M731.4 515.5a1.7 1.7 0 1 0 3.4 0a1.7 1.7 0 1 0 -3.4 0M732.2 507.3a1.7 1.7 0 1 0 3.4 0a1.7 1.7 0 1 0 -3.4 0M732.7 510.2a1.7 1.7 0 1 0 3.4 0a1.7 1.7 0 1 0 -3.4 0M733.2 520.5a1.7 1.7 0 1 0 3.4 0a1.7 1.7 0 1 0 -3.4 0M733.7 515.4a1.7 1.7 0 1 0 3.4 0a1.7 1.7 0 1 0 -3.4 0M734.0 505.5a1.7 1.7 0 1 0 3.4 0a1.7 1.7 0 1 0 -3.4 0M734.5 501.9a1.7 1.7 0 1 0 3.4 0a1.7 1.7 0 1 0 -3.4 0M735.3 529.0a1.7 1.7 0 1 0 3.4 0a1.7 1.7 0 1 0 -3.4 0M736.2 519.0a1.7 1.7 0 1 0 3.4 0a1.7 1.7 0 1 0 -3.4 0M737.0 504.9a1.7 1.7 0 1 0 3.4 0a1.7 1.7 0 1 0 -3.4 0M737.7 517.9a1.7 1.7 0 1 0 3.4 0a1.7 1.7 0 1 0 -3.4 0M738.4 522.2a1.7 1.7 0 1 0 3.4 0a1.7 1.7 0 1 0 -3.4 0M738.6 518.3a1.7 1.7 0 1 0 3.4 0a1.7 1.7 0 1 0 -3.4 0M739.1 504.3a1.7 1.7 0 1 0 3.4 0a1.7 1.7 0 1 0 -3.4 0M739.6 531.3a1.7 1.7 0 1 0 3.4 0a1.7 1.7 0 1 0 -3.4 0M740.3 523.0a1.7 1.7 0 1 0 3.4 0a1.7 1.7 0 1 0 -3.4 0M740.6 517.4a1.7 1.7 0 1 0 3.4 0a1.7 1.7 0 1 0 -3.4 0M741.2 524.2a1.7 1.7 0 1 0 3.4 0a1.7 1.7 0 1 0 -3.4 0M741.8 518.0a1.7 1.7 0 1 0 3.4 0a1.7 1.7 0 1 0 -3.4 0M742.6 517.7a1.7 1.7 0 1 0 3.4 0a1.7 1.7 0 1 0 -3.4 0M743.4 527.3a1.7 1.7 0 1 0 3.4 0a1.7 1.7 0 1 0 -3.4 0M744.1 507.4a1.7 1.7 0 1 0 3.4 0a1.7 1.7 0 1 0 -3.4 0M744.4 528.8a1.7 1.7 0 1 0 3.4 0a1.7 1.7 0 1 0 -3.4 0M745.2 524.9a1.7 1.7 0 1 0 3.4 0a1.7 1.7 0 1 0 -3.4 0M746.1 526.2a1.7 1.7 0 1 0 3.4 0a1.7 1.7 0 1 0 -3.4 0M746.7 526.0a1.7 1.7 0 1 0 3.4 0a1.7 1.7 0 1 0 -3.4 0M747.2 529.3a1.7 1.7 0 1 0 3.4 0a1.7 1.7 0 1 0 -3.4 0M747.8 527.1a1.7 1.7 0 1 0 3.4 0a1.7 1.7 0 1 0 -3.4 0M748.2 522.7a1.7 1.7 0 1 0 3.4 0a1.7 1.7 0 1 0 -3.4 0M748.9 513.2a1.7 1.7 0 1 0 3.4 0a1.7 1.7 0 1 0 -3.4 0M749.9 517.9a1.7 1.7 0 1 0 3.4 0a1.7 1.7 0 1 0 -3.4 0M750.5 510.0a1.7 1.7 0 1 0 3.4 0a1.7 1.7 0 1 0 -3.4 0M751.2 506.2a1.7 1.7 0 1 0 3.4 0a1.7 1.7 0 1 0 -3.4 0M752.1 512.1a1.7 1.7 0 1 0 3.4 0a1.7 1.7 0 1 0 -3.4 0M752.5 510.9a1.7 1.7 0 1 0 3.4 0a1.7 1.7 0 1 0 -3.4 0M753.4 512.9a1.7 1.7 0 1 0 3.4 0a1.7 1.7 0 1 0 -3.4 0M754.1 497.7a1.7 1.7 0 1 0 3.4 0a1.7 1.7 0 1 0 -3.4 0M754.5 508.0a1.7 1.7 0 1 0 3.4 0a1.7 1.7 0 1 0 -3.4 0M754.8 507.6a1.7 1.7 0 1 0 3.4 0a1.7 1.7 0 1 0 -3.4 0M755.2 504.5a1.7 1.7 0 1 0 3.4 0a1.7 1.7 0 1 0 -3.4 0M755.8 510.0a1.7 1.7 0 1 0 3.4 0a1.7 1.7 0 1 0 -3.4 0M756.6 500.6a1.7 1.7 0 1 0 3.4 0a1.7 1.7 0 1 0 -3.4 0M757.1 506.3a1.7 1.7 0 1 0 3.4 0a1.7 1.7 0 1 0 -3.4 0M757.9 503.3a1.7 1.7 0 1 0 3.4 0a1.7 1.7 0 1 0 -3.4 0M758.5 505.0a1.7 1.7 0 1 0 3.4 0a1.7 1.7 0 1 0 -3.4 0M759.0 499.8a1.7 1.7 0 1 0 3.4 0a1.7 1.7 0 1 0 -3.4 0M759.4 504.2a1.7 1.7 0 1 0 3.4 0a1.7 1.7 0 1 0 -3.4 0M760.3 508.7a1.7 1.7 0 1 0 3.4 0a1.7 1.7 0 1 0 -3.4 0M760.6 505.5a1.7 1.7 0 1 0 3.4 0a1.7 1.7 0 1 0 -3.4 0M761.5 506.8a1.7 1.7 0 1 0 3.4 0a1.7 1.7 0 1 0 -3.4 0M762.2 499.7a1.7 1.7 0 1 0 3.4 0a1.7 1.7 0 1 0 -3.4 0M762.8 515.0a1.7 1.7 0 1 0 3.4 0a1.7 1.7 0 1 0 -3.4 0M763.4 499.7a1.7 1.7 0 1 0 3.4 0a1.7 1.7 0 1 0 -3.4 0M763.9 504.5a1.7 1.7 0 1 0 3.4 0a1.7 1.7 0 1 0 -3.4 0M764.8 508.5a1.7 1.7 0 1 0 3.4 0a1.7 1.7 0 1 0 -3.4 0M765.7 502.7a1.7 1.7 0 1 0 3.4 0a1.7 1.7 0 1 0 -3.4 0M766.5 510.0a1.7 1.7 0 1 0 3.4 0a1.7 1.7 0 1 0 -3.4 0M767.2 505.5a1.7 1.7 0 1 0 3.4 0a1.7 1.7 0 1 0 -3.4 0M767.5 517.9a1.7 1.7 0 1 0 3.4 0a1.7 1.7 0 1 0 -3.4 0M768.4 508.7a1.7 1.7 0 1 0 3.4 0a1.7 1.7 0 1 0 -3.4 0M768.8 507.6a1.7 1.7 0 1 0 3.4 0a1.7 1.7 0 1 0 -3.4 0M769.7 498.0a1.7 1.7 0 1 0 3.4 0a1.7 1.7 0 1 0 -3.4 0M770.1 508.5a1.7 1.7 0 1 0 3.4 0a1.7 1.7 0 1 0 -3.4 0M770.8 513.2a1.7 1.7 0 1 0 3.4 0a1.7 1.7 0 1 0 -3.4 0M771.6 508.7a1.7 1.7 0 1 0 3.4 0a1.7 1.7 0 1 0 -3.4 0M772.0 497.8a1.7 1.7 0 1 0 3.4 0a1.7 1.7 0 1 0 -3.4 0M772.6 501.2a1.7 1.7 0 1 0 3.4 0a1.7 1.7 0 1 0 -3.4 0M772.9 503.8a1.7 1.7 0 1 0 3.4 0a1.7 1.7 0 1 0 -3.4 0M773.2 505.9a1.7 1.7 0 1 0 3.4 0a1.7 1.7 0 1 0 -3.4 0M773.6 494.7a1.7 1.7 0 1 0 3.4 0a1.7 1.7 0 1 0 -3.4 0M774.5 521.2a1.7 1.7 0 1 0 3.4 0a1.7 1.7 0 1 0 -3.4 0M775.4 505.7a1.7 1.7 0 1 0 3.4 0a1.7 1.7 0 1 0 -3.4 0M776.1 507.7a1.7 1.7 0 1 0 3.4 0a1.7 1.7 0 1 0 -3.4 0M776.6 503.4a1.7 1.7 0 1 0 3.4 0a1.7 1.7 0 1 0 -3.4 0M777.3 506.8a1.7 1.7 0 1 0 3.4 0a1.7 1.7 0 1 0 -3.4 0M778.1 522.2a1.7 1.7 0 1 0 3.4 0a1.7 1.7 0 1 0 -3.4 0M778.6 500.1a1.7 1.7 0 1 0 3.4 0a1.7 1.7 0 1 0 -3.4 0M779.2 503.7a1.7 1.7 0 1 0 3.4 0a1.7 1.7 0 1 0 -3.4 0M780.1 500.0a1.7 1.7 0 1 0 3.4 0a1.7 1.7 0 1 0 -3.4 0M780.3 503.9a1.7 1.7 0 1 0 3.4 0a1.7 1.7 0 1 0 -3.4 0M780.7 520.3a1.7 1.7 0 1 0 3.4 0a1.7 1.7 0 1 0 -3.4 0M781.3 503.6a1.7 1.7 0 1 0 3.4 0a1.7 1.7 0 1 0 -3.4 0M781.6 505.1a1.7 1.7 0 1 0 3.4 0a1.7 1.7 0 1 0 -3.4 0M782.2 495.0a1.7 1.7 0 1 0 3.4 0a1.7 1.7 0 1 0 -3.4 0M782.8 506.9a1.7 1.7 0 1 0 3.4 0a1.7 1.7 0 1 0 -3.4 0M783.2 511.7a1.7 1.7 0 1 0 3.4 0a1.7 1.7 0 1 0 -3.4 0M783.8 507.0a1.7 1.7 0 1 0 3.4 0a1.7 1.7 0 1 0 -3.4 0M784.2 508.1a1.7 1.7 0 1 0 3.4 0a1.7 1.7 0 1 0 -3.4 0M784.9 517.3a1.7 1.7 0 1 0 3.4 0a1.7 1.7 0 1 0 -3.4 0M785.4 515.8a1.7 1.7 0 1 0 3.4 0a1.7 1.7 0 1 0 -3.4 0M786.1 512.1a1.7 1.7 0 1 0 3.4 0a1.7 1.7 0 1 0 -3.4 0M786.3 507.9a1.7 1.7 0 1 0 3.4 0a1.7 1.7 0 1 0 -3.4 0M787.1 504.0a1.7 1.7 0 1 0 3.4 0a1.7 1.7 0 1 0 -3.4 0M787.4 525.0a1.7 1.7 0 1 0 3.4 0a1.7 1.7 0 1 0 -3.4 0M788.3 505.5a1.7 1.7 0 1 0 3.4 0a1.7 1.7 0 1 0 -3.4 0M789.0 519.7a1.7 1.7 0 1 0 3.4 0a1.7 1.7 0 1 0 -3.4 0M789.6 515.2a1.7 1.7 0 1 0 3.4 0a1.7 1.7 0 1 0 -3.4 0M790.1 512.6a1.7 1.7 0 1 0 3.4 0a1.7 1.7 0 1 0 -3.4 0M790.8 522.5a1.7 1.7 0 1 0 3.4 0a1.7 1.7 0 1 0 -3.4 0M791.5 514.3a1.7 1.7 0 1 0 3.4 0a1.7 1.7 0 1 0 -3.4 0M792.3 525.7a1.7 1.7 0 1 0 3.4 0a1.7 1.7 0 1 0 -3.4 0M793.1 514.6a1.7 1.7 0 1 0 3.4 0a1.7 1.7 0 1 0 -3.4 0M793.7 522.9a1.7 1.7 0 1 0 3.4 0a1.7 1.7 0 1 0 -3.4 0M794.6 527.4a1.7 1.7 0 1 0 3.4 0a1.7 1.7 0 1 0 -3.4 0M795.5 517.9a1.7 1.7 0 1 0 3.4 0a1.7 1.7 0 1 0 -3.4 0M796.3 531.0a1.7 1.7 0 1 0 3.4 0a1.7 1.7 0 1 0 -3.4 0M796.9 526.1a1.7 1.7 0 1 0 3.4 0a1.7 1.7 0 1 0 -3.4 0M797.4 513.0a1.7 1.7 0 1 0 3.4 0a1.7 1.7 0 1 0 -3.4 0M798.1 527.6a1.7 1.7 0 1 0 3.4 0a1.7 1.7 0 1 0 -3.4 0M798.9 529.4a1.7 1.7 0 1 0 3.4 0a1.7 1.7 0 1 0 -3.4 0M799.6 518.3a1.7 1.7 0 1 0 3.4 0a1.7 1.7 0 1 0 -3.4 0M800.2 518.0a1.7 1.7 0 1 0 3.4 0a1.7 1.7 0 1 0 -3.4 0M800.7 520.4a1.7 1.7 0 1 0 3.4 0a1.7 1.7 0 1 0 -3.4 0M801.6 507.3a1.7 1.7 0 1 0 3.4 0a1.7 1.7 0 1 0 -3.4 0M802.1 517.9a1.7 1.7 0 1 0 3.4 0a1.7 1.7 0 1 0 -3.4 0M802.4 522.0a1.7 1.7 0 1 0 3.4 0a1.7 1.7 0 1 0 -3.4 0M803.1 512.9a1.7 1.7 0 1 0 3.4 0a1.7 1.7 0 1 0 -3.4 0M804.0 521.7a1.7 1.7 0 1 0 3.4 0a1.7 1.7 0 1 0 -3.4 0M804.8 525.7a1.7 1.7 0 1 0 3.4 0a1.7 1.7 0 1 0 -3.4 0M805.4 501.8a1.7 1.7 0 1 0 3.4 0a1.7 1.7 0 1 0 -3.4 0M806.2 501.5a1.7 1.7 0 1 0 3.4 0a1.7 1.7 0 1 0 -3.4 0M806.7 507.9a1.7 1.7 0 1 0 3.4 0a1.7 1.7 0 1 0 -3.4 0M807.3 516.0a1.7 1.7 0 1 0 3.4 0a1.7 1.7 0 1 0 -3.4 0M807.6 514.0a1.7 1.7 0 1 0 3.4 0a1.7 1.7 0 1 0 -3.4 0M808.0 505.0a1.7 1.7 0 1 0 3.4 0a1.7 1.7 0 1 0 -3.4 0M808.5 502.9a1.7 1.7 0 1 0 3.4 0a1.7 1.7 0 1 0 -3.4 0M809.1 505.1a1.7 1.7 0 1 0 3.4 0a1.7 1.7 0 1 0 -3.4 0M809.7 521.9a1.7 1.7 0 1 0 3.4 0a1.7 1.7 0 1 0 -3.4 0M810.0 503.7a1.7 1.7 0 1 0 3.4 0a1.7 1.7 0 1 0 -3.4 0M810.7 506.5a1.7 1.7 0 1 0 3.4 0a1.7 1.7 0 1 0 -3.4 0M811.3 517.1a1.7 1.7 0 1 0 3.4 0a1.7 1.7 0 1 0 -3.4 0M811.7 508.8a1.7 1.7 0 1 0 3.4 0a1.7 1.7 0 1 0 -3.4 0M812.2 503.9a1.7 1.7 0 1 0 3.4 0a1.7 1.7 0 1 0 -3.4 0M812.7 520.7a1.7 1.7 0 1 0 3.4 0a1.7 1.7 0 1 0 -3.4 0M813.1 513.2a1.7 1.7 0 1 0 3.4 0a1.7 1.7 0 1 0 -3.4 0M813.4 506.2a1.7 1.7 0 1 0 3.4 0a1.7 1.7 0 1 0 -3.4 0M814.3 508.5a1.7 1.7 0 1 0 3.4 0a1.7 1.7 0 1 0 -3.4 0M815.2 517.7a1.7 1.7 0 1 0 3.4 0a1.7 1.7 0 1 0 -3.4 0M816.0 508.9a1.7 1.7 0 1 0 3.4 0a1.7 1.7 0 1 0 -3.4 0M816.8 513.4a1.7 1.7 0 1 0 3.4 0a1.7 1.7 0 1 0 -3.4 0M817.4 517.9a1.7 1.7 0 1 0 3.4 0a1.7 1.7 0 1 0 -3.4 0M818.2 518.8a1.7 1.7 0 1 0 3.4 0a1.7 1.7 0 1 0 -3.4 0M818.6 499.3a1.7 1.7 0 1 0 3.4 0a1.7 1.7 0 1 0 -3.4 0M819.4 508.7a1.7 1.7 0 1 0 3.4 0a1.7 1.7 0 1 0 -3.4 0M820.0 509.9a1.7 1.7 0 1 0 3.4 0a1.7 1.7 0 1 0 -3.4 0M820.9 513.1a1.7 1.7 0 1 0 3.4 0a1.7 1.7 0 1 0 -3.4 0M821.2 517.8a1.7 1.7 0 1 0 3.4 0a1.7 1.7 0 1 0 -3.4 0M822.0 520.7a1.7 1.7 0 1 0 3.4 0a1.7 1.7 0 1 0 -3.4 0M822.3 509.6a1.7 1.7 0 1 0 3.4 0a1.7 1.7 0 1 0 -3.4 0M823.0 505.2a1.7 1.7 0 1 0 3.4 0a1.7 1.7 0 1 0 -3.4 0M823.9 514.3a1.7 1.7 0 1 0 3.4 0a1.7 1.7 0 1 0 -3.4 0M824.1 508.9a1.7 1.7 0 1 0 3.4 0a1.7 1.7 0 1 0 -3.4 0M824.6 525.1a1.7 1.7 0 1 0 3.4 0a1.7 1.7 0 1 0 -3.4 0M825.0 515.8a1.7 1.7 0 1 0 3.4 0a1.7 1.7 0 1 0 -3.4 0M825.5 513.8a1.7 1.7 0 1 0 3.4 0a1.7 1.7 0 1 0 -3.4 0M825.8 520.4a1.7 1.7 0 1 0 3.4 0a1.7 1.7 0 1 0 -3.4 0M826.7 509.3a1.7 1.7 0 1 0 3.4 0a1.7 1.7 0 1 0 -3.4 0M827.5 511.7a1.7 1.7 0 1 0 3.4 0a1.7 1.7 0 1 0 -3.4 0M828.0 513.0a1.7 1.7 0 1 0 3.4 0a1.7 1.7 0 1 0 -3.4 0M828.5 518.9a1.7 1.7 0 1 0 3.4 0a1.7 1.7 0 1 0 -3.4 0M829.2 523.6a1.7 1.7 0 1 0 3.4 0a1.7 1.7 0 1 0 -3.4 0M829.5 520.1a1.7 1.7 0 1 0 3.4 0a1.7 1.7 0 1 0 -3.4 0M829.7 520.0a1.7 1.7 0 1 0 3.4 0a1.7 1.7 0 1 0 -3.4 0M830.6 513.5a1.7 1.7 0 1 0 3.4 0a1.7 1.7 0 1 0 -3.4 0M831.1 517.8a1.7 1.7 0 1 0 3.4 0a1.7 1.7 0 1 0 -3.4 0M831.7 513.8a1.7 1.7 0 1 0 3.4 0a1.7 1.7 0 1 0 -3.4 0M832.6 523.6a1.7 1.7 0 1 0 3.4 0a1.7 1.7 0 1 0 -3.4 0M833.5 511.6a1.7 1.7 0 1 0 3.4 0a1.7 1.7 0 1 0 -3.4 0M834.1 515.6a1.7 1.7 0 1 0 3.4 0a1.7 1.7 0 1 0 -3.4 0M834.5 517.9a1.7 1.7 0 1 0 3.4 0a1.7 1.7 0 1 0 -3.4 0M834.9 521.8a1.7 1.7 0 1 0 3.4 0a1.7 1.7 0 1 0 -3.4 0M835.8 511.6a1.7 1.7 0 1 0 3.4 0a1.7 1.7 0 1 0 -3.4 0M836.7 515.3a1.7 1.7 0 1 0 3.4 0a1.7 1.7 0 1 0 -3.4 0M837.1 511.4a1.7 1.7 0 1 0 3.4 0a1.7 1.7 0 1 0 -3.4 0M837.9 508.0a1.7 1.7 0 1 0 3.4 0a1.7 1.7 0 1 0 -3.4 0M838.4 524.9a1.7 1.7 0 1 0 3.4 0a1.7 1.7 0 1 0 -3.4 0M839.0 520.8a1.7 1.7 0 1 0 3.4 0a1.7 1.7 0 1 0 -3.4 0M839.4 507.4a1.7 1.7 0 1 0 3.4 0a1.7 1.7 0 1 0 -3.4 0M840.3 511.3a1.7 1.7 0 1 0 3.4 0a1.7 1.7 0 1 0 -3.4 0M841.2 522.1a1.7 1.7 0 1 0 3.4 0a1.7 1.7 0 1 0 -3.4 0M841.6 514.2a1.7 1.7 0 1 0 3.4 0a1.7 1.7 0 1 0 -3.4 0M842.3 511.3a1.7 1.7 0 1 0 3.4 0a1.7 1.7 0 1 0 -3.4 0M842.7 527.3a1.7 1.7 0 1 0 3.4 0a1.7 1.7 0 1 0 -3.4 0M843.5 515.5a1.7 1.7 0 1 0 3.4 0a1.7 1.7 0 1 0 -3.4 0M843.8 516.2a1.7 1.7 0 1 0 3.4 0a1.7 1.7 0 1 0 -3.4 0M844.1 522.6a1.7 1.7 0 1 0 3.4 0a1.7 1.7 0 1 0 -3.4 0M844.9 513.5a1.7 1.7 0 1 0 3.4 0a1.7 1.7 0 1 0 -3.4 0M845.4 518.5a1.7 1.7 0 1 0 3.4 0a1.7 1.7 0 1 0 -3.4 0M846.2 519.2a1.7 1.7 0 1 0 3.4 0a1.7 1.7 0 1 0 -3.4 0M847.1 523.1a1.7 1.7 0 1 0 3.4 0a1.7 1.7 0 1 0 -3.4 0M847.9 512.4a1.7 1.7 0 1 0 3.4 0a1.7 1.7 0 1 0 -3.4 0M848.2 525.3a1.7 1.7 0 1 0 3.4 0a1.7 1.7 0 1 0 -3.4 0M848.9 519.8a1.7 1.7 0 1 0 3.4 0a1.7 1.7 0 1 0 -3.4 0M849.8 530.1a1.7 1.7 0 1 0 3.4 0a1.7 1.7 0 1 0 -3.4 0M850.4 518.6a1.7 1.7 0 1 0 3.4 0a1.7 1.7 0 1 0 -3.4 0M850.7 513.0a1.7 1.7 0 1 0 3.4 0a1.7 1.7 0 1 0 -3.4 0M851.1 512.8a1.7 1.7 0 1 0 3.4 0a1.7 1.7 0 1 0 -3.4 0M851.6 508.4a1.7 1.7 0 1 0 3.4 0a1.7 1.7 0 1 0 -3.4 0M852.3 516.1a1.7 1.7 0 1 0 3.4 0a1.7 1.7 0 1 0 -3.4 0M852.7 515.5a1.7 1.7 0 1 0 3.4 0a1.7 1.7 0 1 0 -3.4 0M853.1 521.7a1.7 1.7 0 1 0 3.4 0a1.7 1.7 0 1 0 -3.4 0M853.5 516.0a1.7 1.7 0 1 0 3.4 0a1.7 1.7 0 1 0 -3.4 0M854.2 509.7a1.7 1.7 0 1 0 3.4 0a1.7 1.7 0 1 0 -3.4 0M855.0 521.0a1.7 1.7 0 1 0 3.4 0a1.7 1.7 0 1 0 -3.4 0M855.5 511.8a1.7 1.7 0 1 0 3.4 0a1.7 1.7 0 1 0 -3.4 0M856.3 515.6a1.7 1.7 0 1 0 3.4 0a1.7 1.7 0 1 0 -3.4 0M857.1 521.6a1.7 1.7 0 1 0 3.4 0a1.7 1.7 0 1 0 -3.4 0M857.8 520.0a1.7 1.7 0 1 0 3.4 0a1.7 1.7 0 1 0 -3.4 0M858.2 509.2a1.7 1.7 0 1 0 3.4 0a1.7 1.7 0 1 0 -3.4 0M858.7 512.6a1.7 1.7 0 1 0 3.4 0a1.7 1.7 0 1 0 -3.4 0M859.6 520.8a1.7 1.7 0 1 0 3.4 0a1.7 1.7 0 1 0 -3.4 0M860.3 519.4a1.7 1.7 0 1 0 3.4 0a1.7 1.7 0 1 0 -3.4 0M860.7 517.3a1.7 1.7 0 1 0 3.4 0a1.7 1.7 0 1 0 -3.4 0M861.4 519.7a1.7 1.7 0 1 0 3.4 0a1.7 1.7 0 1 0 -3.4 0M861.7 504.7a1.7 1.7 0 1 0 3.4 0a1.7 1.7 0 1 0 -3.4 0M862.7 514.0a1.7 1.7 0 1 0 3.4 0a1.7 1.7 0 1 0 -3.4 0M863.2 508.0a1.7 1.7 0 1 0 3.4 0a1.7 1.7 0 1 0 -3.4 0M863.8 512.8a1.7 1.7 0 1 0 3.4 0a1.7 1.7 0 1 0 -3.4 0M864.5 514.6a1.7 1.7 0 1 0 3.4 0a1.7 1.7 0 1 0 -3.4 0M864.7 519.6a1.7 1.7 0 1 0 3.4 0a1.7 1.7 0 1 0 -3.4 0M865.4 524.0a1.7 1.7 0 1 0 3.4 0a1.7 1.7 0 1 0 -3.4 0M865.9 522.1a1.7 1.7 0 1 0 3.4 0a1.7 1.7 0 1 0 -3.4 0M866.3 519.4a1.7 1.7 0 1 0 3.4 0a1.7 1.7 0 1 0 -3.4 0M867.1 516.2a1.7 1.7 0 1 0 3.4 0a1.7 1.7 0 1 0 -3.4 0M867.4 526.0a1.7 1.7 0 1 0 3.4 0a1.7 1.7 0 1 0 -3.4 0M867.9 520.3a1.7 1.7 0 1 0 3.4 0a1.7 1.7 0 1 0 -3.4 0M868.6 508.7a1.7 1.7 0 1 0 3.4 0a1.7 1.7 0 1 0 -3.4 0M869.1 519.0a1.7 1.7 0 1 0 3.4 0a1.7 1.7 0 1 0 -3.4 0M869.5 522.7a1.7 1.7 0 1 0 3.4 0a1.7 1.7 0 1 0 -3.4 0M870.1 514.0a1.7 1.7 0 1 0 3.4 0a1.7 1.7 0 1 0 -3.4 0M870.5 520.9a1.7 1.7 0 1 0 3.4 0a1.7 1.7 0 1 0 -3.4 0M871.4 527.8a1.7 1.7 0 1 0 3.4 0a1.7 1.7 0 1 0 -3.4 0M872.3 517.8a1.7 1.7 0 1 0 3.4 0a1.7 1.7 0 1 0 -3.4 0M872.6 518.8a1.7 1.7 0 1 0 3.4 0a1.7 1.7 0 1 0 -3.4 0M873.2 518.8a1.7 1.7 0 1 0 3.4 0a1.7 1.7 0 1 0 -3.4 0M874.0 514.0a1.7 1.7 0 1 0 3.4 0a1.7 1.7 0 1 0 -3.4 0M874.5 516.4a1.7 1.7 0 1 0 3.4 0a1.7 1.7 0 1 0 -3.4 0M875.4 513.9a1.7 1.7 0 1 0 3.4 0a1.7 1.7 0 1 0 -3.4 0M876.0 517.1a1.7 1.7 0 1 0 3.4 0a1.7 1.7 0 1 0 -3.4 0M876.4 514.8a1.7 1.7 0 1 0 3.4 0a1.7 1.7 0 1 0 -3.4 0M877.0 522.0a1.7 1.7 0 1 0 3.4 0a1.7 1.7 0 1 0 -3.4 0M877.7 517.5a1.7 1.7 0 1 0 3.4 0a1.7 1.7 0 1 0 -3.4 0M878.2 521.0a1.7 1.7 0 1 0 3.4 0a1.7 1.7 0 1 0 -3.4 0M878.9 513.2a1.7 1.7 0 1 0 3.4 0a1.7 1.7 0 1 0 -3.4 0M879.7 517.5a1.7 1.7 0 1 0 3.4 0a1.7 1.7 0 1 0 -3.4 0M880.3 519.3a1.7 1.7 0 1 0 3.4 0a1.7 1.7 0 1 0 -3.4 0M880.9 519.4a1.7 1.7 0 1 0 3.4 0a1.7 1.7 0 1 0 -3.4 0M881.8 515.4a1.7 1.7 0 1 0 3.4 0a1.7 1.7 0 1 0 -3.4 0M882.5 516.7a1.7 1.7 0 1 0 3.4 0a1.7 1.7 0 1 0 -3.4 0M883.1 517.0a1.7 1.7 0 1 0 3.4 0a1.7 1.7 0 1 0 -3.4 0M884.0 515.2a1.7 1.7 0 1 0 3.4 0a1.7 1.7 0 1 0 -3.4 0M884.4 514.7a1.7 1.7 0 1 0 3.4 0a1.7 1.7 0 1 0 -3.4 0M885.2 517.1a1.7 1.7 0 1 0 3.4 0a1.7 1.7 0 1 0 -3.4 0M885.6 511.5a1.7 1.7 0 1 0 3.4 0a1.7 1.7 0 1 0 -3.4 0M886.2 508.8a1.7 1.7 0 1 0 3.4 0a1.7 1.7 0 1 0 -3.4 0M886.7 513.0a1.7 1.7 0 1 0 3.4 0a1.7 1.7 0 1 0 -3.4 0M887.2 515.4a1.7 1.7 0 1 0 3.4 0a1.7 1.7 0 1 0 -3.4 0M888.0 507.0a1.7 1.7 0 1 0 3.4 0a1.7 1.7 0 1 0 -3.4 0M888.8 518.8a1.7 1.7 0 1 0 3.4 0a1.7 1.7 0 1 0 -3.4 0M889.6 513.4a1.7 1.7 0 1 0 3.4 0a1.7 1.7 0 1 0 -3.4 0M890.0 515.3a1.7 1.7 0 1 0 3.4 0a1.7 1.7 0 1 0 -3.4 0M890.6 508.8a1.7 1.7 0 1 0 3.4 0a1.7 1.7 0 1 0 -3.4 0M891.0 512.1a1.7 1.7 0 1 0 3.4 0a1.7 1.7 0 1 0 -3.4 0M891.7 520.3a1.7 1.7 0 1 0 3.4 0a1.7 1.7 0 1 0 -3.4 0M892.3 520.4a1.7 1.7 0 1 0 3.4 0a1.7 1.7 0 1 0 -3.4 0M892.6 514.4a1.7 1.7 0 1 0 3.4 0a1.7 1.7 0 1 0 -3.4 0M893.2 509.7a1.7 1.7 0 1 0 3.4 0a1.7 1.7 0 1 0 -3.4 0M894.0 510.1a1.7 1.7 0 1 0 3.4 0a1.7 1.7 0 1 0 -3.4 0M894.6 517.2a1.7 1.7 0 1 0 3.4 0a1.7 1.7 0 1 0 -3.4 0M895.5 505.9a1.7 1.7 0 1 0 3.4 0a1.7 1.7 0 1 0 -3.4 0M895.9 504.4a1.7 1.7 0 1 0 3.4 0a1.7 1.7 0 1 0 -3.4 0M896.2 508.6a1.7 1.7 0 1 0 3.4 0a1.7 1.7 0 1 0 -3.4 0M896.5 514.4a1.7 1.7 0 1 0 3.4 0a1.7 1.7 0 1 0 -3.4 0M897.1 502.7a1.7 1.7 0 1 0 3.4 0a1.7 1.7 0 1 0 -3.4 0M897.6 510.7a1.7 1.7 0 1 0 3.4 0a1.7 1.7 0 1 0 -3.4 0M898.2 510.5a1.7 1.7 0 1 0 3.4 0a1.7 1.7 0 1 0 -3.4 0M898.6 508.4a1.7 1.7 0 1 0 3.4 0a1.7 1.7 0 1 0 -3.4 0M899.4 505.2a1.7 1.7 0 1 0 3.4 0a1.7 1.7 0 1 0 -3.4 0M899.7 511.4a1.7 1.7 0 1 0 3.4 0a1.7 1.7 0 1 0 -3.4 0M900.6 507.6a1.7 1.7 0 1 0 3.4 0a1.7 1.7 0 1 0 -3.4 0M901.3 493.2a1.7 1.7 0 1 0 3.4 0a1.7 1.7 0 1 0 -3.4 0M901.9 512.2a1.7 1.7 0 1 0 3.4 0a1.7 1.7 0 1 0 -3.4 0M902.7 503.2a1.7 1.7 0 1 0 3.4 0a1.7 1.7 0 1 0 -3.4 0M903.1 501.5a1.7 1.7 0 1 0 3.4 0a1.7 1.7 0 1 0 -3.4 0M903.5 496.2a1.7 1.7 0 1 0 3.4 0a1.7 1.7 0 1 0 -3.4 0M903.9 495.8a1.7 1.7 0 1 0 3.4 0a1.7 1.7 0 1 0 -3.4 0M904.2 484.8a1.7 1.7 0 1 0 3.4 0a1.7 1.7 0 1 0 -3.4 0M904.7 494.8a1.7 1.7 0 1 0 3.4 0a1.7 1.7 0 1 0 -3.4 0M905.4 499.4a1.7 1.7 0 1 0 3.4 0a1.7 1.7 0 1 0 -3.4 0M906.0 498.4a1.7 1.7 0 1 0 3.4 0a1.7 1.7 0 1 0 -3.4 0M906.4 488.2a1.7 1.7 0 1 0 3.4 0a1.7 1.7 0 1 0 -3.4 0M907.1 478.8a1.7 1.7 0 1 0 3.4 0a1.7 1.7 0 1 0 -3.4 0M907.4 483.0a1.7 1.7 0 1 0 3.4 0a1.7 1.7 0 1 0 -3.4 0M908.2 487.5a1.7 1.7 0 1 0 3.4 0a1.7 1.7 0 1 0 -3.4 0M908.6 499.0a1.7 1.7 0 1 0 3.4 0a1.7 1.7 0 1 0 -3.4 0M909.0 476.0a1.7 1.7 0 1 0 3.4 0a1.7 1.7 0 1 0 -3.4 0M909.4 487.9a1.7 1.7 0 1 0 3.4 0a1.7 1.7 0 1 0 -3.4 0M910.1 491.1a1.7 1.7 0 1 0 3.4 0a1.7 1.7 0 1 0 -3.4 0M910.9 490.8a1.7 1.7 0 1 0 3.4 0a1.7 1.7 0 1 0 -3.4 0M911.7 484.9a1.7 1.7 0 1 0 3.4 0a1.7 1.7 0 1 0 -3.4 0M912.0 471.3a1.7 1.7 0 1 0 3.4 0a1.7 1.7 0 1 0 -3.4 0M912.6 490.3a1.7 1.7 0 1 0 3.4 0a1.7 1.7 0 1 0 -3.4 0M913.1 486.3a1.7 1.7 0 1 0 3.4 0a1.7 1.7 0 1 0 -3.4 0M913.5 489.5a1.7 1.7 0 1 0 3.4 0a1.7 1.7 0 1 0 -3.4 0M914.4 477.2a1.7 1.7 0 1 0 3.4 0a1.7 1.7 0 1 0 -3.4 0M914.7 480.9a1.7 1.7 0 1 0 3.4 0a1.7 1.7 0 1 0 -3.4 0M915.3 497.0a1.7 1.7 0 1 0 3.4 0a1.7 1.7 0 1 0 -3.4 0M916.1 483.7a1.7 1.7 0 1 0 3.4 0a1.7 1.7 0 1 0 -3.4 0M917.0 484.1a1.7 1.7 0 1 0 3.4 0a1.7 1.7 0 1 0 -3.4 0M917.4 478.1a1.7 1.7 0 1 0 3.4 0a1.7 1.7 0 1 0 -3.4 0M917.9 494.4a1.7 1.7 0 1 0 3.4 0a1.7 1.7 0 1 0 -3.4 0M918.7 469.9a1.7 1.7 0 1 0 3.4 0a1.7 1.7 0 1 0 -3.4 0M919.0 479.2a1.7 1.7 0 1 0 3.4 0a1.7 1.7 0 1 0 -3.4 0M919.4 487.2a1.7 1.7 0 1 0 3.4 0a1.7 1.7 0 1 0 -3.4 0M920.3 483.0a1.7 1.7 0 1 0 3.4 0a1.7 1.7 0 1 0 -3.4 0M920.6 490.9a1.7 1.7 0 1 0 3.4 0a1.7 1.7 0 1 0 -3.4 0M921.1 487.3a1.7 1.7 0 1 0 3.4 0a1.7 1.7 0 1 0 -3.4 0M921.6 496.0a1.7 1.7 0 1 0 3.4 0a1.7 1.7 0 1 0 -3.4 0M922.1 482.5a1.7 1.7 0 1 0 3.4 0a1.7 1.7 0 1 0 -3.4 0M922.5 483.4a1.7 1.7 0 1 0 3.4 0a1.7 1.7 0 1 0 -3.4 0M922.7 486.9a1.7 1.7 0 1 0 3.4 0a1.7 1.7 0 1 0 -3.4 0M923.7 470.9a1.7 1.7 0 1 0 3.4 0a1.7 1.7 0 1 0 -3.4 0M924.5 496.7a1.7 1.7 0 1 0 3.4 0a1.7 1.7 0 1 0 -3.4 0M925.2 479.0a1.7 1.7 0 1 0 3.4 0a1.7 1.7 0 1 0 -3.4 0M925.6 495.0a1.7 1.7 0 1 0 3.4 0a1.7 1.7 0 1 0 -3.4 0M926.1 497.5a1.7 1.7 0 1 0 3.4 0a1.7 1.7 0 1 0 -3.4 0M926.7 494.5a1.7 1.7 0 1 0 3.4 0a1.7 1.7 0 1 0 -3.4 0M927.1 488.6a1.7 1.7 0 1 0 3.4 0a1.7 1.7 0 1 0 -3.4 0M927.7 482.7a1.7 1.7 0 1 0 3.4 0a1.7 1.7 0 1 0 -3.4 0M928.6 475.3a1.7 1.7 0 1 0 3.4 0a1.7 1.7 0 1 0 -3.4 0M929.1 495.6a1.7 1.7 0 1 0 3.4 0a1.7 1.7 0 1 0 -3.4 0M929.6 491.7a1.7 1.7 0 1 0 3.4 0a1.7 1.7 0 1 0 -3.4 0M930.5 512.0a1.7 1.7 0 1 0 3.4 0a1.7 1.7 0 1 0 -3.4 0M931.2 498.4a1.7 1.7 0 1 0 3.4 0a1.7 1.7 0 1 0 -3.4 0M931.5 507.6a1.7 1.7 0 1 0 3.4 0a1.7 1.7 0 1 0 -3.4 0M932.0 501.0a1.7 1.7 0 1 0 3.4 0a1.7 1.7 0 1 0 -3.4 0M932.7 511.8a1.7 1.7 0 1 0 3.4 0a1.7 1.7 0 1 0 -3.4 0M933.0 505.9a1.7 1.7 0 1 0 3.4 0a1.7 1.7 0 1 0 -3.4 0M933.5 509.8a1.7 1.7 0 1 0 3.4 0a1.7 1.7 0 1 0 -3.4 0M934.2 495.7a1.7 1.7 0 1 0 3.4 0a1.7 1.7 0 1 0 -3.4 0M935.1 507.1a1.7 1.7 0 1 0 3.4 0a1.7 1.7 0 1 0 -3.4 0M935.7 512.8a1.7 1.7 0 1 0 3.4 0a1.7 1.7 0 1 0 -3.4 0M936.6 527.3a1.7 1.7 0 1 0 3.4 0a1.7 1.7 0 1 0 -3.4 0M937.2 517.6a1.7 1.7 0 1 0 3.4 0a1.7 1.7 0 1 0 -3.4 0M937.7 502.8a1.7 1.7 0 1 0 3.4 0a1.7 1.7 0 1 0 -3.4 0M938.6 531.3a1.7 1.7 0 1 0 3.4 0a1.7 1.7 0 1 0 -3.4 0M939.1 519.1a1.7 1.7 0 1 0 3.4 0a1.7 1.7 0 1 0 -3.4 0M939.9 527.2a1.7 1.7 0 1 0 3.4 0a1.7 1.7 0 1 0 -3.4 0M940.3 506.7a1.7 1.7 0 1 0 3.4 0a1.7 1.7 0 1 0 -3.4 0M940.8 497.1a1.7 1.7 0 1 0 3.4 0a1.7 1.7 0 1 0 -3.4 0M941.1 508.4a1.7 1.7 0 1 0 3.4 0a1.7 1.7 0 1 0 -3.4 0M941.8 505.9a1.7 1.7 0 1 0 3.4 0a1.7 1.7 0 1 0 -3.4 0M942.1 519.4a1.7 1.7 0 1 0 3.4 0a1.7 1.7 0 1 0 -3.4 0M942.5 505.4a1.7 1.7 0 1 0 3.4 0a1.7 1.7 0 1 0 -3.4 0M942.9 519.2a1.7 1.7 0 1 0 3.4 0a1.7 1.7 0 1 0 -3.4 0M943.5 526.1a1.7 1.7 0 1 0 3.4 0a1.7 1.7 0 1 0 -3.4 0M944.0 545.4a1.7 1.7 0 1 0 3.4 0a1.7 1.7 0 1 0 -3.4 0M944.5 544.2a1.7 1.7 0 1 0 3.4 0a1.7 1.7 0 1 0 -3.4 0M945.5 558.4a1.7 1.7 0 1 0 3.4 0a1.7 1.7 0 1 0 -3.4 0M946.2 555.0a1.7 1.7 0 1 0 3.4 0a1.7 1.7 0 1 0 -3.4 0M947.1 555.5a1.7 1.7 0 1 0 3.4 0a1.7 1.7 0 1 0 -3.4 0M947.5 549.1a1.7 1.7 0 1 0 3.4 0a1.7 1.7 0 1 0 -3.4 0M948.0 552.0a1.7 1.7 0 1 0 3.4 0a1.7 1.7 0 1 0 -3.4 0M948.3 555.8a1.7 1.7 0 1 0 3.4 0a1.7 1.7 0 1 0 -3.4 0M949.0 545.5a1.7 1.7 0 1 0 3.4 0a1.7 1.7 0 1 0 -3.4 0M949.5 558.4a1.7 1.7 0 1 0 3.4 0a1.7 1.7 0 1 0 -3.4 0M950.0 550.4a1.7 1.7 0 1 0 3.4 0a1.7 1.7 0 1 0 -3.4 0M950.2 558.6a1.7 1.7 0 1 0 3.4 0a1.7 1.7 0 1 0 -3.4 0M950.6 562.6a1.7 1.7 0 1 0 3.4 0a1.7 1.7 0 1 0 -3.4 0M951.0 560.6a1.7 1.7 0 1 0 3.4 0a1.7 1.7 0 1 0 -3.4 0M951.6 544.6a1.7 1.7 0 1 0 3.4 0a1.7 1.7 0 1 0 -3.4 0M952.5 558.7a1.7 1.7 0 1 0 3.4 0a1.7 1.7 0 1 0 -3.4 0M953.2 549.5a1.7 1.7 0 1 0 3.4 0a1.7 1.7 0 1 0 -3.4 0M953.6 548.9a1.7 1.7 0 1 0 3.4 0a1.7 1.7 0 1 0 -3.4 0M954.1 550.2a1.7 1.7 0 1 0 3.4 0a1.7 1.7 0 1 0 -3.4 0M954.5 544.5a1.7 1.7 0 1 0 3.4 0a1.7 1.7 0 1 0 -3.4 0M955.4 553.3a1.7 1.7 0 1 0 3.4 0a1.7 1.7 0 1 0 -3.4 0M955.9 547.5a1.7 1.7 0 1 0 3.4 0a1.7 1.7 0 1 0 -3.4 0M956.7 561.1a1.7 1.7 0 1 0 3.4 0a1.7 1.7 0 1 0 -3.4 0M957.5 560.4a1.7 1.7 0 1 0 3.4 0a1.7 1.7 0 1 0 -3.4 0M958.3 550.3a1.7 1.7 0 1 0 3.4 0a1.7 1.7 0 1 0 -3.4 0M958.6 556.5a1.7 1.7 0 1 0 3.4 0a1.7 1.7 0 1 0 -3.4 0M959.1 556.2a1.7 1.7 0 1 0 3.4 0a1.7 1.7 0 1 0 -3.4 0M959.6 558.3a1.7 1.7 0 1 0 3.4 0a1.7 1.7 0 1 0 -3.4 0M959.9 558.5a1.7 1.7 0 1 0 3.4 0a1.7 1.7 0 1 0 -3.4 0M960.8 564.3a1.7 1.7 0 1 0 3.4 0a1.7 1.7 0 1 0 -3.4 0M961.3 561.8a1.7 1.7 0 1 0 3.4 0a1.7 1.7 0 1 0 -3.4 0M962.0 555.6a1.7 1.7 0 1 0 3.4 0a1.7 1.7 0 1 0 -3.4 0M962.7 565.8a1.7 1.7 0 1 0 3.4 0a1.7 1.7 0 1 0 -3.4 0M962.9 569.0a1.7 1.7 0 1 0 3.4 0a1.7 1.7 0 1 0 -3.4 0M963.5 563.0a1.7 1.7 0 1 0 3.4 0a1.7 1.7 0 1 0 -3.4 0M963.9 570.8a1.7 1.7 0 1 0 3.4 0a1.7 1.7 0 1 0 -3.4 0M964.2 565.8a1.7 1.7 0 1 0 3.4 0a1.7 1.7 0 1 0 -3.4 0M964.5 559.2a1.7 1.7 0 1 0 3.4 0a1.7 1.7 0 1 0 -3.4 0M965.2 560.3a1.7 1.7 0 1 0 3.4 0a1.7 1.7 0 1 0 -3.4 0M965.5 562.9a1.7 1.7 0 1 0 3.4 0a1.7 1.7 0 1 0 -3.4 0M965.9 566.5a1.7 1.7 0 1 0 3.4 0a1.7 1.7 0 1 0 -3.4 0M966.5 564.1a1.7 1.7 0 1 0 3.4 0a1.7 1.7 0 1 0 -3.4 0M967.1 569.5a1.7 1.7 0 1 0 3.4 0a1.7 1.7 0 1 0 -3.4 0M967.4 570.6a1.7 1.7 0 1 0 3.4 0a1.7 1.7 0 1 0 -3.4 0M968.2 556.2a1.7 1.7 0 1 0 3.4 0a1.7 1.7 0 1 0 -3.4 0M968.6 555.2a1.7 1.7 0 1 0 3.4 0a1.7 1.7 0 1 0 -3.4 0M969.4 562.2a1.7 1.7 0 1 0 3.4 0a1.7 1.7 0 1 0 -3.4 0M970.1 566.0a1.7 1.7 0 1 0 3.4 0a1.7 1.7 0 1 0 -3.4 0M970.5 569.0a1.7 1.7 0 1 0 3.4 0a1.7 1.7 0 1 0 -3.4 0M970.8 567.2a1.7 1.7 0 1 0 3.4 0a1.7 1.7 0 1 0 -3.4 0M971.3 567.0a1.7 1.7 0 1 0 3.4 0a1.7 1.7 0 1 0 -3.4 0M972.0 556.7a1.7 1.7 0 1 0 3.4 0a1.7 1.7 0 1 0 -3.4 0M972.6 565.4a1.7 1.7 0 1 0 3.4 0a1.7 1.7 0 1 0 -3.4 0M973.1 558.6a1.7 1.7 0 1 0 3.4 0a1.7 1.7 0 1 0 -3.4 0M974.0 565.7a1.7 1.7 0 1 0 3.4 0a1.7 1.7 0 1 0 -3.4 0M974.4 568.4a1.7 1.7 0 1 0 3.4 0a1.7 1.7 0 1 0 -3.4 0M974.8 553.6a1.7 1.7 0 1 0 3.4 0a1.7 1.7 0 1 0 -3.4 0M975.3 552.1a1.7 1.7 0 1 0 3.4 0a1.7 1.7 0 1 0 -3.4 0M975.7 564.6a1.7 1.7 0 1 0 3.4 0a1.7 1.7 0 1 0 -3.4 0M976.0 542.0a1.7 1.7 0 1 0 3.4 0a1.7 1.7 0 1 0 -3.4 0M976.3 541.4a1.7 1.7 0 1 0 3.4 0a1.7 1.7 0 1 0 -3.4 0M976.9 536.2a1.7 1.7 0 1 0 3.4 0a1.7 1.7 0 1 0 -3.4 0M977.6 533.4a1.7 1.7 0 1 0 3.4 0a1.7 1.7 0 1 0 -3.4 0M978.4 552.5a1.7 1.7 0 1 0 3.4 0a1.7 1.7 0 1 0 -3.4 0M979.3 539.2a1.7 1.7 0 1 0 3.4 0a1.7 1.7 0 1 0 -3.4 0M979.8 539.6a1.7 1.7 0 1 0 3.4 0a1.7 1.7 0 1 0 -3.4 0M980.5 538.0a1.7 1.7 0 1 0 3.4 0a1.7 1.7 0 1 0 -3.4 0M981.4 529.4a1.7 1.7 0 1 0 3.4 0a1.7 1.7 0 1 0 -3.4 0M981.8 550.1a1.7 1.7 0 1 0 3.4 0a1.7 1.7 0 1 0 -3.4 0M982.5 539.7a1.7 1.7 0 1 0 3.4 0a1.7 1.7 0 1 0 -3.4 0M983.3 543.6a1.7 1.7 0 1 0 3.4 0a1.7 1.7 0 1 0 -3.4 0M984.2 554.6a1.7 1.7 0 1 0 3.4 0a1.7 1.7 0 1 0 -3.4 0M985.0 542.6a1.7 1.7 0 1 0 3.4 0a1.7 1.7 0 1 0 -3.4 0M985.4 544.7a1.7 1.7 0 1 0 3.4 0a1.7 1.7 0 1 0 -3.4 0M986.1 545.0a1.7 1.7 0 1 0 3.4 0a1.7 1.7 0 1 0 -3.4 0M986.5 553.6a1.7 1.7 0 1 0 3.4 0a1.7 1.7 0 1 0 -3.4 0M987.0 532.9a1.7 1.7 0 1 0 3.4 0a1.7 1.7 0 1 0 -3.4 0M987.5 539.0a1.7 1.7 0 1 0 3.4 0a1.7 1.7 0 1 0 -3.4 0M987.8 528.5a1.7 1.7 0 1 0 3.4 0a1.7 1.7 0 1 0 -3.4 0M988.3 543.5a1.7 1.7 0 1 0 3.4 0a1.7 1.7 0 1 0 -3.4 0M988.8 548.3a1.7 1.7 0 1 0 3.4 0a1.7 1.7 0 1 0 -3.4 0M989.4 539.8a1.7 1.7 0 1 0 3.4 0a1.7 1.7 0 1 0 -3.4 0M989.9 558.1a1.7 1.7 0 1 0 3.4 0a1.7 1.7 0 1 0 -3.4 0M990.2 550.9a1.7 1.7 0 1 0 3.4 0a1.7 1.7 0 1 0 -3.4 0M990.8 558.0a1.7 1.7 0 1 0 3.4 0a1.7 1.7 0 1 0 -3.4 0M991.3 542.7a1.7 1.7 0 1 0 3.4 0a1.7 1.7 0 1 0 -3.4 0M991.7 539.4a1.7 1.7 0 1 0 3.4 0a1.7 1.7 0 1 0 -3.4 0M992.4 497.7a1.7 1.7 0 1 0 3.4 0a1.7 1.7 0 1 0 -3.4 0M992.8 503.7a1.7 1.7 0 1 0 3.4 0a1.7 1.7 0 1 0 -3.4 0M993.2 501.8a1.7 1.7 0 1 0 3.4 0a1.7 1.7 0 1 0 -3.4 0M993.6 498.1a1.7 1.7 0 1 0 3.4 0a1.7 1.7 0 1 0 -3.4 0M994.2 511.3a1.7 1.7 0 1 0 3.4 0a1.7 1.7 0 1 0 -3.4 0M994.5 509.0a1.7 1.7 0 1 0 3.4 0a1.7 1.7 0 1 0 -3.4 0M995.2 496.2a1.7 1.7 0 1 0 3.4 0a1.7 1.7 0 1 0 -3.4 0M995.9 504.6a1.7 1.7 0 1 0 3.4 0a1.7 1.7 0 1 0 -3.4 0M996.6 500.8a1.7 1.7 0 1 0 3.4 0a1.7 1.7 0 1 0 -3.4 0M997.3 501.0a1.7 1.7 0 1 0 3.4 0a1.7 1.7 0 1 0 -3.4 0M997.6 503.5a1.7 1.7 0 1 0 3.4 0a1.7 1.7 0 1 0 -3.4 0M998.1 497.0a1.7 1.7 0 1 0 3.4 0a1.7 1.7 0 1 0 -3.4 0M998.6 500.8a1.7 1.7 0 1 0 3.4 0a1.7 1.7 0 1 0 -3.4 0M998.9 501.4a1.7 1.7 0 1 0 3.4 0a1.7 1.7 0 1 0 -3.4 0M999.4 495.8a1.7 1.7 0 1 0 3.4 0a1.7 1.7 0 1 0 -3.4 0M999.7 496.1a1.7 1.7 0 1 0 3.4 0a1.7 1.7 0 1 0 -3.4 0M1000.3 503.3a1.7 1.7 0 1 0 3.4 0a1.7 1.7 0 1 0 -3.4 0M1001.0 497.9a1.7 1.7 0 1 0 3.4 0a1.7 1.7 0 1 0 -3.4 0M1001.6 507.7a1.7 1.7 0 1 0 3.4 0a1.7 1.7 0 1 0 -3.4 0M1002.0 507.3a1.7 1.7 0 1 0 3.4 0a1.7 1.7 0 1 0 -3.4 0M1002.5 491.9a1.7 1.7 0 1 0 3.4 0a1.7 1.7 0 1 0 -3.4 0M1002.7 497.7a1.7 1.7 0 1 0 3.4 0a1.7 1.7 0 1 0 -3.4 0M1003.2 483.8a1.7 1.7 0 1 0 3.4 0a1.7 1.7 0 1 0 -3.4 0M1004.1 490.5a1.7 1.7 0 1 0 3.4 0a1.7 1.7 0 1 0 -3.4 0M1004.8 488.3a1.7 1.7 0 1 0 3.4 0a1.7 1.7 0 1 0 -3.4 0M1005.2 488.6a1.7 1.7 0 1 0 3.4 0a1.7 1.7 0 1 0 -3.4 0M1005.9 480.8a1.7 1.7 0 1 0 3.4 0a1.7 1.7 0 1 0 -3.4 0M1006.3 493.7a1.7 1.7 0 1 0 3.4 0a1.7 1.7 0 1 0 -3.4 0M1006.9 492.4a1.7 1.7 0 1 0 3.4 0a1.7 1.7 0 1 0 -3.4 0M1007.5 485.8a1.7 1.7 0 1 0 3.4 0a1.7 1.7 0 1 0 -3.4 0M1008.5 489.4a1.7 1.7 0 1 0 3.4 0a1.7 1.7 0 1 0 -3.4 0M1009.0 495.2a1.7 1.7 0 1 0 3.4 0a1.7 1.7 0 1 0 -3.4 0M1009.6 498.9a1.7 1.7 0 1 0 3.4 0a1.7 1.7 0 1 0 -3.4 0M1010.5 479.3a1.7 1.7 0 1 0 3.4 0a1.7 1.7 0 1 0 -3.4 0M1011.3 497.2a1.7 1.7 0 1 0 3.4 0a1.7 1.7 0 1 0 -3.4 0M1012.0 475.5a1.7 1.7 0 1 0 3.4 0a1.7 1.7 0 1 0 -3.4 0M1012.7 483.3a1.7 1.7 0 1 0 3.4 0a1.7 1.7 0 1 0 -3.4 0M1013.2 487.6a1.7 1.7 0 1 0 3.4 0a1.7 1.7 0 1 0 -3.4 0M1013.8 501.7a1.7 1.7 0 1 0 3.4 0a1.7 1.7 0 1 0 -3.4 0M1014.2 496.8a1.7 1.7 0 1 0 3.4 0a1.7 1.7 0 1 0 -3.4 0M1015.0 499.0a1.7 1.7 0 1 0 3.4 0a1.7 1.7 0 1 0 -3.4 0M1015.9 507.8a1.7 1.7 0 1 0 3.4 0a1.7 1.7 0 1 0 -3.4 0M1016.4 500.6a1.7 1.7 0 1 0 3.4 0a1.7 1.7 0 1 0 -3.4 0M1017.3 498.7a1.7 1.7 0 1 0 3.4 0a1.7 1.7 0 1 0 -3.4 0M1017.6 511.9a1.7 1.7 0 1 0 3.4 0a1.7 1.7 0 1 0 -3.4 0M1017.9 501.9a1.7 1.7 0 1 0 3.4 0a1.7 1.7 0 1 0 -3.4 0M1018.5 496.8a1.7 1.7 0 1 0 3.4 0a1.7 1.7 0 1 0 -3.4 0M1019.0 495.1a1.7 1.7 0 1 0 3.4 0a1.7 1.7 0 1 0 -3.4 0M1019.5 508.2a1.7 1.7 0 1 0 3.4 0a1.7 1.7 0 1 0 -3.4 0M1020.4 521.1a1.7 1.7 0 1 0 3.4 0a1.7 1.7 0 1 0 -3.4 0M1020.8 514.3a1.7 1.7 0 1 0 3.4 0a1.7 1.7 0 1 0 -3.4 0M1021.2 510.3a1.7 1.7 0 1 0 3.4 0a1.7 1.7 0 1 0 -3.4 0M1021.6 518.8a1.7 1.7 0 1 0 3.4 0a1.7 1.7 0 1 0 -3.4 0M1022.3 501.9a1.7 1.7 0 1 0 3.4 0a1.7 1.7 0 1 0 -3.4 0M1022.7 515.5a1.7 1.7 0 1 0 3.4 0a1.7 1.7 0 1 0 -3.4 0M1023.0 509.4a1.7 1.7 0 1 0 3.4 0a1.7 1.7 0 1 0 -3.4 0M1023.6 523.4a1.7 1.7 0 1 0 3.4 0a1.7 1.7 0 1 0 -3.4 0M1024.1 509.2a1.7 1.7 0 1 0 3.4 0a1.7 1.7 0 1 0 -3.4 0M1024.6 521.1a1.7 1.7 0 1 0 3.4 0a1.7 1.7 0 1 0 -3.4 0M1025.2 518.0a1.7 1.7 0 1 0 3.4 0a1.7 1.7 0 1 0 -3.4 0M1025.9 517.9a1.7 1.7 0 1 0 3.4 0a1.7 1.7 0 1 0 -3.4 0M1026.5 523.7a1.7 1.7 0 1 0 3.4 0a1.7 1.7 0 1 0 -3.4 0M1027.2 519.0a1.7 1.7 0 1 0 3.4 0a1.7 1.7 0 1 0 -3.4 0M1027.8 531.2a1.7 1.7 0 1 0 3.4 0a1.7 1.7 0 1 0 -3.4 0M1028.7 520.9a1.7 1.7 0 1 0 3.4 0a1.7 1.7 0 1 0 -3.4 0M1029.6 510.3a1.7 1.7 0 1 0 3.4 0a1.7 1.7 0 1 0 -3.4 0M1030.1 535.2a1.7 1.7 0 1 0 3.4 0a1.7 1.7 0 1 0 -3.4 0M1030.6 535.3a1.7 1.7 0 1 0 3.4 0a1.7 1.7 0 1 0 -3.4 0M1031.4 530.8a1.7 1.7 0 1 0 3.4 0a1.7 1.7 0 1 0 -3.4 0M1031.9 538.1a1.7 1.7 0 1 0 3.4 0a1.7 1.7 0 1 0 -3.4 0M1032.6 533.8a1.7 1.7 0 1 0 3.4 0a1.7 1.7 0 1 0 -3.4 0M1033.4 523.8a1.7 1.7 0 1 0 3.4 0a1.7 1.7 0 1 0 -3.4 0M1034.1 517.3a1.7 1.7 0 1 0 3.4 0a1.7 1.7 0 1 0 -3.4 0M1035.0 524.6a1.7 1.7 0 1 0 3.4 0a1.7 1.7 0 1 0 -3.4 0M1035.9 530.9a1.7 1.7 0 1 0 3.4 0a1.7 1.7 0 1 0 -3.4 0M1036.2 536.8a1.7 1.7 0 1 0 3.4 0a1.7 1.7 0 1 0 -3.4 0M1036.9 524.8a1.7 1.7 0 1 0 3.4 0a1.7 1.7 0 1 0 -3.4 0M1037.5 529.0a1.7 1.7 0 1 0 3.4 0a1.7 1.7 0 1 0 -3.4 0M1038.2 545.4a1.7 1.7 0 1 0 3.4 0a1.7 1.7 0 1 0 -3.4 0M1038.7 531.9a1.7 1.7 0 1 0 3.4 0a1.7 1.7 0 1 0 -3.4 0M1039.1 532.3a1.7 1.7 0 1 0 3.4 0a1.7 1.7 0 1 0 -3.4 0M1039.9 532.1a1.7 1.7 0 1 0 3.4 0a1.7 1.7 0 1 0 -3.4 0M1040.5 548.4a1.7 1.7 0 1 0 3.4 0a1.7 1.7 0 1 0 -3.4 0M1040.9 543.1a1.7 1.7 0 1 0 3.4 0a1.7 1.7 0 1 0 -3.4 0M1041.3 543.6a1.7 1.7 0 1 0 3.4 0a1.7 1.7 0 1 0 -3.4 0M1041.8 548.3a1.7 1.7 0 1 0 3.4 0a1.7 1.7 0 1 0 -3.4 0M1042.2 543.8a1.7 1.7 0 1 0 3.4 0a1.7 1.7 0 1 0 -3.4 0M1042.8 546.0a1.7 1.7 0 1 0 3.4 0a1.7 1.7 0 1 0 -3.4 0M1043.1 539.5a1.7 1.7 0 1 0 3.4 0a1.7 1.7 0 1 0 -3.4 0M1043.4 543.1a1.7 1.7 0 1 0 3.4 0a1.7 1.7 0 1 0 -3.4 0M1043.7 542.2a1.7 1.7 0 1 0 3.4 0a1.7 1.7 0 1 0 -3.4 0M1044.1 543.4a1.7 1.7 0 1 0 3.4 0a1.7 1.7 0 1 0 -3.4 0M1044.8 532.3a1.7 1.7 0 1 0 3.4 0a1.7 1.7 0 1 0 -3.4 0M1045.1 539.5a1.7 1.7 0 1 0 3.4 0a1.7 1.7 0 1 0 -3.4 0M1045.7 539.7a1.7 1.7 0 1 0 3.4 0a1.7 1.7 0 1 0 -3.4 0M1046.5 539.4a1.7 1.7 0 1 0 3.4 0a1.7 1.7 0 1 0 -3.4 0M1047.1 544.9a1.7 1.7 0 1 0 3.4 0a1.7 1.7 0 1 0 -3.4 0M1047.4 559.0a1.7 1.7 0 1 0 3.4 0a1.7 1.7 0 1 0 -3.4 0M1048.3 554.8a1.7 1.7 0 1 0 3.4 0a1.7 1.7 0 1 0 -3.4 0M1049.2 548.8a1.7 1.7 0 1 0 3.4 0a1.7 1.7 0 1 0 -3.4 0M1049.4 550.6a1.7 1.7 0 1 0 3.4 0a1.7 1.7 0 1 0 -3.4 0M1049.9 558.4a1.7 1.7 0 1 0 3.4 0a1.7 1.7 0 1 0 -3.4 0M1050.5 539.7a1.7 1.7 0 1 0 3.4 0a1.7 1.7 0 1 0 -3.4 0M1051.3 551.3a1.7 1.7 0 1 0 3.4 0a1.7 1.7 0 1 0 -3.4 0M1051.8 560.4a1.7 1.7 0 1 0 3.4 0a1.7 1.7 0 1 0 -3.4 0M1052.6 561.5a1.7 1.7 0 1 0 3.4 0a1.7 1.7 0 1 0 -3.4 0M1053.0 555.2a1.7 1.7 0 1 0 3.4 0a1.7 1.7 0 1 0 -3.4 0M1053.7 552.9a1.7 1.7 0 1 0 3.4 0a1.7 1.7 0 1 0 -3.4 0M1054.2 536.5a1.7 1.7 0 1 0 3.4 0a1.7 1.7 0 1 0 -3.4 0M1054.7 544.3a1.7 1.7 0 1 0 3.4 0a1.7 1.7 0 1 0 -3.4 0M1055.5 549.1a1.7 1.7 0 1 0 3.4 0a1.7 1.7 0 1 0 -3.4 0M1056.3 552.2a1.7 1.7 0 1 0 3.4 0a1.7 1.7 0 1 0 -3.4 0M1057.2 552.6a1.7 1.7 0 1 0 3.4 0a1.7 1.7 0 1 0 -3.4 0M1057.8 537.0a1.7 1.7 0 1 0 3.4 0a1.7 1.7 0 1 0 -3.4 0M1058.3 546.3a1.7 1.7 0 1 0 3.4 0a1.7 1.7 0 1 0 -3.4 0M1059.1 552.0a1.7 1.7 0 1 0 3.4 0a1.7 1.7 0 1 0 -3.4 0M1059.8 545.1a1.7 1.7 0 1 0 3.4 0a1.7 1.7 0 1 0 -3.4 0M1060.6 549.0a1.7 1.7 0 1 0 3.4 0a1.7 1.7 0 1 0 -3.4 0M1061.4 554.1a1.7 1.7 0 1 0 3.4 0a1.7 1.7 0 1 0 -3.4 0M1061.8 552.8a1.7 1.7 0 1 0 3.4 0a1.7 1.7 0 1 0 -3.4 0M1062.3 552.0a1.7 1.7 0 1 0 3.4 0a1.7 1.7 0 1 0 -3.4 0M1063.0 554.7a1.7 1.7 0 1 0 3.4 0a1.7 1.7 0 1 0 -3.4 0M1063.4 556.7a1.7 1.7 0 1 0 3.4 0a1.7 1.7 0 1 0 -3.4 0M1063.8 546.7a1.7 1.7 0 1 0 3.4 0a1.7 1.7 0 1 0 -3.4 0M1064.0 541.2a1.7 1.7 0 1 0 3.4 0a1.7 1.7 0 1 0 -3.4 0M1064.7 542.6a1.7 1.7 0 1 0 3.4 0a1.7 1.7 0 1 0 -3.4 0M1065.6 542.6a1.7 1.7 0 1 0 3.4 0a1.7 1.7 0 1 0 -3.4 0M1066.5 544.2a1.7 1.7 0 1 0 3.4 0a1.7 1.7 0 1 0 -3.4 0M1066.9 534.0a1.7 1.7 0 1 0 3.4 0a1.7 1.7 0 1 0 -3.4 0M1067.6 537.8a1.7 1.7 0 1 0 3.4 0a1.7 1.7 0 1 0 -3.4 0M1068.2 540.4a1.7 1.7 0 1 0 3.4 0a1.7 1.7 0 1 0 -3.4 0M1068.8 550.0a1.7 1.7 0 1 0 3.4 0a1.7 1.7 0 1 0 -3.4 0M1069.4 543.7a1.7 1.7 0 1 0 3.4 0a1.7 1.7 0 1 0 -3.4 0M1070.3 537.9a1.7 1.7 0 1 0 3.4 0a1.7 1.7 0 1 0 -3.4 0M1071.2 540.9a1.7 1.7 0 1 0 3.4 0a1.7 1.7 0 1 0 -3.4 0M1071.5 535.3a1.7 1.7 0 1 0 3.4 0a1.7 1.7 0 1 0 -3.4 0M1072.3 532.6a1.7 1.7 0 1 0 3.4 0a1.7 1.7 0 1 0 -3.4 0M1072.6 536.4a1.7 1.7 0 1 0 3.4 0a1.7 1.7 0 1 0 -3.4 0M1072.9 530.8a1.7 1.7 0 1 0 3.4 0a1.7 1.7 0 1 0 -3.4 0M1073.3 527.9a1.7 1.7 0 1 0 3.4 0a1.7 1.7 0 1 0 -3.4 0M1074.1 528.1a1.7 1.7 0 1 0 3.4 0a1.7 1.7 0 1 0 -3.4 0M1075.0 517.2a1.7 1.7 0 1 0 3.4 0a1.7 1.7 0 1 0 -3.4 0M1075.4 519.2a1.7 1.7 0 1 0 3.4 0a1.7 1.7 0 1 0 -3.4 0M1075.8 506.8a1.7 1.7 0 1 0 3.4 0a1.7 1.7 0 1 0 -3.4 0M1076.1 513.7a1.7 1.7 0 1 0 3.4 0a1.7 1.7 0 1 0 -3.4 0M1076.7 521.4a1.7 1.7 0 1 0 3.4 0a1.7 1.7 0 1 0 -3.4 0M1077.3 509.4a1.7 1.7 0 1 0 3.4 0a1.7 1.7 0 1 0 -3.4 0M1077.8 509.4a1.7 1.7 0 1 0 3.4 0a1.7 1.7 0 1 0 -3.4 0M1078.3 505.4a1.7 1.7 0 1 0 3.4 0a1.7 1.7 0 1 0 -3.4 0M1079.1 499.0a1.7 1.7 0 1 0 3.4 0a1.7 1.7 0 1 0 -3.4 0M1079.9 504.7a1.7 1.7 0 1 0 3.4 0a1.7 1.7 0 1 0 -3.4 0M1080.4 500.0a1.7 1.7 0 1 0 3.4 0a1.7 1.7 0 1 0 -3.4 0M1080.9 505.0a1.7 1.7 0 1 0 3.4 0a1.7 1.7 0 1 0 -3.4 0M1081.6 490.2a1.7 1.7 0 1 0 3.4 0a1.7 1.7 0 1 0 -3.4 0M1082.4 493.2a1.7 1.7 0 1 0 3.4 0a1.7 1.7 0 1 0 -3.4 0M1083.3 487.3a1.7 1.7 0 1 0 3.4 0a1.7 1.7 0 1 0 -3.4 0M1083.8 483.6a1.7 1.7 0 1 0 3.4 0a1.7 1.7 0 1 0 -3.4 0M1084.6 494.2a1.7 1.7 0 1 0 3.4 0a1.7 1.7 0 1 0 -3.4 0M1085.2 481.3a1.7 1.7 0 1 0 3.4 0a1.7 1.7 0 1 0 -3.4 0M1086.0 480.9a1.7 1.7 0 1 0 3.4 0a1.7 1.7 0 1 0 -3.4 0M1086.4 498.8a1.7 1.7 0 1 0 3.4 0a1.7 1.7 0 1 0 -3.4 0M1086.8 484.9a1.7 1.7 0 1 0 3.4 0a1.7 1.7 0 1 0 -3.4 0M1087.1 483.8a1.7 1.7 0 1 0 3.4 0a1.7 1.7 0 1 0 -3.4 0M1088.0 487.8a1.7 1.7 0 1 0 3.4 0a1.7 1.7 0 1 0 -3.4 0M1088.4 477.5a1.7 1.7 0 1 0 3.4 0a1.7 1.7 0 1 0 -3.4 0M1089.0 486.4a1.7 1.7 0 1 0 3.4 0a1.7 1.7 0 1 0 -3.4 0M1089.3 475.7a1.7 1.7 0 1 0 3.4 0a1.7 1.7 0 1 0 -3.4 0M1089.8 480.3a1.7 1.7 0 1 0 3.4 0a1.7 1.7 0 1 0 -3.4 0M1090.1 479.4a1.7 1.7 0 1 0 3.4 0a1.7 1.7 0 1 0 -3.4 0M1090.7 492.2a1.7 1.7 0 1 0 3.4 0a1.7 1.7 0 1 0 -3.4 0M1091.1 487.1a1.7 1.7 0 1 0 3.4 0a1.7 1.7 0 1 0 -3.4 0M1091.8 495.0a1.7 1.7 0 1 0 3.4 0a1.7 1.7 0 1 0 -3.4 0M1092.2 493.5a1.7 1.7 0 1 0 3.4 0a1.7 1.7 0 1 0 -3.4 0M1092.6 477.1a1.7 1.7 0 1 0 3.4 0a1.7 1.7 0 1 0 -3.4 0M1093.2 485.0a1.7 1.7 0 1 0 3.4 0a1.7 1.7 0 1 0 -3.4 0M1093.7 478.1a1.7 1.7 0 1 0 3.4 0a1.7 1.7 0 1 0 -3.4 0M1094.1 476.5a1.7 1.7 0 1 0 3.4 0a1.7 1.7 0 1 0 -3.4 0M1094.4 488.9a1.7 1.7 0 1 0 3.4 0a1.7 1.7 0 1 0 -3.4 0M1094.7 490.3a1.7 1.7 0 1 0 3.4 0a1.7 1.7 0 1 0 -3.4 0M1095.6 481.3a1.7 1.7 0 1 0 3.4 0a1.7 1.7 0 1 0 -3.4 0M1096.1 483.7a1.7 1.7 0 1 0 3.4 0a1.7 1.7 0 1 0 -3.4 0M1096.4 484.0a1.7 1.7 0 1 0 3.4 0a1.7 1.7 0 1 0 -3.4 0M1096.7 485.1a1.7 1.7 0 1 0 3.4 0a1.7 1.7 0 1 0 -3.4 0M1097.3 486.5a1.7 1.7 0 1 0 3.4 0a1.7 1.7 0 1 0 -3.4 0M1098.3 478.7a1.7 1.7 0 1 0 3.4 0a1.7 1.7 0 1 0 -3.4 0M1098.7 491.2a1.7 1.7 0 1 0 3.4 0a1.7 1.7 0 1 0 -3.4 0M1099.5 483.5a1.7 1.7 0 1 0 3.4 0a1.7 1.7 0 1 0 -3.4 0M1100.1 480.9a1.7 1.7 0 1 0 3.4 0a1.7 1.7 0 1 0 -3.4 0M1100.7 489.8a1.7 1.7 0 1 0 3.4 0a1.7 1.7 0 1 0 -3.4 0M1101.5 494.5a1.7 1.7 0 1 0 3.4 0a1.7 1.7 0 1 0 -3.4 0M1102.0 500.0a1.7 1.7 0 1 0 3.4 0a1.7 1.7 0 1 0 -3.4 0M1102.3 497.1a1.7 1.7 0 1 0 3.4 0a1.7 1.7 0 1 0 -3.4 0M1102.9 497.7a1.7 1.7 0 1 0 3.4 0a1.7 1.7 0 1 0 -3.4 0M1103.6 491.7a1.7 1.7 0 1 0 3.4 0a1.7 1.7 0 1 0 -3.4 0M1104.3 501.5a1.7 1.7 0 1 0 3.4 0a1.7 1.7 0 1 0 -3.4 0M1104.8 500.9a1.7 1.7 0 1 0 3.4 0a1.7 1.7 0 1 0 -3.4 0M1105.7 503.4a1.7 1.7 0 1 0 3.4 0a1.7 1.7 0 1 0 -3.4 0M1106.5 496.4a1.7 1.7 0 1 0 3.4 0a1.7 1.7 0 1 0 -3.4 0M1107.5 515.8a1.7 1.7 0 1 0 3.4 0a1.7 1.7 0 1 0 -3.4 0M1108.0 508.9a1.7 1.7 0 1 0 3.4 0a1.7 1.7 0 1 0 -3.4 0M1108.9 508.6a1.7 1.7 0 1 0 3.4 0a1.7 1.7 0 1 0 -3.4 0M1109.6 505.1a1.7 1.7 0 1 0 3.4 0a1.7 1.7 0 1 0 -3.4 0M1110.0 503.0a1.7 1.7 0 1 0 3.4 0a1.7 1.7 0 1 0 -3.4 0M1110.3 510.6a1.7 1.7 0 1 0 3.4 0a1.7 1.7 0 1 0 -3.4 0M1110.6 498.9a1.7 1.7 0 1 0 3.4 0a1.7 1.7 0 1 0 -3.4 0M1111.0 506.5a1.7 1.7 0 1 0 3.4 0a1.7 1.7 0 1 0 -3.4 0M1111.3 509.5a1.7 1.7 0 1 0 3.4 0a1.7 1.7 0 1 0 -3.4 0M1111.8 519.1a1.7 1.7 0 1 0 3.4 0a1.7 1.7 0 1 0 -3.4 0M1112.5 517.7a1.7 1.7 0 1 0 3.4 0a1.7 1.7 0 1 0 -3.4 0M1113.0 535.2a1.7 1.7 0 1 0 3.4 0a1.7 1.7 0 1 0 -3.4 0M1113.6 511.8a1.7 1.7 0 1 0 3.4 0a1.7 1.7 0 1 0 -3.4 0M1113.9 543.5a1.7 1.7 0 1 0 3.4 0a1.7 1.7 0 1 0 -3.4 0M1114.3 534.9a1.7 1.7 0 1 0 3.4 0a1.7 1.7 0 1 0 -3.4 0M1115.2 547.8a1.7 1.7 0 1 0 3.4 0a1.7 1.7 0 1 0 -3.4 0M1115.5 534.5a1.7 1.7 0 1 0 3.4 0a1.7 1.7 0 1 0 -3.4 0M1116.1 555.5a1.7 1.7 0 1 0 3.4 0a1.7 1.7 0 1 0 -3.4 0M1116.9 541.9a1.7 1.7 0 1 0 3.4 0a1.7 1.7 0 1 0 -3.4 0M1117.7 548.4a1.7 1.7 0 1 0 3.4 0a1.7 1.7 0 1 0 -3.4 0M1118.5 528.9a1.7 1.7 0 1 0 3.4 0a1.7 1.7 0 1 0 -3.4 0M1119.0 551.2a1.7 1.7 0 1 0 3.4 0a1.7 1.7 0 1 0 -3.4 0M1119.8 546.1a1.7 1.7 0 1 0 3.4 0a1.7 1.7 0 1 0 -3.4 0M1120.6 524.0a1.7 1.7 0 1 0 3.4 0a1.7 1.7 0 1 0 -3.4 0M1121.4 542.8a1.7 1.7 0 1 0 3.4 0a1.7 1.7 0 1 0 -3.4 0M1122.4 540.0a1.7 1.7 0 1 0 3.4 0a1.7 1.7 0 1 0 -3.4 0M1122.7 551.7a1.7 1.7 0 1 0 3.4 0a1.7 1.7 0 1 0 -3.4 0M1123.6 535.8a1.7 1.7 0 1 0 3.4 0a1.7 1.7 0 1 0 -3.4 0M1124.1 544.3a1.7 1.7 0 1 0 3.4 0a1.7 1.7 0 1 0 -3.4 0M1124.9 554.7a1.7 1.7 0 1 0 3.4 0a1.7 1.7 0 1 0 -3.4 0M1125.3 533.2a1.7 1.7 0 1 0 3.4 0a1.7 1.7 0 1 0 -3.4 0M1126.2 559.3a1.7 1.7 0 1 0 3.4 0a1.7 1.7 0 1 0 -3.4 0M1126.4 543.4a1.7 1.7 0 1 0 3.4 0a1.7 1.7 0 1 0 -3.4 0M1127.1 538.6a1.7 1.7 0 1 0 3.4 0a1.7 1.7 0 1 0 -3.4 0M1127.5 527.7a1.7 1.7 0 1 0 3.4 0a1.7 1.7 0 1 0 -3.4 0M1128.0 523.8a1.7 1.7 0 1 0 3.4 0a1.7 1.7 0 1 0 -3.4 0M1128.5 548.7a1.7 1.7 0 1 0 3.4 0a1.7 1.7 0 1 0 -3.4 0M1129.3 535.4a1.7 1.7 0 1 0 3.4 0a1.7 1.7 0 1 0 -3.4 0M1130.1 533.6a1.7 1.7 0 1 0 3.4 0a1.7 1.7 0 1 0 -3.4 0M1130.6 548.1a1.7 1.7 0 1 0 3.4 0a1.7 1.7 0 1 0 -3.4 0M1131.3 544.3a1.7 1.7 0 1 0 3.4 0a1.7 1.7 0 1 0 -3.4 0M1131.8 539.5a1.7 1.7 0 1 0 3.4 0a1.7 1.7 0 1 0 -3.4 0M1132.2 526.1a1.7 1.7 0 1 0 3.4 0a1.7 1.7 0 1 0 -3.4 0M1133.1 522.8a1.7 1.7 0 1 0 3.4 0a1.7 1.7 0 1 0 -3.4 0M1133.6 546.2a1.7 1.7 0 1 0 3.4 0a1.7 1.7 0 1 0 -3.4 0M1133.9 538.1a1.7 1.7 0 1 0 3.4 0a1.7 1.7 0 1 0 -3.4 0M1134.4 536.4a1.7 1.7 0 1 0 3.4 0a1.7 1.7 0 1 0 -3.4 0M1135.1 553.6a1.7 1.7 0 1 0 3.4 0a1.7 1.7 0 1 0 -3.4 0M1135.5 535.2a1.7 1.7 0 1 0 3.4 0a1.7 1.7 0 1 0 -3.4 0M1136.3 541.3a1.7 1.7 0 1 0 3.4 0a1.7 1.7 0 1 0 -3.4 0M1136.9 553.0a1.7 1.7 0 1 0 3.4 0a1.7 1.7 0 1 0 -3.4 0M1137.7 543.0a1.7 1.7 0 1 0 3.4 0a1.7 1.7 0 1 0 -3.4 0M1138.0 534.4a1.7 1.7 0 1 0 3.4 0a1.7 1.7 0 1 0 -3.4 0M1138.4 532.3a1.7 1.7 0 1 0 3.4 0a1.7 1.7 0 1 0 -3.4 0M1138.7 547.3a1.7 1.7 0 1 0 3.4 0a1.7 1.7 0 1 0 -3.4 0M1139.2 529.7a1.7 1.7 0 1 0 3.4 0a1.7 1.7 0 1 0 -3.4 0M1139.8 544.4a1.7 1.7 0 1 0 3.4 0a1.7 1.7 0 1 0 -3.4 0M1140.0 549.8a1.7 1.7 0 1 0 3.4 0a1.7 1.7 0 1 0 -3.4 0M1140.6 537.1a1.7 1.7 0 1 0 3.4 0a1.7 1.7 0 1 0 -3.4 0M1141.2 541.9a1.7 1.7 0 1 0 3.4 0a1.7 1.7 0 1 0 -3.4 0M1141.6 535.1a1.7 1.7 0 1 0 3.4 0a1.7 1.7 0 1 0 -3.4 0M1142.3 542.7a1.7 1.7 0 1 0 3.4 0a1.7 1.7 0 1 0 -3.4 0M1143.2 531.6a1.7 1.7 0 1 0 3.4 0a1.7 1.7 0 1 0 -3.4 0M1143.6 523.2a1.7 1.7 0 1 0 3.4 0a1.7 1.7 0 1 0 -3.4 0M1144.4 528.2a1.7 1.7 0 1 0 3.4 0a1.7 1.7 0 1 0 -3.4 0M1144.9 525.1a1.7 1.7 0 1 0 3.4 0a1.7 1.7 0 1 0 -3.4 0M1145.7 516.9a1.7 1.7 0 1 0 3.4 0a1.7 1.7 0 1 0 -3.4 0M1146.0 518.7a1.7 1.7 0 1 0 3.4 0a1.7 1.7 0 1 0 -3.4 0M1147.0 508.2a1.7 1.7 0 1 0 3.4 0a1.7 1.7 0 1 0 -3.4 0M1147.5 509.1a1.7 1.7 0 1 0 3.4 0a1.7 1.7 0 1 0 -3.4 0M1148.4 517.7a1.7 1.7 0 1 0 3.4 0a1.7 1.7 0 1 0 -3.4 0M1148.8 496.6a1.7 1.7 0 1 0 3.4 0a1.7 1.7 0 1 0 -3.4 0M1149.4 511.6a1.7 1.7 0 1 0 3.4 0a1.7 1.7 0 1 0 -3.4 0M1150.1 506.8a1.7 1.7 0 1 0 3.4 0a1.7 1.7 0 1 0 -3.4 0M1150.5 500.6a1.7 1.7 0 1 0 3.4 0a1.7 1.7 0 1 0 -3.4 0M1150.9 515.5a1.7 1.7 0 1 0 3.4 0a1.7 1.7 0 1 0 -3.4 0M1151.7 507.1a1.7 1.7 0 1 0 3.4 0a1.7 1.7 0 1 0 -3.4 0M1152.6 493.1a1.7 1.7 0 1 0 3.4 0a1.7 1.7 0 1 0 -3.4 0M1153.0 498.2a1.7 1.7 0 1 0 3.4 0a1.7 1.7 0 1 0 -3.4 0M1153.4 503.1a1.7 1.7 0 1 0 3.4 0a1.7 1.7 0 1 0 -3.4 0M1153.9 479.7a1.7 1.7 0 1 0 3.4 0a1.7 1.7 0 1 0 -3.4 0M1154.9 492.0a1.7 1.7 0 1 0 3.4 0a1.7 1.7 0 1 0 -3.4 0M1155.2 486.7a1.7 1.7 0 1 0 3.4 0a1.7 1.7 0 1 0 -3.4 0M1155.9 490.0a1.7 1.7 0 1 0 3.4 0a1.7 1.7 0 1 0 -3.4 0M1156.4 502.3a1.7 1.7 0 1 0 3.4 0a1.7 1.7 0 1 0 -3.4 0M1157.1 479.3a1.7 1.7 0 1 0 3.4 0a1.7 1.7 0 1 0 -3.4 0M1157.5 482.2a1.7 1.7 0 1 0 3.4 0a1.7 1.7 0 1 0 -3.4 0M1158.2 474.5a1.7 1.7 0 1 0 3.4 0a1.7 1.7 0 1 0 -3.4 0M1159.1 487.6a1.7 1.7 0 1 0 3.4 0a1.7 1.7 0 1 0 -3.4 0M1159.9 491.5a1.7 1.7 0 1 0 3.4 0a1.7 1.7 0 1 0 -3.4 0M1160.6 468.2a1.7 1.7 0 1 0 3.4 0a1.7 1.7 0 1 0 -3.4 0M1161.2 499.7a1.7 1.7 0 1 0 3.4 0a1.7 1.7 0 1 0 -3.4 0M1161.9 501.1a1.7 1.7 0 1 0 3.4 0a1.7 1.7 0 1 0 -3.4 0M1162.2 468.3a1.7 1.7 0 1 0 3.4 0a1.7 1.7 0 1 0 -3.4 0M1163.0 472.2a1.7 1.7 0 1 0 3.4 0a1.7 1.7 0 1 0 -3.4 0M1163.8 491.0a1.7 1.7 0 1 0 3.4 0a1.7 1.7 0 1 0 -3.4 0M1164.3 487.6a1.7 1.7 0 1 0 3.4 0a1.7 1.7 0 1 0 -3.4 0M1165.0 498.0a1.7 1.7 0 1 0 3.4 0a1.7 1.7 0 1 0 -3.4 0M1165.6 484.3a1.7 1.7 0 1 0 3.4 0a1.7 1.7 0 1 0 -3.4 0M1166.1 499.4a1.7 1.7 0 1 0 3.4 0a1.7 1.7 0 1 0 -3.4 0M1166.5 474.1a1.7 1.7 0 1 0 3.4 0a1.7 1.7 0 1 0 -3.4 0M1167.2 491.3a1.7 1.7 0 1 0 3.4 0a1.7 1.7 0 1 0 -3.4 0M1167.8 483.3a1.7 1.7 0 1 0 3.4 0a1.7 1.7 0 1 0 -3.4 0M1168.5 483.1a1.7 1.7 0 1 0 3.4 0a1.7 1.7 0 1 0 -3.4 0M1168.7 470.6a1.7 1.7 0 1 0 3.4 0a1.7 1.7 0 1 0 -3.4 0M1169.4 483.9a1.7 1.7 0 1 0 3.4 0a1.7 1.7 0 1 0 -3.4 0M1170.0 501.3a1.7 1.7 0 1 0 3.4 0a1.7 1.7 0 1 0 -3.4 0M1170.6 481.8a1.7 1.7 0 1 0 3.4 0a1.7 1.7 0 1 0 -3.4 0M1171.3 486.0a1.7 1.7 0 1 0 3.4 0a1.7 1.7 0 1 0 -3.4 0M1172.2 489.7a1.7 1.7 0 1 0 3.4 0a1.7 1.7 0 1 0 -3.4 0M1172.6 479.0a1.7 1.7 0 1 0 3.4 0a1.7 1.7 0 1 0 -3.4 0M1173.1 491.3a1.7 1.7 0 1 0 3.4 0a1.7 1.7 0 1 0 -3.4 0M1174.1 494.4a1.7 1.7 0 1 0 3.4 0a1.7 1.7 0 1 0 -3.4 0M1174.9 489.2a1.7 1.7 0 1 0 3.4 0a1.7 1.7 0 1 0 -3.4 0M1175.3 475.5a1.7 1.7 0 1 0 3.4 0a1.7 1.7 0 1 0 -3.4 0M1176.1 512.7a1.7 1.7 0 1 0 3.4 0a1.7 1.7 0 1 0 -3.4 0M1177.0 502.8a1.7 1.7 0 1 0 3.4 0a1.7 1.7 0 1 0 -3.4 0M1177.6 504.6a1.7 1.7 0 1 0 3.4 0a1.7 1.7 0 1 0 -3.4 0M1178.4 506.4a1.7 1.7 0 1 0 3.4 0a1.7 1.7 0 1 0 -3.4 0M1178.8 502.8a1.7 1.7 0 1 0 3.4 0a1.7 1.7 0 1 0 -3.4 0M1179.7 493.3a1.7 1.7 0 1 0 3.4 0a1.7 1.7 0 1 0 -3.4 0M1180.3 508.1a1.7 1.7 0 1 0 3.4 0a1.7 1.7 0 1 0 -3.4 0M1180.7 509.9a1.7 1.7 0 1 0 3.4 0a1.7 1.7 0 1 0 -3.4 0M1181.6 517.0a1.7 1.7 0 1 0 3.4 0a1.7 1.7 0 1 0 -3.4 0M1182.3 522.2a1.7 1.7 0 1 0 3.4 0a1.7 1.7 0 1 0 -3.4 0M1183.2 502.9a1.7 1.7 0 1 0 3.4 0a1.7 1.7 0 1 0 -3.4 0M1184.0 521.1a1.7 1.7 0 1 0 3.4 0a1.7 1.7 0 1 0 -3.4 0M1184.8 509.4a1.7 1.7 0 1 0 3.4 0a1.7 1.7 0 1 0 -3.4 0M1185.4 513.0a1.7 1.7 0 1 0 3.4 0a1.7 1.7 0 1 0 -3.4 0M1186.4 501.9a1.7 1.7 0 1 0 3.4 0a1.7 1.7 0 1 0 -3.4 0M1186.7 511.3a1.7 1.7 0 1 0 3.4 0a1.7 1.7 0 1 0 -3.4 0M1187.5 502.5a1.7 1.7 0 1 0 3.4 0a1.7 1.7 0 1 0 -3.4 0M1188.3 513.6a1.7 1.7 0 1 0 3.4 0a1.7 1.7 0 1 0 -3.4 0M1188.7 500.4a1.7 1.7 0 1 0 3.4 0a1.7 1.7 0 1 0 -3.4 0M1189.5 509.3a1.7 1.7 0 1 0 3.4 0a1.7 1.7 0 1 0 -3.4 0M1190.1 506.2a1.7 1.7 0 1 0 3.4 0a1.7 1.7 0 1 0 -3.4 0M1190.7 511.5a1.7 1.7 0 1 0 3.4 0a1.7 1.7 0 1 0 -3.4 0M1191.5 510.8a1.7 1.7 0 1 0 3.4 0a1.7 1.7 0 1 0 -3.4 0M1191.9 510.2a1.7 1.7 0 1 0 3.4 0a1.7 1.7 0 1 0 -3.4 0M1192.4 505.8a1.7 1.7 0 1 0 3.4 0a1.7 1.7 0 1 0 -3.4 0M1193.1 515.0a1.7 1.7 0 1 0 3.4 0a1.7 1.7 0 1 0 -3.4 0M1193.4 513.1a1.7 1.7 0 1 0 3.4 0a1.7 1.7 0 1 0 -3.4 0M1194.0 504.0a1.7 1.7 0 1 0 3.4 0a1.7 1.7 0 1 0 -3.4 0M1194.8 514.3a1.7 1.7 0 1 0 3.4 0a1.7 1.7 0 1 0 -3.4 0M1195.4 505.0a1.7 1.7 0 1 0 3.4 0a1.7 1.7 0 1 0 -3.4 0M1195.8 510.0a1.7 1.7 0 1 0 3.4 0a1.7 1.7 0 1 0 -3.4 0M1196.6 508.8a1.7 1.7 0 1 0 3.4 0a1.7 1.7 0 1 0 -3.4 0M1197.5 508.8a1.7 1.7 0 1 0 3.4 0a1.7 1.7 0 1 0 -3.4 0M1198.3 514.8a1.7 1.7 0 1 0 3.4 0a1.7 1.7 0 1 0 -3.4 0M1198.9 497.6a1.7 1.7 0 1 0 3.4 0a1.7 1.7 0 1 0 -3.4 0M1199.8 517.9a1.7 1.7 0 1 0 3.4 0a1.7 1.7 0 1 0 -3.4 0M1200.6 498.0a1.7 1.7 0 1 0 3.4 0a1.7 1.7 0 1 0 -3.4 0M1201.0 517.8a1.7 1.7 0 1 0 3.4 0a1.7 1.7 0 1 0 -3.4 0M1201.5 513.4a1.7 1.7 0 1 0 3.4 0a1.7 1.7 0 1 0 -3.4 0M1201.8 500.0a1.7 1.7 0 1 0 3.4 0a1.7 1.7 0 1 0 -3.4 0M1202.1 512.1a1.7 1.7 0 1 0 3.4 0a1.7 1.7 0 1 0 -3.4 0M1202.6 507.7a1.7 1.7 0 1 0 3.4 0a1.7 1.7 0 1 0 -3.4 0M1203.4 502.1a1.7 1.7 0 1 0 3.4 0a1.7 1.7 0 1 0 -3.4 0M1204.2 517.7a1.7 1.7 0 1 0 3.4 0a1.7 1.7 0 1 0 -3.4 0M1204.6 517.1a1.7 1.7 0 1 0 3.4 0a1.7 1.7 0 1 0 -3.4 0M1205.0 512.4a1.7 1.7 0 1 0 3.4 0a1.7 1.7 0 1 0 -3.4 0M1205.5 520.9a1.7 1.7 0 1 0 3.4 0a1.7 1.7 0 1 0 -3.4 0M1206.3 511.0a1.7 1.7 0 1 0 3.4 0a1.7 1.7 0 1 0 -3.4 0M1207.0 508.3a1.7 1.7 0 1 0 3.4 0a1.7 1.7 0 1 0 -3.4 0M1207.9 518.7a1.7 1.7 0 1 0 3.4 0a1.7 1.7 0 1 0 -3.4 0M1208.2 505.3a1.7 1.7 0 1 0 3.4 0a1.7 1.7 0 1 0 -3.4 0M1209.1 515.5a1.7 1.7 0 1 0 3.4 0a1.7 1.7 0 1 0 -3.4 0M1209.5 517.6a1.7 1.7 0 1 0 3.4 0a1.7 1.7 0 1 0 -3.4 0M1210.2 511.7a1.7 1.7 0 1 0 3.4 0a1.7 1.7 0 1 0 -3.4 0M1211.1 511.0a1.7 1.7 0 1 0 3.4 0a1.7 1.7 0 1 0 -3.4 0M1211.8 513.6a1.7 1.7 0 1 0 3.4 0a1.7 1.7 0 1 0 -3.4 0M1212.2 512.0a1.7 1.7 0 1 0 3.4 0a1.7 1.7 0 1 0 -3.4 0M1212.9 505.8a1.7 1.7 0 1 0 3.4 0a1.7 1.7 0 1 0 -3.4 0M1213.5 496.9a1.7 1.7 0 1 0 3.4 0a1.7 1.7 0 1 0 -3.4 0M1213.8 507.0a1.7 1.7 0 1 0 3.4 0a1.7 1.7 0 1 0 -3.4 0M1214.2 500.7a1.7 1.7 0 1 0 3.4 0a1.7 1.7 0 1 0 -3.4 0M1214.7 517.1a1.7 1.7 0 1 0 3.4 0a1.7 1.7 0 1 0 -3.4 0M1215.4 507.5a1.7 1.7 0 1 0 3.4 0a1.7 1.7 0 1 0 -3.4 0M1215.8 512.2a1.7 1.7 0 1 0 3.4 0a1.7 1.7 0 1 0 -3.4 0M1216.5 515.7a1.7 1.7 0 1 0 3.4 0a1.7 1.7 0 1 0 -3.4 0M1217.3 517.6a1.7 1.7 0 1 0 3.4 0a1.7 1.7 0 1 0 -3.4 0M1217.6 504.3a1.7 1.7 0 1 0 3.4 0a1.7 1.7 0 1 0 -3.4 0M1218.0 522.7a1.7 1.7 0 1 0 3.4 0a1.7 1.7 0 1 0 -3.4 0M1218.7 517.0a1.7 1.7 0 1 0 3.4 0a1.7 1.7 0 1 0 -3.4 0M1219.3 515.1a1.7 1.7 0 1 0 3.4 0a1.7 1.7 0 1 0 -3.4 0M1219.6 504.5a1.7 1.7 0 1 0 3.4 0a1.7 1.7 0 1 0 -3.4 0M1220.0 522.8a1.7 1.7 0 1 0 3.4 0a1.7 1.7 0 1 0 -3.4 0M1220.9 515.3a1.7 1.7 0 1 0 3.4 0a1.7 1.7 0 1 0 -3.4 0M1221.5 518.5a1.7 1.7 0 1 0 3.4 0a1.7 1.7 0 1 0 -3.4 0M1222.0 508.8a1.7 1.7 0 1 0 3.4 0a1.7 1.7 0 1 0 -3.4 0M1222.4 523.0a1.7 1.7 0 1 0 3.4 0a1.7 1.7 0 1 0 -3.4 0M1223.4 521.0a1.7 1.7 0 1 0 3.4 0a1.7 1.7 0 1 0 -3.4 0M1224.1 509.2a1.7 1.7 0 1 0 3.4 0a1.7 1.7 0 1 0 -3.4 0M1224.9 521.5a1.7 1.7 0 1 0 3.4 0a1.7 1.7 0 1 0 -3.4 0M1225.4 500.7a1.7 1.7 0 1 0 3.4 0a1.7 1.7 0 1 0 -3.4 0M1225.8 514.0a1.7 1.7 0 1 0 3.4 0a1.7 1.7 0 1 0 -3.4 0M1226.4 511.8a1.7 1.7 0 1 0 3.4 0a1.7 1.7 0 1 0 -3.4 0M1226.7 511.6a1.7 1.7 0 1 0 3.4 0a1.7 1.7 0 1 0 -3.4 0M1227.4 500.4a1.7 1.7 0 1 0 3.4 0a1.7 1.7 0 1 0 -3.4 0M1228.0 502.2a1.7 1.7 0 1 0 3.4 0a1.7 1.7 0 1 0 -3.4 0M1228.8 511.2a1.7 1.7 0 1 0 3.4 0a1.7 1.7 0 1 0 -3.4 0M1229.3 511.3a1.7 1.7 0 1 0 3.4 0a1.7 1.7 0 1 0 -3.4 0M1229.9 502.0a1.7 1.7 0 1 0 3.4 0a1.7 1.7 0 1 0 -3.4 0M1230.5 499.5a1.7 1.7 0 1 0 3.4 0a1.7 1.7 0 1 0 -3.4 0M1231.4 496.3a1.7 1.7 0 1 0 3.4 0a1.7 1.7 0 1 0 -3.4 0M1231.9 510.4a1.7 1.7 0 1 0 3.4 0a1.7 1.7 0 1 0 -3.4 0M1232.7 497.6a1.7 1.7 0 1 0 3.4 0a1.7 1.7 0 1 0 -3.4 0M1233.1 493.7a1.7 1.7 0 1 0 3.4 0a1.7 1.7 0 1 0 -3.4 0M1233.7 481.7a1.7 1.7 0 1 0 3.4 0a1.7 1.7 0 1 0 -3.4 0M1234.2 481.9a1.7 1.7 0 1 0 3.4 0a1.7 1.7 0 1 0 -3.4 0M1235.0 486.1a1.7 1.7 0 1 0 3.4 0a1.7 1.7 0 1 0 -3.4 0M1235.5 478.6a1.7 1.7 0 1 0 3.4 0a1.7 1.7 0 1 0 -3.4 0M1236.3 490.3a1.7 1.7 0 1 0 3.4 0a1.7 1.7 0 1 0 -3.4 0M1237.1 490.4a1.7 1.7 0 1 0 3.4 0a1.7 1.7 0 1 0 -3.4 0M1237.6 484.3a1.7 1.7 0 1 0 3.4 0a1.7 1.7 0 1 0 -3.4 0M1238.5 489.2a1.7 1.7 0 1 0 3.4 0a1.7 1.7 0 1 0 -3.4 0M1239.1 491.9a1.7 1.7 0 1 0 3.4 0a1.7 1.7 0 1 0 -3.4 0M1239.8 477.6a1.7 1.7 0 1 0 3.4 0a1.7 1.7 0 1 0 -3.4 0M1240.5 498.6a1.7 1.7 0 1 0 3.4 0a1.7 1.7 0 1 0 -3.4 0M1241.1 476.5a1.7 1.7 0 1 0 3.4 0a1.7 1.7 0 1 0 -3.4 0M1241.4 508.5a1.7 1.7 0 1 0 3.4 0a1.7 1.7 0 1 0 -3.4 0M1241.9 480.0a1.7 1.7 0 1 0 3.4 0a1.7 1.7 0 1 0 -3.4 0M1242.3 492.7a1.7 1.7 0 1 0 3.4 0a1.7 1.7 0 1 0 -3.4 0M1242.9 489.4a1.7 1.7 0 1 0 3.4 0a1.7 1.7 0 1 0 -3.4 0M1243.8 495.5a1.7 1.7 0 1 0 3.4 0a1.7 1.7 0 1 0 -3.4 0M1244.3 486.0a1.7 1.7 0 1 0 3.4 0a1.7 1.7 0 1 0 -3.4 0M1245.0 496.7a1.7 1.7 0 1 0 3.4 0a1.7 1.7 0 1 0 -3.4 0M1245.7 479.2a1.7 1.7 0 1 0 3.4 0a1.7 1.7 0 1 0 -3.4 0M1246.2 498.4a1.7 1.7 0 1 0 3.4 0a1.7 1.7 0 1 0 -3.4 0M1246.7 489.8a1.7 1.7 0 1 0 3.4 0a1.7 1.7 0 1 0 -3.4 0M1247.0 495.2a1.7 1.7 0 1 0 3.4 0a1.7 1.7 0 1 0 -3.4 0M1247.9 500.4a1.7 1.7 0 1 0 3.4 0a1.7 1.7 0 1 0 -3.4 0M1248.3 482.3a1.7 1.7 0 1 0 3.4 0a1.7 1.7 0 1 0 -3.4 0M1248.9 487.1a1.7 1.7 0 1 0 3.4 0a1.7 1.7 0 1 0 -3.4 0M1249.4 485.8a1.7 1.7 0 1 0 3.4 0a1.7 1.7 0 1 0 -3.4 0M1250.2 491.1a1.7 1.7 0 1 0 3.4 0a1.7 1.7 0 1 0 -3.4 0M1251.0 493.1a1.7 1.7 0 1 0 3.4 0a1.7 1.7 0 1 0 -3.4 0M1251.7 497.6a1.7 1.7 0 1 0 3.4 0a1.7 1.7 0 1 0 -3.4 0M1252.3 493.5a1.7 1.7 0 1 0 3.4 0a1.7 1.7 0 1 0 -3.4 0M1252.7 490.4a1.7 1.7 0 1 0 3.4 0a1.7 1.7 0 1 0 -3.4 0M1253.5 496.0a1.7 1.7 0 1 0 3.4 0a1.7 1.7 0 1 0 -3.4 0M1253.8 499.8a1.7 1.7 0 1 0 3.4 0a1.7 1.7 0 1 0 -3.4 0M1254.3 499.2a1.7 1.7 0 1 0 3.4 0a1.7 1.7 0 1 0 -3.4 0M1254.9 506.5a1.7 1.7 0 1 0 3.4 0a1.7 1.7 0 1 0 -3.4 0M1255.6 486.6a1.7 1.7 0 1 0 3.4 0a1.7 1.7 0 1 0 -3.4 0M1256.3 493.3a1.7 1.7 0 1 0 3.4 0a1.7 1.7 0 1 0 -3.4 0M1256.8 481.0a1.7 1.7 0 1 0 3.4 0a1.7 1.7 0 1 0 -3.4 0M1257.7 487.0a1.7 1.7 0 1 0 3.4 0a1.7 1.7 0 1 0 -3.4 0M1258.6 498.1a1.7 1.7 0 1 0 3.4 0a1.7 1.7 0 1 0 -3.4 0M1258.9 503.3a1.7 1.7 0 1 0 3.4 0a1.7 1.7 0 1 0 -3.4 0M1259.6 490.6a1.7 1.7 0 1 0 3.4 0a1.7 1.7 0 1 0 -3.4 0M1260.2 498.6a1.7 1.7 0 1 0 3.4 0a1.7 1.7 0 1 0 -3.4 0M1260.7 496.2a1.7 1.7 0 1 0 3.4 0a1.7 1.7 0 1 0 -3.4 0M1261.2 500.1a1.7 1.7 0 1 0 3.4 0a1.7 1.7 0 1 0 -3.4 0M1261.7 498.4a1.7 1.7 0 1 0 3.4 0a1.7 1.7 0 1 0 -3.4 0M1262.4 494.0a1.7 1.7 0 1 0 3.4 0a1.7 1.7 0 1 0 -3.4 0M1263.1 484.2a1.7 1.7 0 1 0 3.4 0a1.7 1.7 0 1 0 -3.4 0M1264.0 488.2a1.7 1.7 0 1 0 3.4 0a1.7 1.7 0 1 0 -3.4 0M1265.0 503.1a1.7 1.7 0 1 0 3.4 0a1.7 1.7 0 1 0 -3.4 0M1265.9 500.7a1.7 1.7 0 1 0 3.4 0a1.7 1.7 0 1 0 -3.4 0M1266.4 515.6a1.7 1.7 0 1 0 3.4 0a1.7 1.7 0 1 0 -3.4 0M1267.3 503.2a1.7 1.7 0 1 0 3.4 0a1.7 1.7 0 1 0 -3.4 0M1268.0 510.1a1.7 1.7 0 1 0 3.4 0a1.7 1.7 0 1 0 -3.4 0M1268.7 496.1a1.7 1.7 0 1 0 3.4 0a1.7 1.7 0 1 0 -3.4 0M1269.7 495.7a1.7 1.7 0 1 0 3.4 0a1.7 1.7 0 1 0 -3.4 0M1270.0 507.2a1.7 1.7 0 1 0 3.4 0a1.7 1.7 0 1 0 -3.4 0M1270.5 518.1a1.7 1.7 0 1 0 3.4 0a1.7 1.7 0 1 0 -3.4 0M1271.1 509.8a1.7 1.7 0 1 0 3.4 0a1.7 1.7 0 1 0 -3.4 0M1271.8 505.4a1.7 1.7 0 1 0 3.4 0a1.7 1.7 0 1 0 -3.4 0M1272.2 510.5a1.7 1.7 0 1 0 3.4 0a1.7 1.7 0 1 0 -3.4 0M1273.1 512.4a1.7 1.7 0 1 0 3.4 0a1.7 1.7 0 1 0 -3.4 0M1273.5 511.5a1.7 1.7 0 1 0 3.4 0a1.7 1.7 0 1 0 -3.4 0M1274.0 509.1a1.7 1.7 0 1 0 3.4 0a1.7 1.7 0 1 0 -3.4 0M1274.4 502.4a1.7 1.7 0 1 0 3.4 0a1.7 1.7 0 1 0 -3.4 0M1274.9 502.2a1.7 1.7 0 1 0 3.4 0a1.7 1.7 0 1 0 -3.4 0M1275.7 506.7a1.7 1.7 0 1 0 3.4 0a1.7 1.7 0 1 0 -3.4 0M1276.0 509.3a1.7 1.7 0 1 0 3.4 0a1.7 1.7 0 1 0 -3.4 0M1276.3 502.3a1.7 1.7 0 1 0 3.4 0a1.7 1.7 0 1 0 -3.4 0M1277.0 520.2a1.7 1.7 0 1 0 3.4 0a1.7 1.7 0 1 0 -3.4 0M1277.7 514.7a1.7 1.7 0 1 0 3.4 0a1.7 1.7 0 1 0 -3.4 0M1278.5 508.6a1.7 1.7 0 1 0 3.4 0a1.7 1.7 0 1 0 -3.4 0M1278.9 516.2a1.7 1.7 0 1 0 3.4 0a1.7 1.7 0 1 0 -3.4 0M1279.7 522.8a1.7 1.7 0 1 0 3.4 0a1.7 1.7 0 1 0 -3.4 0M1280.5 514.2a1.7 1.7 0 1 0 3.4 0a1.7 1.7 0 1 0 -3.4 0M1281.3 514.5a1.7 1.7 0 1 0 3.4 0a1.7 1.7 0 1 0 -3.4 0M1281.6 518.9a1.7 1.7 0 1 0 3.4 0a1.7 1.7 0 1 0 -3.4 0M1282.2 507.0a1.7 1.7 0 1 0 3.4 0a1.7 1.7 0 1 0 -3.4 0M1282.5 511.2a1.7 1.7 0 1 0 3.4 0a1.7 1.7 0 1 0 -3.4 0M1283.3 510.9a1.7 1.7 0 1 0 3.4 0a1.7 1.7 0 1 0 -3.4 0M1284.2 518.5a1.7 1.7 0 1 0 3.4 0a1.7 1.7 0 1 0 -3.4 0M1285.1 505.2a1.7 1.7 0 1 0 3.4 0a1.7 1.7 0 1 0 -3.4 0M1285.4 515.2a1.7 1.7 0 1 0 3.4 0a1.7 1.7 0 1 0 -3.4 0M1285.9 510.4a1.7 1.7 0 1 0 3.4 0a1.7 1.7 0 1 0 -3.4 0M1286.5 510.7a1.7 1.7 0 1 0 3.4 0a1.7 1.7 0 1 0 -3.4 0M1287.1 508.3a1.7 1.7 0 1 0 3.4 0a1.7 1.7 0 1 0 -3.4 0M1287.4 519.8a1.7 1.7 0 1 0 3.4 0a1.7 1.7 0 1 0 -3.4 0M1288.3 505.0a1.7 1.7 0 1 0 3.4 0a1.7 1.7 0 1 0 -3.4 0M1288.7 502.3a1.7 1.7 0 1 0 3.4 0a1.7 1.7 0 1 0 -3.4 0M1289.3 511.1a1.7 1.7 0 1 0 3.4 0a1.7 1.7 0 1 0 -3.4 0M1289.7 504.9a1.7 1.7 0 1 0 3.4 0a1.7 1.7 0 1 0 -3.4 0M1290.3 511.4a1.7 1.7 0 1 0 3.4 0a1.7 1.7 0 1 0 -3.4 0M1290.6 507.2a1.7 1.7 0 1 0 3.4 0a1.7 1.7 0 1 0 -3.4 0M1291.0 507.5a1.7 1.7 0 1 0 3.4 0a1.7 1.7 0 1 0 -3.4 0M1291.6 507.0a1.7 1.7 0 1 0 3.4 0a1.7 1.7 0 1 0 -3.4 0M1292.0 493.7a1.7 1.7 0 1 0 3.4 0a1.7 1.7 0 1 0 -3.4 0M1292.8 490.8a1.7 1.7 0 1 0 3.4 0a1.7 1.7 0 1 0 -3.4 0M1293.2 519.4a1.7 1.7 0 1 0 3.4 0a1.7 1.7 0 1 0 -3.4 0M1293.8 494.9a1.7 1.7 0 1 0 3.4 0a1.7 1.7 0 1 0 -3.4 0M1294.1 507.9a1.7 1.7 0 1 0 3.4 0a1.7 1.7 0 1 0 -3.4 0M1294.5 494.3a1.7 1.7 0 1 0 3.4 0a1.7 1.7 0 1 0 -3.4 0M1295.0 501.9a1.7 1.7 0 1 0 3.4 0a1.7 1.7 0 1 0 -3.4 0M1295.7 499.7a1.7 1.7 0 1 0 3.4 0a1.7 1.7 0 1 0 -3.4 0M1296.2 513.9a1.7 1.7 0 1 0 3.4 0a1.7 1.7 0 1 0 -3.4 0M1297.1 499.6a1.7 1.7 0 1 0 3.4 0a1.7 1.7 0 1 0 -3.4 0M1297.4 488.1a1.7 1.7 0 1 0 3.4 0a1.7 1.7 0 1 0 -3.4 0M1298.3 489.1a1.7 1.7 0 1 0 3.4 0a1.7 1.7 0 1 0 -3.4 0M1298.6 504.0a1.7 1.7 0 1 0 3.4 0a1.7 1.7 0 1 0 -3.4 0M1299.5 508.9a1.7 1.7 0 1 0 3.4 0a1.7 1.7 0 1 0 -3.4 0M1300.2 517.8a1.7 1.7 0 1 0 3.4 0a1.7 1.7 0 1 0 -3.4 0M1300.7 517.8a1.7 1.7 0 1 0 3.4 0a1.7 1.7 0 1 0 -3.4 0M1301.4 489.1a1.7 1.7 0 1 0 3.4 0a1.7 1.7 0 1 0 -3.4 0M1302.2 500.4a1.7 1.7 0 1 0 3.4 0a1.7 1.7 0 1 0 -3.4 0M192.6 484.3a1.7 1.7 0 1 0 3.4 0a1.7 1.7 0 1 0 -3.4 0M190.4 489.3a1.7 1.7 0 1 0 3.4 0a1.7 1.7 0 1 0 -3.4 0M204.0 503.6a1.7 1.7 0 1 0 3.4 0a1.7 1.7 0 1 0 -3.4 0M203.7 515.3a1.7 1.7 0 1 0 3.4 0a1.7 1.7 0 1 0 -3.4 0M200.4 552.1a1.7 1.7 0 1 0 3.4 0a1.7 1.7 0 1 0 -3.4 0M208.7 555.4a1.7 1.7 0 1 0 3.4 0a1.7 1.7 0 1 0 -3.4 0M213.3 556.4a1.7 1.7 0 1 0 3.4 0a1.7 1.7 0 1 0 -3.4 0M221.6 551.4a1.7 1.7 0 1 0 3.4 0a1.7 1.7 0 1 0 -3.4 0M221.6 556.4a1.7 1.7 0 1 0 3.4 0a1.7 1.7 0 1 0 -3.4 0M222.6 560.3a1.7 1.7 0 1 0 3.4 0a1.7 1.7 0 1 0 -3.4 0M217.6 519.3a1.7 1.7 0 1 0 3.4 0a1.7 1.7 0 1 0 -3.4 0M249.0 485.0a1.7 1.7 0 1 0 3.4 0a1.7 1.7 0 1 0 -3.4 0M248.3 492.9a1.7 1.7 0 1 0 3.4 0a1.7 1.7 0 1 0 -3.4 0M229.7 476.4a1.7 1.7 0 1 0 3.4 0a1.7 1.7 0 1 0 -3.4 0M265.7 490.3a1.7 1.7 0 1 0 3.4 0a1.7 1.7 0 1 0 -3.4 0M274.7 497.1a1.7 1.7 0 1 0 3.4 0a1.7 1.7 0 1 0 -3.4 0M288.3 492.1a1.7 1.7 0 1 0 3.4 0a1.7 1.7 0 1 0 -3.4 0M296.6 486.0a1.7 1.7 0 1 0 3.4 0a1.7 1.7 0 1 0 -3.4 0M292.6 528.3a1.7 1.7 0 1 0 3.4 0a1.7 1.7 0 1 0 -3.4 0M317.6 534.3a1.7 1.7 0 1 0 3.4 0a1.7 1.7 0 1 0 -3.4 0M320.7 511.4a1.7 1.7 0 1 0 3.4 0a1.7 1.7 0 1 0 -3.4 0M324.0 566.4a1.7 1.7 0 1 0 3.4 0a1.7 1.7 0 1 0 -3.4 0M323.3 571.4a1.7 1.7 0 1 0 3.4 0a1.7 1.7 0 1 0 -3.4 0M325.4 577.9a1.7 1.7 0 1 0 3.4 0a1.7 1.7 0 1 0 -3.4 0M332.6 529.3a1.7 1.7 0 1 0 3.4 0a1.7 1.7 0 1 0 -3.4 0M334.7 536.4a1.7 1.7 0 1 0 3.4 0a1.7 1.7 0 1 0 -3.4 0M331.9 542.1a1.7 1.7 0 1 0 3.4 0a1.7 1.7 0 1 0 -3.4 0M330.9 565.0a1.7 1.7 0 1 0 3.4 0a1.7 1.7 0 1 0 -3.4 0M340.7 563.3a1.7 1.7 0 1 0 3.4 0a1.7 1.7 0 1 0 -3.4 0M347.9 564.3a1.7 1.7 0 1 0 3.4 0a1.7 1.7 0 1 0 -3.4 0M363.6 526.9a1.7 1.7 0 1 0 3.4 0a1.7 1.7 0 1 0 -3.4 0M369.7 520.7a1.7 1.7 0 1 0 3.4 0a1.7 1.7 0 1 0 -3.4 0M377.6 498.1a1.7 1.7 0 1 0 3.4 0a1.7 1.7 0 1 0 -3.4 0M378.7 502.6a1.7 1.7 0 1 0 3.4 0a1.7 1.7 0 1 0 -3.4 0M400.4 574.3a1.7 1.7 0 1 0 3.4 0a1.7 1.7 0 1 0 -3.4 0M408.6 569.3a1.7 1.7 0 1 0 3.4 0a1.7 1.7 0 1 0 -3.4 0M417.9 568.3a1.7 1.7 0 1 0 3.4 0a1.7 1.7 0 1 0 -3.4 0M417.9 577.1a1.7 1.7 0 1 0 3.4 0a1.7 1.7 0 1 0 -3.4 0M431.2 560.0a1.7 1.7 0 1 0 3.4 0a1.7 1.7 0 1 0 -3.4 0M448.6 534.3a1.7 1.7 0 1 0 3.4 0a1.7 1.7 0 1 0 -3.4 0M451.6 527.1a1.7 1.7 0 1 0 3.4 0a1.7 1.7 0 1 0 -3.4 0M484.7 536.4a1.7 1.7 0 1 0 3.4 0a1.7 1.7 0 1 0 -3.4 0M486.9 542.1a1.7 1.7 0 1 0 3.4 0a1.7 1.7 0 1 0 -3.4 0M479.3 567.0a1.7 1.7 0 1 0 3.4 0a1.7 1.7 0 1 0 -3.4 0M479.0 582.9a1.7 1.7 0 1 0 3.4 0a1.7 1.7 0 1 0 -3.4 0M513.7 556.4a1.7 1.7 0 1 0 3.4 0a1.7 1.7 0 1 0 -3.4 0M514.0 560.0a1.7 1.7 0 1 0 3.4 0a1.7 1.7 0 1 0 -3.4 0M524.7 561.4a1.7 1.7 0 1 0 3.4 0a1.7 1.7 0 1 0 -3.4 0M530.7 552.9a1.7 1.7 0 1 0 3.4 0a1.7 1.7 0 1 0 -3.4 0M531.9 559.3a1.7 1.7 0 1 0 3.4 0a1.7 1.7 0 1 0 -3.4 0M539.7 551.4a1.7 1.7 0 1 0 3.4 0a1.7 1.7 0 1 0 -3.4 0M537.6 497.1a1.7 1.7 0 1 0 3.4 0a1.7 1.7 0 1 0 -3.4 0M550.7 491.4a1.7 1.7 0 1 0 3.4 0a1.7 1.7 0 1 0 -3.4 0M547.7 495.4a1.7 1.7 0 1 0 3.4 0a1.7 1.7 0 1 0 -3.4 0M559.7 488.3a1.7 1.7 0 1 0 3.4 0a1.7 1.7 0 1 0 -3.4 0M601.2 552.9a1.7 1.7 0 1 0 3.4 0a1.7 1.7 0 1 0 -3.4 0M601.6 557.1a1.7 1.7 0 1 0 3.4 0a1.7 1.7 0 1 0 -3.4 0M613.3 554.3a1.7 1.7 0 1 0 3.4 0a1.7 1.7 0 1 0 -3.4 0M611.9 549.3a1.7 1.7 0 1 0 3.4 0a1.7 1.7 0 1 0 -3.4 0M619.7 552.1a1.7 1.7 0 1 0 3.4 0a1.7 1.7 0 1 0 -3.4 0M626.2 555.0a1.7 1.7 0 1 0 3.4 0a1.7 1.7 0 1 0 -3.4 0M632.6 552.9a1.7 1.7 0 1 0 3.4 0a1.7 1.7 0 1 0 -3.4 0M659.7 545.0a1.7 1.7 0 1 0 3.4 0a1.7 1.7 0 1 0 -3.4 0M665.4 548.6a1.7 1.7 0 1 0 3.4 0a1.7 1.7 0 1 0 -3.4 0M668.3 550.0a1.7 1.7 0 1 0 3.4 0a1.7 1.7 0 1 0 -3.4 0M672.6 548.6a1.7 1.7 0 1 0 3.4 0a1.7 1.7 0 1 0 -3.4 0M690.9 491.4a1.7 1.7 0 1 0 3.4 0a1.7 1.7 0 1 0 -3.4 0M698.7 498.3a1.7 1.7 0 1 0 3.4 0a1.7 1.7 0 1 0 -3.4 0M706.9 495.4a1.7 1.7 0 1 0 3.4 0a1.7 1.7 0 1 0 -3.4 0M718.7 494.3a1.7 1.7 0 1 0 3.4 0a1.7 1.7 0 1 0 -3.4 0M732.6 491.4a1.7 1.7 0 1 0 3.4 0a1.7 1.7 0 1 0 -3.4 0M734.7 494.3a1.7 1.7 0 1 0 3.4 0a1.7 1.7 0 1 0 -3.4 0M726.9 498.3a1.7 1.7 0 1 0 3.4 0a1.7 1.7 0 1 0 -3.4 0M698.7 574.3a1.7 1.7 0 1 0 3.4 0a1.7 1.7 0 1 0 -3.4 0M763.3 485.0a1.7 1.7 0 1 0 3.4 0a1.7 1.7 0 1 0 -3.4 0M780.4 486.4a1.7 1.7 0 1 0 3.4 0a1.7 1.7 0 1 0 -3.4 0M787.6 488.3a1.7 1.7 0 1 0 3.4 0a1.7 1.7 0 1 0 -3.4 0M781.9 532.9a1.7 1.7 0 1 0 3.4 0a1.7 1.7 0 1 0 -3.4 0M783.3 528.3a1.7 1.7 0 1 0 3.4 0a1.7 1.7 0 1 0 -3.4 0M794.7 538.6a1.7 1.7 0 1 0 3.4 0a1.7 1.7 0 1 0 -3.4 0M806.2 529.3a1.7 1.7 0 1 0 3.4 0a1.7 1.7 0 1 0 -3.4 0M809.7 531.4a1.7 1.7 0 1 0 3.4 0a1.7 1.7 0 1 0 -3.4 0M817.6 492.1a1.7 1.7 0 1 0 3.4 0a1.7 1.7 0 1 0 -3.4 0M827.6 490.3a1.7 1.7 0 1 0 3.4 0a1.7 1.7 0 1 0 -3.4 0M826.6 495.4a1.7 1.7 0 1 0 3.4 0a1.7 1.7 0 1 0 -3.4 0M826.6 536.1a1.7 1.7 0 1 0 3.4 0a1.7 1.7 0 1 0 -3.4 0M836.9 540.3a1.7 1.7 0 1 0 3.4 0a1.7 1.7 0 1 0 -3.4 0M851.9 540.0a1.7 1.7 0 1 0 3.4 0a1.7 1.7 0 1 0 -3.4 0M852.6 496.4a1.7 1.7 0 1 0 3.4 0a1.7 1.7 0 1 0 -3.4 0M859.7 488.3a1.7 1.7 0 1 0 3.4 0a1.7 1.7 0 1 0 -3.4 0M864.7 487.4a1.7 1.7 0 1 0 3.4 0a1.7 1.7 0 1 0 -3.4 0M862.6 495.7a1.7 1.7 0 1 0 3.4 0a1.7 1.7 0 1 0 -3.4 0M872.6 538.6a1.7 1.7 0 1 0 3.4 0a1.7 1.7 0 1 0 -3.4 0M878.3 537.1a1.7 1.7 0 1 0 3.4 0a1.7 1.7 0 1 0 -3.4 0M882.6 537.1a1.7 1.7 0 1 0 3.4 0a1.7 1.7 0 1 0 -3.4 0M884.0 540.0a1.7 1.7 0 1 0 3.4 0a1.7 1.7 0 1 0 -3.4 0M882.6 530.0a1.7 1.7 0 1 0 3.4 0a1.7 1.7 0 1 0 -3.4 0M884.0 535.4a1.7 1.7 0 1 0 3.4 0a1.7 1.7 0 1 0 -3.4 0M893.7 528.3a1.7 1.7 0 1 0 3.4 0a1.7 1.7 0 1 0 -3.4 0M897.6 527.1a1.7 1.7 0 1 0 3.4 0a1.7 1.7 0 1 0 -3.4 0M896.9 492.1a1.7 1.7 0 1 0 3.4 0a1.7 1.7 0 1 0 -3.4 0M918.6 461.1a1.7 1.7 0 1 0 3.4 0a1.7 1.7 0 1 0 -3.4 0M921.9 504.3a1.7 1.7 0 1 0 3.4 0a1.7 1.7 0 1 0 -3.4 0M935.7 496.4a1.7 1.7 0 1 0 3.4 0a1.7 1.7 0 1 0 -3.4 0M938.3 530.7a1.7 1.7 0 1 0 3.4 0a1.7 1.7 0 1 0 -3.4 0M937.7 534.3a1.7 1.7 0 1 0 3.4 0a1.7 1.7 0 1 0 -3.4 0M885.7 573.4a1.7 1.7 0 1 0 3.4 0a1.7 1.7 0 1 0 -3.4 0M955.4 532.1a1.7 1.7 0 1 0 3.4 0a1.7 1.7 0 1 0 -3.4 0M968.7 577.1a1.7 1.7 0 1 0 3.4 0a1.7 1.7 0 1 0 -3.4 0M991.9 558.3a1.7 1.7 0 1 0 3.4 0a1.7 1.7 0 1 0 -3.4 0M994.3 515.7a1.7 1.7 0 1 0 3.4 0a1.7 1.7 0 1 0 -3.4 0M1001.9 480.3a1.7 1.7 0 1 0 3.4 0a1.7 1.7 0 1 0 -3.4 0M1008.7 467.1a1.7 1.7 0 1 0 3.4 0a1.7 1.7 0 1 0 -3.4 0M1026.9 515.0a1.7 1.7 0 1 0 3.4 0a1.7 1.7 0 1 0 -3.4 0M1026.6 542.1a1.7 1.7 0 1 0 3.4 0a1.7 1.7 0 1 0 -3.4 0M1050.9 571.4a1.7 1.7 0 1 0 3.4 0a1.7 1.7 0 1 0 -3.4 0M1058.7 565.0a1.7 1.7 0 1 0 3.4 0a1.7 1.7 0 1 0 -3.4 0M1100.7 458.3a1.7 1.7 0 1 0 3.4 0a1.7 1.7 0 1 0 -3.4 0M1088.3 504.6a1.7 1.7 0 1 0 3.4 0a1.7 1.7 0 1 0 -3.4 0M1082.6 499.4a1.7 1.7 0 1 0 3.4 0a1.7 1.7 0 1 0 -3.4 0M1121.9 514.4a1.7 1.7 0 1 0 3.4 0a1.7 1.7 0 1 0 -3.4 0M1128.3 514.4a1.7 1.7 0 1 0 3.4 0a1.7 1.7 0 1 0 -3.4 0M1146.2 527.9a1.7 1.7 0 1 0 3.4 0a1.7 1.7 0 1 0 -3.4 0M1164.7 467.1a1.7 1.7 0 1 0 3.4 0a1.7 1.7 0 1 0 -3.4 0M1170.7 473.1a1.7 1.7 0 1 0 3.4 0a1.7 1.7 0 1 0 -3.4 0M1164.0 475.7a1.7 1.7 0 1 0 3.4 0a1.7 1.7 0 1 0 -3.4 0M1194.7 534.3a1.7 1.7 0 1 0 3.4 0a1.7 1.7 0 1 0 -3.4 0M1198.3 530.0a1.7 1.7 0 1 0 3.4 0a1.7 1.7 0 1 0 -3.4 0M1194.7 492.9a1.7 1.7 0 1 0 3.4 0a1.7 1.7 0 1 0 -3.4 0M1207.6 497.1a1.7 1.7 0 1 0 3.4 0a1.7 1.7 0 1 0 -3.4 0M1219.7 492.1a1.7 1.7 0 1 0 3.4 0a1.7 1.7 0 1 0 -3.4 0M1230.4 475.0a1.7 1.7 0 1 0 3.4 0a1.7 1.7 0 1 0 -3.4 0M1230.4 497.1a1.7 1.7 0 1 0 3.4 0a1.7 1.7 0 1 0 -3.4 0M1230.9 475.4a1.7 1.7 0 1 0 3.4 0a1.7 1.7 0 1 0 -3.4 0M1241.9 475.4a1.7 1.7 0 1 0 3.4 0a1.7 1.7 0 1 0 -3.4 0M1242.9 514.3a1.7 1.7 0 1 0 3.4 0a1.7 1.7 0 1 0 -3.4 0M1256.6 460.3a1.7 1.7 0 1 0 3.4 0a1.7 1.7 0 1 0 -3.4 0M1251.6 466.4a1.7 1.7 0 1 0 3.4 0a1.7 1.7 0 1 0 -3.4 0M1255.7 473.0a1.7 1.7 0 1 0 3.4 0a1.7 1.7 0 1 0 -3.4 0M1265.4 480.0a1.7 1.7 0 1 0 3.4 0a1.7 1.7 0 1 0 -3.4 0M1274.7 495.4a1.7 1.7 0 1 0 3.4 0a1.7 1.7 0 1 0 -3.4 0M1265.9 515.4a1.7 1.7 0 1 0 3.4 0a1.7 1.7 0 1 0 -3.4 0M1278.3 527.1a1.7 1.7 0 1 0 3.4 0a1.7 1.7 0 1 0 -3.4 0M1286.6 525.7a1.7 1.7 0 1 0 3.4 0a1.7 1.7 0 1 0 -3.4 0M1290.7 551.4a1.7 1.7 0 1 0 3.4 0a1.7 1.7 0 1 0 -3.4 0M1297.6 487.4a1.7 1.7 0 1 0 3.4 0a1.7 1.7 0 1 0 -3.4 0" fill="#000" clip-path="url(#c2)"/>
<rect x="105.50" y="499.00" width="1255.40" height="48.60" fill="#ff0000" fill-opacity="0.1"/>
<rect x="162.40" y="499.00" width="1141.90" height="48.60" fill="#ffa500" fill-opacity="0.1"/>
<line x1="162.40" y1="525.00" x2="1304.30" y2="525.00" stroke="#ffa500" stroke-width="2.4" />
<line x1="105.50" y1="523.00" x2="1360.90" y2="523.00" stroke="#ff0000" stroke-width="2.08" />
<line x1="162.00" y1="381.70" x2="162.00" y2="666.50" stroke="#800080" stroke-width="2.08" stroke-dasharray="2.08 3.44"/>
<line x1="1303.00" y1="381.70" x2="1303.00" y2="666.50" stroke="#800080" stroke-width="2.08" stroke-dasharray="2.08 3.44"/>
<path d="M308.2 659.8L314.2 659.8L311.2 665.2Z" fill="#ffa500"/>
<path d="M974.6 659.8L980.6 659.8L977.6 665.2Z" fill="#ffa500"/>
<rect x="105.5" y="380.5" width="1380.0" height="286.0" fill="none" stroke="#000" stroke-width="1.11"/>
<line x1="100.64" y1="420.50" x2="105.50" y2="420.50" stroke="#000" stroke-width="1.11" />
<text x="64.50" y="426.10" style="font-size:14.717px;" textLength="30.47" lengthAdjust="spacingAndGlyphs" fill="#000" >9.00</text>
<line x1="100.64" y1="471.50" x2="105.50" y2="471.50" stroke="#000" stroke-width="1.11" />
<text x="64.63" y="476.37" style="font-size:14.717px;" textLength="30.09" lengthAdjust="spacingAndGlyphs" fill="#000" >8.95</text>
<line x1="100.64" y1="521.50" x2="105.50" y2="521.50" stroke="#000" stroke-width="1.11" />
<text x="64.62" y="526.64" style="font-size:14.717px;" textLength="30.35" lengthAdjust="spacingAndGlyphs" fill="#000" >8.90</text>
<line x1="100.64" y1="571.50" x2="105.50" y2="571.50" stroke="#000" stroke-width="1.11" />
<text x="64.63" y="576.91" style="font-size:14.717px;" textLength="30.09" lengthAdjust="spacingAndGlyphs" fill="#000" >8.85</text>
<line x1="100.64" y1="621.50" x2="105.50" y2="621.50" stroke="#000" stroke-width="1.11" />
<text x="64.62" y="627.18" style="font-size:14.717px;" textLength="30.35" lengthAdjust="spacingAndGlyphs" fill="#000" >8.80</text>
<line x1="162.50" y1="666.50" x2="162.50" y2="671.36" stroke="#000" stroke-width="1.11" />
<text x="158.33" y="687.00" style="font-size:14.717px;" textLength="8.14" lengthAdjust="spacingAndGlyphs" fill="#000" >0</text>
<line x1="387.50" y1="666.50" x2="387.50" y2="671.36" stroke="#000" stroke-width="1.11" />
<text x="375.04" y="687.00" style="font-size:14.717px;" textLength="25.74" lengthAdjust="spacingAndGlyphs" fill="#000" >500</text>
<line x1="613.50" y1="666.50" x2="613.50" y2="671.36" stroke="#000" stroke-width="1.11" />
<text x="595.94" y="687.00" style="font-size:14.717px;" textLength="34.70" lengthAdjust="spacingAndGlyphs" fill="#000" >1000</text>
<line x1="838.50" y1="666.50" x2="838.50" y2="671.36" stroke="#000" stroke-width="1.11" />
<text x="821.38" y="687.00" style="font-size:14.717px;" textLength="34.70" lengthAdjust="spacingAndGlyphs" fill="#000" >1500</text>
<line x1="1064.50" y1="666.50" x2="1064.50" y2="671.36" stroke="#000" stroke-width="1.11" />
<text x="1046.72" y="687.00" style="font-size:14.717px;" textLength="34.80" lengthAdjust="spacingAndGlyphs" fill="#000" >2000</text>
<line x1="1289.50" y1="666.50" x2="1289.50" y2="671.36" stroke="#000" stroke-width="1.11" />
<text x="1272.16" y="687.00" style="font-size:14.717px;" textLength="34.80" lengthAdjust="spacingAndGlyphs" fill="#000" >2500</text>
<text x="707.14" y="372.00" style="font-size:17.660px;" textLength="175.67" lengthAdjust="spacingAndGlyphs" fill="#000" >Magnitude Estimates</text>
<text x="709.57" y="657.00" style="font-size:14.717px;" textLength="43.29" lengthAdjust="spacingAndGlyphs" fill="#000" >30953</text>
<rect x="1365.40" y="387.30" width="113.20" height="48.00" rx="2.8" ry="2.8" fill="#fff" fill-opacity="0.8" stroke="#ccc" stroke-opacity="0.8" stroke-width="1.11"/>
<line x1="1368.90" y1="399.40" x2="1399.90" y2="399.40" stroke="#ffa500" stroke-width="3.2" />
<line x1="1368.90" y1="422.00" x2="1399.00" y2="422.00" stroke="#ff0000" stroke-width="2.3" />
<text x="1410.22" y="403.80" style="font-size:14.717px;" textLength="30.38" lengthAdjust="spacingAndGlyphs" fill="#000" >mag</text>
<text x="1440.46" y="406.00" style="font-size:11.047px;font-style:italic;" textLength="31.06" lengthAdjust="spacingAndGlyphs" fill="#000">OBSID</text>
<text x="1409.42" y="426.20" style="font-size:14.717px;" textLength="30.38" lengthAdjust="spacingAndGlyphs" fill="#000" >mag</text>
<rect x="1348.50" y="613.50" width="130.20" height="45.70" rx="2.8" ry="2.8" fill="#fff" fill-opacity="0.8" stroke="#ccc" stroke-opacity="0.8" stroke-width="1.11"/>
<circle cx="1367.5" cy="626.5" r="2.1" fill="#ffa500"/>
<circle cx="1367.5" cy="647.3" r="2.1" fill="#000"/>
<text x="1392.36" y="629.90" style="font-size:14.717px;" textLength="79.78" lengthAdjust="spacingAndGlyphs" fill="#000" >Highlighted</text>
<text x="1392.41" y="650.70" style="font-size:14.717px;" textLength="20.38" lengthAdjust="spacingAndGlyphs" fill="#000" >OK</text>
<rect x="161.40" y="762.00" width="27.50" height="3.00" fill="#000" />
<rect x="160.50" y="955.00" width="29.20" height="4.80" fill="#ff0000" />
<path d="M186.9 1000.6a1.5 1.5 0 1 0 3.0 0a1.5 1.5 0 1 0 -3.0 0M187.1 1002.3a1.5 1.5 0 1 0 3.0 0a1.5 1.5 0 1 0 -3.0 0M187.8 1003.2a1.5 1.5 0 1 0 3.0 0a1.5 1.5 0 1 0 -3.0 0M187.8 1004.0a1.5 1.5 0 1 0 3.0 0a1.5 1.5 0 1 0 -3.0 0M188.5 1004.7a1.5 1.5 0 1 0 3.0 0a1.5 1.5 0 1 0 -3.0 0M189.4 1006.4a1.5 1.5 0 1 0 3.0 0a1.5 1.5 0 1 0 -3.0 0M190.6 1005.8a1.5 1.5 0 1 0 3.0 0a1.5 1.5 0 1 0 -3.0 0M191.2 1004.9a1.5 1.5 0 1 0 3.0 0a1.5 1.5 0 1 0 -3.0 0M191.6 1003.8a1.5 1.5 0 1 0 3.0 0a1.5 1.5 0 1 0 -3.0 0M192.1 1003.3a1.5 1.5 0 1 0 3.0 0a1.5 1.5 0 1 0 -3.0 0M192.6 1002.0a1.5 1.5 0 1 0 3.0 0a1.5 1.5 0 1 0 -3.0 0M193.2 1001.3a1.5 1.5 0 1 0 3.0 0a1.5 1.5 0 1 0 -3.0 0M192.3 998.6a1.5 1.5 0 1 0 3.0 0a1.5 1.5 0 1 0 -3.0 0M192.7 998.0a1.5 1.5 0 1 0 3.0 0a1.5 1.5 0 1 0 -3.0 0M193.3 996.7a1.5 1.5 0 1 0 3.0 0a1.5 1.5 0 1 0 -3.0 0M194.1 995.8a1.5 1.5 0 1 0 3.0 0a1.5 1.5 0 1 0 -3.0 0M194.8 996.4a1.5 1.5 0 1 0 3.0 0a1.5 1.5 0 1 0 -3.0 0M195.7 996.9a1.5 1.5 0 1 0 3.0 0a1.5 1.5 0 1 0 -3.0 0M196.5 997.5a1.5 1.5 0 1 0 3.0 0a1.5 1.5 0 1 0 -3.0 0M197.2 997.5a1.5 1.5 0 1 0 3.0 0a1.5 1.5 0 1 0 -3.0 0M198.2 997.0a1.5 1.5 0 1 0 3.0 0a1.5 1.5 0 1 0 -3.0 0M199.5 996.7a1.5 1.5 0 1 0 3.0 0a1.5 1.5 0 1 0 -3.0 0M200.3 996.2a1.5 1.5 0 1 0 3.0 0a1.5 1.5 0 1 0 -3.0 0M201.4 996.2a1.5 1.5 0 1 0 3.0 0a1.5 1.5 0 1 0 -3.0 0M202.5 996.0a1.5 1.5 0 1 0 3.0 0a1.5 1.5 0 1 0 -3.0 0M204.1 1001.5a1.5 1.5 0 1 0 3.0 0a1.5 1.5 0 1 0 -3.0 0M204.4 1002.1a1.5 1.5 0 1 0 3.0 0a1.5 1.5 0 1 0 -3.0 0M205.7 1002.5a1.5 1.5 0 1 0 3.0 0a1.5 1.5 0 1 0 -3.0 0M206.2 1004.0a1.5 1.5 0 1 0 3.0 0a1.5 1.5 0 1 0 -3.0 0M206.7 1004.4a1.5 1.5 0 1 0 3.0 0a1.5 1.5 0 1 0 -3.0 0M207.4 1004.8a1.5 1.5 0 1 0 3.0 0a1.5 1.5 0 1 0 -3.0 0M208.3 1005.7a1.5 1.5 0 1 0 3.0 0a1.5 1.5 0 1 0 -3.0 0M208.9 1006.2a1.5 1.5 0 1 0 3.0 0a1.5 1.5 0 1 0 -3.0 0M209.8 1007.1a1.5 1.5 0 1 0 3.0 0a1.5 1.5 0 1 0 -3.0 0M210.2 1007.2a1.5 1.5 0 1 0 3.0 0a1.5 1.5 0 1 0 -3.0 0M210.9 1006.6a1.5 1.5 0 1 0 3.0 0a1.5 1.5 0 1 0 -3.0 0M211.7 1005.9a1.5 1.5 0 1 0 3.0 0a1.5 1.5 0 1 0 -3.0 0M212.2 1005.2a1.5 1.5 0 1 0 3.0 0a1.5 1.5 0 1 0 -3.0 0M212.4 1004.6a1.5 1.5 0 1 0 3.0 0a1.5 1.5 0 1 0 -3.0 0M212.8 1004.1a1.5 1.5 0 1 0 3.0 0a1.5 1.5 0 1 0 -3.0 0M213.7 1002.9a1.5 1.5 0 1 0 3.0 0a1.5 1.5 0 1 0 -3.0 0M214.1 1003.8a1.5 1.5 0 1 0 3.0 0a1.5 1.5 0 1 0 -3.0 0M215.2 1004.1a1.5 1.5 0 1 0 3.0 0a1.5 1.5 0 1 0 -3.0 0M215.5 1004.7a1.5 1.5 0 1 0 3.0 0a1.5 1.5 0 1 0 -3.0 0M216.2 1005.1a1.5 1.5 0 1 0 3.0 0a1.5 1.5 0 1 0 -3.0 0M217.2 1006.0a1.5 1.5 0 1 0 3.0 0a1.5 1.5 0 1 0 -3.0 0M217.9 1006.0a1.5 1.5 0 1 0 3.0 0a1.5 1.5 0 1 0 -3.0 0M218.8 1007.2a1.5 1.5 0 1 0 3.0 0a1.5 1.5 0 1 0 -3.0 0M219.0 1005.9a1.5 1.5 0 1 0 3.0 0a1.5 1.5 0 1 0 -3.0 0M219.6 1005.4a1.5 1.5 0 1 0 3.0 0a1.5 1.5 0 1 0 -3.0 0M220.1 1005.1a1.5 1.5 0 1 0 3.0 0a1.5 1.5 0 1 0 -3.0 0M220.7 1003.7a1.5 1.5 0 1 0 3.0 0a1.5 1.5 0 1 0 -3.0 0M221.2 1003.2a1.5 1.5 0 1 0 3.0 0a1.5 1.5 0 1 0 -3.0 0M221.7 1002.4a1.5 1.5 0 1 0 3.0 0a1.5 1.5 0 1 0 -3.0 0M222.0 1001.7a1.5 1.5 0 1 0 3.0 0a1.5 1.5 0 1 0 -3.0 0M222.3 1000.9a1.5 1.5 0 1 0 3.0 0a1.5 1.5 0 1 0 -3.0 0M223.6 1001.2a1.5 1.5 0 1 0 3.0 0a1.5 1.5 0 1 0 -3.0 0M224.3 1002.3a1.5 1.5 0 1 0 3.0 0a1.5 1.5 0 1 0 -3.0 0M225.6 1002.5a1.5 1.5 0 1 0 3.0 0a1.5 1.5 0 1 0 -3.0 0M226.3 1002.7a1.5 1.5 0 1 0 3.0 0a1.5 1.5 0 1 0 -3.0 0M226.9 1004.4a1.5 1.5 0 1 0 3.0 0a1.5 1.5 0 1 0 -3.0 0M227.5 1005.3a1.5 1.5 0 1 0 3.0 0a1.5 1.5 0 1 0 -3.0 0M227.8 1005.9a1.5 1.5 0 1 0 3.0 0a1.5 1.5 0 1 0 -3.0 0M228.5 1007.3a1.5 1.5 0 1 0 3.0 0a1.5 1.5 0 1 0 -3.0 0M228.6 1006.4a1.5 1.5 0 1 0 3.0 0a1.5 1.5 0 1 0 -3.0 0M229.1 1004.9a1.5 1.5 0 1 0 3.0 0a1.5 1.5 0 1 0 -3.0 0M229.3 1004.3a1.5 1.5 0 1 0 3.0 0a1.5 1.5 0 1 0 -3.0 0M229.7 1003.9a1.5 1.5 0 1 0 3.0 0a1.5 1.5 0 1 0 -3.0 0M229.9 1002.9a1.5 1.5 0 1 0 3.0 0a1.5 1.5 0 1 0 -3.0 0M230.1 1002.1a1.5 1.5 0 1 0 3.0 0a1.5 1.5 0 1 0 -3.0 0M230.3 1001.2a1.5 1.5 0 1 0 3.0 0a1.5 1.5 0 1 0 -3.0 0M230.6 1001.9a1.5 1.5 0 1 0 3.0 0a1.5 1.5 0 1 0 -3.0 0M230.9 1002.6a1.5 1.5 0 1 0 3.0 0a1.5 1.5 0 1 0 -3.0 0M231.2 1003.5a1.5 1.5 0 1 0 3.0 0a1.5 1.5 0 1 0 -3.0 0M231.7 1004.4a1.5 1.5 0 1 0 3.0 0a1.5 1.5 0 1 0 -3.0 0M231.9 1005.3a1.5 1.5 0 1 0 3.0 0a1.5 1.5 0 1 0 -3.0 0M232.4 1006.0a1.5 1.5 0 1 0 3.0 0a1.5 1.5 0 1 0 -3.0 0M232.5 1007.0a1.5 1.5 0 1 0 3.0 0a1.5 1.5 0 1 0 -3.0 0M233.6 1006.3a1.5 1.5 0 1 0 3.0 0a1.5 1.5 0 1 0 -3.0 0M234.2 1005.6a1.5 1.5 0 1 0 3.0 0a1.5 1.5 0 1 0 -3.0 0M234.8 1005.4a1.5 1.5 0 1 0 3.0 0a1.5 1.5 0 1 0 -3.0 0M235.7 1004.4a1.5 1.5 0 1 0 3.0 0a1.5 1.5 0 1 0 -3.0 0M236.2 1004.3a1.5 1.5 0 1 0 3.0 0a1.5 1.5 0 1 0 -3.0 0M236.7 1003.3a1.5 1.5 0 1 0 3.0 0a1.5 1.5 0 1 0 -3.0 0M237.0 1002.4a1.5 1.5 0 1 0 3.0 0a1.5 1.5 0 1 0 -3.0 0M237.4 1001.8a1.5 1.5 0 1 0 3.0 0a1.5 1.5 0 1 0 -3.0 0M237.9 1000.5a1.5 1.5 0 1 0 3.0 0a1.5 1.5 0 1 0 -3.0 0M237.9 999.5a1.5 1.5 0 1 0 3.0 0a1.5 1.5 0 1 0 -3.0 0M238.4 998.5a1.5 1.5 0 1 0 3.0 0a1.5 1.5 0 1 0 -3.0 0M238.4 998.3a1.5 1.5 0 1 0 3.0 0a1.5 1.5 0 1 0 -3.0 0M238.8 999.0a1.5 1.5 0 1 0 3.0 0a1.5 1.5 0 1 0 -3.0 0M239.7 999.6a1.5 1.5 0 1 0 3.0 0a1.5 1.5 0 1 0 -3.0 0M240.2 1000.1a1.5 1.5 0 1 0 3.0 0a1.5 1.5 0 1 0 -3.0 0M241.2 1001.4a1.5 1.5 0 1 0 3.0 0a1.5 1.5 0 1 0 -3.0 0M241.7 1001.7a1.5 1.5 0 1 0 3.0 0a1.5 1.5 0 1 0 -3.0 0M242.3 1002.6a1.5 1.5 0 1 0 3.0 0a1.5 1.5 0 1 0 -3.0 0M242.5 1003.6a1.5 1.5 0 1 0 3.0 0a1.5 1.5 0 1 0 -3.0 0M243.4 1004.1a1.5 1.5 0 1 0 3.0 0a1.5 1.5 0 1 0 -3.0 0M244.1 1005.3a1.5 1.5 0 1 0 3.0 0a1.5 1.5 0 1 0 -3.0 0M244.7 1006.3a1.5 1.5 0 1 0 3.0 0a1.5 1.5 0 1 0 -3.0 0M245.6 1005.4a1.5 1.5 0 1 0 3.0 0a1.5 1.5 0 1 0 -3.0 0M246.8 1005.2a1.5 1.5 0 1 0 3.0 0a1.5 1.5 0 1 0 -3.0 0M247.4 1004.8a1.5 1.5 0 1 0 3.0 0a1.5 1.5 0 1 0 -3.0 0M248.6 1003.8a1.5 1.5 0 1 0 3.0 0a1.5 1.5 0 1 0 -3.0 0M249.2 1003.9a1.5 1.5 0 1 0 3.0 0a1.5 1.5 0 1 0 -3.0 0M250.2 1004.4a1.5 1.5 0 1 0 3.0 0a1.5 1.5 0 1 0 -3.0 0M250.9 1004.7a1.5 1.5 0 1 0 3.0 0a1.5 1.5 0 1 0 -3.0 0M251.7 1005.1a1.5 1.5 0 1 0 3.0 0a1.5 1.5 0 1 0 -3.0 0M252.6 1005.3a1.5 1.5 0 1 0 3.0 0a1.5 1.5 0 1 0 -3.0 0M253.5 1005.7a1.5 1.5 0 1 0 3.0 0a1.5 1.5 0 1 0 -3.0 0M254.7 1005.7a1.5 1.5 0 1 0 3.0 0a1.5 1.5 0 1 0 -3.0 0M255.5 1005.7a1.5 1.5 0 1 0 3.0 0a1.5 1.5 0 1 0 -3.0 0M256.2 1004.8a1.5 1.5 0 1 0 3.0 0a1.5 1.5 0 1 0 -3.0 0M257.0 1004.2a1.5 1.5 0 1 0 3.0 0a1.5 1.5 0 1 0 -3.0 0M257.8 1003.9a1.5 1.5 0 1 0 3.0 0a1.5 1.5 0 1 0 -3.0 0M258.7 1002.8a1.5 1.5 0 1 0 3.0 0a1.5 1.5 0 1 0 -3.0 0M259.1 1002.9a1.5 1.5 0 1 0 3.0 0a1.5 1.5 0 1 0 -3.0 0M260.1 1002.4a1.5 1.5 0 1 0 3.0 0a1.5 1.5 0 1 0 -3.0 0M260.9 1001.7a1.5 1.5 0 1 0 3.0 0a1.5 1.5 0 1 0 -3.0 0M261.9 1001.5a1.5 1.5 0 1 0 3.0 0a1.5 1.5 0 1 0 -3.0 0M263.1 1000.9a1.5 1.5 0 1 0 3.0 0a1.5 1.5 0 1 0 -3.0 0M263.7 1000.3a1.5 1.5 0 1 0 3.0 0a1.5 1.5 0 1 0 -3.0 0M264.3 1000.4a1.5 1.5 0 1 0 3.0 0a1.5 1.5 0 1 0 -3.0 0M265.3 1000.9a1.5 1.5 0 1 0 3.0 0a1.5 1.5 0 1 0 -3.0 0M266.6 1000.7a1.5 1.5 0 1 0 3.0 0a1.5 1.5 0 1 0 -3.0 0M267.7 1001.2a1.5 1.5 0 1 0 3.0 0a1.5 1.5 0 1 0 -3.0 0M268.5 1001.7a1.5 1.5 0 1 0 3.0 0a1.5 1.5 0 1 0 -3.0 0M269.8 1002.1a1.5 1.5 0 1 0 3.0 0a1.5 1.5 0 1 0 -3.0 0M270.7 1002.2a1.5 1.5 0 1 0 3.0 0a1.5 1.5 0 1 0 -3.0 0M271.6 1002.4a1.5 1.5 0 1 0 3.0 0a1.5 1.5 0 1 0 -3.0 0M272.2 1003.1a1.5 1.5 0 1 0 3.0 0a1.5 1.5 0 1 0 -3.0 0M273.8 1003.4a1.5 1.5 0 1 0 3.0 0a1.5 1.5 0 1 0 -3.0 0M274.7 1003.7a1.5 1.5 0 1 0 3.0 0a1.5 1.5 0 1 0 -3.0 0M275.5 1003.4a1.5 1.5 0 1 0 3.0 0a1.5 1.5 0 1 0 -3.0 0M276.5 1003.7a1.5 1.5 0 1 0 3.0 0a1.5 1.5 0 1 0 -3.0 0M277.3 1004.4a1.5 1.5 0 1 0 3.0 0a1.5 1.5 0 1 0 -3.0 0M278.0 1004.8a1.5 1.5 0 1 0 3.0 0a1.5 1.5 0 1 0 -3.0 0M278.9 1005.4a1.5 1.5 0 1 0 3.0 0a1.5 1.5 0 1 0 -3.0 0M279.5 1005.7a1.5 1.5 0 1 0 3.0 0a1.5 1.5 0 1 0 -3.0 0M280.2 1006.5a1.5 1.5 0 1 0 3.0 0a1.5 1.5 0 1 0 -3.0 0M281.3 1007.0a1.5 1.5 0 1 0 3.0 0a1.5 1.5 0 1 0 -3.0 0M281.5 1007.3a1.5 1.5 0 1 0 3.0 0a1.5 1.5 0 1 0 -3.0 0M282.4 1008.2a1.5 1.5 0 1 0 3.0 0a1.5 1.5 0 1 0 -3.0 0M283.5 1007.8a1.5 1.5 0 1 0 3.0 0a1.5 1.5 0 1 0 -3.0 0M284.3 1007.1a1.5 1.5 0 1 0 3.0 0a1.5 1.5 0 1 0 -3.0 0M285.0 1006.5a1.5 1.5 0 1 0 3.0 0a1.5 1.5 0 1 0 -3.0 0M285.2 1005.5a1.5 1.5 0 1 0 3.0 0a1.5 1.5 0 1 0 -3.0 0M286.3 1005.0a1.5 1.5 0 1 0 3.0 0a1.5 1.5 0 1 0 -3.0 0M287.1 1004.3a1.5 1.5 0 1 0 3.0 0a1.5 1.5 0 1 0 -3.0 0M288.0 1003.3a1.5 1.5 0 1 0 3.0 0a1.5 1.5 0 1 0 -3.0 0M288.5 1003.4a1.5 1.5 0 1 0 3.0 0a1.5 1.5 0 1 0 -3.0 0M288.9 1003.4a1.5 1.5 0 1 0 3.0 0a1.5 1.5 0 1 0 -3.0 0M290.1 1004.8a1.5 1.5 0 1 0 3.0 0a1.5 1.5 0 1 0 -3.0 0M290.4 1004.8a1.5 1.5 0 1 0 3.0 0a1.5 1.5 0 1 0 -3.0 0M291.6 1006.0a1.5 1.5 0 1 0 3.0 0a1.5 1.5 0 1 0 -3.0 0M292.1 1006.6a1.5 1.5 0 1 0 3.0 0a1.5 1.5 0 1 0 -3.0 0M292.9 1007.5a1.5 1.5 0 1 0 3.0 0a1.5 1.5 0 1 0 -3.0 0M293.2 1007.7a1.5 1.5 0 1 0 3.0 0a1.5 1.5 0 1 0 -3.0 0M294.3 1007.6a1.5 1.5 0 1 0 3.0 0a1.5 1.5 0 1 0 -3.0 0M295.0 1006.4a1.5 1.5 0 1 0 3.0 0a1.5 1.5 0 1 0 -3.0 0M295.3 1005.6a1.5 1.5 0 1 0 3.0 0a1.5 1.5 0 1 0 -3.0 0M295.7 1005.2a1.5 1.5 0 1 0 3.0 0a1.5 1.5 0 1 0 -3.0 0M296.5 1004.3a1.5 1.5 0 1 0 3.0 0a1.5 1.5 0 1 0 -3.0 0M297.3 1003.4a1.5 1.5 0 1 0 3.0 0a1.5 1.5 0 1 0 -3.0 0M298.0 1002.7a1.5 1.5 0 1 0 3.0 0a1.5 1.5 0 1 0 -3.0 0M298.3 1002.3a1.5 1.5 0 1 0 3.0 0a1.5 1.5 0 1 0 -3.0 0M299.0 1002.4a1.5 1.5 0 1 0 3.0 0a1.5 1.5 0 1 0 -3.0 0M299.8 1003.4a1.5 1.5 0 1 0 3.0 0a1.5 1.5 0 1 0 -3.0 0M300.8 1004.0a1.5 1.5 0 1 0 3.0 0a1.5 1.5 0 1 0 -3.0 0M301.2 1005.0a1.5 1.5 0 1 0 3.0 0a1.5 1.5 0 1 0 -3.0 0M301.9 1005.6a1.5 1.5 0 1 0 3.0 0a1.5 1.5 0 1 0 -3.0 0M302.6 1006.6a1.5 1.5 0 1 0 3.0 0a1.5 1.5 0 1 0 -3.0 0M303.3 1006.8a1.5 1.5 0 1 0 3.0 0a1.5 1.5 0 1 0 -3.0 0M304.0 1006.1a1.5 1.5 0 1 0 3.0 0a1.5 1.5 0 1 0 -3.0 0M304.8 1005.7a1.5 1.5 0 1 0 3.0 0a1.5 1.5 0 1 0 -3.0 0M305.4 1004.9a1.5 1.5 0 1 0 3.0 0a1.5 1.5 0 1 0 -3.0 0M305.5 1004.4a1.5 1.5 0 1 0 3.0 0a1.5 1.5 0 1 0 -3.0 0M306.2 1003.2a1.5 1.5 0 1 0 3.0 0a1.5 1.5 0 1 0 -3.0 0M306.9 1003.1a1.5 1.5 0 1 0 3.0 0a1.5 1.5 0 1 0 -3.0 0M307.4 1001.9a1.5 1.5 0 1 0 3.0 0a1.5 1.5 0 1 0 -3.0 0M308.2 1003.4a1.5 1.5 0 1 0 3.0 0a1.5 1.5 0 1 0 -3.0 0M308.4 1003.7a1.5 1.5 0 1 0 3.0 0a1.5 1.5 0 1 0 -3.0 0M309.2 1005.2a1.5 1.5 0 1 0 3.0 0a1.5 1.5 0 1 0 -3.0 0M309.4 1006.2a1.5 1.5 0 1 0 3.0 0a1.5 1.5 0 1 0 -3.0 0M310.1 1005.2a1.5 1.5 0 1 0 3.0 0a1.5 1.5 0 1 0 -3.0 0M310.9 1004.9a1.5 1.5 0 1 0 3.0 0a1.5 1.5 0 1 0 -3.0 0M311.5 1004.3a1.5 1.5 0 1 0 3.0 0a1.5 1.5 0 1 0 -3.0 0M311.9 1003.3a1.5 1.5 0 1 0 3.0 0a1.5 1.5 0 1 0 -3.0 0M312.8 1002.3a1.5 1.5 0 1 0 3.0 0a1.5 1.5 0 1 0 -3.0 0M313.7 1001.7a1.5 1.5 0 1 0 3.0 0a1.5 1.5 0 1 0 -3.0 0M314.0 1001.6a1.5 1.5 0 1 0 3.0 0a1.5 1.5 0 1 0 -3.0 0M315.1 1001.0a1.5 1.5 0 1 0 3.0 0a1.5 1.5 0 1 0 -3.0 0M315.4 1000.3a1.5 1.5 0 1 0 3.0 0a1.5 1.5 0 1 0 -3.0 0M316.1 1000.7a1.5 1.5 0 1 0 3.0 0a1.5 1.5 0 1 0 -3.0 0M317.4 1000.8a1.5 1.5 0 1 0 3.0 0a1.5 1.5 0 1 0 -3.0 0M317.8 1001.6a1.5 1.5 0 1 0 3.0 0a1.5 1.5 0 1 0 -3.0 0M319.1 1002.2a1.5 1.5 0 1 0 3.0 0a1.5 1.5 0 1 0 -3.0 0M319.9 1002.5a1.5 1.5 0 1 0 3.0 0a1.5 1.5 0 1 0 -3.0 0M320.4 1002.7a1.5 1.5 0 1 0 3.0 0a1.5 1.5 0 1 0 -3.0 0M321.4 1003.4a1.5 1.5 0 1 0 3.0 0a1.5 1.5 0 1 0 -3.0 0M322.2 1002.7a1.5 1.5 0 1 0 3.0 0a1.5 1.5 0 1 0 -3.0 0M323.4 1002.6a1.5 1.5 0 1 0 3.0 0a1.5 1.5 0 1 0 -3.0 0M324.4 1002.7a1.5 1.5 0 1 0 3.0 0a1.5 1.5 0 1 0 -3.0 0M325.3 1003.0a1.5 1.5 0 1 0 3.0 0a1.5 1.5 0 1 0 -3.0 0M326.5 1003.1a1.5 1.5 0 1 0 3.0 0a1.5 1.5 0 1 0 -3.0 0M327.7 1003.0a1.5 1.5 0 1 0 3.0 0a1.5 1.5 0 1 0 -3.0 0M328.4 1001.8a1.5 1.5 0 1 0 3.0 0a1.5 1.5 0 1 0 -3.0 0M328.7 1001.0a1.5 1.5 0 1 0 3.0 0a1.5 1.5 0 1 0 -3.0 0M329.4 1000.7a1.5 1.5 0 1 0 3.0 0a1.5 1.5 0 1 0 -3.0 0M330.2 1001.5a1.5 1.5 0 1 0 3.0 0a1.5 1.5 0 1 0 -3.0 0M330.1 1002.4a1.5 1.5 0 1 0 3.0 0a1.5 1.5 0 1 0 -3.0 0M330.7 1003.3a1.5 1.5 0 1 0 3.0 0a1.5 1.5 0 1 0 -3.0 0M331.3 1004.9a1.5 1.5 0 1 0 3.0 0a1.5 1.5 0 1 0 -3.0 0M331.5 1005.6a1.5 1.5 0 1 0 3.0 0a1.5 1.5 0 1 0 -3.0 0M332.7 1005.0a1.5 1.5 0 1 0 3.0 0a1.5 1.5 0 1 0 -3.0 0M333.3 1004.9a1.5 1.5 0 1 0 3.0 0a1.5 1.5 0 1 0 -3.0 0M334.8 1003.6a1.5 1.5 0 1 0 3.0 0a1.5 1.5 0 1 0 -3.0 0M335.7 1003.4a1.5 1.5 0 1 0 3.0 0a1.5 1.5 0 1 0 -3.0 0M336.1 1002.9a1.5 1.5 0 1 0 3.0 0a1.5 1.5 0 1 0 -3.0 0M337.0 1003.0a1.5 1.5 0 1 0 3.0 0a1.5 1.5 0 1 0 -3.0 0M337.9 1002.0a1.5 1.5 0 1 0 3.0 0a1.5 1.5 0 1 0 -3.0 0M338.8 1002.3a1.5 1.5 0 1 0 3.0 0a1.5 1.5 0 1 0 -3.0 0M339.8 1001.8a1.5 1.5 0 1 0 3.0 0a1.5 1.5 0 1 0 -3.0 0M340.6 1001.1a1.5 1.5 0 1 0 3.0 0a1.5 1.5 0 1 0 -3.0 0M341.2 1000.8a1.5 1.5 0 1 0 3.0 0a1.5 1.5 0 1 0 -3.0 0M341.8 1001.6a1.5 1.5 0 1 0 3.0 0a1.5 1.5 0 1 0 -3.0 0M342.8 1002.4a1.5 1.5 0 1 0 3.0 0a1.5 1.5 0 1 0 -3.0 0M343.3 1003.3a1.5 1.5 0 1 0 3.0 0a1.5 1.5 0 1 0 -3.0 0M343.8 1003.9a1.5 1.5 0 1 0 3.0 0a1.5 1.5 0 1 0 -3.0 0M344.7 1004.8a1.5 1.5 0 1 0 3.0 0a1.5 1.5 0 1 0 -3.0 0M345.0 1005.5a1.5 1.5 0 1 0 3.0 0a1.5 1.5 0 1 0 -3.0 0M345.7 1006.1a1.5 1.5 0 1 0 3.0 0a1.5 1.5 0 1 0 -3.0 0M346.5 1006.8a1.5 1.5 0 1 0 3.0 0a1.5 1.5 0 1 0 -3.0 0M347.2 1008.0a1.5 1.5 0 1 0 3.0 0a1.5 1.5 0 1 0 -3.0 0M347.7 1008.2a1.5 1.5 0 1 0 3.0 0a1.5 1.5 0 1 0 -3.0 0M348.2 1008.3a1.5 1.5 0 1 0 3.0 0a1.5 1.5 0 1 0 -3.0 0M348.7 1007.0a1.5 1.5 0 1 0 3.0 0a1.5 1.5 0 1 0 -3.0 0M349.6 1006.5a1.5 1.5 0 1 0 3.0 0a1.5 1.5 0 1 0 -3.0 0M350.2 1005.8a1.5 1.5 0 1 0 3.0 0a1.5 1.5 0 1 0 -3.0 0M351.1 1005.3a1.5 1.5 0 1 0 3.0 0a1.5 1.5 0 1 0 -3.0 0M351.3 1005.0a1.5 1.5 0 1 0 3.0 0a1.5 1.5 0 1 0 -3.0 0M352.1 1004.3a1.5 1.5 0 1 0 3.0 0a1.5 1.5 0 1 0 -3.0 0M352.8 1004.0a1.5 1.5 0 1 0 3.0 0a1.5 1.5 0 1 0 -3.0 0M353.5 1002.9a1.5 1.5 0 1 0 3.0 0a1.5 1.5 0 1 0 -3.0 0M354.2 1003.0a1.5 1.5 0 1 0 3.0 0a1.5 1.5 0 1 0 -3.0 0M355.4 1003.1a1.5 1.5 0 1 0 3.0 0a1.5 1.5 0 1 0 -3.0 0M356.6 1003.0a1.5 1.5 0 1 0 3.0 0a1.5 1.5 0 1 0 -3.0 0M357.3 1003.0a1.5 1.5 0 1 0 3.0 0a1.5 1.5 0 1 0 -3.0 0M358.5 1003.1a1.5 1.5 0 1 0 3.0 0a1.5 1.5 0 1 0 -3.0 0M359.8 1002.8a1.5 1.5 0 1 0 3.0 0a1.5 1.5 0 1 0 -3.0 0M360.5 1002.3a1.5 1.5 0 1 0 3.0 0a1.5 1.5 0 1 0 -3.0 0M361.7 1002.0a1.5 1.5 0 1 0 3.0 0a1.5 1.5 0 1 0 -3.0 0M362.7 1002.1a1.5 1.5 0 1 0 3.0 0a1.5 1.5 0 1 0 -3.0 0M363.4 1001.8a1.5 1.5 0 1 0 3.0 0a1.5 1.5 0 1 0 -3.0 0M363.8 1002.4a1.5 1.5 0 1 0 3.0 0a1.5 1.5 0 1 0 -3.0 0M364.2 1003.7a1.5 1.5 0 1 0 3.0 0a1.5 1.5 0 1 0 -3.0 0M364.5 1004.2a1.5 1.5 0 1 0 3.0 0a1.5 1.5 0 1 0 -3.0 0M364.7 1005.4a1.5 1.5 0 1 0 3.0 0a1.5 1.5 0 1 0 -3.0 0M365.2 1006.0a1.5 1.5 0 1 0 3.0 0a1.5 1.5 0 1 0 -3.0 0M365.3 1006.8a1.5 1.5 0 1 0 3.0 0a1.5 1.5 0 1 0 -3.0 0M366.2 1006.5a1.5 1.5 0 1 0 3.0 0a1.5 1.5 0 1 0 -3.0 0M366.8 1005.8a1.5 1.5 0 1 0 3.0 0a1.5 1.5 0 1 0 -3.0 0M367.1 1005.0a1.5 1.5 0 1 0 3.0 0a1.5 1.5 0 1 0 -3.0 0M367.6 1004.2a1.5 1.5 0 1 0 3.0 0a1.5 1.5 0 1 0 -3.0 0M368.2 1003.0a1.5 1.5 0 1 0 3.0 0a1.5 1.5 0 1 0 -3.0 0M368.7 1002.3a1.5 1.5 0 1 0 3.0 0a1.5 1.5 0 1 0 -3.0 0M368.8 1002.1a1.5 1.5 0 1 0 3.0 0a1.5 1.5 0 1 0 -3.0 0M369.2 1001.0a1.5 1.5 0 1 0 3.0 0a1.5 1.5 0 1 0 -3.0 0M370.1 1001.9a1.5 1.5 0 1 0 3.0 0a1.5 1.5 0 1 0 -3.0 0M370.9 1002.7a1.5 1.5 0 1 0 3.0 0a1.5 1.5 0 1 0 -3.0 0M371.8 1003.1a1.5 1.5 0 1 0 3.0 0a1.5 1.5 0 1 0 -3.0 0M371.9 1003.8a1.5 1.5 0 1 0 3.0 0a1.5 1.5 0 1 0 -3.0 0M372.6 1004.7a1.5 1.5 0 1 0 3.0 0a1.5 1.5 0 1 0 -3.0 0M373.7 1004.9a1.5 1.5 0 1 0 3.0 0a1.5 1.5 0 1 0 -3.0 0M373.9 1004.4a1.5 1.5 0 1 0 3.0 0a1.5 1.5 0 1 0 -3.0 0M374.8 1003.8a1.5 1.5 0 1 0 3.0 0a1.5 1.5 0 1 0 -3.0 0M375.2 1002.4a1.5 1.5 0 1 0 3.0 0a1.5 1.5 0 1 0 -3.0 0M375.9 1001.5a1.5 1.5 0 1 0 3.0 0a1.5 1.5 0 1 0 -3.0 0M376.5 1001.3a1.5 1.5 0 1 0 3.0 0a1.5 1.5 0 1 0 -3.0 0M377.0 1000.6a1.5 1.5 0 1 0 3.0 0a1.5 1.5 0 1 0 -3.0 0M377.4 999.9a1.5 1.5 0 1 0 3.0 0a1.5 1.5 0 1 0 -3.0 0M378.0 998.8a1.5 1.5 0 1 0 3.0 0a1.5 1.5 0 1 0 -3.0 0M378.4 997.9a1.5 1.5 0 1 0 3.0 0a1.5 1.5 0 1 0 -3.0 0M378.7 998.6a1.5 1.5 0 1 0 3.0 0a1.5 1.5 0 1 0 -3.0 0M379.7 999.4a1.5 1.5 0 1 0 3.0 0a1.5 1.5 0 1 0 -3.0 0M380.1 1000.7a1.5 1.5 0 1 0 3.0 0a1.5 1.5 0 1 0 -3.0 0M380.6 1001.3a1.5 1.5 0 1 0 3.0 0a1.5 1.5 0 1 0 -3.0 0M380.9 1002.0a1.5 1.5 0 1 0 3.0 0a1.5 1.5 0 1 0 -3.0 0M381.3 1003.1a1.5 1.5 0 1 0 3.0 0a1.5 1.5 0 1 0 -3.0 0M382.6 1003.1a1.5 1.5 0 1 0 3.0 0a1.5 1.5 0 1 0 -3.0 0M383.4 1002.8a1.5 1.5 0 1 0 3.0 0a1.5 1.5 0 1 0 -3.0 0M384.7 1002.1a1.5 1.5 0 1 0 3.0 0a1.5 1.5 0 1 0 -3.0 0M385.8 1002.1a1.5 1.5 0 1 0 3.0 0a1.5 1.5 0 1 0 -3.0 0M386.3 1003.0a1.5 1.5 0 1 0 3.0 0a1.5 1.5 0 1 0 -3.0 0M386.4 1003.4a1.5 1.5 0 1 0 3.0 0a1.5 1.5 0 1 0 -3.0 0M387.0 1004.4a1.5 1.5 0 1 0 3.0 0a1.5 1.5 0 1 0 -3.0 0M387.2 1005.5a1.5 1.5 0 1 0 3.0 0a1.5 1.5 0 1 0 -3.0 0M388.0 1006.0a1.5 1.5 0 1 0 3.0 0a1.5 1.5 0 1 0 -3.0 0M388.6 1006.7a1.5 1.5 0 1 0 3.0 0a1.5 1.5 0 1 0 -3.0 0M388.8 1007.8a1.5 1.5 0 1 0 3.0 0a1.5 1.5 0 1 0 -3.0 0M389.3 1008.4a1.5 1.5 0 1 0 3.0 0a1.5 1.5 0 1 0 -3.0 0M389.7 1007.4a1.5 1.5 0 1 0 3.0 0a1.5 1.5 0 1 0 -3.0 0M390.4 1007.0a1.5 1.5 0 1 0 3.0 0a1.5 1.5 0 1 0 -3.0 0M391.3 1006.4a1.5 1.5 0 1 0 3.0 0a1.5 1.5 0 1 0 -3.0 0M391.4 1005.4a1.5 1.5 0 1 0 3.0 0a1.5 1.5 0 1 0 -3.0 0M391.8 1004.7a1.5 1.5 0 1 0 3.0 0a1.5 1.5 0 1 0 -3.0 0M392.8 1003.7a1.5 1.5 0 1 0 3.0 0a1.5 1.5 0 1 0 -3.0 0M393.0 1003.4a1.5 1.5 0 1 0 3.0 0a1.5 1.5 0 1 0 -3.0 0M393.7 1002.5a1.5 1.5 0 1 0 3.0 0a1.5 1.5 0 1 0 -3.0 0M394.1 1002.1a1.5 1.5 0 1 0 3.0 0a1.5 1.5 0 1 0 -3.0 0M394.7 1000.8a1.5 1.5 0 1 0 3.0 0a1.5 1.5 0 1 0 -3.0 0M394.7 1002.4a1.5 1.5 0 1 0 3.0 0a1.5 1.5 0 1 0 -3.0 0M394.8 1002.7a1.5 1.5 0 1 0 3.0 0a1.5 1.5 0 1 0 -3.0 0M395.1 1003.6a1.5 1.5 0 1 0 3.0 0a1.5 1.5 0 1 0 -3.0 0M394.9 1005.0a1.5 1.5 0 1 0 3.0 0a1.5 1.5 0 1 0 -3.0 0M395.1 1006.2a1.5 1.5 0 1 0 3.0 0a1.5 1.5 0 1 0 -3.0 0M395.5 1006.9a1.5 1.5 0 1 0 3.0 0a1.5 1.5 0 1 0 -3.0 0M395.7 1008.1a1.5 1.5 0 1 0 3.0 0a1.5 1.5 0 1 0 -3.0 0M396.3 1007.2a1.5 1.5 0 1 0 3.0 0a1.5 1.5 0 1 0 -3.0 0M396.7 1006.2a1.5 1.5 0 1 0 3.0 0a1.5 1.5 0 1 0 -3.0 0M397.4 1006.2a1.5 1.5 0 1 0 3.0 0a1.5 1.5 0 1 0 -3.0 0M398.3 1004.7a1.5 1.5 0 1 0 3.0 0a1.5 1.5 0 1 0 -3.0 0M398.4 1004.2a1.5 1.5 0 1 0 3.0 0a1.5 1.5 0 1 0 -3.0 0M399.4 1003.6a1.5 1.5 0 1 0 3.0 0a1.5 1.5 0 1 0 -3.0 0M399.7 1002.8a1.5 1.5 0 1 0 3.0 0a1.5 1.5 0 1 0 -3.0 0M400.6 1002.4a1.5 1.5 0 1 0 3.0 0a1.5 1.5 0 1 0 -3.0 0M401.2 1001.6a1.5 1.5 0 1 0 3.0 0a1.5 1.5 0 1 0 -3.0 0M402.0 1000.8a1.5 1.5 0 1 0 3.0 0a1.5 1.5 0 1 0 -3.0 0M402.2 1000.2a1.5 1.5 0 1 0 3.0 0a1.5 1.5 0 1 0 -3.0 0M402.9 1000.4a1.5 1.5 0 1 0 3.0 0a1.5 1.5 0 1 0 -3.0 0M403.7 1001.1a1.5 1.5 0 1 0 3.0 0a1.5 1.5 0 1 0 -3.0 0M404.0 1002.2a1.5 1.5 0 1 0 3.0 0a1.5 1.5 0 1 0 -3.0 0M404.9 1002.7a1.5 1.5 0 1 0 3.0 0a1.5 1.5 0 1 0 -3.0 0M405.8 1004.0a1.5 1.5 0 1 0 3.0 0a1.5 1.5 0 1 0 -3.0 0M406.1 1004.6a1.5 1.5 0 1 0 3.0 0a1.5 1.5 0 1 0 -3.0 0M406.6 1005.6a1.5 1.5 0 1 0 3.0 0a1.5 1.5 0 1 0 -3.0 0M407.1 1005.8a1.5 1.5 0 1 0 3.0 0a1.5 1.5 0 1 0 -3.0 0M407.7 1007.0a1.5 1.5 0 1 0 3.0 0a1.5 1.5 0 1 0 -3.0 0M408.5 1007.4a1.5 1.5 0 1 0 3.0 0a1.5 1.5 0 1 0 -3.0 0M409.2 1007.2a1.5 1.5 0 1 0 3.0 0a1.5 1.5 0 1 0 -3.0 0M409.8 1006.4a1.5 1.5 0 1 0 3.0 0a1.5 1.5 0 1 0 -3.0 0M410.8 1005.5a1.5 1.5 0 1 0 3.0 0a1.5 1.5 0 1 0 -3.0 0M411.3 1004.9a1.5 1.5 0 1 0 3.0 0a1.5 1.5 0 1 0 -3.0 0M412.0 1004.1a1.5 1.5 0 1 0 3.0 0a1.5 1.5 0 1 0 -3.0 0M412.9 1003.6a1.5 1.5 0 1 0 3.0 0a1.5 1.5 0 1 0 -3.0 0M413.4 1003.2a1.5 1.5 0 1 0 3.0 0a1.5 1.5 0 1 0 -3.0 0M414.2 1002.4a1.5 1.5 0 1 0 3.0 0a1.5 1.5 0 1 0 -3.0 0M415.2 1001.9a1.5 1.5 0 1 0 3.0 0a1.5 1.5 0 1 0 -3.0 0M415.6 1001.7a1.5 1.5 0 1 0 3.0 0a1.5 1.5 0 1 0 -3.0 0M416.7 1001.0a1.5 1.5 0 1 0 3.0 0a1.5 1.5 0 1 0 -3.0 0M417.1 1000.4a1.5 1.5 0 1 0 3.0 0a1.5 1.5 0 1 0 -3.0 0M418.0 999.6a1.5 1.5 0 1 0 3.0 0a1.5 1.5 0 1 0 -3.0 0M418.7 999.5a1.5 1.5 0 1 0 3.0 0a1.5 1.5 0 1 0 -3.0 0M419.4 998.8a1.5 1.5 0 1 0 3.0 0a1.5 1.5 0 1 0 -3.0 0M420.0 998.2a1.5 1.5 0 1 0 3.0 0a1.5 1.5 0 1 0 -3.0 0M420.6 997.8a1.5 1.5 0 1 0 3.0 0a1.5 1.5 0 1 0 -3.0 0M421.5 997.4a1.5 1.5 0 1 0 3.0 0a1.5 1.5 0 1 0 -3.0 0M422.1 998.0a1.5 1.5 0 1 0 3.0 0a1.5 1.5 0 1 0 -3.0 0M422.5 998.6a1.5 1.5 0 1 0 3.0 0a1.5 1.5 0 1 0 -3.0 0M423.7 999.3a1.5 1.5 0 1 0 3.0 0a1.5 1.5 0 1 0 -3.0 0M424.5 999.4a1.5 1.5 0 1 0 3.0 0a1.5 1.5 0 1 0 -3.0 0M425.2 1000.2a1.5 1.5 0 1 0 3.0 0a1.5 1.5 0 1 0 -3.0 0M426.0 1000.3a1.5 1.5 0 1 0 3.0 0a1.5 1.5 0 1 0 -3.0 0M426.8 1000.2a1.5 1.5 0 1 0 3.0 0a1.5 1.5 0 1 0 -3.0 0M428.1 1000.6a1.5 1.5 0 1 0 3.0 0a1.5 1.5 0 1 0 -3.0 0M428.8 1000.6a1.5 1.5 0 1 0 3.0 0a1.5 1.5 0 1 0 -3.0 0M429.8 1000.9a1.5 1.5 0 1 0 3.0 0a1.5 1.5 0 1 0 -3.0 0M430.8 1000.9a1.5 1.5 0 1 0 3.0 0a1.5 1.5 0 1 0 -3.0 0M431.4 1001.2a1.5 1.5 0 1 0 3.0 0a1.5 1.5 0 1 0 -3.0 0M432.3 1001.6a1.5 1.5 0 1 0 3.0 0a1.5 1.5 0 1 0 -3.0 0M433.3 1001.8a1.5 1.5 0 1 0 3.0 0a1.5 1.5 0 1 0 -3.0 0M434.0 1002.5a1.5 1.5 0 1 0 3.0 0a1.5 1.5 0 1 0 -3.0 0M434.7 1003.5a1.5 1.5 0 1 0 3.0 0a1.5 1.5 0 1 0 -3.0 0M435.2 1003.7a1.5 1.5 0 1 0 3.0 0a1.5 1.5 0 1 0 -3.0 0M436.1 1004.2a1.5 1.5 0 1 0 3.0 0a1.5 1.5 0 1 0 -3.0 0M436.7 1004.9a1.5 1.5 0 1 0 3.0 0a1.5 1.5 0 1 0 -3.0 0M437.9 1005.4a1.5 1.5 0 1 0 3.0 0a1.5 1.5 0 1 0 -3.0 0M438.3 1006.1a1.5 1.5 0 1 0 3.0 0a1.5 1.5 0 1 0 -3.0 0M439.1 1006.1a1.5 1.5 0 1 0 3.0 0a1.5 1.5 0 1 0 -3.0 0M440.0 1006.9a1.5 1.5 0 1 0 3.0 0a1.5 1.5 0 1 0 -3.0 0M440.7 1007.9a1.5 1.5 0 1 0 3.0 0a1.5 1.5 0 1 0 -3.0 0M441.5 1008.4a1.5 1.5 0 1 0 3.0 0a1.5 1.5 0 1 0 -3.0 0M441.9 1007.4a1.5 1.5 0 1 0 3.0 0a1.5 1.5 0 1 0 -3.0 0M442.2 1006.2a1.5 1.5 0 1 0 3.0 0a1.5 1.5 0 1 0 -3.0 0M443.1 1005.7a1.5 1.5 0 1 0 3.0 0a1.5 1.5 0 1 0 -3.0 0M443.7 1004.7a1.5 1.5 0 1 0 3.0 0a1.5 1.5 0 1 0 -3.0 0M443.9 1003.9a1.5 1.5 0 1 0 3.0 0a1.5 1.5 0 1 0 -3.0 0M444.5 1002.8a1.5 1.5 0 1 0 3.0 0a1.5 1.5 0 1 0 -3.0 0M444.9 1002.5a1.5 1.5 0 1 0 3.0 0a1.5 1.5 0 1 0 -3.0 0M445.3 1001.4a1.5 1.5 0 1 0 3.0 0a1.5 1.5 0 1 0 -3.0 0M446.2 1001.1a1.5 1.5 0 1 0 3.0 0a1.5 1.5 0 1 0 -3.0 0M446.3 999.7a1.5 1.5 0 1 0 3.0 0a1.5 1.5 0 1 0 -3.0 0M446.8 1000.5a1.5 1.5 0 1 0 3.0 0a1.5 1.5 0 1 0 -3.0 0M447.7 1001.9a1.5 1.5 0 1 0 3.0 0a1.5 1.5 0 1 0 -3.0 0M447.9 1002.5a1.5 1.5 0 1 0 3.0 0a1.5 1.5 0 1 0 -3.0 0M448.6 1003.0a1.5 1.5 0 1 0 3.0 0a1.5 1.5 0 1 0 -3.0 0M449.2 1004.5a1.5 1.5 0 1 0 3.0 0a1.5 1.5 0 1 0 -3.0 0M449.3 1005.3a1.5 1.5 0 1 0 3.0 0a1.5 1.5 0 1 0 -3.0 0M450.1 1005.8a1.5 1.5 0 1 0 3.0 0a1.5 1.5 0 1 0 -3.0 0M450.7 1006.6a1.5 1.5 0 1 0 3.0 0a1.5 1.5 0 1 0 -3.0 0M451.0 1007.5a1.5 1.5 0 1 0 3.0 0a1.5 1.5 0 1 0 -3.0 0M451.5 1008.8a1.5 1.5 0 1 0 3.0 0a1.5 1.5 0 1 0 -3.0 0M451.9 1007.7a1.5 1.5 0 1 0 3.0 0a1.5 1.5 0 1 0 -3.0 0M452.6 1006.6a1.5 1.5 0 1 0 3.0 0a1.5 1.5 0 1 0 -3.0 0M452.5 1006.0a1.5 1.5 0 1 0 3.0 0a1.5 1.5 0 1 0 -3.0 0M452.9 1005.5a1.5 1.5 0 1 0 3.0 0a1.5 1.5 0 1 0 -3.0 0M453.4 1004.2a1.5 1.5 0 1 0 3.0 0a1.5 1.5 0 1 0 -3.0 0M453.9 1003.7a1.5 1.5 0 1 0 3.0 0a1.5 1.5 0 1 0 -3.0 0M454.5 1002.7a1.5 1.5 0 1 0 3.0 0a1.5 1.5 0 1 0 -3.0 0M454.5 1001.6a1.5 1.5 0 1 0 3.0 0a1.5 1.5 0 1 0 -3.0 0M455.2 1000.6a1.5 1.5 0 1 0 3.0 0a1.5 1.5 0 1 0 -3.0 0M455.7 1000.3a1.5 1.5 0 1 0 3.0 0a1.5 1.5 0 1 0 -3.0 0M456.1 1000.5a1.5 1.5 0 1 0 3.0 0a1.5 1.5 0 1 0 -3.0 0M456.9 1001.4a1.5 1.5 0 1 0 3.0 0a1.5 1.5 0 1 0 -3.0 0M457.6 1002.0a1.5 1.5 0 1 0 3.0 0a1.5 1.5 0 1 0 -3.0 0M458.4 1002.7a1.5 1.5 0 1 0 3.0 0a1.5 1.5 0 1 0 -3.0 0M459.5 1003.1a1.5 1.5 0 1 0 3.0 0a1.5 1.5 0 1 0 -3.0 0M460.1 1003.1a1.5 1.5 0 1 0 3.0 0a1.5 1.5 0 1 0 -3.0 0M461.0 1004.4a1.5 1.5 0 1 0 3.0 0a1.5 1.5 0 1 0 -3.0 0M462.0 1004.8a1.5 1.5 0 1 0 3.0 0a1.5 1.5 0 1 0 -3.0 0M462.4 1004.7a1.5 1.5 0 1 0 3.0 0a1.5 1.5 0 1 0 -3.0 0M463.2 1005.7a1.5 1.5 0 1 0 3.0 0a1.5 1.5 0 1 0 -3.0 0M463.9 1004.6a1.5 1.5 0 1 0 3.0 0a1.5 1.5 0 1 0 -3.0 0M464.7 1004.2a1.5 1.5 0 1 0 3.0 0a1.5 1.5 0 1 0 -3.0 0M465.1 1003.3a1.5 1.5 0 1 0 3.0 0a1.5 1.5 0 1 0 -3.0 0M465.6 1002.7a1.5 1.5 0 1 0 3.0 0a1.5 1.5 0 1 0 -3.0 0M466.2 1001.8a1.5 1.5 0 1 0 3.0 0a1.5 1.5 0 1 0 -3.0 0M466.7 1001.0a1.5 1.5 0 1 0 3.0 0a1.5 1.5 0 1 0 -3.0 0M467.2 1000.1a1.5 1.5 0 1 0 3.0 0a1.5 1.5 0 1 0 -3.0 0M467.8 999.8a1.5 1.5 0 1 0 3.0 0a1.5 1.5 0 1 0 -3.0 0M468.4 998.7a1.5 1.5 0 1 0 3.0 0a1.5 1.5 0 1 0 -3.0 0M469.1 999.9a1.5 1.5 0 1 0 3.0 0a1.5 1.5 0 1 0 -3.0 0M469.3 1000.6a1.5 1.5 0 1 0 3.0 0a1.5 1.5 0 1 0 -3.0 0M469.9 1001.9a1.5 1.5 0 1 0 3.0 0a1.5 1.5 0 1 0 -3.0 0M470.2 1002.7a1.5 1.5 0 1 0 3.0 0a1.5 1.5 0 1 0 -3.0 0M470.6 1003.5a1.5 1.5 0 1 0 3.0 0a1.5 1.5 0 1 0 -3.0 0M470.8 1004.3a1.5 1.5 0 1 0 3.0 0a1.5 1.5 0 1 0 -3.0 0M471.3 1005.3a1.5 1.5 0 1 0 3.0 0a1.5 1.5 0 1 0 -3.0 0M471.7 1006.2a1.5 1.5 0 1 0 3.0 0a1.5 1.5 0 1 0 -3.0 0M472.3 1007.4a1.5 1.5 0 1 0 3.0 0a1.5 1.5 0 1 0 -3.0 0M472.3 1007.6a1.5 1.5 0 1 0 3.0 0a1.5 1.5 0 1 0 -3.0 0M473.0 1006.9a1.5 1.5 0 1 0 3.0 0a1.5 1.5 0 1 0 -3.0 0M473.9 1006.6a1.5 1.5 0 1 0 3.0 0a1.5 1.5 0 1 0 -3.0 0M474.2 1005.5a1.5 1.5 0 1 0 3.0 0a1.5 1.5 0 1 0 -3.0 0M475.2 1005.3a1.5 1.5 0 1 0 3.0 0a1.5 1.5 0 1 0 -3.0 0M475.7 1004.4a1.5 1.5 0 1 0 3.0 0a1.5 1.5 0 1 0 -3.0 0M476.4 1003.5a1.5 1.5 0 1 0 3.0 0a1.5 1.5 0 1 0 -3.0 0M476.8 1002.8a1.5 1.5 0 1 0 3.0 0a1.5 1.5 0 1 0 -3.0 0M477.7 1002.4a1.5 1.5 0 1 0 3.0 0a1.5 1.5 0 1 0 -3.0 0M478.5 1002.9a1.5 1.5 0 1 0 3.0 0a1.5 1.5 0 1 0 -3.0 0M478.8 1003.0a1.5 1.5 0 1 0 3.0 0a1.5 1.5 0 1 0 -3.0 0M480.2 1003.8a1.5 1.5 0 1 0 3.0 0a1.5 1.5 0 1 0 -3.0 0M480.7 1004.2a1.5 1.5 0 1 0 3.0 0a1.5 1.5 0 1 0 -3.0 0M481.7 1005.0a1.5 1.5 0 1 0 3.0 0a1.5 1.5 0 1 0 -3.0 0M482.7 1004.3a1.5 1.5 0 1 0 3.0 0a1.5 1.5 0 1 0 -3.0 0M483.6 1003.8a1.5 1.5 0 1 0 3.0 0a1.5 1.5 0 1 0 -3.0 0M484.0 1003.7a1.5 1.5 0 1 0 3.0 0a1.5 1.5 0 1 0 -3.0 0M485.2 1003.1a1.5 1.5 0 1 0 3.0 0a1.5 1.5 0 1 0 -3.0 0M486.0 1003.4a1.5 1.5 0 1 0 3.0 0a1.5 1.5 0 1 0 -3.0 0M486.9 1002.8a1.5 1.5 0 1 0 3.0 0a1.5 1.5 0 1 0 -3.0 0M487.9 1002.3a1.5 1.5 0 1 0 3.0 0a1.5 1.5 0 1 0 -3.0 0M488.5 1001.8a1.5 1.5 0 1 0 3.0 0a1.5 1.5 0 1 0 -3.0 0M489.8 1001.5a1.5 1.5 0 1 0 3.0 0a1.5 1.5 0 1 0 -3.0 0M490.3 1001.0a1.5 1.5 0 1 0 3.0 0a1.5 1.5 0 1 0 -3.0 0M491.0 1001.6a1.5 1.5 0 1 0 3.0 0a1.5 1.5 0 1 0 -3.0 0M491.5 1002.6a1.5 1.5 0 1 0 3.0 0a1.5 1.5 0 1 0 -3.0 0M491.7 1003.0a1.5 1.5 0 1 0 3.0 0a1.5 1.5 0 1 0 -3.0 0M492.6 1003.8a1.5 1.5 0 1 0 3.0 0a1.5 1.5 0 1 0 -3.0 0M493.0 1004.7a1.5 1.5 0 1 0 3.0 0a1.5 1.5 0 1 0 -3.0 0M493.9 1005.4a1.5 1.5 0 1 0 3.0 0a1.5 1.5 0 1 0 -3.0 0M494.8 1005.2a1.5 1.5 0 1 0 3.0 0a1.5 1.5 0 1 0 -3.0 0M495.6 1005.8a1.5 1.5 0 1 0 3.0 0a1.5 1.5 0 1 0 -3.0 0M496.4 1006.7a1.5 1.5 0 1 0 3.0 0a1.5 1.5 0 1 0 -3.0 0M497.2 1006.6a1.5 1.5 0 1 0 3.0 0a1.5 1.5 0 1 0 -3.0 0M497.5 1007.7a1.5 1.5 0 1 0 3.0 0a1.5 1.5 0 1 0 -3.0 0M498.3 1007.8a1.5 1.5 0 1 0 3.0 0a1.5 1.5 0 1 0 -3.0 0M499.1 1007.5a1.5 1.5 0 1 0 3.0 0a1.5 1.5 0 1 0 -3.0 0M500.3 1007.8a1.5 1.5 0 1 0 3.0 0a1.5 1.5 0 1 0 -3.0 0M501.1 1007.0a1.5 1.5 0 1 0 3.0 0a1.5 1.5 0 1 0 -3.0 0M502.3 1006.7a1.5 1.5 0 1 0 3.0 0a1.5 1.5 0 1 0 -3.0 0M503.1 1006.7a1.5 1.5 0 1 0 3.0 0a1.5 1.5 0 1 0 -3.0 0M504.2 1006.0a1.5 1.5 0 1 0 3.0 0a1.5 1.5 0 1 0 -3.0 0M504.9 1006.0a1.5 1.5 0 1 0 3.0 0a1.5 1.5 0 1 0 -3.0 0M506.0 1005.6a1.5 1.5 0 1 0 3.0 0a1.5 1.5 0 1 0 -3.0 0M506.8 1005.3a1.5 1.5 0 1 0 3.0 0a1.5 1.5 0 1 0 -3.0 0M507.6 1005.6a1.5 1.5 0 1 0 3.0 0a1.5 1.5 0 1 0 -3.0 0M508.3 1004.8a1.5 1.5 0 1 0 3.0 0a1.5 1.5 0 1 0 -3.0 0M509.8 1004.8a1.5 1.5 0 1 0 3.0 0a1.5 1.5 0 1 0 -3.0 0M510.2 1004.1a1.5 1.5 0 1 0 3.0 0a1.5 1.5 0 1 0 -3.0 0M511.3 1003.8a1.5 1.5 0 1 0 3.0 0a1.5 1.5 0 1 0 -3.0 0M512.0 1003.3a1.5 1.5 0 1 0 3.0 0a1.5 1.5 0 1 0 -3.0 0M512.3 1002.4a1.5 1.5 0 1 0 3.0 0a1.5 1.5 0 1 0 -3.0 0M512.3 1001.3a1.5 1.5 0 1 0 3.0 0a1.5 1.5 0 1 0 -3.0 0M512.6 1000.5a1.5 1.5 0 1 0 3.0 0a1.5 1.5 0 1 0 -3.0 0M512.9 1001.1a1.5 1.5 0 1 0 3.0 0a1.5 1.5 0 1 0 -3.0 0M513.8 1001.8a1.5 1.5 0 1 0 3.0 0a1.5 1.5 0 1 0 -3.0 0M514.2 1002.0a1.5 1.5 0 1 0 3.0 0a1.5 1.5 0 1 0 -3.0 0M515.5 1002.9a1.5 1.5 0 1 0 3.0 0a1.5 1.5 0 1 0 -3.0 0M515.7 1003.3a1.5 1.5 0 1 0 3.0 0a1.5 1.5 0 1 0 -3.0 0M516.6 1004.6a1.5 1.5 0 1 0 3.0 0a1.5 1.5 0 1 0 -3.0 0M517.0 1004.9a1.5 1.5 0 1 0 3.0 0a1.5 1.5 0 1 0 -3.0 0M517.8 1005.7a1.5 1.5 0 1 0 3.0 0a1.5 1.5 0 1 0 -3.0 0M518.5 1005.9a1.5 1.5 0 1 0 3.0 0a1.5 1.5 0 1 0 -3.0 0M519.0 1006.9a1.5 1.5 0 1 0 3.0 0a1.5 1.5 0 1 0 -3.0 0M519.6 1007.7a1.5 1.5 0 1 0 3.0 0a1.5 1.5 0 1 0 -3.0 0M520.2 1007.8a1.5 1.5 0 1 0 3.0 0a1.5 1.5 0 1 0 -3.0 0M521.2 1007.6a1.5 1.5 0 1 0 3.0 0a1.5 1.5 0 1 0 -3.0 0M522.0 1006.8a1.5 1.5 0 1 0 3.0 0a1.5 1.5 0 1 0 -3.0 0M522.8 1006.0a1.5 1.5 0 1 0 3.0 0a1.5 1.5 0 1 0 -3.0 0M523.1 1005.4a1.5 1.5 0 1 0 3.0 0a1.5 1.5 0 1 0 -3.0 0M523.9 1004.2a1.5 1.5 0 1 0 3.0 0a1.5 1.5 0 1 0 -3.0 0M524.5 1003.3a1.5 1.5 0 1 0 3.0 0a1.5 1.5 0 1 0 -3.0 0M525.7 1002.9a1.5 1.5 0 1 0 3.0 0a1.5 1.5 0 1 0 -3.0 0M526.1 1003.1a1.5 1.5 0 1 0 3.0 0a1.5 1.5 0 1 0 -3.0 0M527.4 1003.9a1.5 1.5 0 1 0 3.0 0a1.5 1.5 0 1 0 -3.0 0M528.2 1003.9a1.5 1.5 0 1 0 3.0 0a1.5 1.5 0 1 0 -3.0 0M528.6 1004.5a1.5 1.5 0 1 0 3.0 0a1.5 1.5 0 1 0 -3.0 0M529.5 1004.8a1.5 1.5 0 1 0 3.0 0a1.5 1.5 0 1 0 -3.0 0M530.3 1005.6a1.5 1.5 0 1 0 3.0 0a1.5 1.5 0 1 0 -3.0 0M530.8 1004.3a1.5 1.5 0 1 0 3.0 0a1.5 1.5 0 1 0 -3.0 0M531.5 1003.6a1.5 1.5 0 1 0 3.0 0a1.5 1.5 0 1 0 -3.0 0M531.8 1002.8a1.5 1.5 0 1 0 3.0 0a1.5 1.5 0 1 0 -3.0 0M532.5 1001.7a1.5 1.5 0 1 0 3.0 0a1.5 1.5 0 1 0 -3.0 0M533.0 1000.5a1.5 1.5 0 1 0 3.0 0a1.5 1.5 0 1 0 -3.0 0M533.6 999.8a1.5 1.5 0 1 0 3.0 0a1.5 1.5 0 1 0 -3.0 0M534.2 1000.1a1.5 1.5 0 1 0 3.0 0a1.5 1.5 0 1 0 -3.0 0M535.4 1001.1a1.5 1.5 0 1 0 3.0 0a1.5 1.5 0 1 0 -3.0 0M535.9 1001.5a1.5 1.5 0 1 0 3.0 0a1.5 1.5 0 1 0 -3.0 0M537.1 1001.7a1.5 1.5 0 1 0 3.0 0a1.5 1.5 0 1 0 -3.0 0M537.6 1002.7a1.5 1.5 0 1 0 3.0 0a1.5 1.5 0 1 0 -3.0 0M538.4 1003.2a1.5 1.5 0 1 0 3.0 0a1.5 1.5 0 1 0 -3.0 0M539.4 1002.0a1.5 1.5 0 1 0 3.0 0a1.5 1.5 0 1 0 -3.0 0M539.7 1001.5a1.5 1.5 0 1 0 3.0 0a1.5 1.5 0 1 0 -3.0 0M540.6 1001.2a1.5 1.5 0 1 0 3.0 0a1.5 1.5 0 1 0 -3.0 0M541.2 1002.1a1.5 1.5 0 1 0 3.0 0a1.5 1.5 0 1 0 -3.0 0M541.6 1002.4a1.5 1.5 0 1 0 3.0 0a1.5 1.5 0 1 0 -3.0 0M542.6 1003.5a1.5 1.5 0 1 0 3.0 0a1.5 1.5 0 1 0 -3.0 0M542.8 1004.4a1.5 1.5 0 1 0 3.0 0a1.5 1.5 0 1 0 -3.0 0M543.8 1005.0a1.5 1.5 0 1 0 3.0 0a1.5 1.5 0 1 0 -3.0 0M544.2 1005.6a1.5 1.5 0 1 0 3.0 0a1.5 1.5 0 1 0 -3.0 0M545.1 1006.6a1.5 1.5 0 1 0 3.0 0a1.5 1.5 0 1 0 -3.0 0M545.5 1007.3a1.5 1.5 0 1 0 3.0 0a1.5 1.5 0 1 0 -3.0 0M546.2 1006.4a1.5 1.5 0 1 0 3.0 0a1.5 1.5 0 1 0 -3.0 0M546.3 1005.6a1.5 1.5 0 1 0 3.0 0a1.5 1.5 0 1 0 -3.0 0M546.4 1004.3a1.5 1.5 0 1 0 3.0 0a1.5 1.5 0 1 0 -3.0 0M547.0 1003.2a1.5 1.5 0 1 0 3.0 0a1.5 1.5 0 1 0 -3.0 0M547.5 1002.3a1.5 1.5 0 1 0 3.0 0a1.5 1.5 0 1 0 -3.0 0M547.8 1001.6a1.5 1.5 0 1 0 3.0 0a1.5 1.5 0 1 0 -3.0 0M548.0 1001.0a1.5 1.5 0 1 0 3.0 0a1.5 1.5 0 1 0 -3.0 0M548.3 1000.0a1.5 1.5 0 1 0 3.0 0a1.5 1.5 0 1 0 -3.0 0M549.2 1001.2a1.5 1.5 0 1 0 3.0 0a1.5 1.5 0 1 0 -3.0 0M549.4 1001.6a1.5 1.5 0 1 0 3.0 0a1.5 1.5 0 1 0 -3.0 0M550.1 1002.3a1.5 1.5 0 1 0 3.0 0a1.5 1.5 0 1 0 -3.0 0M550.7 1003.2a1.5 1.5 0 1 0 3.0 0a1.5 1.5 0 1 0 -3.0 0M551.0 1004.1a1.5 1.5 0 1 0 3.0 0a1.5 1.5 0 1 0 -3.0 0M551.2 1004.7a1.5 1.5 0 1 0 3.0 0a1.5 1.5 0 1 0 -3.0 0M551.7 1005.8a1.5 1.5 0 1 0 3.0 0a1.5 1.5 0 1 0 -3.0 0M552.4 1007.2a1.5 1.5 0 1 0 3.0 0a1.5 1.5 0 1 0 -3.0 0M553.1 1007.3a1.5 1.5 0 1 0 3.0 0a1.5 1.5 0 1 0 -3.0 0M553.6 1008.3a1.5 1.5 0 1 0 3.0 0a1.5 1.5 0 1 0 -3.0 0M554.0 1007.9a1.5 1.5 0 1 0 3.0 0a1.5 1.5 0 1 0 -3.0 0M554.7 1007.3a1.5 1.5 0 1 0 3.0 0a1.5 1.5 0 1 0 -3.0 0M555.0 1006.1a1.5 1.5 0 1 0 3.0 0a1.5 1.5 0 1 0 -3.0 0M555.4 1005.3a1.5 1.5 0 1 0 3.0 0a1.5 1.5 0 1 0 -3.0 0M556.1 1004.7a1.5 1.5 0 1 0 3.0 0a1.5 1.5 0 1 0 -3.0 0M556.6 1003.7a1.5 1.5 0 1 0 3.0 0a1.5 1.5 0 1 0 -3.0 0M557.2 1003.6a1.5 1.5 0 1 0 3.0 0a1.5 1.5 0 1 0 -3.0 0M557.3 1002.6a1.5 1.5 0 1 0 3.0 0a1.5 1.5 0 1 0 -3.0 0M557.8 1001.4a1.5 1.5 0 1 0 3.0 0a1.5 1.5 0 1 0 -3.0 0M558.4 1000.7a1.5 1.5 0 1 0 3.0 0a1.5 1.5 0 1 0 -3.0 0M559.3 1001.7a1.5 1.5 0 1 0 3.0 0a1.5 1.5 0 1 0 -3.0 0M559.9 1002.7a1.5 1.5 0 1 0 3.0 0a1.5 1.5 0 1 0 -3.0 0M560.2 1002.7a1.5 1.5 0 1 0 3.0 0a1.5 1.5 0 1 0 -3.0 0M560.9 1003.6a1.5 1.5 0 1 0 3.0 0a1.5 1.5 0 1 0 -3.0 0M562.0 1004.5a1.5 1.5 0 1 0 3.0 0a1.5 1.5 0 1 0 -3.0 0M562.5 1005.3a1.5 1.5 0 1 0 3.0 0a1.5 1.5 0 1 0 -3.0 0M563.4 1004.7a1.5 1.5 0 1 0 3.0 0a1.5 1.5 0 1 0 -3.0 0M564.6 1004.6a1.5 1.5 0 1 0 3.0 0a1.5 1.5 0 1 0 -3.0 0M565.3 1004.6a1.5 1.5 0 1 0 3.0 0a1.5 1.5 0 1 0 -3.0 0M566.0 1004.0a1.5 1.5 0 1 0 3.0 0a1.5 1.5 0 1 0 -3.0 0M567.0 1003.5a1.5 1.5 0 1 0 3.0 0a1.5 1.5 0 1 0 -3.0 0M567.8 1003.4a1.5 1.5 0 1 0 3.0 0a1.5 1.5 0 1 0 -3.0 0M568.4 1002.2a1.5 1.5 0 1 0 3.0 0a1.5 1.5 0 1 0 -3.0 0M569.4 1002.1a1.5 1.5 0 1 0 3.0 0a1.5 1.5 0 1 0 -3.0 0M570.2 1001.3a1.5 1.5 0 1 0 3.0 0a1.5 1.5 0 1 0 -3.0 0M570.8 1000.9a1.5 1.5 0 1 0 3.0 0a1.5 1.5 0 1 0 -3.0 0M571.6 1000.4a1.5 1.5 0 1 0 3.0 0a1.5 1.5 0 1 0 -3.0 0M572.2 1000.5a1.5 1.5 0 1 0 3.0 0a1.5 1.5 0 1 0 -3.0 0M573.3 1000.5a1.5 1.5 0 1 0 3.0 0a1.5 1.5 0 1 0 -3.0 0M573.8 1000.7a1.5 1.5 0 1 0 3.0 0a1.5 1.5 0 1 0 -3.0 0M574.9 1001.1a1.5 1.5 0 1 0 3.0 0a1.5 1.5 0 1 0 -3.0 0M575.9 1001.3a1.5 1.5 0 1 0 3.0 0a1.5 1.5 0 1 0 -3.0 0M576.5 1001.2a1.5 1.5 0 1 0 3.0 0a1.5 1.5 0 1 0 -3.0 0M577.7 1001.9a1.5 1.5 0 1 0 3.0 0a1.5 1.5 0 1 0 -3.0 0M578.8 1002.2a1.5 1.5 0 1 0 3.0 0a1.5 1.5 0 1 0 -3.0 0M579.2 1001.5a1.5 1.5 0 1 0 3.0 0a1.5 1.5 0 1 0 -3.0 0M580.2 1001.4a1.5 1.5 0 1 0 3.0 0a1.5 1.5 0 1 0 -3.0 0M580.9 1001.1a1.5 1.5 0 1 0 3.0 0a1.5 1.5 0 1 0 -3.0 0M581.8 1000.3a1.5 1.5 0 1 0 3.0 0a1.5 1.5 0 1 0 -3.0 0M582.7 999.8a1.5 1.5 0 1 0 3.0 0a1.5 1.5 0 1 0 -3.0 0M583.8 999.1a1.5 1.5 0 1 0 3.0 0a1.5 1.5 0 1 0 -3.0 0M584.3 999.7a1.5 1.5 0 1 0 3.0 0a1.5 1.5 0 1 0 -3.0 0M585.2 1000.2a1.5 1.5 0 1 0 3.0 0a1.5 1.5 0 1 0 -3.0 0M585.7 1000.9a1.5 1.5 0 1 0 3.0 0a1.5 1.5 0 1 0 -3.0 0M586.8 1001.7a1.5 1.5 0 1 0 3.0 0a1.5 1.5 0 1 0 -3.0 0M587.6 1001.8a1.5 1.5 0 1 0 3.0 0a1.5 1.5 0 1 0 -3.0 0M588.3 1002.8a1.5 1.5 0 1 0 3.0 0a1.5 1.5 0 1 0 -3.0 0M589.1 1002.6a1.5 1.5 0 1 0 3.0 0a1.5 1.5 0 1 0 -3.0 0M590.3 1003.5a1.5 1.5 0 1 0 3.0 0a1.5 1.5 0 1 0 -3.0 0M590.6 1003.7a1.5 1.5 0 1 0 3.0 0a1.5 1.5 0 1 0 -3.0 0M591.9 1004.7a1.5 1.5 0 1 0 3.0 0a1.5 1.5 0 1 0 -3.0 0M592.2 1005.1a1.5 1.5 0 1 0 3.0 0a1.5 1.5 0 1 0 -3.0 0M592.9 1004.2a1.5 1.5 0 1 0 3.0 0a1.5 1.5 0 1 0 -3.0 0M593.7 1003.1a1.5 1.5 0 1 0 3.0 0a1.5 1.5 0 1 0 -3.0 0M594.5 1002.5a1.5 1.5 0 1 0 3.0 0a1.5 1.5 0 1 0 -3.0 0M594.6 1002.1a1.5 1.5 0 1 0 3.0 0a1.5 1.5 0 1 0 -3.0 0M595.1 1000.7a1.5 1.5 0 1 0 3.0 0a1.5 1.5 0 1 0 -3.0 0M596.0 1000.3a1.5 1.5 0 1 0 3.0 0a1.5 1.5 0 1 0 -3.0 0M596.7 999.7a1.5 1.5 0 1 0 3.0 0a1.5 1.5 0 1 0 -3.0 0M597.3 998.8a1.5 1.5 0 1 0 3.0 0a1.5 1.5 0 1 0 -3.0 0M598.6 998.7a1.5 1.5 0 1 0 3.0 0a1.5 1.5 0 1 0 -3.0 0M599.4 998.7a1.5 1.5 0 1 0 3.0 0a1.5 1.5 0 1 0 -3.0 0M600.3 998.1a1.5 1.5 0 1 0 3.0 0a1.5 1.5 0 1 0 -3.0 0M600.8 999.1a1.5 1.5 0 1 0 3.0 0a1.5 1.5 0 1 0 -3.0 0M601.8 999.6a1.5 1.5 0 1 0 3.0 0a1.5 1.5 0 1 0 -3.0 0M602.0 1000.4a1.5 1.5 0 1 0 3.0 0a1.5 1.5 0 1 0 -3.0 0M602.9 1001.2a1.5 1.5 0 1 0 3.0 0a1.5 1.5 0 1 0 -3.0 0M602.9 1001.7a1.5 1.5 0 1 0 3.0 0a1.5 1.5 0 1 0 -3.0 0M603.5 1002.4a1.5 1.5 0 1 0 3.0 0a1.5 1.5 0 1 0 -3.0 0M604.5 1003.4a1.5 1.5 0 1 0 3.0 0a1.5 1.5 0 1 0 -3.0 0M604.7 1003.9a1.5 1.5 0 1 0 3.0 0a1.5 1.5 0 1 0 -3.0 0M605.2 1004.3a1.5 1.5 0 1 0 3.0 0a1.5 1.5 0 1 0 -3.0 0M606.0 1005.5a1.5 1.5 0 1 0 3.0 0a1.5 1.5 0 1 0 -3.0 0M606.3 1006.0a1.5 1.5 0 1 0 3.0 0a1.5 1.5 0 1 0 -3.0 0M607.1 1007.0a1.5 1.5 0 1 0 3.0 0a1.5 1.5 0 1 0 -3.0 0M607.5 1007.2a1.5 1.5 0 1 0 3.0 0a1.5 1.5 0 1 0 -3.0 0M607.6 1006.3a1.5 1.5 0 1 0 3.0 0a1.5 1.5 0 1 0 -3.0 0M608.4 1005.7a1.5 1.5 0 1 0 3.0 0a1.5 1.5 0 1 0 -3.0 0M608.6 1004.6a1.5 1.5 0 1 0 3.0 0a1.5 1.5 0 1 0 -3.0 0M608.8 1003.6a1.5 1.5 0 1 0 3.0 0a1.5 1.5 0 1 0 -3.0 0M609.5 1003.0a1.5 1.5 0 1 0 3.0 0a1.5 1.5 0 1 0 -3.0 0M609.3 1002.2a1.5 1.5 0 1 0 3.0 0a1.5 1.5 0 1 0 -3.0 0M610.1 1002.8a1.5 1.5 0 1 0 3.0 0a1.5 1.5 0 1 0 -3.0 0M610.7 1003.6a1.5 1.5 0 1 0 3.0 0a1.5 1.5 0 1 0 -3.0 0M611.2 1004.6a1.5 1.5 0 1 0 3.0 0a1.5 1.5 0 1 0 -3.0 0M611.4 1005.1a1.5 1.5 0 1 0 3.0 0a1.5 1.5 0 1 0 -3.0 0M611.9 1005.7a1.5 1.5 0 1 0 3.0 0a1.5 1.5 0 1 0 -3.0 0M612.4 1006.6a1.5 1.5 0 1 0 3.0 0a1.5 1.5 0 1 0 -3.0 0M612.9 1007.1a1.5 1.5 0 1 0 3.0 0a1.5 1.5 0 1 0 -3.0 0M613.7 1008.2a1.5 1.5 0 1 0 3.0 0a1.5 1.5 0 1 0 -3.0 0M614.1 1007.5a1.5 1.5 0 1 0 3.0 0a1.5 1.5 0 1 0 -3.0 0M614.4 1006.6a1.5 1.5 0 1 0 3.0 0a1.5 1.5 0 1 0 -3.0 0M614.9 1005.6a1.5 1.5 0 1 0 3.0 0a1.5 1.5 0 1 0 -3.0 0M615.3 1005.2a1.5 1.5 0 1 0 3.0 0a1.5 1.5 0 1 0 -3.0 0M616.3 1004.1a1.5 1.5 0 1 0 3.0 0a1.5 1.5 0 1 0 -3.0 0M616.4 1003.2a1.5 1.5 0 1 0 3.0 0a1.5 1.5 0 1 0 -3.0 0M616.8 1002.9a1.5 1.5 0 1 0 3.0 0a1.5 1.5 0 1 0 -3.0 0M617.7 1001.7a1.5 1.5 0 1 0 3.0 0a1.5 1.5 0 1 0 -3.0 0M617.8 1003.1a1.5 1.5 0 1 0 3.0 0a1.5 1.5 0 1 0 -3.0 0M618.2 1004.2a1.5 1.5 0 1 0 3.0 0a1.5 1.5 0 1 0 -3.0 0M618.7 1004.8a1.5 1.5 0 1 0 3.0 0a1.5 1.5 0 1 0 -3.0 0M619.0 1005.5a1.5 1.5 0 1 0 3.0 0a1.5 1.5 0 1 0 -3.0 0M619.6 1006.5a1.5 1.5 0 1 0 3.0 0a1.5 1.5 0 1 0 -3.0 0M620.2 1007.2a1.5 1.5 0 1 0 3.0 0a1.5 1.5 0 1 0 -3.0 0M620.6 1008.7a1.5 1.5 0 1 0 3.0 0a1.5 1.5 0 1 0 -3.0 0M620.8 1007.4a1.5 1.5 0 1 0 3.0 0a1.5 1.5 0 1 0 -3.0 0M621.2 1006.5a1.5 1.5 0 1 0 3.0 0a1.5 1.5 0 1 0 -3.0 0M622.0 1006.1a1.5 1.5 0 1 0 3.0 0a1.5 1.5 0 1 0 -3.0 0M622.0 1005.1a1.5 1.5 0 1 0 3.0 0a1.5 1.5 0 1 0 -3.0 0M622.8 1004.2a1.5 1.5 0 1 0 3.0 0a1.5 1.5 0 1 0 -3.0 0M622.9 1003.4a1.5 1.5 0 1 0 3.0 0a1.5 1.5 0 1 0 -3.0 0M623.5 1003.0a1.5 1.5 0 1 0 3.0 0a1.5 1.5 0 1 0 -3.0 0M624.0 1002.2a1.5 1.5 0 1 0 3.0 0a1.5 1.5 0 1 0 -3.0 0M624.7 1001.1a1.5 1.5 0 1 0 3.0 0a1.5 1.5 0 1 0 -3.0 0M624.8 1002.0a1.5 1.5 0 1 0 3.0 0a1.5 1.5 0 1 0 -3.0 0M625.3 1002.5a1.5 1.5 0 1 0 3.0 0a1.5 1.5 0 1 0 -3.0 0M625.8 1002.9a1.5 1.5 0 1 0 3.0 0a1.5 1.5 0 1 0 -3.0 0M626.4 1003.7a1.5 1.5 0 1 0 3.0 0a1.5 1.5 0 1 0 -3.0 0M627.3 1004.8a1.5 1.5 0 1 0 3.0 0a1.5 1.5 0 1 0 -3.0 0M627.7 1005.9a1.5 1.5 0 1 0 3.0 0a1.5 1.5 0 1 0 -3.0 0M628.2 1006.4a1.5 1.5 0 1 0 3.0 0a1.5 1.5 0 1 0 -3.0 0M628.5 1007.2a1.5 1.5 0 1 0 3.0 0a1.5 1.5 0 1 0 -3.0 0M629.1 1007.5a1.5 1.5 0 1 0 3.0 0a1.5 1.5 0 1 0 -3.0 0M629.5 1008.4a1.5 1.5 0 1 0 3.0 0a1.5 1.5 0 1 0 -3.0 0M630.0 1007.9a1.5 1.5 0 1 0 3.0 0a1.5 1.5 0 1 0 -3.0 0M630.6 1007.1a1.5 1.5 0 1 0 3.0 0a1.5 1.5 0 1 0 -3.0 0M631.2 1006.5a1.5 1.5 0 1 0 3.0 0a1.5 1.5 0 1 0 -3.0 0M631.3 1005.2a1.5 1.5 0 1 0 3.0 0a1.5 1.5 0 1 0 -3.0 0M631.7 1004.5a1.5 1.5 0 1 0 3.0 0a1.5 1.5 0 1 0 -3.0 0M632.8 1003.8a1.5 1.5 0 1 0 3.0 0a1.5 1.5 0 1 0 -3.0 0M633.0 1003.2a1.5 1.5 0 1 0 3.0 0a1.5 1.5 0 1 0 -3.0 0M633.5 1002.3a1.5 1.5 0 1 0 3.0 0a1.5 1.5 0 1 0 -3.0 0M634.2 1001.6a1.5 1.5 0 1 0 3.0 0a1.5 1.5 0 1 0 -3.0 0M634.7 1001.2a1.5 1.5 0 1 0 3.0 0a1.5 1.5 0 1 0 -3.0 0M635.0 1001.7a1.5 1.5 0 1 0 3.0 0a1.5 1.5 0 1 0 -3.0 0M635.8 1002.6a1.5 1.5 0 1 0 3.0 0a1.5 1.5 0 1 0 -3.0 0M636.5 1002.7a1.5 1.5 0 1 0 3.0 0a1.5 1.5 0 1 0 -3.0 0M637.7 1003.6a1.5 1.5 0 1 0 3.0 0a1.5 1.5 0 1 0 -3.0 0M638.2 1002.6a1.5 1.5 0 1 0 3.0 0a1.5 1.5 0 1 0 -3.0 0M638.7 1001.7a1.5 1.5 0 1 0 3.0 0a1.5 1.5 0 1 0 -3.0 0M639.2 1000.9a1.5 1.5 0 1 0 3.0 0a1.5 1.5 0 1 0 -3.0 0M639.9 1000.0a1.5 1.5 0 1 0 3.0 0a1.5 1.5 0 1 0 -3.0 0M640.1 999.3a1.5 1.5 0 1 0 3.0 0a1.5 1.5 0 1 0 -3.0 0M640.9 998.8a1.5 1.5 0 1 0 3.0 0a1.5 1.5 0 1 0 -3.0 0M641.2 998.4a1.5 1.5 0 1 0 3.0 0a1.5 1.5 0 1 0 -3.0 0M642.7 998.2a1.5 1.5 0 1 0 3.0 0a1.5 1.5 0 1 0 -3.0 0M643.3 998.9a1.5 1.5 0 1 0 3.0 0a1.5 1.5 0 1 0 -3.0 0M644.8 998.6a1.5 1.5 0 1 0 3.0 0a1.5 1.5 0 1 0 -3.0 0M645.7 999.5a1.5 1.5 0 1 0 3.0 0a1.5 1.5 0 1 0 -3.0 0M646.8 999.3a1.5 1.5 0 1 0 3.0 0a1.5 1.5 0 1 0 -3.0 0M646.1 1000.2a1.5 1.5 0 1 0 3.0 0a1.5 1.5 0 1 0 -3.0 0M646.1 1001.7a1.5 1.5 0 1 0 3.0 0a1.5 1.5 0 1 0 -3.0 0M646.3 1002.3a1.5 1.5 0 1 0 3.0 0a1.5 1.5 0 1 0 -3.0 0M645.7 1003.1a1.5 1.5 0 1 0 3.0 0a1.5 1.5 0 1 0 -3.0 0M645.6 1004.3a1.5 1.5 0 1 0 3.0 0a1.5 1.5 0 1 0 -3.0 0M645.8 1005.3a1.5 1.5 0 1 0 3.0 0a1.5 1.5 0 1 0 -3.0 0M645.5 1006.0a1.5 1.5 0 1 0 3.0 0a1.5 1.5 0 1 0 -3.0 0M646.2 1006.5a1.5 1.5 0 1 0 3.0 0a1.5 1.5 0 1 0 -3.0 0M647.0 1007.4a1.5 1.5 0 1 0 3.0 0a1.5 1.5 0 1 0 -3.0 0M647.9 1007.7a1.5 1.5 0 1 0 3.0 0a1.5 1.5 0 1 0 -3.0 0M648.5 1008.2a1.5 1.5 0 1 0 3.0 0a1.5 1.5 0 1 0 -3.0 0M648.9 1007.7a1.5 1.5 0 1 0 3.0 0a1.5 1.5 0 1 0 -3.0 0M649.7 1006.8a1.5 1.5 0 1 0 3.0 0a1.5 1.5 0 1 0 -3.0 0M650.2 1006.4a1.5 1.5 0 1 0 3.0 0a1.5 1.5 0 1 0 -3.0 0M651.3 1006.0a1.5 1.5 0 1 0 3.0 0a1.5 1.5 0 1 0 -3.0 0M651.4 1004.9a1.5 1.5 0 1 0 3.0 0a1.5 1.5 0 1 0 -3.0 0M652.2 1004.3a1.5 1.5 0 1 0 3.0 0a1.5 1.5 0 1 0 -3.0 0M652.7 1003.8a1.5 1.5 0 1 0 3.0 0a1.5 1.5 0 1 0 -3.0 0M653.8 1003.0a1.5 1.5 0 1 0 3.0 0a1.5 1.5 0 1 0 -3.0 0M654.0 1002.0a1.5 1.5 0 1 0 3.0 0a1.5 1.5 0 1 0 -3.0 0M654.6 1001.9a1.5 1.5 0 1 0 3.0 0a1.5 1.5 0 1 0 -3.0 0M655.3 1001.2a1.5 1.5 0 1 0 3.0 0a1.5 1.5 0 1 0 -3.0 0M656.3 1001.4a1.5 1.5 0 1 0 3.0 0a1.5 1.5 0 1 0 -3.0 0M656.6 1002.2a1.5 1.5 0 1 0 3.0 0a1.5 1.5 0 1 0 -3.0 0M657.6 1003.2a1.5 1.5 0 1 0 3.0 0a1.5 1.5 0 1 0 -3.0 0M657.9 1003.7a1.5 1.5 0 1 0 3.0 0a1.5 1.5 0 1 0 -3.0 0M658.6 1004.4a1.5 1.5 0 1 0 3.0 0a1.5 1.5 0 1 0 -3.0 0M659.5 1004.9a1.5 1.5 0 1 0 3.0 0a1.5 1.5 0 1 0 -3.0 0M660.1 1006.1a1.5 1.5 0 1 0 3.0 0a1.5 1.5 0 1 0 -3.0 0M660.7 1006.8a1.5 1.5 0 1 0 3.0 0a1.5 1.5 0 1 0 -3.0 0M661.5 1006.9a1.5 1.5 0 1 0 3.0 0a1.5 1.5 0 1 0 -3.0 0M662.2 1007.6a1.5 1.5 0 1 0 3.0 0a1.5 1.5 0 1 0 -3.0 0M662.7 1008.2a1.5 1.5 0 1 0 3.0 0a1.5 1.5 0 1 0 -3.0 0M663.0 1007.7a1.5 1.5 0 1 0 3.0 0a1.5 1.5 0 1 0 -3.0 0M664.0 1007.2a1.5 1.5 0 1 0 3.0 0a1.5 1.5 0 1 0 -3.0 0M664.3 1006.6a1.5 1.5 0 1 0 3.0 0a1.5 1.5 0 1 0 -3.0 0M665.4 1005.6a1.5 1.5 0 1 0 3.0 0a1.5 1.5 0 1 0 -3.0 0M665.6 1004.7a1.5 1.5 0 1 0 3.0 0a1.5 1.5 0 1 0 -3.0 0M666.4 1004.1a1.5 1.5 0 1 0 3.0 0a1.5 1.5 0 1 0 -3.0 0M667.4 1003.5a1.5 1.5 0 1 0 3.0 0a1.5 1.5 0 1 0 -3.0 0M668.0 1002.4a1.5 1.5 0 1 0 3.0 0a1.5 1.5 0 1 0 -3.0 0M668.3 1002.2a1.5 1.5 0 1 0 3.0 0a1.5 1.5 0 1 0 -3.0 0M669.0 1002.5a1.5 1.5 0 1 0 3.0 0a1.5 1.5 0 1 0 -3.0 0M669.5 1003.0a1.5 1.5 0 1 0 3.0 0a1.5 1.5 0 1 0 -3.0 0M670.3 1004.1a1.5 1.5 0 1 0 3.0 0a1.5 1.5 0 1 0 -3.0 0M670.9 1004.8a1.5 1.5 0 1 0 3.0 0a1.5 1.5 0 1 0 -3.0 0M671.5 1005.1a1.5 1.5 0 1 0 3.0 0a1.5 1.5 0 1 0 -3.0 0M672.4 1006.0a1.5 1.5 0 1 0 3.0 0a1.5 1.5 0 1 0 -3.0 0M672.9 1006.7a1.5 1.5 0 1 0 3.0 0a1.5 1.5 0 1 0 -3.0 0M673.4 1007.1a1.5 1.5 0 1 0 3.0 0a1.5 1.5 0 1 0 -3.0 0M674.0 1006.6a1.5 1.5 0 1 0 3.0 0a1.5 1.5 0 1 0 -3.0 0M674.5 1005.6a1.5 1.5 0 1 0 3.0 0a1.5 1.5 0 1 0 -3.0 0M675.3 1004.9a1.5 1.5 0 1 0 3.0 0a1.5 1.5 0 1 0 -3.0 0M676.1 1004.4a1.5 1.5 0 1 0 3.0 0a1.5 1.5 0 1 0 -3.0 0M676.5 1003.8a1.5 1.5 0 1 0 3.0 0a1.5 1.5 0 1 0 -3.0 0M676.8 1002.7a1.5 1.5 0 1 0 3.0 0a1.5 1.5 0 1 0 -3.0 0M677.9 1002.3a1.5 1.5 0 1 0 3.0 0a1.5 1.5 0 1 0 -3.0 0M678.3 1001.4a1.5 1.5 0 1 0 3.0 0a1.5 1.5 0 1 0 -3.0 0M679.1 1000.8a1.5 1.5 0 1 0 3.0 0a1.5 1.5 0 1 0 -3.0 0M679.7 1000.3a1.5 1.5 0 1 0 3.0 0a1.5 1.5 0 1 0 -3.0 0M680.2 1000.9a1.5 1.5 0 1 0 3.0 0a1.5 1.5 0 1 0 -3.0 0M680.6 1001.5a1.5 1.5 0 1 0 3.0 0a1.5 1.5 0 1 0 -3.0 0M681.0 1002.3a1.5 1.5 0 1 0 3.0 0a1.5 1.5 0 1 0 -3.0 0M681.5 1003.3a1.5 1.5 0 1 0 3.0 0a1.5 1.5 0 1 0 -3.0 0M682.2 1003.4a1.5 1.5 0 1 0 3.0 0a1.5 1.5 0 1 0 -3.0 0M682.6 1004.6a1.5 1.5 0 1 0 3.0 0a1.5 1.5 0 1 0 -3.0 0M683.1 1005.6a1.5 1.5 0 1 0 3.0 0a1.5 1.5 0 1 0 -3.0 0M683.2 1006.0a1.5 1.5 0 1 0 3.0 0a1.5 1.5 0 1 0 -3.0 0M683.9 1007.1a1.5 1.5 0 1 0 3.0 0a1.5 1.5 0 1 0 -3.0 0M684.3 1007.5a1.5 1.5 0 1 0 3.0 0a1.5 1.5 0 1 0 -3.0 0M684.7 1006.9a1.5 1.5 0 1 0 3.0 0a1.5 1.5 0 1 0 -3.0 0M685.4 1006.1a1.5 1.5 0 1 0 3.0 0a1.5 1.5 0 1 0 -3.0 0M685.8 1005.4a1.5 1.5 0 1 0 3.0 0a1.5 1.5 0 1 0 -3.0 0M686.0 1004.0a1.5 1.5 0 1 0 3.0 0a1.5 1.5 0 1 0 -3.0 0M686.9 1003.8a1.5 1.5 0 1 0 3.0 0a1.5 1.5 0 1 0 -3.0 0M687.4 1002.5a1.5 1.5 0 1 0 3.0 0a1.5 1.5 0 1 0 -3.0 0M687.5 1002.0a1.5 1.5 0 1 0 3.0 0a1.5 1.5 0 1 0 -3.0 0M688.3 1000.7a1.5 1.5 0 1 0 3.0 0a1.5 1.5 0 1 0 -3.0 0M688.9 1000.3a1.5 1.5 0 1 0 3.0 0a1.5 1.5 0 1 0 -3.0 0M688.8 999.4a1.5 1.5 0 1 0 3.0 0a1.5 1.5 0 1 0 -3.0 0M689.5 998.3a1.5 1.5 0 1 0 3.0 0a1.5 1.5 0 1 0 -3.0 0M690.3 998.2a1.5 1.5 0 1 0 3.0 0a1.5 1.5 0 1 0 -3.0 0M690.3 997.0a1.5 1.5 0 1 0 3.0 0a1.5 1.5 0 1 0 -3.0 0M690.6 998.0a1.5 1.5 0 1 0 3.0 0a1.5 1.5 0 1 0 -3.0 0M690.7 998.6a1.5 1.5 0 1 0 3.0 0a1.5 1.5 0 1 0 -3.0 0M691.1 999.6a1.5 1.5 0 1 0 3.0 0a1.5 1.5 0 1 0 -3.0 0M691.4 1000.6a1.5 1.5 0 1 0 3.0 0a1.5 1.5 0 1 0 -3.0 0M691.9 1001.8a1.5 1.5 0 1 0 3.0 0a1.5 1.5 0 1 0 -3.0 0M692.1 1002.6a1.5 1.5 0 1 0 3.0 0a1.5 1.5 0 1 0 -3.0 0M691.9 1003.0a1.5 1.5 0 1 0 3.0 0a1.5 1.5 0 1 0 -3.0 0M692.3 1004.2a1.5 1.5 0 1 0 3.0 0a1.5 1.5 0 1 0 -3.0 0M692.6 1004.9a1.5 1.5 0 1 0 3.0 0a1.5 1.5 0 1 0 -3.0 0M693.5 1004.4a1.5 1.5 0 1 0 3.0 0a1.5 1.5 0 1 0 -3.0 0M693.7 1003.7a1.5 1.5 0 1 0 3.0 0a1.5 1.5 0 1 0 -3.0 0M694.6 1003.7a1.5 1.5 0 1 0 3.0 0a1.5 1.5 0 1 0 -3.0 0M695.7 1002.6a1.5 1.5 0 1 0 3.0 0a1.5 1.5 0 1 0 -3.0 0M696.1 1002.3a1.5 1.5 0 1 0 3.0 0a1.5 1.5 0 1 0 -3.0 0M697.2 1002.3a1.5 1.5 0 1 0 3.0 0a1.5 1.5 0 1 0 -3.0 0M697.6 1001.2a1.5 1.5 0 1 0 3.0 0a1.5 1.5 0 1 0 -3.0 0M698.8 1001.4a1.5 1.5 0 1 0 3.0 0a1.5 1.5 0 1 0 -3.0 0M699.2 1001.8a1.5 1.5 0 1 0 3.0 0a1.5 1.5 0 1 0 -3.0 0M699.8 1002.8a1.5 1.5 0 1 0 3.0 0a1.5 1.5 0 1 0 -3.0 0M700.3 1003.2a1.5 1.5 0 1 0 3.0 0a1.5 1.5 0 1 0 -3.0 0M700.9 1004.3a1.5 1.5 0 1 0 3.0 0a1.5 1.5 0 1 0 -3.0 0M701.4 1005.1a1.5 1.5 0 1 0 3.0 0a1.5 1.5 0 1 0 -3.0 0M702.1 1004.9a1.5 1.5 0 1 0 3.0 0a1.5 1.5 0 1 0 -3.0 0M703.0 1003.8a1.5 1.5 0 1 0 3.0 0a1.5 1.5 0 1 0 -3.0 0M704.3 1003.9a1.5 1.5 0 1 0 3.0 0a1.5 1.5 0 1 0 -3.0 0M705.1 1003.3a1.5 1.5 0 1 0 3.0 0a1.5 1.5 0 1 0 -3.0 0M705.9 1002.8a1.5 1.5 0 1 0 3.0 0a1.5 1.5 0 1 0 -3.0 0M706.5 1001.7a1.5 1.5 0 1 0 3.0 0a1.5 1.5 0 1 0 -3.0 0M707.4 1003.0a1.5 1.5 0 1 0 3.0 0a1.5 1.5 0 1 0 -3.0 0M708.2 1003.1a1.5 1.5 0 1 0 3.0 0a1.5 1.5 0 1 0 -3.0 0M708.5 1004.4a1.5 1.5 0 1 0 3.0 0a1.5 1.5 0 1 0 -3.0 0M709.5 1005.3a1.5 1.5 0 1 0 3.0 0a1.5 1.5 0 1 0 -3.0 0M710.8 1004.6a1.5 1.5 0 1 0 3.0 0a1.5 1.5 0 1 0 -3.0 0M711.6 1004.3a1.5 1.5 0 1 0 3.0 0a1.5 1.5 0 1 0 -3.0 0M712.6 1003.7a1.5 1.5 0 1 0 3.0 0a1.5 1.5 0 1 0 -3.0 0M713.6 1003.1a1.5 1.5 0 1 0 3.0 0a1.5 1.5 0 1 0 -3.0 0M714.7 1003.2a1.5 1.5 0 1 0 3.0 0a1.5 1.5 0 1 0 -3.0 0M715.3 1003.6a1.5 1.5 0 1 0 3.0 0a1.5 1.5 0 1 0 -3.0 0M715.7 1004.2a1.5 1.5 0 1 0 3.0 0a1.5 1.5 0 1 0 -3.0 0M716.6 1004.9a1.5 1.5 0 1 0 3.0 0a1.5 1.5 0 1 0 -3.0 0M716.9 1005.0a1.5 1.5 0 1 0 3.0 0a1.5 1.5 0 1 0 -3.0 0M717.8 1005.9a1.5 1.5 0 1 0 3.0 0a1.5 1.5 0 1 0 -3.0 0M718.3 1006.4a1.5 1.5 0 1 0 3.0 0a1.5 1.5 0 1 0 -3.0 0M719.1 1007.4a1.5 1.5 0 1 0 3.0 0a1.5 1.5 0 1 0 -3.0 0M720.1 1008.0a1.5 1.5 0 1 0 3.0 0a1.5 1.5 0 1 0 -3.0 0M720.2 1008.8a1.5 1.5 0 1 0 3.0 0a1.5 1.5 0 1 0 -3.0 0M721.4 1008.2a1.5 1.5 0 1 0 3.0 0a1.5 1.5 0 1 0 -3.0 0M722.3 1007.4a1.5 1.5 0 1 0 3.0 0a1.5 1.5 0 1 0 -3.0 0M723.0 1006.7a1.5 1.5 0 1 0 3.0 0a1.5 1.5 0 1 0 -3.0 0M724.0 1006.1a1.5 1.5 0 1 0 3.0 0a1.5 1.5 0 1 0 -3.0 0M724.9 1006.3a1.5 1.5 0 1 0 3.0 0a1.5 1.5 0 1 0 -3.0 0M725.7 1005.6a1.5 1.5 0 1 0 3.0 0a1.5 1.5 0 1 0 -3.0 0M726.7 1005.4a1.5 1.5 0 1 0 3.0 0a1.5 1.5 0 1 0 -3.0 0M727.5 1005.0a1.5 1.5 0 1 0 3.0 0a1.5 1.5 0 1 0 -3.0 0M728.2 1003.9a1.5 1.5 0 1 0 3.0 0a1.5 1.5 0 1 0 -3.0 0M729.1 1004.0a1.5 1.5 0 1 0 3.0 0a1.5 1.5 0 1 0 -3.0 0M730.1 1003.7a1.5 1.5 0 1 0 3.0 0a1.5 1.5 0 1 0 -3.0 0M730.7 1002.8a1.5 1.5 0 1 0 3.0 0a1.5 1.5 0 1 0 -3.0 0M731.8 1003.0a1.5 1.5 0 1 0 3.0 0a1.5 1.5 0 1 0 -3.0 0M732.8 1002.6a1.5 1.5 0 1 0 3.0 0a1.5 1.5 0 1 0 -3.0 0M733.7 1002.8a1.5 1.5 0 1 0 3.0 0a1.5 1.5 0 1 0 -3.0 0M734.8 1002.6a1.5 1.5 0 1 0 3.0 0a1.5 1.5 0 1 0 -3.0 0M735.7 1002.7a1.5 1.5 0 1 0 3.0 0a1.5 1.5 0 1 0 -3.0 0M736.2 1002.7a1.5 1.5 0 1 0 3.0 0a1.5 1.5 0 1 0 -3.0 0M737.4 1003.3a1.5 1.5 0 1 0 3.0 0a1.5 1.5 0 1 0 -3.0 0M738.4 1002.8a1.5 1.5 0 1 0 3.0 0a1.5 1.5 0 1 0 -3.0 0M739.4 1003.2a1.5 1.5 0 1 0 3.0 0a1.5 1.5 0 1 0 -3.0 0M739.9 1003.9a1.5 1.5 0 1 0 3.0 0a1.5 1.5 0 1 0 -3.0 0M740.5 1004.6a1.5 1.5 0 1 0 3.0 0a1.5 1.5 0 1 0 -3.0 0M741.5 1005.2a1.5 1.5 0 1 0 3.0 0a1.5 1.5 0 1 0 -3.0 0M742.2 1005.9a1.5 1.5 0 1 0 3.0 0a1.5 1.5 0 1 0 -3.0 0M742.8 1006.0a1.5 1.5 0 1 0 3.0 0a1.5 1.5 0 1 0 -3.0 0M743.6 1006.1a1.5 1.5 0 1 0 3.0 0a1.5 1.5 0 1 0 -3.0 0M744.4 1007.3a1.5 1.5 0 1 0 3.0 0a1.5 1.5 0 1 0 -3.0 0M745.4 1006.7a1.5 1.5 0 1 0 3.0 0a1.5 1.5 0 1 0 -3.0 0M746.5 1006.3a1.5 1.5 0 1 0 3.0 0a1.5 1.5 0 1 0 -3.0 0M747.5 1005.9a1.5 1.5 0 1 0 3.0 0a1.5 1.5 0 1 0 -3.0 0M748.4 1005.8a1.5 1.5 0 1 0 3.0 0a1.5 1.5 0 1 0 -3.0 0M749.4 1005.5a1.5 1.5 0 1 0 3.0 0a1.5 1.5 0 1 0 -3.0 0M750.0 1004.7a1.5 1.5 0 1 0 3.0 0a1.5 1.5 0 1 0 -3.0 0M750.7 1004.2a1.5 1.5 0 1 0 3.0 0a1.5 1.5 0 1 0 -3.0 0M750.9 1003.0a1.5 1.5 0 1 0 3.0 0a1.5 1.5 0 1 0 -3.0 0M752.0 1002.9a1.5 1.5 0 1 0 3.0 0a1.5 1.5 0 1 0 -3.0 0M752.8 1002.2a1.5 1.5 0 1 0 3.0 0a1.5 1.5 0 1 0 -3.0 0M753.0 1001.4a1.5 1.5 0 1 0 3.0 0a1.5 1.5 0 1 0 -3.0 0M753.9 1000.8a1.5 1.5 0 1 0 3.0 0a1.5 1.5 0 1 0 -3.0 0M754.3 1000.4a1.5 1.5 0 1 0 3.0 0a1.5 1.5 0 1 0 -3.0 0M755.2 1000.5a1.5 1.5 0 1 0 3.0 0a1.5 1.5 0 1 0 -3.0 0M756.1 1001.2a1.5 1.5 0 1 0 3.0 0a1.5 1.5 0 1 0 -3.0 0M756.2 1002.1a1.5 1.5 0 1 0 3.0 0a1.5 1.5 0 1 0 -3.0 0M757.0 1002.4a1.5 1.5 0 1 0 3.0 0a1.5 1.5 0 1 0 -3.0 0M757.7 1003.4a1.5 1.5 0 1 0 3.0 0a1.5 1.5 0 1 0 -3.0 0M758.4 1004.1a1.5 1.5 0 1 0 3.0 0a1.5 1.5 0 1 0 -3.0 0M759.4 1005.1a1.5 1.5 0 1 0 3.0 0a1.5 1.5 0 1 0 -3.0 0M760.1 1005.7a1.5 1.5 0 1 0 3.0 0a1.5 1.5 0 1 0 -3.0 0M760.4 1006.3a1.5 1.5 0 1 0 3.0 0a1.5 1.5 0 1 0 -3.0 0M760.9 1006.7a1.5 1.5 0 1 0 3.0 0a1.5 1.5 0 1 0 -3.0 0M761.6 1007.0a1.5 1.5 0 1 0 3.0 0a1.5 1.5 0 1 0 -3.0 0M762.8 1007.7a1.5 1.5 0 1 0 3.0 0a1.5 1.5 0 1 0 -3.0 0M763.3 1007.4a1.5 1.5 0 1 0 3.0 0a1.5 1.5 0 1 0 -3.0 0M763.6 1007.1a1.5 1.5 0 1 0 3.0 0a1.5 1.5 0 1 0 -3.0 0M764.4 1006.6a1.5 1.5 0 1 0 3.0 0a1.5 1.5 0 1 0 -3.0 0M765.5 1005.7a1.5 1.5 0 1 0 3.0 0a1.5 1.5 0 1 0 -3.0 0M766.0 1004.8a1.5 1.5 0 1 0 3.0 0a1.5 1.5 0 1 0 -3.0 0M766.9 1004.2a1.5 1.5 0 1 0 3.0 0a1.5 1.5 0 1 0 -3.0 0M767.5 1004.3a1.5 1.5 0 1 0 3.0 0a1.5 1.5 0 1 0 -3.0 0M768.3 1003.1a1.5 1.5 0 1 0 3.0 0a1.5 1.5 0 1 0 -3.0 0M769.1 1003.0a1.5 1.5 0 1 0 3.0 0a1.5 1.5 0 1 0 -3.0 0M769.5 1002.5a1.5 1.5 0 1 0 3.0 0a1.5 1.5 0 1 0 -3.0 0M770.4 1001.6a1.5 1.5 0 1 0 3.0 0a1.5 1.5 0 1 0 -3.0 0M771.1 1001.0a1.5 1.5 0 1 0 3.0 0a1.5 1.5 0 1 0 -3.0 0M771.7 1000.9a1.5 1.5 0 1 0 3.0 0a1.5 1.5 0 1 0 -3.0 0M772.4 1000.2a1.5 1.5 0 1 0 3.0 0a1.5 1.5 0 1 0 -3.0 0M772.9 1000.5a1.5 1.5 0 1 0 3.0 0a1.5 1.5 0 1 0 -3.0 0M773.2 1001.9a1.5 1.5 0 1 0 3.0 0a1.5 1.5 0 1 0 -3.0 0M774.2 1002.6a1.5 1.5 0 1 0 3.0 0a1.5 1.5 0 1 0 -3.0 0M774.6 1002.7a1.5 1.5 0 1 0 3.0 0a1.5 1.5 0 1 0 -3.0 0M774.8 1003.4a1.5 1.5 0 1 0 3.0 0a1.5 1.5 0 1 0 -3.0 0M775.6 1004.6a1.5 1.5 0 1 0 3.0 0a1.5 1.5 0 1 0 -3.0 0M776.3 1005.1a1.5 1.5 0 1 0 3.0 0a1.5 1.5 0 1 0 -3.0 0M776.3 1005.8a1.5 1.5 0 1 0 3.0 0a1.5 1.5 0 1 0 -3.0 0M776.8 1006.4a1.5 1.5 0 1 0 3.0 0a1.5 1.5 0 1 0 -3.0 0M777.5 1007.4a1.5 1.5 0 1 0 3.0 0a1.5 1.5 0 1 0 -3.0 0M777.8 1007.0a1.5 1.5 0 1 0 3.0 0a1.5 1.5 0 1 0 -3.0 0M778.1 1006.0a1.5 1.5 0 1 0 3.0 0a1.5 1.5 0 1 0 -3.0 0M778.5 1004.6a1.5 1.5 0 1 0 3.0 0a1.5 1.5 0 1 0 -3.0 0M778.6 1004.1a1.5 1.5 0 1 0 3.0 0a1.5 1.5 0 1 0 -3.0 0M779.4 1002.8a1.5 1.5 0 1 0 3.0 0a1.5 1.5 0 1 0 -3.0 0M779.6 1002.0a1.5 1.5 0 1 0 3.0 0a1.5 1.5 0 1 0 -3.0 0M779.9 1001.6a1.5 1.5 0 1 0 3.0 0a1.5 1.5 0 1 0 -3.0 0M780.3 1000.3a1.5 1.5 0 1 0 3.0 0a1.5 1.5 0 1 0 -3.0 0M780.3 1000.0a1.5 1.5 0 1 0 3.0 0a1.5 1.5 0 1 0 -3.0 0M781.1 999.1a1.5 1.5 0 1 0 3.0 0a1.5 1.5 0 1 0 -3.0 0M781.2 997.5a1.5 1.5 0 1 0 3.0 0a1.5 1.5 0 1 0 -3.0 0M781.4 997.3a1.5 1.5 0 1 0 3.0 0a1.5 1.5 0 1 0 -3.0 0M781.6 997.7a1.5 1.5 0 1 0 3.0 0a1.5 1.5 0 1 0 -3.0 0M782.0 999.0a1.5 1.5 0 1 0 3.0 0a1.5 1.5 0 1 0 -3.0 0M782.6 999.2a1.5 1.5 0 1 0 3.0 0a1.5 1.5 0 1 0 -3.0 0M783.0 1000.1a1.5 1.5 0 1 0 3.0 0a1.5 1.5 0 1 0 -3.0 0M783.4 1001.3a1.5 1.5 0 1 0 3.0 0a1.5 1.5 0 1 0 -3.0 0M783.9 1001.8a1.5 1.5 0 1 0 3.0 0a1.5 1.5 0 1 0 -3.0 0M784.2 1002.6a1.5 1.5 0 1 0 3.0 0a1.5 1.5 0 1 0 -3.0 0M784.5 1004.0a1.5 1.5 0 1 0 3.0 0a1.5 1.5 0 1 0 -3.0 0M784.8 1004.9a1.5 1.5 0 1 0 3.0 0a1.5 1.5 0 1 0 -3.0 0M785.2 1005.4a1.5 1.5 0 1 0 3.0 0a1.5 1.5 0 1 0 -3.0 0M785.9 1005.9a1.5 1.5 0 1 0 3.0 0a1.5 1.5 0 1 0 -3.0 0M786.1 1007.2a1.5 1.5 0 1 0 3.0 0a1.5 1.5 0 1 0 -3.0 0M786.6 1008.4a1.5 1.5 0 1 0 3.0 0a1.5 1.5 0 1 0 -3.0 0M787.1 1006.9a1.5 1.5 0 1 0 3.0 0a1.5 1.5 0 1 0 -3.0 0M787.3 1006.2a1.5 1.5 0 1 0 3.0 0a1.5 1.5 0 1 0 -3.0 0M787.9 1005.4a1.5 1.5 0 1 0 3.0 0a1.5 1.5 0 1 0 -3.0 0M788.3 1004.7a1.5 1.5 0 1 0 3.0 0a1.5 1.5 0 1 0 -3.0 0M788.9 1003.3a1.5 1.5 0 1 0 3.0 0a1.5 1.5 0 1 0 -3.0 0M789.3 1003.1a1.5 1.5 0 1 0 3.0 0a1.5 1.5 0 1 0 -3.0 0M790.2 1002.2a1.5 1.5 0 1 0 3.0 0a1.5 1.5 0 1 0 -3.0 0M790.4 1001.4a1.5 1.5 0 1 0 3.0 0a1.5 1.5 0 1 0 -3.0 0M790.7 1002.0a1.5 1.5 0 1 0 3.0 0a1.5 1.5 0 1 0 -3.0 0M791.7 1002.4a1.5 1.5 0 1 0 3.0 0a1.5 1.5 0 1 0 -3.0 0M791.5 1003.2a1.5 1.5 0 1 0 3.0 0a1.5 1.5 0 1 0 -3.0 0M792.0 1004.6a1.5 1.5 0 1 0 3.0 0a1.5 1.5 0 1 0 -3.0 0M792.8 1005.1a1.5 1.5 0 1 0 3.0 0a1.5 1.5 0 1 0 -3.0 0M792.9 1006.1a1.5 1.5 0 1 0 3.0 0a1.5 1.5 0 1 0 -3.0 0M793.4 1006.5a1.5 1.5 0 1 0 3.0 0a1.5 1.5 0 1 0 -3.0 0M794.1 1007.8a1.5 1.5 0 1 0 3.0 0a1.5 1.5 0 1 0 -3.0 0M794.7 1008.8a1.5 1.5 0 1 0 3.0 0a1.5 1.5 0 1 0 -3.0 0M794.9 1007.6a1.5 1.5 0 1 0 3.0 0a1.5 1.5 0 1 0 -3.0 0M795.5 1007.1a1.5 1.5 0 1 0 3.0 0a1.5 1.5 0 1 0 -3.0 0M796.0 1006.7a1.5 1.5 0 1 0 3.0 0a1.5 1.5 0 1 0 -3.0 0M796.9 1005.9a1.5 1.5 0 1 0 3.0 0a1.5 1.5 0 1 0 -3.0 0M797.4 1005.3a1.5 1.5 0 1 0 3.0 0a1.5 1.5 0 1 0 -3.0 0M798.2 1004.5a1.5 1.5 0 1 0 3.0 0a1.5 1.5 0 1 0 -3.0 0M798.8 1003.3a1.5 1.5 0 1 0 3.0 0a1.5 1.5 0 1 0 -3.0 0M799.1 1002.5a1.5 1.5 0 1 0 3.0 0a1.5 1.5 0 1 0 -3.0 0M799.9 1002.1a1.5 1.5 0 1 0 3.0 0a1.5 1.5 0 1 0 -3.0 0M800.6 1001.2a1.5 1.5 0 1 0 3.0 0a1.5 1.5 0 1 0 -3.0 0M800.9 1001.0a1.5 1.5 0 1 0 3.0 0a1.5 1.5 0 1 0 -3.0 0M801.8 1000.2a1.5 1.5 0 1 0 3.0 0a1.5 1.5 0 1 0 -3.0 0M802.5 999.8a1.5 1.5 0 1 0 3.0 0a1.5 1.5 0 1 0 -3.0 0M802.9 999.1a1.5 1.5 0 1 0 3.0 0a1.5 1.5 0 1 0 -3.0 0M803.5 998.6a1.5 1.5 0 1 0 3.0 0a1.5 1.5 0 1 0 -3.0 0M804.8 998.0a1.5 1.5 0 1 0 3.0 0a1.5 1.5 0 1 0 -3.0 0M804.8 998.8a1.5 1.5 0 1 0 3.0 0a1.5 1.5 0 1 0 -3.0 0M805.3 999.4a1.5 1.5 0 1 0 3.0 0a1.5 1.5 0 1 0 -3.0 0M805.9 1000.1a1.5 1.5 0 1 0 3.0 0a1.5 1.5 0 1 0 -3.0 0M806.8 1001.1a1.5 1.5 0 1 0 3.0 0a1.5 1.5 0 1 0 -3.0 0M807.4 1001.6a1.5 1.5 0 1 0 3.0 0a1.5 1.5 0 1 0 -3.0 0M807.7 1002.0a1.5 1.5 0 1 0 3.0 0a1.5 1.5 0 1 0 -3.0 0M808.4 1003.2a1.5 1.5 0 1 0 3.0 0a1.5 1.5 0 1 0 -3.0 0M808.8 1003.6a1.5 1.5 0 1 0 3.0 0a1.5 1.5 0 1 0 -3.0 0M809.3 1004.2a1.5 1.5 0 1 0 3.0 0a1.5 1.5 0 1 0 -3.0 0M809.7 1005.0a1.5 1.5 0 1 0 3.0 0a1.5 1.5 0 1 0 -3.0 0M810.4 1005.7a1.5 1.5 0 1 0 3.0 0a1.5 1.5 0 1 0 -3.0 0M811.2 1006.9a1.5 1.5 0 1 0 3.0 0a1.5 1.5 0 1 0 -3.0 0M811.7 1007.5a1.5 1.5 0 1 0 3.0 0a1.5 1.5 0 1 0 -3.0 0M812.1 1006.8a1.5 1.5 0 1 0 3.0 0a1.5 1.5 0 1 0 -3.0 0M813.3 1006.6a1.5 1.5 0 1 0 3.0 0a1.5 1.5 0 1 0 -3.0 0M813.9 1006.1a1.5 1.5 0 1 0 3.0 0a1.5 1.5 0 1 0 -3.0 0M814.3 1005.3a1.5 1.5 0 1 0 3.0 0a1.5 1.5 0 1 0 -3.0 0M815.3 1005.3a1.5 1.5 0 1 0 3.0 0a1.5 1.5 0 1 0 -3.0 0M816.4 1004.6a1.5 1.5 0 1 0 3.0 0a1.5 1.5 0 1 0 -3.0 0M816.8 1003.6a1.5 1.5 0 1 0 3.0 0a1.5 1.5 0 1 0 -3.0 0M817.8 1003.4a1.5 1.5 0 1 0 3.0 0a1.5 1.5 0 1 0 -3.0 0M818.8 1002.8a1.5 1.5 0 1 0 3.0 0a1.5 1.5 0 1 0 -3.0 0M818.3 1001.6a1.5 1.5 0 1 0 3.0 0a1.5 1.5 0 1 0 -3.0 0M818.2 1001.2a1.5 1.5 0 1 0 3.0 0a1.5 1.5 0 1 0 -3.0 0M818.7 999.7a1.5 1.5 0 1 0 3.0 0a1.5 1.5 0 1 0 -3.0 0M818.2 999.1a1.5 1.5 0 1 0 3.0 0a1.5 1.5 0 1 0 -3.0 0M819.2 999.4a1.5 1.5 0 1 0 3.0 0a1.5 1.5 0 1 0 -3.0 0M820.5 999.9a1.5 1.5 0 1 0 3.0 0a1.5 1.5 0 1 0 -3.0 0M821.0 1000.1a1.5 1.5 0 1 0 3.0 0a1.5 1.5 0 1 0 -3.0 0M821.9 1000.5a1.5 1.5 0 1 0 3.0 0a1.5 1.5 0 1 0 -3.0 0M822.8 1001.0a1.5 1.5 0 1 0 3.0 0a1.5 1.5 0 1 0 -3.0 0M823.9 1001.3a1.5 1.5 0 1 0 3.0 0a1.5 1.5 0 1 0 -3.0 0M824.6 1001.7a1.5 1.5 0 1 0 3.0 0a1.5 1.5 0 1 0 -3.0 0M825.7 1001.5a1.5 1.5 0 1 0 3.0 0a1.5 1.5 0 1 0 -3.0 0M826.6 1001.8a1.5 1.5 0 1 0 3.0 0a1.5 1.5 0 1 0 -3.0 0M826.9 1002.2a1.5 1.5 0 1 0 3.0 0a1.5 1.5 0 1 0 -3.0 0M827.9 1003.0a1.5 1.5 0 1 0 3.0 0a1.5 1.5 0 1 0 -3.0 0M828.3 1004.1a1.5 1.5 0 1 0 3.0 0a1.5 1.5 0 1 0 -3.0 0M829.0 1004.6a1.5 1.5 0 1 0 3.0 0a1.5 1.5 0 1 0 -3.0 0M829.7 1004.9a1.5 1.5 0 1 0 3.0 0a1.5 1.5 0 1 0 -3.0 0M830.8 1005.9a1.5 1.5 0 1 0 3.0 0a1.5 1.5 0 1 0 -3.0 0M831.4 1006.7a1.5 1.5 0 1 0 3.0 0a1.5 1.5 0 1 0 -3.0 0M831.9 1007.2a1.5 1.5 0 1 0 3.0 0a1.5 1.5 0 1 0 -3.0 0M832.6 1007.6a1.5 1.5 0 1 0 3.0 0a1.5 1.5 0 1 0 -3.0 0M833.1 1006.8a1.5 1.5 0 1 0 3.0 0a1.5 1.5 0 1 0 -3.0 0M834.0 1006.2a1.5 1.5 0 1 0 3.0 0a1.5 1.5 0 1 0 -3.0 0M834.8 1006.1a1.5 1.5 0 1 0 3.0 0a1.5 1.5 0 1 0 -3.0 0M835.6 1005.0a1.5 1.5 0 1 0 3.0 0a1.5 1.5 0 1 0 -3.0 0M836.0 1004.6a1.5 1.5 0 1 0 3.0 0a1.5 1.5 0 1 0 -3.0 0M837.0 1004.4a1.5 1.5 0 1 0 3.0 0a1.5 1.5 0 1 0 -3.0 0M837.8 1003.6a1.5 1.5 0 1 0 3.0 0a1.5 1.5 0 1 0 -3.0 0M838.6 1003.0a1.5 1.5 0 1 0 3.0 0a1.5 1.5 0 1 0 -3.0 0M839.0 1003.9a1.5 1.5 0 1 0 3.0 0a1.5 1.5 0 1 0 -3.0 0M839.4 1004.5a1.5 1.5 0 1 0 3.0 0a1.5 1.5 0 1 0 -3.0 0M839.6 1005.5a1.5 1.5 0 1 0 3.0 0a1.5 1.5 0 1 0 -3.0 0M840.4 1006.8a1.5 1.5 0 1 0 3.0 0a1.5 1.5 0 1 0 -3.0 0M840.5 1007.3a1.5 1.5 0 1 0 3.0 0a1.5 1.5 0 1 0 -3.0 0M841.1 1008.1a1.5 1.5 0 1 0 3.0 0a1.5 1.5 0 1 0 -3.0 0M841.3 1009.2a1.5 1.5 0 1 0 3.0 0a1.5 1.5 0 1 0 -3.0 0M841.8 1007.9a1.5 1.5 0 1 0 3.0 0a1.5 1.5 0 1 0 -3.0 0M842.4 1007.0a1.5 1.5 0 1 0 3.0 0a1.5 1.5 0 1 0 -3.0 0M842.8 1006.0a1.5 1.5 0 1 0 3.0 0a1.5 1.5 0 1 0 -3.0 0M843.5 1005.2a1.5 1.5 0 1 0 3.0 0a1.5 1.5 0 1 0 -3.0 0M844.1 1004.7a1.5 1.5 0 1 0 3.0 0a1.5 1.5 0 1 0 -3.0 0M844.6 1003.7a1.5 1.5 0 1 0 3.0 0a1.5 1.5 0 1 0 -3.0 0M845.1 1002.7a1.5 1.5 0 1 0 3.0 0a1.5 1.5 0 1 0 -3.0 0M845.5 1002.2a1.5 1.5 0 1 0 3.0 0a1.5 1.5 0 1 0 -3.0 0M845.6 1003.0a1.5 1.5 0 1 0 3.0 0a1.5 1.5 0 1 0 -3.0 0M846.1 1004.1a1.5 1.5 0 1 0 3.0 0a1.5 1.5 0 1 0 -3.0 0M846.4 1004.6a1.5 1.5 0 1 0 3.0 0a1.5 1.5 0 1 0 -3.0 0M846.8 1005.3a1.5 1.5 0 1 0 3.0 0a1.5 1.5 0 1 0 -3.0 0M846.9 1006.2a1.5 1.5 0 1 0 3.0 0a1.5 1.5 0 1 0 -3.0 0M847.4 1007.3a1.5 1.5 0 1 0 3.0 0a1.5 1.5 0 1 0 -3.0 0M847.3 1008.4a1.5 1.5 0 1 0 3.0 0a1.5 1.5 0 1 0 -3.0 0M848.3 1007.2a1.5 1.5 0 1 0 3.0 0a1.5 1.5 0 1 0 -3.0 0M848.9 1006.5a1.5 1.5 0 1 0 3.0 0a1.5 1.5 0 1 0 -3.0 0M849.1 1005.3a1.5 1.5 0 1 0 3.0 0a1.5 1.5 0 1 0 -3.0 0M849.4 1005.0a1.5 1.5 0 1 0 3.0 0a1.5 1.5 0 1 0 -3.0 0M850.4 1004.2a1.5 1.5 0 1 0 3.0 0a1.5 1.5 0 1 0 -3.0 0M851.0 1003.3a1.5 1.5 0 1 0 3.0 0a1.5 1.5 0 1 0 -3.0 0M851.5 1002.6a1.5 1.5 0 1 0 3.0 0a1.5 1.5 0 1 0 -3.0 0M852.0 1001.8a1.5 1.5 0 1 0 3.0 0a1.5 1.5 0 1 0 -3.0 0M852.6 1001.0a1.5 1.5 0 1 0 3.0 0a1.5 1.5 0 1 0 -3.0 0M852.7 1002.1a1.5 1.5 0 1 0 3.0 0a1.5 1.5 0 1 0 -3.0 0M853.5 1002.8a1.5 1.5 0 1 0 3.0 0a1.5 1.5 0 1 0 -3.0 0M854.1 1003.8a1.5 1.5 0 1 0 3.0 0a1.5 1.5 0 1 0 -3.0 0M854.0 1004.7a1.5 1.5 0 1 0 3.0 0a1.5 1.5 0 1 0 -3.0 0M854.6 1005.4a1.5 1.5 0 1 0 3.0 0a1.5 1.5 0 1 0 -3.0 0M855.3 1006.3a1.5 1.5 0 1 0 3.0 0a1.5 1.5 0 1 0 -3.0 0M855.6 1007.2a1.5 1.5 0 1 0 3.0 0a1.5 1.5 0 1 0 -3.0 0M855.9 1007.0a1.5 1.5 0 1 0 3.0 0a1.5 1.5 0 1 0 -3.0 0M856.0 1006.0a1.5 1.5 0 1 0 3.0 0a1.5 1.5 0 1 0 -3.0 0M856.3 1005.2a1.5 1.5 0 1 0 3.0 0a1.5 1.5 0 1 0 -3.0 0M857.2 1003.9a1.5 1.5 0 1 0 3.0 0a1.5 1.5 0 1 0 -3.0 0M857.4 1003.0a1.5 1.5 0 1 0 3.0 0a1.5 1.5 0 1 0 -3.0 0M857.4 1002.0a1.5 1.5 0 1 0 3.0 0a1.5 1.5 0 1 0 -3.0 0M858.0 1001.5a1.5 1.5 0 1 0 3.0 0a1.5 1.5 0 1 0 -3.0 0M858.1 1000.4a1.5 1.5 0 1 0 3.0 0a1.5 1.5 0 1 0 -3.0 0M858.7 999.5a1.5 1.5 0 1 0 3.0 0a1.5 1.5 0 1 0 -3.0 0M859.2 998.7a1.5 1.5 0 1 0 3.0 0a1.5 1.5 0 1 0 -3.0 0M859.3 998.0a1.5 1.5 0 1 0 3.0 0a1.5 1.5 0 1 0 -3.0 0M859.8 996.6a1.5 1.5 0 1 0 3.0 0a1.5 1.5 0 1 0 -3.0 0M860.2 996.2a1.5 1.5 0 1 0 3.0 0a1.5 1.5 0 1 0 -3.0 0M860.2 995.1a1.5 1.5 0 1 0 3.0 0a1.5 1.5 0 1 0 -3.0 0M860.7 995.8a1.5 1.5 0 1 0 3.0 0a1.5 1.5 0 1 0 -3.0 0M860.7 996.8a1.5 1.5 0 1 0 3.0 0a1.5 1.5 0 1 0 -3.0 0M861.1 997.9a1.5 1.5 0 1 0 3.0 0a1.5 1.5 0 1 0 -3.0 0M861.4 998.8a1.5 1.5 0 1 0 3.0 0a1.5 1.5 0 1 0 -3.0 0M861.6 1000.0a1.5 1.5 0 1 0 3.0 0a1.5 1.5 0 1 0 -3.0 0M862.7 1000.6a1.5 1.5 0 1 0 3.0 0a1.5 1.5 0 1 0 -3.0 0M863.3 1001.2a1.5 1.5 0 1 0 3.0 0a1.5 1.5 0 1 0 -3.0 0M864.5 1001.1a1.5 1.5 0 1 0 3.0 0a1.5 1.5 0 1 0 -3.0 0M865.4 1001.8a1.5 1.5 0 1 0 3.0 0a1.5 1.5 0 1 0 -3.0 0M866.5 1002.1a1.5 1.5 0 1 0 3.0 0a1.5 1.5 0 1 0 -3.0 0M867.0 1001.5a1.5 1.5 0 1 0 3.0 0a1.5 1.5 0 1 0 -3.0 0M867.6 1000.7a1.5 1.5 0 1 0 3.0 0a1.5 1.5 0 1 0 -3.0 0M868.3 999.5a1.5 1.5 0 1 0 3.0 0a1.5 1.5 0 1 0 -3.0 0M868.9 998.8a1.5 1.5 0 1 0 3.0 0a1.5 1.5 0 1 0 -3.0 0M869.5 998.0a1.5 1.5 0 1 0 3.0 0a1.5 1.5 0 1 0 -3.0 0M870.1 999.1a1.5 1.5 0 1 0 3.0 0a1.5 1.5 0 1 0 -3.0 0M870.0 1000.1a1.5 1.5 0 1 0 3.0 0a1.5 1.5 0 1 0 -3.0 0M870.3 1000.2a1.5 1.5 0 1 0 3.0 0a1.5 1.5 0 1 0 -3.0 0M871.1 1001.3a1.5 1.5 0 1 0 3.0 0a1.5 1.5 0 1 0 -3.0 0M871.0 1002.1a1.5 1.5 0 1 0 3.0 0a1.5 1.5 0 1 0 -3.0 0M871.7 1003.5a1.5 1.5 0 1 0 3.0 0a1.5 1.5 0 1 0 -3.0 0M871.8 1003.8a1.5 1.5 0 1 0 3.0 0a1.5 1.5 0 1 0 -3.0 0M872.1 1004.6a1.5 1.5 0 1 0 3.0 0a1.5 1.5 0 1 0 -3.0 0M872.7 1005.8a1.5 1.5 0 1 0 3.0 0a1.5 1.5 0 1 0 -3.0 0M873.4 1006.8a1.5 1.5 0 1 0 3.0 0a1.5 1.5 0 1 0 -3.0 0M873.7 1007.6a1.5 1.5 0 1 0 3.0 0a1.5 1.5 0 1 0 -3.0 0M874.5 1007.0a1.5 1.5 0 1 0 3.0 0a1.5 1.5 0 1 0 -3.0 0M874.8 1006.1a1.5 1.5 0 1 0 3.0 0a1.5 1.5 0 1 0 -3.0 0M875.6 1005.3a1.5 1.5 0 1 0 3.0 0a1.5 1.5 0 1 0 -3.0 0M876.6 1004.9a1.5 1.5 0 1 0 3.0 0a1.5 1.5 0 1 0 -3.0 0M876.9 1004.3a1.5 1.5 0 1 0 3.0 0a1.5 1.5 0 1 0 -3.0 0M878.0 1003.5a1.5 1.5 0 1 0 3.0 0a1.5 1.5 0 1 0 -3.0 0M878.6 1002.7a1.5 1.5 0 1 0 3.0 0a1.5 1.5 0 1 0 -3.0 0M879.2 1002.4a1.5 1.5 0 1 0 3.0 0a1.5 1.5 0 1 0 -3.0 0M880.3 1002.4a1.5 1.5 0 1 0 3.0 0a1.5 1.5 0 1 0 -3.0 0M881.0 1002.0a1.5 1.5 0 1 0 3.0 0a1.5 1.5 0 1 0 -3.0 0M882.1 1001.6a1.5 1.5 0 1 0 3.0 0a1.5 1.5 0 1 0 -3.0 0M883.2 1000.9a1.5 1.5 0 1 0 3.0 0a1.5 1.5 0 1 0 -3.0 0M884.1 1000.6a1.5 1.5 0 1 0 3.0 0a1.5 1.5 0 1 0 -3.0 0M884.7 1000.0a1.5 1.5 0 1 0 3.0 0a1.5 1.5 0 1 0 -3.0 0M885.4 1000.0a1.5 1.5 0 1 0 3.0 0a1.5 1.5 0 1 0 -3.0 0M886.3 999.1a1.5 1.5 0 1 0 3.0 0a1.5 1.5 0 1 0 -3.0 0M887.2 999.8a1.5 1.5 0 1 0 3.0 0a1.5 1.5 0 1 0 -3.0 0M888.3 999.9a1.5 1.5 0 1 0 3.0 0a1.5 1.5 0 1 0 -3.0 0M889.7 1000.4a1.5 1.5 0 1 0 3.0 0a1.5 1.5 0 1 0 -3.0 0M890.3 1000.8a1.5 1.5 0 1 0 3.0 0a1.5 1.5 0 1 0 -3.0 0M891.8 1001.1a1.5 1.5 0 1 0 3.0 0a1.5 1.5 0 1 0 -3.0 0M892.5 1000.9a1.5 1.5 0 1 0 3.0 0a1.5 1.5 0 1 0 -3.0 0M893.6 1000.9a1.5 1.5 0 1 0 3.0 0a1.5 1.5 0 1 0 -3.0 0M894.7 1000.3a1.5 1.5 0 1 0 3.0 0a1.5 1.5 0 1 0 -3.0 0M895.7 1000.0a1.5 1.5 0 1 0 3.0 0a1.5 1.5 0 1 0 -3.0 0M896.3 1000.2a1.5 1.5 0 1 0 3.0 0a1.5 1.5 0 1 0 -3.0 0M897.3 1000.1a1.5 1.5 0 1 0 3.0 0a1.5 1.5 0 1 0 -3.0 0M898.0 1001.0a1.5 1.5 0 1 0 3.0 0a1.5 1.5 0 1 0 -3.0 0M898.7 1001.6a1.5 1.5 0 1 0 3.0 0a1.5 1.5 0 1 0 -3.0 0M899.7 1002.0a1.5 1.5 0 1 0 3.0 0a1.5 1.5 0 1 0 -3.0 0M900.2 1002.7a1.5 1.5 0 1 0 3.0 0a1.5 1.5 0 1 0 -3.0 0M900.6 1003.1a1.5 1.5 0 1 0 3.0 0a1.5 1.5 0 1 0 -3.0 0M901.4 1004.4a1.5 1.5 0 1 0 3.0 0a1.5 1.5 0 1 0 -3.0 0M902.1 1004.6a1.5 1.5 0 1 0 3.0 0a1.5 1.5 0 1 0 -3.0 0M902.6 1005.3a1.5 1.5 0 1 0 3.0 0a1.5 1.5 0 1 0 -3.0 0M903.2 1006.4a1.5 1.5 0 1 0 3.0 0a1.5 1.5 0 1 0 -3.0 0M903.6 1006.8a1.5 1.5 0 1 0 3.0 0a1.5 1.5 0 1 0 -3.0 0M904.5 1007.2a1.5 1.5 0 1 0 3.0 0a1.5 1.5 0 1 0 -3.0 0M905.3 1006.6a1.5 1.5 0 1 0 3.0 0a1.5 1.5 0 1 0 -3.0 0M905.7 1005.9a1.5 1.5 0 1 0 3.0 0a1.5 1.5 0 1 0 -3.0 0M906.5 1005.4a1.5 1.5 0 1 0 3.0 0a1.5 1.5 0 1 0 -3.0 0M907.2 1004.7a1.5 1.5 0 1 0 3.0 0a1.5 1.5 0 1 0 -3.0 0M907.9 1004.1a1.5 1.5 0 1 0 3.0 0a1.5 1.5 0 1 0 -3.0 0M908.1 1003.4a1.5 1.5 0 1 0 3.0 0a1.5 1.5 0 1 0 -3.0 0M908.8 1002.6a1.5 1.5 0 1 0 3.0 0a1.5 1.5 0 1 0 -3.0 0M909.9 1002.0a1.5 1.5 0 1 0 3.0 0a1.5 1.5 0 1 0 -3.0 0M910.4 1001.1a1.5 1.5 0 1 0 3.0 0a1.5 1.5 0 1 0 -3.0 0M910.9 1000.4a1.5 1.5 0 1 0 3.0 0a1.5 1.5 0 1 0 -3.0 0M911.3 999.7a1.5 1.5 0 1 0 3.0 0a1.5 1.5 0 1 0 -3.0 0M911.8 1001.1a1.5 1.5 0 1 0 3.0 0a1.5 1.5 0 1 0 -3.0 0M912.9 1001.4a1.5 1.5 0 1 0 3.0 0a1.5 1.5 0 1 0 -3.0 0M912.8 1002.4a1.5 1.5 0 1 0 3.0 0a1.5 1.5 0 1 0 -3.0 0M913.8 1002.5a1.5 1.5 0 1 0 3.0 0a1.5 1.5 0 1 0 -3.0 0M914.4 1003.3a1.5 1.5 0 1 0 3.0 0a1.5 1.5 0 1 0 -3.0 0M914.6 1004.6a1.5 1.5 0 1 0 3.0 0a1.5 1.5 0 1 0 -3.0 0M915.5 1004.9a1.5 1.5 0 1 0 3.0 0a1.5 1.5 0 1 0 -3.0 0M915.9 1006.1a1.5 1.5 0 1 0 3.0 0a1.5 1.5 0 1 0 -3.0 0M916.5 1006.6a1.5 1.5 0 1 0 3.0 0a1.5 1.5 0 1 0 -3.0 0M916.8 1006.9a1.5 1.5 0 1 0 3.0 0a1.5 1.5 0 1 0 -3.0 0M917.3 1008.0a1.5 1.5 0 1 0 3.0 0a1.5 1.5 0 1 0 -3.0 0M918.2 1007.3a1.5 1.5 0 1 0 3.0 0a1.5 1.5 0 1 0 -3.0 0M918.8 1006.6a1.5 1.5 0 1 0 3.0 0a1.5 1.5 0 1 0 -3.0 0M919.4 1005.8a1.5 1.5 0 1 0 3.0 0a1.5 1.5 0 1 0 -3.0 0M920.1 1005.2a1.5 1.5 0 1 0 3.0 0a1.5 1.5 0 1 0 -3.0 0M920.7 1004.9a1.5 1.5 0 1 0 3.0 0a1.5 1.5 0 1 0 -3.0 0M921.3 1004.0a1.5 1.5 0 1 0 3.0 0a1.5 1.5 0 1 0 -3.0 0M921.8 1003.1a1.5 1.5 0 1 0 3.0 0a1.5 1.5 0 1 0 -3.0 0M922.1 1002.1a1.5 1.5 0 1 0 3.0 0a1.5 1.5 0 1 0 -3.0 0M923.0 1001.5a1.5 1.5 0 1 0 3.0 0a1.5 1.5 0 1 0 -3.0 0M923.6 1001.0a1.5 1.5 0 1 0 3.0 0a1.5 1.5 0 1 0 -3.0 0M924.6 1001.1a1.5 1.5 0 1 0 3.0 0a1.5 1.5 0 1 0 -3.0 0M925.3 1001.2a1.5 1.5 0 1 0 3.0 0a1.5 1.5 0 1 0 -3.0 0M926.6 1001.8a1.5 1.5 0 1 0 3.0 0a1.5 1.5 0 1 0 -3.0 0M927.4 1001.5a1.5 1.5 0 1 0 3.0 0a1.5 1.5 0 1 0 -3.0 0M928.5 1001.8a1.5 1.5 0 1 0 3.0 0a1.5 1.5 0 1 0 -3.0 0M929.6 1002.2a1.5 1.5 0 1 0 3.0 0a1.5 1.5 0 1 0 -3.0 0M930.2 1003.1a1.5 1.5 0 1 0 3.0 0a1.5 1.5 0 1 0 -3.0 0M930.6 1004.0a1.5 1.5 0 1 0 3.0 0a1.5 1.5 0 1 0 -3.0 0M931.0 1004.4a1.5 1.5 0 1 0 3.0 0a1.5 1.5 0 1 0 -3.0 0M931.6 1005.1a1.5 1.5 0 1 0 3.0 0a1.5 1.5 0 1 0 -3.0 0M932.2 1006.0a1.5 1.5 0 1 0 3.0 0a1.5 1.5 0 1 0 -3.0 0M932.5 1006.9a1.5 1.5 0 1 0 3.0 0a1.5 1.5 0 1 0 -3.0 0M932.9 1007.3a1.5 1.5 0 1 0 3.0 0a1.5 1.5 0 1 0 -3.0 0M933.4 1008.5a1.5 1.5 0 1 0 3.0 0a1.5 1.5 0 1 0 -3.0 0M934.2 1007.3a1.5 1.5 0 1 0 3.0 0a1.5 1.5 0 1 0 -3.0 0M934.6 1007.0a1.5 1.5 0 1 0 3.0 0a1.5 1.5 0 1 0 -3.0 0M935.0 1005.5a1.5 1.5 0 1 0 3.0 0a1.5 1.5 0 1 0 -3.0 0M934.9 1005.1a1.5 1.5 0 1 0 3.0 0a1.5 1.5 0 1 0 -3.0 0M935.4 1003.7a1.5 1.5 0 1 0 3.0 0a1.5 1.5 0 1 0 -3.0 0M936.3 1003.1a1.5 1.5 0 1 0 3.0 0a1.5 1.5 0 1 0 -3.0 0M936.7 1002.3a1.5 1.5 0 1 0 3.0 0a1.5 1.5 0 1 0 -3.0 0M936.8 1002.8a1.5 1.5 0 1 0 3.0 0a1.5 1.5 0 1 0 -3.0 0M937.3 1003.5a1.5 1.5 0 1 0 3.0 0a1.5 1.5 0 1 0 -3.0 0M938.0 1004.7a1.5 1.5 0 1 0 3.0 0a1.5 1.5 0 1 0 -3.0 0M938.4 1005.4a1.5 1.5 0 1 0 3.0 0a1.5 1.5 0 1 0 -3.0 0M938.8 1005.9a1.5 1.5 0 1 0 3.0 0a1.5 1.5 0 1 0 -3.0 0M939.2 1006.9a1.5 1.5 0 1 0 3.0 0a1.5 1.5 0 1 0 -3.0 0M940.1 1007.9a1.5 1.5 0 1 0 3.0 0a1.5 1.5 0 1 0 -3.0 0M940.5 1008.8a1.5 1.5 0 1 0 3.0 0a1.5 1.5 0 1 0 -3.0 0M941.3 1007.9a1.5 1.5 0 1 0 3.0 0a1.5 1.5 0 1 0 -3.0 0M942.2 1007.0a1.5 1.5 0 1 0 3.0 0a1.5 1.5 0 1 0 -3.0 0M942.5 1006.6a1.5 1.5 0 1 0 3.0 0a1.5 1.5 0 1 0 -3.0 0M943.4 1006.3a1.5 1.5 0 1 0 3.0 0a1.5 1.5 0 1 0 -3.0 0M944.2 1004.9a1.5 1.5 0 1 0 3.0 0a1.5 1.5 0 1 0 -3.0 0M945.1 1004.6a1.5 1.5 0 1 0 3.0 0a1.5 1.5 0 1 0 -3.0 0M945.3 1004.2a1.5 1.5 0 1 0 3.0 0a1.5 1.5 0 1 0 -3.0 0M946.5 1004.1a1.5 1.5 0 1 0 3.0 0a1.5 1.5 0 1 0 -3.0 0M947.3 1003.4a1.5 1.5 0 1 0 3.0 0a1.5 1.5 0 1 0 -3.0 0M948.2 1003.4a1.5 1.5 0 1 0 3.0 0a1.5 1.5 0 1 0 -3.0 0M949.0 1003.3a1.5 1.5 0 1 0 3.0 0a1.5 1.5 0 1 0 -3.0 0M949.8 1002.9a1.5 1.5 0 1 0 3.0 0a1.5 1.5 0 1 0 -3.0 0M950.7 1002.5a1.5 1.5 0 1 0 3.0 0a1.5 1.5 0 1 0 -3.0 0M951.9 1002.9a1.5 1.5 0 1 0 3.0 0a1.5 1.5 0 1 0 -3.0 0M952.7 1002.9a1.5 1.5 0 1 0 3.0 0a1.5 1.5 0 1 0 -3.0 0M953.7 1002.5a1.5 1.5 0 1 0 3.0 0a1.5 1.5 0 1 0 -3.0 0M954.5 1002.5a1.5 1.5 0 1 0 3.0 0a1.5 1.5 0 1 0 -3.0 0M955.4 1002.3a1.5 1.5 0 1 0 3.0 0a1.5 1.5 0 1 0 -3.0 0M956.1 1002.9a1.5 1.5 0 1 0 3.0 0a1.5 1.5 0 1 0 -3.0 0M957.1 1002.9a1.5 1.5 0 1 0 3.0 0a1.5 1.5 0 1 0 -3.0 0M957.9 1003.4a1.5 1.5 0 1 0 3.0 0a1.5 1.5 0 1 0 -3.0 0M958.4 1004.2a1.5 1.5 0 1 0 3.0 0a1.5 1.5 0 1 0 -3.0 0M959.2 1004.7a1.5 1.5 0 1 0 3.0 0a1.5 1.5 0 1 0 -3.0 0M959.8 1005.3a1.5 1.5 0 1 0 3.0 0a1.5 1.5 0 1 0 -3.0 0M960.5 1006.2a1.5 1.5 0 1 0 3.0 0a1.5 1.5 0 1 0 -3.0 0M961.4 1006.7a1.5 1.5 0 1 0 3.0 0a1.5 1.5 0 1 0 -3.0 0M962.2 1006.4a1.5 1.5 0 1 0 3.0 0a1.5 1.5 0 1 0 -3.0 0M963.3 1005.7a1.5 1.5 0 1 0 3.0 0a1.5 1.5 0 1 0 -3.0 0M964.1 1005.4a1.5 1.5 0 1 0 3.0 0a1.5 1.5 0 1 0 -3.0 0M964.9 1004.6a1.5 1.5 0 1 0 3.0 0a1.5 1.5 0 1 0 -3.0 0M965.5 1003.8a1.5 1.5 0 1 0 3.0 0a1.5 1.5 0 1 0 -3.0 0M966.1 1003.6a1.5 1.5 0 1 0 3.0 0a1.5 1.5 0 1 0 -3.0 0M967.1 1002.9a1.5 1.5 0 1 0 3.0 0a1.5 1.5 0 1 0 -3.0 0M967.9 1002.4a1.5 1.5 0 1 0 3.0 0a1.5 1.5 0 1 0 -3.0 0M968.5 1002.3a1.5 1.5 0 1 0 3.0 0a1.5 1.5 0 1 0 -3.0 0M969.6 1002.0a1.5 1.5 0 1 0 3.0 0a1.5 1.5 0 1 0 -3.0 0M969.9 1001.5a1.5 1.5 0 1 0 3.0 0a1.5 1.5 0 1 0 -3.0 0M970.8 1001.0a1.5 1.5 0 1 0 3.0 0a1.5 1.5 0 1 0 -3.0 0M971.7 1000.8a1.5 1.5 0 1 0 3.0 0a1.5 1.5 0 1 0 -3.0 0M972.5 999.8a1.5 1.5 0 1 0 3.0 0a1.5 1.5 0 1 0 -3.0 0M973.0 1001.1a1.5 1.5 0 1 0 3.0 0a1.5 1.5 0 1 0 -3.0 0M973.7 1001.2a1.5 1.5 0 1 0 3.0 0a1.5 1.5 0 1 0 -3.0 0M974.4 1002.2a1.5 1.5 0 1 0 3.0 0a1.5 1.5 0 1 0 -3.0 0M975.3 1002.4a1.5 1.5 0 1 0 3.0 0a1.5 1.5 0 1 0 -3.0 0M975.5 1003.6a1.5 1.5 0 1 0 3.0 0a1.5 1.5 0 1 0 -3.0 0M976.2 1004.3a1.5 1.5 0 1 0 3.0 0a1.5 1.5 0 1 0 -3.0 0M977.0 1004.5a1.5 1.5 0 1 0 3.0 0a1.5 1.5 0 1 0 -3.0 0M977.2 1005.2a1.5 1.5 0 1 0 3.0 0a1.5 1.5 0 1 0 -3.0 0M977.4 1004.3a1.5 1.5 0 1 0 3.0 0a1.5 1.5 0 1 0 -3.0 0M977.4 1003.4a1.5 1.5 0 1 0 3.0 0a1.5 1.5 0 1 0 -3.0 0M977.2 1002.8a1.5 1.5 0 1 0 3.0 0a1.5 1.5 0 1 0 -3.0 0M977.7 1001.6a1.5 1.5 0 1 0 3.0 0a1.5 1.5 0 1 0 -3.0 0M977.3 1001.2a1.5 1.5 0 1 0 3.0 0a1.5 1.5 0 1 0 -3.0 0M978.2 1000.7a1.5 1.5 0 1 0 3.0 0a1.5 1.5 0 1 0 -3.0 0M979.4 1000.8a1.5 1.5 0 1 0 3.0 0a1.5 1.5 0 1 0 -3.0 0M980.5 1001.0a1.5 1.5 0 1 0 3.0 0a1.5 1.5 0 1 0 -3.0 0M981.2 1000.9a1.5 1.5 0 1 0 3.0 0a1.5 1.5 0 1 0 -3.0 0M981.9 1001.3a1.5 1.5 0 1 0 3.0 0a1.5 1.5 0 1 0 -3.0 0M983.0 1001.3a1.5 1.5 0 1 0 3.0 0a1.5 1.5 0 1 0 -3.0 0M983.8 1000.9a1.5 1.5 0 1 0 3.0 0a1.5 1.5 0 1 0 -3.0 0M985.0 1000.7a1.5 1.5 0 1 0 3.0 0a1.5 1.5 0 1 0 -3.0 0M985.6 1001.4a1.5 1.5 0 1 0 3.0 0a1.5 1.5 0 1 0 -3.0 0M987.1 1001.4a1.5 1.5 0 1 0 3.0 0a1.5 1.5 0 1 0 -3.0 0M987.8 1001.2a1.5 1.5 0 1 0 3.0 0a1.5 1.5 0 1 0 -3.0 0M988.8 1001.0a1.5 1.5 0 1 0 3.0 0a1.5 1.5 0 1 0 -3.0 0M989.4 1001.1a1.5 1.5 0 1 0 3.0 0a1.5 1.5 0 1 0 -3.0 0M990.5 1001.1a1.5 1.5 0 1 0 3.0 0a1.5 1.5 0 1 0 -3.0 0M991.2 1000.8a1.5 1.5 0 1 0 3.0 0a1.5 1.5 0 1 0 -3.0 0M991.7 1002.0a1.5 1.5 0 1 0 3.0 0a1.5 1.5 0 1 0 -3.0 0M992.4 1002.5a1.5 1.5 0 1 0 3.0 0a1.5 1.5 0 1 0 -3.0 0M993.0 1003.5a1.5 1.5 0 1 0 3.0 0a1.5 1.5 0 1 0 -3.0 0M993.2 1004.2a1.5 1.5 0 1 0 3.0 0a1.5 1.5 0 1 0 -3.0 0M993.4 1004.8a1.5 1.5 0 1 0 3.0 0a1.5 1.5 0 1 0 -3.0 0M993.9 1006.4a1.5 1.5 0 1 0 3.0 0a1.5 1.5 0 1 0 -3.0 0M994.8 1006.9a1.5 1.5 0 1 0 3.0 0a1.5 1.5 0 1 0 -3.0 0M995.3 1007.7a1.5 1.5 0 1 0 3.0 0a1.5 1.5 0 1 0 -3.0 0M995.6 1008.2a1.5 1.5 0 1 0 3.0 0a1.5 1.5 0 1 0 -3.0 0M995.8 1007.7a1.5 1.5 0 1 0 3.0 0a1.5 1.5 0 1 0 -3.0 0M996.2 1006.9a1.5 1.5 0 1 0 3.0 0a1.5 1.5 0 1 0 -3.0 0M996.6 1006.0a1.5 1.5 0 1 0 3.0 0a1.5 1.5 0 1 0 -3.0 0M996.9 1005.0a1.5 1.5 0 1 0 3.0 0a1.5 1.5 0 1 0 -3.0 0M997.4 1004.1a1.5 1.5 0 1 0 3.0 0a1.5 1.5 0 1 0 -3.0 0M997.5 1003.0a1.5 1.5 0 1 0 3.0 0a1.5 1.5 0 1 0 -3.0 0M998.3 1002.0a1.5 1.5 0 1 0 3.0 0a1.5 1.5 0 1 0 -3.0 0M998.6 1001.8a1.5 1.5 0 1 0 3.0 0a1.5 1.5 0 1 0 -3.0 0M999.0 1000.7a1.5 1.5 0 1 0 3.0 0a1.5 1.5 0 1 0 -3.0 0M999.5 1000.0a1.5 1.5 0 1 0 3.0 0a1.5 1.5 0 1 0 -3.0 0M999.7 998.7a1.5 1.5 0 1 0 3.0 0a1.5 1.5 0 1 0 -3.0 0M1000.3 997.5a1.5 1.5 0 1 0 3.0 0a1.5 1.5 0 1 0 -3.0 0M1000.5 996.8a1.5 1.5 0 1 0 3.0 0a1.5 1.5 0 1 0 -3.0 0M1001.1 997.9a1.5 1.5 0 1 0 3.0 0a1.5 1.5 0 1 0 -3.0 0M1001.9 998.5a1.5 1.5 0 1 0 3.0 0a1.5 1.5 0 1 0 -3.0 0M1002.4 998.9a1.5 1.5 0 1 0 3.0 0a1.5 1.5 0 1 0 -3.0 0M1002.9 1000.3a1.5 1.5 0 1 0 3.0 0a1.5 1.5 0 1 0 -3.0 0M1003.5 1000.7a1.5 1.5 0 1 0 3.0 0a1.5 1.5 0 1 0 -3.0 0M1004.0 1001.4a1.5 1.5 0 1 0 3.0 0a1.5 1.5 0 1 0 -3.0 0M1004.4 1002.0a1.5 1.5 0 1 0 3.0 0a1.5 1.5 0 1 0 -3.0 0M1005.3 1003.0a1.5 1.5 0 1 0 3.0 0a1.5 1.5 0 1 0 -3.0 0M1005.5 1003.8a1.5 1.5 0 1 0 3.0 0a1.5 1.5 0 1 0 -3.0 0M1006.5 1004.6a1.5 1.5 0 1 0 3.0 0a1.5 1.5 0 1 0 -3.0 0M1006.7 1005.6a1.5 1.5 0 1 0 3.0 0a1.5 1.5 0 1 0 -3.0 0M1007.3 1006.0a1.5 1.5 0 1 0 3.0 0a1.5 1.5 0 1 0 -3.0 0M1008.3 1005.2a1.5 1.5 0 1 0 3.0 0a1.5 1.5 0 1 0 -3.0 0M1009.0 1004.8a1.5 1.5 0 1 0 3.0 0a1.5 1.5 0 1 0 -3.0 0M1009.7 1004.1a1.5 1.5 0 1 0 3.0 0a1.5 1.5 0 1 0 -3.0 0M1010.8 1004.1a1.5 1.5 0 1 0 3.0 0a1.5 1.5 0 1 0 -3.0 0M1011.3 1003.9a1.5 1.5 0 1 0 3.0 0a1.5 1.5 0 1 0 -3.0 0M1012.3 1003.0a1.5 1.5 0 1 0 3.0 0a1.5 1.5 0 1 0 -3.0 0M1013.4 1002.6a1.5 1.5 0 1 0 3.0 0a1.5 1.5 0 1 0 -3.0 0M1013.9 1002.2a1.5 1.5 0 1 0 3.0 0a1.5 1.5 0 1 0 -3.0 0M1014.8 1001.3a1.5 1.5 0 1 0 3.0 0a1.5 1.5 0 1 0 -3.0 0M1015.2 1001.2a1.5 1.5 0 1 0 3.0 0a1.5 1.5 0 1 0 -3.0 0M1015.9 1002.0a1.5 1.5 0 1 0 3.0 0a1.5 1.5 0 1 0 -3.0 0M1015.8 1003.1a1.5 1.5 0 1 0 3.0 0a1.5 1.5 0 1 0 -3.0 0M1016.2 1004.0a1.5 1.5 0 1 0 3.0 0a1.5 1.5 0 1 0 -3.0 0M1016.7 1004.8a1.5 1.5 0 1 0 3.0 0a1.5 1.5 0 1 0 -3.0 0M1016.7 1005.5a1.5 1.5 0 1 0 3.0 0a1.5 1.5 0 1 0 -3.0 0M1017.4 1006.3a1.5 1.5 0 1 0 3.0 0a1.5 1.5 0 1 0 -3.0 0M1017.2 1007.4a1.5 1.5 0 1 0 3.0 0a1.5 1.5 0 1 0 -3.0 0M1018.2 1006.9a1.5 1.5 0 1 0 3.0 0a1.5 1.5 0 1 0 -3.0 0M1018.4 1005.7a1.5 1.5 0 1 0 3.0 0a1.5 1.5 0 1 0 -3.0 0M1019.3 1005.6a1.5 1.5 0 1 0 3.0 0a1.5 1.5 0 1 0 -3.0 0M1019.8 1004.3a1.5 1.5 0 1 0 3.0 0a1.5 1.5 0 1 0 -3.0 0M1020.3 1003.5a1.5 1.5 0 1 0 3.0 0a1.5 1.5 0 1 0 -3.0 0M1020.5 1003.0a1.5 1.5 0 1 0 3.0 0a1.5 1.5 0 1 0 -3.0 0M1021.5 1002.0a1.5 1.5 0 1 0 3.0 0a1.5 1.5 0 1 0 -3.0 0M1021.6 1001.8a1.5 1.5 0 1 0 3.0 0a1.5 1.5 0 1 0 -3.0 0M1022.5 1000.7a1.5 1.5 0 1 0 3.0 0a1.5 1.5 0 1 0 -3.0 0M1022.6 1000.5a1.5 1.5 0 1 0 3.0 0a1.5 1.5 0 1 0 -3.0 0M1023.7 999.8a1.5 1.5 0 1 0 3.0 0a1.5 1.5 0 1 0 -3.0 0M1024.0 998.4a1.5 1.5 0 1 0 3.0 0a1.5 1.5 0 1 0 -3.0 0M1024.6 998.1a1.5 1.5 0 1 0 3.0 0a1.5 1.5 0 1 0 -3.0 0M1025.1 999.1a1.5 1.5 0 1 0 3.0 0a1.5 1.5 0 1 0 -3.0 0M1025.2 1000.2a1.5 1.5 0 1 0 3.0 0a1.5 1.5 0 1 0 -3.0 0M1025.6 1000.7a1.5 1.5 0 1 0 3.0 0a1.5 1.5 0 1 0 -3.0 0M1026.0 1001.9a1.5 1.5 0 1 0 3.0 0a1.5 1.5 0 1 0 -3.0 0M1026.4 1002.9a1.5 1.5 0 1 0 3.0 0a1.5 1.5 0 1 0 -3.0 0M1026.5 1003.8a1.5 1.5 0 1 0 3.0 0a1.5 1.5 0 1 0 -3.0 0M1027.3 1004.2a1.5 1.5 0 1 0 3.0 0a1.5 1.5 0 1 0 -3.0 0M1027.1 1005.4a1.5 1.5 0 1 0 3.0 0a1.5 1.5 0 1 0 -3.0 0M1027.8 1006.6a1.5 1.5 0 1 0 3.0 0a1.5 1.5 0 1 0 -3.0 0M1028.2 1007.3a1.5 1.5 0 1 0 3.0 0a1.5 1.5 0 1 0 -3.0 0M1028.7 1007.7a1.5 1.5 0 1 0 3.0 0a1.5 1.5 0 1 0 -3.0 0M1029.3 1007.3a1.5 1.5 0 1 0 3.0 0a1.5 1.5 0 1 0 -3.0 0M1029.7 1006.6a1.5 1.5 0 1 0 3.0 0a1.5 1.5 0 1 0 -3.0 0M1030.5 1006.3a1.5 1.5 0 1 0 3.0 0a1.5 1.5 0 1 0 -3.0 0M1031.3 1005.4a1.5 1.5 0 1 0 3.0 0a1.5 1.5 0 1 0 -3.0 0M1031.7 1005.1a1.5 1.5 0 1 0 3.0 0a1.5 1.5 0 1 0 -3.0 0M1032.8 1004.5a1.5 1.5 0 1 0 3.0 0a1.5 1.5 0 1 0 -3.0 0M1033.5 1003.3a1.5 1.5 0 1 0 3.0 0a1.5 1.5 0 1 0 -3.0 0M1033.9 1003.0a1.5 1.5 0 1 0 3.0 0a1.5 1.5 0 1 0 -3.0 0M1034.6 1002.6a1.5 1.5 0 1 0 3.0 0a1.5 1.5 0 1 0 -3.0 0M1035.2 1001.4a1.5 1.5 0 1 0 3.0 0a1.5 1.5 0 1 0 -3.0 0M1036.0 1000.8a1.5 1.5 0 1 0 3.0 0a1.5 1.5 0 1 0 -3.0 0M1036.5 1000.6a1.5 1.5 0 1 0 3.0 0a1.5 1.5 0 1 0 -3.0 0M1037.5 999.9a1.5 1.5 0 1 0 3.0 0a1.5 1.5 0 1 0 -3.0 0M1037.9 999.3a1.5 1.5 0 1 0 3.0 0a1.5 1.5 0 1 0 -3.0 0M1038.8 998.5a1.5 1.5 0 1 0 3.0 0a1.5 1.5 0 1 0 -3.0 0M1039.3 997.7a1.5 1.5 0 1 0 3.0 0a1.5 1.5 0 1 0 -3.0 0M1040.3 998.2a1.5 1.5 0 1 0 3.0 0a1.5 1.5 0 1 0 -3.0 0M1041.3 998.7a1.5 1.5 0 1 0 3.0 0a1.5 1.5 0 1 0 -3.0 0M1041.9 998.9a1.5 1.5 0 1 0 3.0 0a1.5 1.5 0 1 0 -3.0 0M1042.8 999.3a1.5 1.5 0 1 0 3.0 0a1.5 1.5 0 1 0 -3.0 0M1043.6 999.5a1.5 1.5 0 1 0 3.0 0a1.5 1.5 0 1 0 -3.0 0M1044.8 1000.0a1.5 1.5 0 1 0 3.0 0a1.5 1.5 0 1 0 -3.0 0M1045.5 1000.3a1.5 1.5 0 1 0 3.0 0a1.5 1.5 0 1 0 -3.0 0M1046.8 1000.1a1.5 1.5 0 1 0 3.0 0a1.5 1.5 0 1 0 -3.0 0M1047.4 999.5a1.5 1.5 0 1 0 3.0 0a1.5 1.5 0 1 0 -3.0 0M1048.6 999.2a1.5 1.5 0 1 0 3.0 0a1.5 1.5 0 1 0 -3.0 0M1049.3 999.0a1.5 1.5 0 1 0 3.0 0a1.5 1.5 0 1 0 -3.0 0M1050.6 999.1a1.5 1.5 0 1 0 3.0 0a1.5 1.5 0 1 0 -3.0 0M1051.8 999.2a1.5 1.5 0 1 0 3.0 0a1.5 1.5 0 1 0 -3.0 0M1051.5 999.9a1.5 1.5 0 1 0 3.0 0a1.5 1.5 0 1 0 -3.0 0M1051.4 1000.6a1.5 1.5 0 1 0 3.0 0a1.5 1.5 0 1 0 -3.0 0M1051.3 1002.3a1.5 1.5 0 1 0 3.0 0a1.5 1.5 0 1 0 -3.0 0M1051.4 1002.6a1.5 1.5 0 1 0 3.0 0a1.5 1.5 0 1 0 -3.0 0M1051.8 1003.9a1.5 1.5 0 1 0 3.0 0a1.5 1.5 0 1 0 -3.0 0M1052.7 1004.3a1.5 1.5 0 1 0 3.0 0a1.5 1.5 0 1 0 -3.0 0M1053.8 1004.3a1.5 1.5 0 1 0 3.0 0a1.5 1.5 0 1 0 -3.0 0M1054.5 1005.0a1.5 1.5 0 1 0 3.0 0a1.5 1.5 0 1 0 -3.0 0M1055.2 1005.5a1.5 1.5 0 1 0 3.0 0a1.5 1.5 0 1 0 -3.0 0M1056.4 1005.6a1.5 1.5 0 1 0 3.0 0a1.5 1.5 0 1 0 -3.0 0M1057.0 1005.8a1.5 1.5 0 1 0 3.0 0a1.5 1.5 0 1 0 -3.0 0M1057.9 1006.9a1.5 1.5 0 1 0 3.0 0a1.5 1.5 0 1 0 -3.0 0M1059.2 1007.6a1.5 1.5 0 1 0 3.0 0a1.5 1.5 0 1 0 -3.0 0M1059.7 1007.6a1.5 1.5 0 1 0 3.0 0a1.5 1.5 0 1 0 -3.0 0M1060.7 1008.5a1.5 1.5 0 1 0 3.0 0a1.5 1.5 0 1 0 -3.0 0M1061.2 1007.8a1.5 1.5 0 1 0 3.0 0a1.5 1.5 0 1 0 -3.0 0M1061.6 1006.7a1.5 1.5 0 1 0 3.0 0a1.5 1.5 0 1 0 -3.0 0M1061.9 1005.8a1.5 1.5 0 1 0 3.0 0a1.5 1.5 0 1 0 -3.0 0M1062.6 1005.2a1.5 1.5 0 1 0 3.0 0a1.5 1.5 0 1 0 -3.0 0M1063.5 1004.3a1.5 1.5 0 1 0 3.0 0a1.5 1.5 0 1 0 -3.0 0M1063.9 1003.6a1.5 1.5 0 1 0 3.0 0a1.5 1.5 0 1 0 -3.0 0M1064.1 1003.4a1.5 1.5 0 1 0 3.0 0a1.5 1.5 0 1 0 -3.0 0M1064.7 1002.4a1.5 1.5 0 1 0 3.0 0a1.5 1.5 0 1 0 -3.0 0M1065.5 1001.5a1.5 1.5 0 1 0 3.0 0a1.5 1.5 0 1 0 -3.0 0M1065.9 1000.5a1.5 1.5 0 1 0 3.0 0a1.5 1.5 0 1 0 -3.0 0M1066.6 999.9a1.5 1.5 0 1 0 3.0 0a1.5 1.5 0 1 0 -3.0 0M1067.2 1001.0a1.5 1.5 0 1 0 3.0 0a1.5 1.5 0 1 0 -3.0 0M1067.4 1001.3a1.5 1.5 0 1 0 3.0 0a1.5 1.5 0 1 0 -3.0 0M1068.2 1002.4a1.5 1.5 0 1 0 3.0 0a1.5 1.5 0 1 0 -3.0 0M1069.0 1002.6a1.5 1.5 0 1 0 3.0 0a1.5 1.5 0 1 0 -3.0 0M1069.5 1003.1a1.5 1.5 0 1 0 3.0 0a1.5 1.5 0 1 0 -3.0 0M1070.1 1003.9a1.5 1.5 0 1 0 3.0 0a1.5 1.5 0 1 0 -3.0 0M1070.5 1004.9a1.5 1.5 0 1 0 3.0 0a1.5 1.5 0 1 0 -3.0 0M1071.3 1005.4a1.5 1.5 0 1 0 3.0 0a1.5 1.5 0 1 0 -3.0 0M1071.9 1006.1a1.5 1.5 0 1 0 3.0 0a1.5 1.5 0 1 0 -3.0 0M1072.6 1006.6a1.5 1.5 0 1 0 3.0 0a1.5 1.5 0 1 0 -3.0 0M1073.5 1006.3a1.5 1.5 0 1 0 3.0 0a1.5 1.5 0 1 0 -3.0 0M1073.8 1005.6a1.5 1.5 0 1 0 3.0 0a1.5 1.5 0 1 0 -3.0 0M1074.8 1004.8a1.5 1.5 0 1 0 3.0 0a1.5 1.5 0 1 0 -3.0 0M1075.7 1004.3a1.5 1.5 0 1 0 3.0 0a1.5 1.5 0 1 0 -3.0 0M1076.2 1003.5a1.5 1.5 0 1 0 3.0 0a1.5 1.5 0 1 0 -3.0 0M1077.0 1003.6a1.5 1.5 0 1 0 3.0 0a1.5 1.5 0 1 0 -3.0 0M1077.6 1002.4a1.5 1.5 0 1 0 3.0 0a1.5 1.5 0 1 0 -3.0 0M1078.5 1002.1a1.5 1.5 0 1 0 3.0 0a1.5 1.5 0 1 0 -3.0 0M1079.0 1001.1a1.5 1.5 0 1 0 3.0 0a1.5 1.5 0 1 0 -3.0 0M1079.9 1000.5a1.5 1.5 0 1 0 3.0 0a1.5 1.5 0 1 0 -3.0 0M1080.2 1000.2a1.5 1.5 0 1 0 3.0 0a1.5 1.5 0 1 0 -3.0 0M1081.6 1000.5a1.5 1.5 0 1 0 3.0 0a1.5 1.5 0 1 0 -3.0 0M1082.4 1000.3a1.5 1.5 0 1 0 3.0 0a1.5 1.5 0 1 0 -3.0 0M1083.0 1000.9a1.5 1.5 0 1 0 3.0 0a1.5 1.5 0 1 0 -3.0 0M1084.0 1001.2a1.5 1.5 0 1 0 3.0 0a1.5 1.5 0 1 0 -3.0 0M1084.8 1001.2a1.5 1.5 0 1 0 3.0 0a1.5 1.5 0 1 0 -3.0 0M1085.5 1001.4a1.5 1.5 0 1 0 3.0 0a1.5 1.5 0 1 0 -3.0 0M1086.2 1002.1a1.5 1.5 0 1 0 3.0 0a1.5 1.5 0 1 0 -3.0 0M1086.8 1003.3a1.5 1.5 0 1 0 3.0 0a1.5 1.5 0 1 0 -3.0 0M1087.8 1003.7a1.5 1.5 0 1 0 3.0 0a1.5 1.5 0 1 0 -3.0 0M1088.3 1005.1a1.5 1.5 0 1 0 3.0 0a1.5 1.5 0 1 0 -3.0 0M1088.2 1005.9a1.5 1.5 0 1 0 3.0 0a1.5 1.5 0 1 0 -3.0 0M1089.0 1005.1a1.5 1.5 0 1 0 3.0 0a1.5 1.5 0 1 0 -3.0 0M1089.4 1004.4a1.5 1.5 0 1 0 3.0 0a1.5 1.5 0 1 0 -3.0 0M1089.9 1003.8a1.5 1.5 0 1 0 3.0 0a1.5 1.5 0 1 0 -3.0 0M1090.8 1002.9a1.5 1.5 0 1 0 3.0 0a1.5 1.5 0 1 0 -3.0 0M1091.6 1002.7a1.5 1.5 0 1 0 3.0 0a1.5 1.5 0 1 0 -3.0 0M1091.9 1002.0a1.5 1.5 0 1 0 3.0 0a1.5 1.5 0 1 0 -3.0 0M1092.4 1001.2a1.5 1.5 0 1 0 3.0 0a1.5 1.5 0 1 0 -3.0 0M1093.5 1001.2a1.5 1.5 0 1 0 3.0 0a1.5 1.5 0 1 0 -3.0 0M1094.4 1001.5a1.5 1.5 0 1 0 3.0 0a1.5 1.5 0 1 0 -3.0 0M1094.9 1001.8a1.5 1.5 0 1 0 3.0 0a1.5 1.5 0 1 0 -3.0 0M1095.7 1002.3a1.5 1.5 0 1 0 3.0 0a1.5 1.5 0 1 0 -3.0 0M1096.6 1002.4a1.5 1.5 0 1 0 3.0 0a1.5 1.5 0 1 0 -3.0 0M1097.8 1002.8a1.5 1.5 0 1 0 3.0 0a1.5 1.5 0 1 0 -3.0 0M1098.7 1003.2a1.5 1.5 0 1 0 3.0 0a1.5 1.5 0 1 0 -3.0 0M1099.6 1003.7a1.5 1.5 0 1 0 3.0 0a1.5 1.5 0 1 0 -3.0 0M1100.6 1004.3a1.5 1.5 0 1 0 3.0 0a1.5 1.5 0 1 0 -3.0 0M1101.6 1004.6a1.5 1.5 0 1 0 3.0 0a1.5 1.5 0 1 0 -3.0 0M1102.5 1005.0a1.5 1.5 0 1 0 3.0 0a1.5 1.5 0 1 0 -3.0 0M1103.8 1004.3a1.5 1.5 0 1 0 3.0 0a1.5 1.5 0 1 0 -3.0 0M1104.3 1004.0a1.5 1.5 0 1 0 3.0 0a1.5 1.5 0 1 0 -3.0 0M1105.4 1003.7a1.5 1.5 0 1 0 3.0 0a1.5 1.5 0 1 0 -3.0 0M1106.6 1002.6a1.5 1.5 0 1 0 3.0 0a1.5 1.5 0 1 0 -3.0 0M1107.1 1003.7a1.5 1.5 0 1 0 3.0 0a1.5 1.5 0 1 0 -3.0 0M1108.0 1004.3a1.5 1.5 0 1 0 3.0 0a1.5 1.5 0 1 0 -3.0 0M1108.9 1004.5a1.5 1.5 0 1 0 3.0 0a1.5 1.5 0 1 0 -3.0 0M1109.8 1005.8a1.5 1.5 0 1 0 3.0 0a1.5 1.5 0 1 0 -3.0 0M1110.3 1006.1a1.5 1.5 0 1 0 3.0 0a1.5 1.5 0 1 0 -3.0 0M1111.3 1005.5a1.5 1.5 0 1 0 3.0 0a1.5 1.5 0 1 0 -3.0 0M1112.0 1004.8a1.5 1.5 0 1 0 3.0 0a1.5 1.5 0 1 0 -3.0 0M1113.0 1004.4a1.5 1.5 0 1 0 3.0 0a1.5 1.5 0 1 0 -3.0 0M1113.5 1003.8a1.5 1.5 0 1 0 3.0 0a1.5 1.5 0 1 0 -3.0 0M1114.3 1003.1a1.5 1.5 0 1 0 3.0 0a1.5 1.5 0 1 0 -3.0 0M1115.3 1001.9a1.5 1.5 0 1 0 3.0 0a1.5 1.5 0 1 0 -3.0 0M1115.6 1001.4a1.5 1.5 0 1 0 3.0 0a1.5 1.5 0 1 0 -3.0 0M1116.7 1001.3a1.5 1.5 0 1 0 3.0 0a1.5 1.5 0 1 0 -3.0 0M1117.0 1001.6a1.5 1.5 0 1 0 3.0 0a1.5 1.5 0 1 0 -3.0 0M1118.1 1002.5a1.5 1.5 0 1 0 3.0 0a1.5 1.5 0 1 0 -3.0 0M1118.7 1003.3a1.5 1.5 0 1 0 3.0 0a1.5 1.5 0 1 0 -3.0 0M1119.6 1003.3a1.5 1.5 0 1 0 3.0 0a1.5 1.5 0 1 0 -3.0 0M1120.3 1004.1a1.5 1.5 0 1 0 3.0 0a1.5 1.5 0 1 0 -3.0 0M1120.8 1005.1a1.5 1.5 0 1 0 3.0 0a1.5 1.5 0 1 0 -3.0 0M1121.3 1005.4a1.5 1.5 0 1 0 3.0 0a1.5 1.5 0 1 0 -3.0 0M1122.3 1006.4a1.5 1.5 0 1 0 3.0 0a1.5 1.5 0 1 0 -3.0 0M1123.1 1006.5a1.5 1.5 0 1 0 3.0 0a1.5 1.5 0 1 0 -3.0 0M1123.6 1007.7a1.5 1.5 0 1 0 3.0 0a1.5 1.5 0 1 0 -3.0 0M1124.4 1006.9a1.5 1.5 0 1 0 3.0 0a1.5 1.5 0 1 0 -3.0 0M1124.6 1005.7a1.5 1.5 0 1 0 3.0 0a1.5 1.5 0 1 0 -3.0 0M1125.1 1005.1a1.5 1.5 0 1 0 3.0 0a1.5 1.5 0 1 0 -3.0 0M1125.9 1004.4a1.5 1.5 0 1 0 3.0 0a1.5 1.5 0 1 0 -3.0 0M1126.3 1003.4a1.5 1.5 0 1 0 3.0 0a1.5 1.5 0 1 0 -3.0 0M1127.2 1003.3a1.5 1.5 0 1 0 3.0 0a1.5 1.5 0 1 0 -3.0 0M1127.5 1002.3a1.5 1.5 0 1 0 3.0 0a1.5 1.5 0 1 0 -3.0 0M1128.6 1001.4a1.5 1.5 0 1 0 3.0 0a1.5 1.5 0 1 0 -3.0 0M1128.9 1001.0a1.5 1.5 0 1 0 3.0 0a1.5 1.5 0 1 0 -3.0 0M1129.2 1000.3a1.5 1.5 0 1 0 3.0 0a1.5 1.5 0 1 0 -3.0 0M1130.5 1000.5a1.5 1.5 0 1 0 3.0 0a1.5 1.5 0 1 0 -3.0 0M1131.1 1000.7a1.5 1.5 0 1 0 3.0 0a1.5 1.5 0 1 0 -3.0 0M1132.3 1000.7a1.5 1.5 0 1 0 3.0 0a1.5 1.5 0 1 0 -3.0 0M1132.7 1001.5a1.5 1.5 0 1 0 3.0 0a1.5 1.5 0 1 0 -3.0 0M1134.1 1001.5a1.5 1.5 0 1 0 3.0 0a1.5 1.5 0 1 0 -3.0 0M1134.5 1002.1a1.5 1.5 0 1 0 3.0 0a1.5 1.5 0 1 0 -3.0 0M1135.7 1002.6a1.5 1.5 0 1 0 3.0 0a1.5 1.5 0 1 0 -3.0 0M1136.5 1002.6a1.5 1.5 0 1 0 3.0 0a1.5 1.5 0 1 0 -3.0 0M1137.0 1003.6a1.5 1.5 0 1 0 3.0 0a1.5 1.5 0 1 0 -3.0 0M1138.2 1003.7a1.5 1.5 0 1 0 3.0 0a1.5 1.5 0 1 0 -3.0 0M1138.7 1004.4a1.5 1.5 0 1 0 3.0 0a1.5 1.5 0 1 0 -3.0 0M1139.7 1004.9a1.5 1.5 0 1 0 3.0 0a1.5 1.5 0 1 0 -3.0 0M1140.4 1005.2a1.5 1.5 0 1 0 3.0 0a1.5 1.5 0 1 0 -3.0 0M1141.6 1006.4a1.5 1.5 0 1 0 3.0 0a1.5 1.5 0 1 0 -3.0 0M1142.0 1005.3a1.5 1.5 0 1 0 3.0 0a1.5 1.5 0 1 0 -3.0 0M1142.1 1004.1a1.5 1.5 0 1 0 3.0 0a1.5 1.5 0 1 0 -3.0 0M1142.6 1003.3a1.5 1.5 0 1 0 3.0 0a1.5 1.5 0 1 0 -3.0 0M1143.2 1002.1a1.5 1.5 0 1 0 3.0 0a1.5 1.5 0 1 0 -3.0 0M1143.8 1001.4a1.5 1.5 0 1 0 3.0 0a1.5 1.5 0 1 0 -3.0 0M1144.1 1001.2a1.5 1.5 0 1 0 3.0 0a1.5 1.5 0 1 0 -3.0 0M1145.0 1001.6a1.5 1.5 0 1 0 3.0 0a1.5 1.5 0 1 0 -3.0 0M1145.9 1002.0a1.5 1.5 0 1 0 3.0 0a1.5 1.5 0 1 0 -3.0 0M1146.8 1001.8a1.5 1.5 0 1 0 3.0 0a1.5 1.5 0 1 0 -3.0 0M1148.0 1002.1a1.5 1.5 0 1 0 3.0 0a1.5 1.5 0 1 0 -3.0 0M1148.5 1002.7a1.5 1.5 0 1 0 3.0 0a1.5 1.5 0 1 0 -3.0 0M1149.2 1003.2a1.5 1.5 0 1 0 3.0 0a1.5 1.5 0 1 0 -3.0 0M1150.4 1003.3a1.5 1.5 0 1 0 3.0 0a1.5 1.5 0 1 0 -3.0 0M1151.2 1003.9a1.5 1.5 0 1 0 3.0 0a1.5 1.5 0 1 0 -3.0 0M1151.9 1004.5a1.5 1.5 0 1 0 3.0 0a1.5 1.5 0 1 0 -3.0 0M1152.6 1005.4a1.5 1.5 0 1 0 3.0 0a1.5 1.5 0 1 0 -3.0 0M1153.5 1006.1a1.5 1.5 0 1 0 3.0 0a1.5 1.5 0 1 0 -3.0 0M1154.4 1005.1a1.5 1.5 0 1 0 3.0 0a1.5 1.5 0 1 0 -3.0 0M1154.6 1004.2a1.5 1.5 0 1 0 3.0 0a1.5 1.5 0 1 0 -3.0 0M1155.4 1003.5a1.5 1.5 0 1 0 3.0 0a1.5 1.5 0 1 0 -3.0 0M1155.7 1002.6a1.5 1.5 0 1 0 3.0 0a1.5 1.5 0 1 0 -3.0 0M1156.5 1002.3a1.5 1.5 0 1 0 3.0 0a1.5 1.5 0 1 0 -3.0 0M1156.8 1003.2a1.5 1.5 0 1 0 3.0 0a1.5 1.5 0 1 0 -3.0 0M1157.2 1003.9a1.5 1.5 0 1 0 3.0 0a1.5 1.5 0 1 0 -3.0 0M1157.4 1004.7a1.5 1.5 0 1 0 3.0 0a1.5 1.5 0 1 0 -3.0 0M1158.0 1005.3a1.5 1.5 0 1 0 3.0 0a1.5 1.5 0 1 0 -3.0 0M1158.1 1006.4a1.5 1.5 0 1 0 3.0 0a1.5 1.5 0 1 0 -3.0 0M1158.4 1007.4a1.5 1.5 0 1 0 3.0 0a1.5 1.5 0 1 0 -3.0 0M1158.9 1006.8a1.5 1.5 0 1 0 3.0 0a1.5 1.5 0 1 0 -3.0 0M1159.3 1005.7a1.5 1.5 0 1 0 3.0 0a1.5 1.5 0 1 0 -3.0 0M1160.0 1004.9a1.5 1.5 0 1 0 3.0 0a1.5 1.5 0 1 0 -3.0 0M1160.9 1004.5a1.5 1.5 0 1 0 3.0 0a1.5 1.5 0 1 0 -3.0 0M1161.5 1003.3a1.5 1.5 0 1 0 3.0 0a1.5 1.5 0 1 0 -3.0 0M1161.6 1002.7a1.5 1.5 0 1 0 3.0 0a1.5 1.5 0 1 0 -3.0 0M1162.4 1002.3a1.5 1.5 0 1 0 3.0 0a1.5 1.5 0 1 0 -3.0 0M1163.1 1001.6a1.5 1.5 0 1 0 3.0 0a1.5 1.5 0 1 0 -3.0 0M1163.2 1000.1a1.5 1.5 0 1 0 3.0 0a1.5 1.5 0 1 0 -3.0 0M1164.1 1001.0a1.5 1.5 0 1 0 3.0 0a1.5 1.5 0 1 0 -3.0 0M1164.6 1001.5a1.5 1.5 0 1 0 3.0 0a1.5 1.5 0 1 0 -3.0 0M1165.4 1002.5a1.5 1.5 0 1 0 3.0 0a1.5 1.5 0 1 0 -3.0 0M1166.2 1002.6a1.5 1.5 0 1 0 3.0 0a1.5 1.5 0 1 0 -3.0 0M1166.9 1003.6a1.5 1.5 0 1 0 3.0 0a1.5 1.5 0 1 0 -3.0 0M1167.6 1003.9a1.5 1.5 0 1 0 3.0 0a1.5 1.5 0 1 0 -3.0 0M1168.3 1004.3a1.5 1.5 0 1 0 3.0 0a1.5 1.5 0 1 0 -3.0 0M1169.7 1005.0a1.5 1.5 0 1 0 3.0 0a1.5 1.5 0 1 0 -3.0 0M1170.4 1005.0a1.5 1.5 0 1 0 3.0 0a1.5 1.5 0 1 0 -3.0 0M1171.5 1005.8a1.5 1.5 0 1 0 3.0 0a1.5 1.5 0 1 0 -3.0 0M1172.2 1005.5a1.5 1.5 0 1 0 3.0 0a1.5 1.5 0 1 0 -3.0 0M1172.7 1006.0a1.5 1.5 0 1 0 3.0 0a1.5 1.5 0 1 0 -3.0 0M1173.9 1006.6a1.5 1.5 0 1 0 3.0 0a1.5 1.5 0 1 0 -3.0 0M1175.1 1006.9a1.5 1.5 0 1 0 3.0 0a1.5 1.5 0 1 0 -3.0 0M1175.5 1007.3a1.5 1.5 0 1 0 3.0 0a1.5 1.5 0 1 0 -3.0 0M1176.7 1006.8a1.5 1.5 0 1 0 3.0 0a1.5 1.5 0 1 0 -3.0 0M1177.3 1007.9a1.5 1.5 0 1 0 3.0 0a1.5 1.5 0 1 0 -3.0 0M1178.4 1007.0a1.5 1.5 0 1 0 3.0 0a1.5 1.5 0 1 0 -3.0 0M1179.0 1005.8a1.5 1.5 0 1 0 3.0 0a1.5 1.5 0 1 0 -3.0 0M1179.9 1005.4a1.5 1.5 0 1 0 3.0 0a1.5 1.5 0 1 0 -3.0 0M1180.5 1005.0a1.5 1.5 0 1 0 3.0 0a1.5 1.5 0 1 0 -3.0 0M1181.1 1004.3a1.5 1.5 0 1 0 3.0 0a1.5 1.5 0 1 0 -3.0 0M1182.0 1003.9a1.5 1.5 0 1 0 3.0 0a1.5 1.5 0 1 0 -3.0 0M1182.4 1003.3a1.5 1.5 0 1 0 3.0 0a1.5 1.5 0 1 0 -3.0 0M1183.1 1003.5a1.5 1.5 0 1 0 3.0 0a1.5 1.5 0 1 0 -3.0 0M1184.0 1003.8a1.5 1.5 0 1 0 3.0 0a1.5 1.5 0 1 0 -3.0 0M1184.8 1004.4a1.5 1.5 0 1 0 3.0 0a1.5 1.5 0 1 0 -3.0 0M1186.0 1005.7a1.5 1.5 0 1 0 3.0 0a1.5 1.5 0 1 0 -3.0 0M1186.5 1005.7a1.5 1.5 0 1 0 3.0 0a1.5 1.5 0 1 0 -3.0 0M1187.4 1006.0a1.5 1.5 0 1 0 3.0 0a1.5 1.5 0 1 0 -3.0 0M1188.4 1005.3a1.5 1.5 0 1 0 3.0 0a1.5 1.5 0 1 0 -3.0 0M1189.5 1005.5a1.5 1.5 0 1 0 3.0 0a1.5 1.5 0 1 0 -3.0 0M1190.3 1005.1a1.5 1.5 0 1 0 3.0 0a1.5 1.5 0 1 0 -3.0 0M1191.5 1005.2a1.5 1.5 0 1 0 3.0 0a1.5 1.5 0 1 0 -3.0 0M1191.9 1004.6a1.5 1.5 0 1 0 3.0 0a1.5 1.5 0 1 0 -3.0 0M1192.4 1003.5a1.5 1.5 0 1 0 3.0 0a1.5 1.5 0 1 0 -3.0 0M1192.7 1002.8a1.5 1.5 0 1 0 3.0 0a1.5 1.5 0 1 0 -3.0 0M1193.5 1001.4a1.5 1.5 0 1 0 3.0 0a1.5 1.5 0 1 0 -3.0 0M1194.2 1001.1a1.5 1.5 0 1 0 3.0 0a1.5 1.5 0 1 0 -3.0 0M1194.3 1000.3a1.5 1.5 0 1 0 3.0 0a1.5 1.5 0 1 0 -3.0 0M1195.8 1000.3a1.5 1.5 0 1 0 3.0 0a1.5 1.5 0 1 0 -3.0 0M1196.7 1000.9a1.5 1.5 0 1 0 3.0 0a1.5 1.5 0 1 0 -3.0 0M1197.5 1001.0a1.5 1.5 0 1 0 3.0 0a1.5 1.5 0 1 0 -3.0 0M1198.4 1001.8a1.5 1.5 0 1 0 3.0 0a1.5 1.5 0 1 0 -3.0 0M1199.7 1002.2a1.5 1.5 0 1 0 3.0 0a1.5 1.5 0 1 0 -3.0 0M1200.2 1002.2a1.5 1.5 0 1 0 3.0 0a1.5 1.5 0 1 0 -3.0 0M1201.6 1002.2a1.5 1.5 0 1 0 3.0 0a1.5 1.5 0 1 0 -3.0 0M1202.2 1003.0a1.5 1.5 0 1 0 3.0 0a1.5 1.5 0 1 0 -3.0 0M1203.7 1003.2a1.5 1.5 0 1 0 3.0 0a1.5 1.5 0 1 0 -3.0 0M1204.2 1002.5a1.5 1.5 0 1 0 3.0 0a1.5 1.5 0 1 0 -3.0 0M1205.4 1001.7a1.5 1.5 0 1 0 3.0 0a1.5 1.5 0 1 0 -3.0 0M1206.1 1001.7a1.5 1.5 0 1 0 3.0 0a1.5 1.5 0 1 0 -3.0 0M1206.8 1001.4a1.5 1.5 0 1 0 3.0 0a1.5 1.5 0 1 0 -3.0 0M1207.7 1000.8a1.5 1.5 0 1 0 3.0 0a1.5 1.5 0 1 0 -3.0 0M1208.3 999.9a1.5 1.5 0 1 0 3.0 0a1.5 1.5 0 1 0 -3.0 0M1209.0 1000.7a1.5 1.5 0 1 0 3.0 0a1.5 1.5 0 1 0 -3.0 0M1209.9 1001.8a1.5 1.5 0 1 0 3.0 0a1.5 1.5 0 1 0 -3.0 0M1210.7 1002.3a1.5 1.5 0 1 0 3.0 0a1.5 1.5 0 1 0 -3.0 0M1211.3 1002.9a1.5 1.5 0 1 0 3.0 0a1.5 1.5 0 1 0 -3.0 0M1211.8 1003.1a1.5 1.5 0 1 0 3.0 0a1.5 1.5 0 1 0 -3.0 0M1212.3 1004.1a1.5 1.5 0 1 0 3.0 0a1.5 1.5 0 1 0 -3.0 0M1212.7 1005.1a1.5 1.5 0 1 0 3.0 0a1.5 1.5 0 1 0 -3.0 0M1213.5 1005.3a1.5 1.5 0 1 0 3.0 0a1.5 1.5 0 1 0 -3.0 0M1214.0 1006.2a1.5 1.5 0 1 0 3.0 0a1.5 1.5 0 1 0 -3.0 0M1214.8 1007.2a1.5 1.5 0 1 0 3.0 0a1.5 1.5 0 1 0 -3.0 0M1215.6 1007.4a1.5 1.5 0 1 0 3.0 0a1.5 1.5 0 1 0 -3.0 0M1215.9 1006.4a1.5 1.5 0 1 0 3.0 0a1.5 1.5 0 1 0 -3.0 0M1216.7 1006.1a1.5 1.5 0 1 0 3.0 0a1.5 1.5 0 1 0 -3.0 0M1217.2 1005.3a1.5 1.5 0 1 0 3.0 0a1.5 1.5 0 1 0 -3.0 0M1217.7 1004.9a1.5 1.5 0 1 0 3.0 0a1.5 1.5 0 1 0 -3.0 0M1218.0 1003.7a1.5 1.5 0 1 0 3.0 0a1.5 1.5 0 1 0 -3.0 0M1219.0 1003.0a1.5 1.5 0 1 0 3.0 0a1.5 1.5 0 1 0 -3.0 0M1219.3 1002.4a1.5 1.5 0 1 0 3.0 0a1.5 1.5 0 1 0 -3.0 0M1219.8 1001.9a1.5 1.5 0 1 0 3.0 0a1.5 1.5 0 1 0 -3.0 0M1220.3 1001.0a1.5 1.5 0 1 0 3.0 0a1.5 1.5 0 1 0 -3.0 0M1221.3 1001.6a1.5 1.5 0 1 0 3.0 0a1.5 1.5 0 1 0 -3.0 0M1222.0 1002.3a1.5 1.5 0 1 0 3.0 0a1.5 1.5 0 1 0 -3.0 0M1222.7 1002.8a1.5 1.5 0 1 0 3.0 0a1.5 1.5 0 1 0 -3.0 0M1223.2 1003.8a1.5 1.5 0 1 0 3.0 0a1.5 1.5 0 1 0 -3.0 0M1224.1 1004.5a1.5 1.5 0 1 0 3.0 0a1.5 1.5 0 1 0 -3.0 0M1224.4 1005.2a1.5 1.5 0 1 0 3.0 0a1.5 1.5 0 1 0 -3.0 0M1225.6 1005.7a1.5 1.5 0 1 0 3.0 0a1.5 1.5 0 1 0 -3.0 0M1225.9 1006.7a1.5 1.5 0 1 0 3.0 0a1.5 1.5 0 1 0 -3.0 0M1226.6 1007.0a1.5 1.5 0 1 0 3.0 0a1.5 1.5 0 1 0 -3.0 0M1227.2 1008.1a1.5 1.5 0 1 0 3.0 0a1.5 1.5 0 1 0 -3.0 0M1228.4 1007.5a1.5 1.5 0 1 0 3.0 0a1.5 1.5 0 1 0 -3.0 0M1228.8 1006.8a1.5 1.5 0 1 0 3.0 0a1.5 1.5 0 1 0 -3.0 0M1229.6 1005.6a1.5 1.5 0 1 0 3.0 0a1.5 1.5 0 1 0 -3.0 0M1229.9 1005.4a1.5 1.5 0 1 0 3.0 0a1.5 1.5 0 1 0 -3.0 0M1230.9 1004.4a1.5 1.5 0 1 0 3.0 0a1.5 1.5 0 1 0 -3.0 0M1231.3 1003.4a1.5 1.5 0 1 0 3.0 0a1.5 1.5 0 1 0 -3.0 0M1231.6 1002.6a1.5 1.5 0 1 0 3.0 0a1.5 1.5 0 1 0 -3.0 0M1232.3 1002.1a1.5 1.5 0 1 0 3.0 0a1.5 1.5 0 1 0 -3.0 0M1233.1 1002.9a1.5 1.5 0 1 0 3.0 0a1.5 1.5 0 1 0 -3.0 0M1233.7 1003.1a1.5 1.5 0 1 0 3.0 0a1.5 1.5 0 1 0 -3.0 0M1233.8 1003.9a1.5 1.5 0 1 0 3.0 0a1.5 1.5 0 1 0 -3.0 0M1234.4 1005.3a1.5 1.5 0 1 0 3.0 0a1.5 1.5 0 1 0 -3.0 0M1235.0 1006.0a1.5 1.5 0 1 0 3.0 0a1.5 1.5 0 1 0 -3.0 0M1235.3 1006.4a1.5 1.5 0 1 0 3.0 0a1.5 1.5 0 1 0 -3.0 0M1236.2 1007.1a1.5 1.5 0 1 0 3.0 0a1.5 1.5 0 1 0 -3.0 0M1236.6 1008.1a1.5 1.5 0 1 0 3.0 0a1.5 1.5 0 1 0 -3.0 0M1236.9 1006.7a1.5 1.5 0 1 0 3.0 0a1.5 1.5 0 1 0 -3.0 0M1237.0 1006.6a1.5 1.5 0 1 0 3.0 0a1.5 1.5 0 1 0 -3.0 0M1237.3 1005.1a1.5 1.5 0 1 0 3.0 0a1.5 1.5 0 1 0 -3.0 0M1237.9 1004.5a1.5 1.5 0 1 0 3.0 0a1.5 1.5 0 1 0 -3.0 0M1238.0 1003.5a1.5 1.5 0 1 0 3.0 0a1.5 1.5 0 1 0 -3.0 0M1238.3 1002.5a1.5 1.5 0 1 0 3.0 0a1.5 1.5 0 1 0 -3.0 0M1238.4 1001.5a1.5 1.5 0 1 0 3.0 0a1.5 1.5 0 1 0 -3.0 0M1239.0 1002.5a1.5 1.5 0 1 0 3.0 0a1.5 1.5 0 1 0 -3.0 0M1239.5 1002.7a1.5 1.5 0 1 0 3.0 0a1.5 1.5 0 1 0 -3.0 0M1240.4 1004.1a1.5 1.5 0 1 0 3.0 0a1.5 1.5 0 1 0 -3.0 0M1241.2 1004.5a1.5 1.5 0 1 0 3.0 0a1.5 1.5 0 1 0 -3.0 0M1241.8 1004.8a1.5 1.5 0 1 0 3.0 0a1.5 1.5 0 1 0 -3.0 0M1242.2 1005.3a1.5 1.5 0 1 0 3.0 0a1.5 1.5 0 1 0 -3.0 0M1242.9 1006.0a1.5 1.5 0 1 0 3.0 0a1.5 1.5 0 1 0 -3.0 0M1243.2 1006.7a1.5 1.5 0 1 0 3.0 0a1.5 1.5 0 1 0 -3.0 0M1244.0 1007.7a1.5 1.5 0 1 0 3.0 0a1.5 1.5 0 1 0 -3.0 0M1244.4 1006.6a1.5 1.5 0 1 0 3.0 0a1.5 1.5 0 1 0 -3.0 0M1244.8 1006.4a1.5 1.5 0 1 0 3.0 0a1.5 1.5 0 1 0 -3.0 0M1245.8 1005.6a1.5 1.5 0 1 0 3.0 0a1.5 1.5 0 1 0 -3.0 0M1245.7 1004.2a1.5 1.5 0 1 0 3.0 0a1.5 1.5 0 1 0 -3.0 0M1246.6 1003.2a1.5 1.5 0 1 0 3.0 0a1.5 1.5 0 1 0 -3.0 0M1246.7 1002.9a1.5 1.5 0 1 0 3.0 0a1.5 1.5 0 1 0 -3.0 0M1247.6 1002.4a1.5 1.5 0 1 0 3.0 0a1.5 1.5 0 1 0 -3.0 0M1248.0 1001.1a1.5 1.5 0 1 0 3.0 0a1.5 1.5 0 1 0 -3.0 0M1248.4 1002.3a1.5 1.5 0 1 0 3.0 0a1.5 1.5 0 1 0 -3.0 0M1249.0 1003.2a1.5 1.5 0 1 0 3.0 0a1.5 1.5 0 1 0 -3.0 0M1249.4 1003.8a1.5 1.5 0 1 0 3.0 0a1.5 1.5 0 1 0 -3.0 0M1249.8 1004.3a1.5 1.5 0 1 0 3.0 0a1.5 1.5 0 1 0 -3.0 0M1250.2 1005.5a1.5 1.5 0 1 0 3.0 0a1.5 1.5 0 1 0 -3.0 0M1250.7 1005.6a1.5 1.5 0 1 0 3.0 0a1.5 1.5 0 1 0 -3.0 0M1251.1 1007.1a1.5 1.5 0 1 0 3.0 0a1.5 1.5 0 1 0 -3.0 0M1251.7 1006.0a1.5 1.5 0 1 0 3.0 0a1.5 1.5 0 1 0 -3.0 0M1252.4 1005.4a1.5 1.5 0 1 0 3.0 0a1.5 1.5 0 1 0 -3.0 0M1252.5 1004.5a1.5 1.5 0 1 0 3.0 0a1.5 1.5 0 1 0 -3.0 0M1253.4 1003.2a1.5 1.5 0 1 0 3.0 0a1.5 1.5 0 1 0 -3.0 0M1253.9 1002.7a1.5 1.5 0 1 0 3.0 0a1.5 1.5 0 1 0 -3.0 0M1254.4 1001.6a1.5 1.5 0 1 0 3.0 0a1.5 1.5 0 1 0 -3.0 0M1254.6 1001.0a1.5 1.5 0 1 0 3.0 0a1.5 1.5 0 1 0 -3.0 0M1255.0 1000.5a1.5 1.5 0 1 0 3.0 0a1.5 1.5 0 1 0 -3.0 0M1255.9 999.6a1.5 1.5 0 1 0 3.0 0a1.5 1.5 0 1 0 -3.0 0M1256.4 998.4a1.5 1.5 0 1 0 3.0 0a1.5 1.5 0 1 0 -3.0 0M1256.6 997.8a1.5 1.5 0 1 0 3.0 0a1.5 1.5 0 1 0 -3.0 0M1257.3 998.9a1.5 1.5 0 1 0 3.0 0a1.5 1.5 0 1 0 -3.0 0M1257.9 999.8a1.5 1.5 0 1 0 3.0 0a1.5 1.5 0 1 0 -3.0 0M1258.1 1000.5a1.5 1.5 0 1 0 3.0 0a1.5 1.5 0 1 0 -3.0 0M1258.8 1001.1a1.5 1.5 0 1 0 3.0 0a1.5 1.5 0 1 0 -3.0 0M1259.2 1002.2a1.5 1.5 0 1 0 3.0 0a1.5 1.5 0 1 0 -3.0 0M1259.7 1002.4a1.5 1.5 0 1 0 3.0 0a1.5 1.5 0 1 0 -3.0 0M1259.7 1003.7a1.5 1.5 0 1 0 3.0 0a1.5 1.5 0 1 0 -3.0 0M1260.7 1004.0a1.5 1.5 0 1 0 3.0 0a1.5 1.5 0 1 0 -3.0 0M1261.1 1005.3a1.5 1.5 0 1 0 3.0 0a1.5 1.5 0 1 0 -3.0 0M1261.2 1005.6a1.5 1.5 0 1 0 3.0 0a1.5 1.5 0 1 0 -3.0 0M1262.3 1005.5a1.5 1.5 0 1 0 3.0 0a1.5 1.5 0 1 0 -3.0 0M1262.8 1005.3a1.5 1.5 0 1 0 3.0 0a1.5 1.5 0 1 0 -3.0 0M1263.6 1004.8a1.5 1.5 0 1 0 3.0 0a1.5 1.5 0 1 0 -3.0 0M1264.8 1003.7a1.5 1.5 0 1 0 3.0 0a1.5 1.5 0 1 0 -3.0 0M1265.5 1003.6a1.5 1.5 0 1 0 3.0 0a1.5 1.5 0 1 0 -3.0 0M1266.4 1003.0a1.5 1.5 0 1 0 3.0 0a1.5 1.5 0 1 0 -3.0 0M1266.9 1002.4a1.5 1.5 0 1 0 3.0 0a1.5 1.5 0 1 0 -3.0 0M1267.9 1002.0a1.5 1.5 0 1 0 3.0 0a1.5 1.5 0 1 0 -3.0 0M1268.8 1001.3a1.5 1.5 0 1 0 3.0 0a1.5 1.5 0 1 0 -3.0 0M1269.5 1006.9a1.5 1.5 0 1 0 3.0 0a1.5 1.5 0 1 0 -3.0 0M1270.4 1007.8a1.5 1.5 0 1 0 3.0 0a1.5 1.5 0 1 0 -3.0 0M1271.1 1007.6a1.5 1.5 0 1 0 3.0 0a1.5 1.5 0 1 0 -3.0 0M1272.0 1007.4a1.5 1.5 0 1 0 3.0 0a1.5 1.5 0 1 0 -3.0 0M1273.1 1007.3a1.5 1.5 0 1 0 3.0 0a1.5 1.5 0 1 0 -3.0 0M1273.9 1006.5a1.5 1.5 0 1 0 3.0 0a1.5 1.5 0 1 0 -3.0 0M1274.4 1006.2a1.5 1.5 0 1 0 3.0 0a1.5 1.5 0 1 0 -3.0 0M1275.6 1005.7a1.5 1.5 0 1 0 3.0 0a1.5 1.5 0 1 0 -3.0 0M1276.0 1005.5a1.5 1.5 0 1 0 3.0 0a1.5 1.5 0 1 0 -3.0 0M1277.0 1005.5a1.5 1.5 0 1 0 3.0 0a1.5 1.5 0 1 0 -3.0 0M1278.1 1004.6a1.5 1.5 0 1 0 3.0 0a1.5 1.5 0 1 0 -3.0 0M1278.9 1004.3a1.5 1.5 0 1 0 3.0 0a1.5 1.5 0 1 0 -3.0 0M1279.8 1004.1a1.5 1.5 0 1 0 3.0 0a1.5 1.5 0 1 0 -3.0 0M1280.3 1004.2a1.5 1.5 0 1 0 3.0 0a1.5 1.5 0 1 0 -3.0 0M1281.4 1004.4a1.5 1.5 0 1 0 3.0 0a1.5 1.5 0 1 0 -3.0 0M1282.4 1004.9a1.5 1.5 0 1 0 3.0 0a1.5 1.5 0 1 0 -3.0 0M1283.3 1004.9a1.5 1.5 0 1 0 3.0 0a1.5 1.5 0 1 0 -3.0 0M1284.5 1005.3a1.5 1.5 0 1 0 3.0 0a1.5 1.5 0 1 0 -3.0 0M1285.0 1005.1a1.5 1.5 0 1 0 3.0 0a1.5 1.5 0 1 0 -3.0 0M1285.8 1006.3a1.5 1.5 0 1 0 3.0 0a1.5 1.5 0 1 0 -3.0 0M1286.5 1006.9a1.5 1.5 0 1 0 3.0 0a1.5 1.5 0 1 0 -3.0 0M1287.6 1007.3a1.5 1.5 0 1 0 3.0 0a1.5 1.5 0 1 0 -3.0 0M1287.9 1007.9a1.5 1.5 0 1 0 3.0 0a1.5 1.5 0 1 0 -3.0 0M1288.6 1007.3a1.5 1.5 0 1 0 3.0 0a1.5 1.5 0 1 0 -3.0 0M1289.2 1006.2a1.5 1.5 0 1 0 3.0 0a1.5 1.5 0 1 0 -3.0 0M1289.9 1005.4a1.5 1.5 0 1 0 3.0 0a1.5 1.5 0 1 0 -3.0 0M1290.2 1004.6a1.5 1.5 0 1 0 3.0 0a1.5 1.5 0 1 0 -3.0 0M1291.0 1003.8a1.5 1.5 0 1 0 3.0 0a1.5 1.5 0 1 0 -3.0 0M1291.8 1002.7a1.5 1.5 0 1 0 3.0 0a1.5 1.5 0 1 0 -3.0 0M1292.1 1001.9a1.5 1.5 0 1 0 3.0 0a1.5 1.5 0 1 0 -3.0 0M1293.5 1002.4a1.5 1.5 0 1 0 3.0 0a1.5 1.5 0 1 0 -3.0 0M1294.2 1003.1a1.5 1.5 0 1 0 3.0 0a1.5 1.5 0 1 0 -3.0 0M1295.4 1003.3a1.5 1.5 0 1 0 3.0 0a1.5 1.5 0 1 0 -3.0 0M1296.2 1003.1a1.5 1.5 0 1 0 3.0 0a1.5 1.5 0 1 0 -3.0 0M1297.1 1003.4a1.5 1.5 0 1 0 3.0 0a1.5 1.5 0 1 0 -3.0 0M1287.9 999.3a1.5 1.5 0 1 0 3.0 0a1.5 1.5 0 1 0 -3.0 0M1300.1 1000.2a1.5 1.5 0 1 0 3.0 0a1.5 1.5 0 1 0 -3.0 0M1301.3 999.8a1.5 1.5 0 1 0 3.0 0a1.5 1.5 0 1 0 -3.0 0" fill="#000" clip-path="url(#c4)"/>
<path d="M191.6 959.6L195.4 959.6L193.5 955.6Z" fill="#ff0000"/>
<path d="M677.6 959.6L681.4 959.6L679.5 955.6Z" fill="#ff0000"/>
<path d="M721.4 959.6L725.2 959.6L723.3 955.6Z" fill="#ff0000"/>
<path d="M1295.1 959.6L1298.9 959.6L1297.0 955.6Z" fill="#ff0000"/>
<line x1="105.50" y1="763.50" x2="1485.50" y2="763.50" stroke="#b0b0b0" stroke-width="1.11" stroke-dasharray="1.11 1.83"/>
<line x1="105.50" y1="802.50" x2="1485.50" y2="802.50" stroke="#b0b0b0" stroke-width="1.11" stroke-dasharray="1.11 1.83"/>
<line x1="105.50" y1="840.50" x2="1485.50" y2="840.50" stroke="#b0b0b0" stroke-width="1.11" stroke-dasharray="1.11 1.83"/>
<line x1="105.50" y1="878.50" x2="1485.50" y2="878.50" stroke="#b0b0b0" stroke-width="1.11" stroke-dasharray="1.11 1.83"/>
<line x1="105.50" y1="916.50" x2="1485.50" y2="916.50" stroke="#b0b0b0" stroke-width="1.11" stroke-dasharray="1.11 1.83"/>
<path d="M178.9 840.5L182.5 838.7L182.5 842.3Z" fill="#000"/>
<path d="M190.9 840.5L194.5 838.7L194.5 842.3Z" fill="#000"/>
<path d="M677.4 840.5L681.0 838.7L681.0 842.3Z" fill="#000"/>
<path d="M721.2 840.5L724.8 838.7L724.8 842.3Z" fill="#000"/>
<path d="M1294.9 840.5L1298.5 838.7L1298.5 842.3Z" fill="#000"/>
<path d="M190.9 878.5L194.5 876.7L194.5 880.3Z" fill="#000"/>
<path d="M677.4 878.5L681.0 876.7L681.0 880.3Z" fill="#000"/>
<path d="M721.2 878.5L724.8 876.7L724.8 880.3Z" fill="#000"/>
<path d="M1294.9 878.5L1298.5 876.7L1298.5 880.3Z" fill="#000"/>
<line x1="105.50" y1="957.50" x2="1485.50" y2="957.50" stroke="#b0b0b0" stroke-width="1.11" stroke-dasharray="1.11 1.83"/>
<line x1="105.50" y1="983.50" x2="1485.50" y2="983.50" stroke="#b0b0b0" stroke-width="1.11" stroke-dasharray="1.11 1.83"/>
<line x1="105.50" y1="1009.50" x2="1485.50" y2="1009.50" stroke="#b0b0b0" stroke-width="1.11" stroke-dasharray="1.11 1.83"/>
<line x1="162.00" y1="726.70" x2="162.00" y2="1011.50" stroke="#800080" stroke-width="2.08" stroke-dasharray="2.08 3.44"/>
<line x1="1303.00" y1="726.70" x2="1303.00" y2="1011.50" stroke="#800080" stroke-width="2.08" stroke-dasharray="2.08 3.44"/>
<line x1="105.50" y1="954.50" x2="1485.50" y2="954.50" stroke="#000" stroke-width="1.11" />
<rect x="105.5" y="725.5" width="1380.0" height="286.0" fill="none" stroke="#000" stroke-width="1.11"/>
<line x1="100.64" y1="763.50" x2="105.50" y2="763.50" stroke="#000" stroke-width="1.11" />
<text x="16.02" y="768.90" style="font-size:14.717px;" textLength="79.09" lengthAdjust="spacingAndGlyphs" fill="#000" >not Kalman</text>
<line x1="100.64" y1="802.50" x2="105.50" y2="802.50" stroke="#000" stroke-width="1.11" />
<text x="32.96" y="807.90" style="font-size:14.717px;" textLength="62.26" lengthAdjust="spacingAndGlyphs" fill="#000" >not track</text>
<line x1="100.64" y1="840.50" x2="105.50" y2="840.50" stroke="#000" stroke-width="1.11" />
<text x="37.51" y="845.90" style="font-size:14.717px;" textLength="57.70" lengthAdjust="spacingAndGlyphs" fill="#000" >Ion. rad.</text>
<line x1="100.64" y1="878.50" x2="105.50" y2="878.50" stroke="#000" stroke-width="1.11" />
<text x="51.51" y="883.90" style="font-size:14.717px;" textLength="43.26" lengthAdjust="spacingAndGlyphs" fill="#000" >dr &gt; 5</text>
<line x1="100.64" y1="916.50" x2="105.50" y2="916.50" stroke="#000" stroke-width="1.11" />
<text x="14.47" y="921.90" style="font-size:14.717px;" textLength="81.27" lengthAdjust="spacingAndGlyphs" fill="#000" >OBS not OK</text>
<line x1="100.64" y1="957.50" x2="105.50" y2="957.50" stroke="#000" stroke-width="1.11" />
<text x="77.97" y="962.80" style="font-size:14.717px;" textLength="16.98" lengthAdjust="spacingAndGlyphs" fill="#000" >10</text>
<line x1="100.64" y1="983.50" x2="105.50" y2="983.50" stroke="#000" stroke-width="1.11" />
<text x="86.96" y="988.80" style="font-size:14.717px;" textLength="7.68" lengthAdjust="spacingAndGlyphs" fill="#000" >5</text>
<line x1="100.64" y1="1009.50" x2="105.50" y2="1009.50" stroke="#000" stroke-width="1.11" />
<text x="86.79" y="1014.80" style="font-size:14.717px;" textLength="8.14" lengthAdjust="spacingAndGlyphs" fill="#000" >0</text>
<line x1="102.72" y1="970.50" x2="105.50" y2="970.50" stroke="#000" stroke-width="0.83" />
<line x1="102.72" y1="996.50" x2="105.50" y2="996.50" stroke="#000" stroke-width="0.83" />
<line x1="162.50" y1="1011.50" x2="162.50" y2="1016.36" stroke="#000" stroke-width="1.11" />
<text x="158.33" y="1032.00" style="font-size:14.717px;" textLength="8.14" lengthAdjust="spacingAndGlyphs" fill="#000" >0</text>
<line x1="387.50" y1="1011.50" x2="387.50" y2="1016.36" stroke="#000" stroke-width="1.11" />
<text x="375.04" y="1032.00" style="font-size:14.717px;" textLength="25.74" lengthAdjust="spacingAndGlyphs" fill="#000" >500</text>
<line x1="613.50" y1="1011.50" x2="613.50" y2="1016.36" stroke="#000" stroke-width="1.11" />
<text x="595.94" y="1032.00" style="font-size:14.717px;" textLength="34.70" lengthAdjust="spacingAndGlyphs" fill="#000" >1000</text>
<line x1="838.50" y1="1011.50" x2="838.50" y2="1016.36" stroke="#000" stroke-width="1.11" />
<text x="821.38" y="1032.00" style="font-size:14.717px;" textLength="34.70" lengthAdjust="spacingAndGlyphs" fill="#000" >1500</text>
<line x1="1064.50" y1="1011.50" x2="1064.50" y2="1016.36" stroke="#000" stroke-width="1.11" />
<text x="1046.72" y="1032.00" style="font-size:14.717px;" textLength="34.80" lengthAdjust="spacingAndGlyphs" fill="#000" >2000</text>
<line x1="1289.50" y1="1011.50" x2="1289.50" y2="1016.36" stroke="#000" stroke-width="1.11" />
<text x="1272.16" y="1032.00" style="font-size:14.717px;" textLength="34.80" lengthAdjust="spacingAndGlyphs" fill="#000" >2500</text>
<g transform="translate(68.5,983.4) rotate(-90)">
<text x="-7.19" y="0.00" style="font-size:14.717px;" textLength="14.73" lengthAdjust="spacingAndGlyphs" fill="#000" >dr</text>
</g>
</svg></body></html>
